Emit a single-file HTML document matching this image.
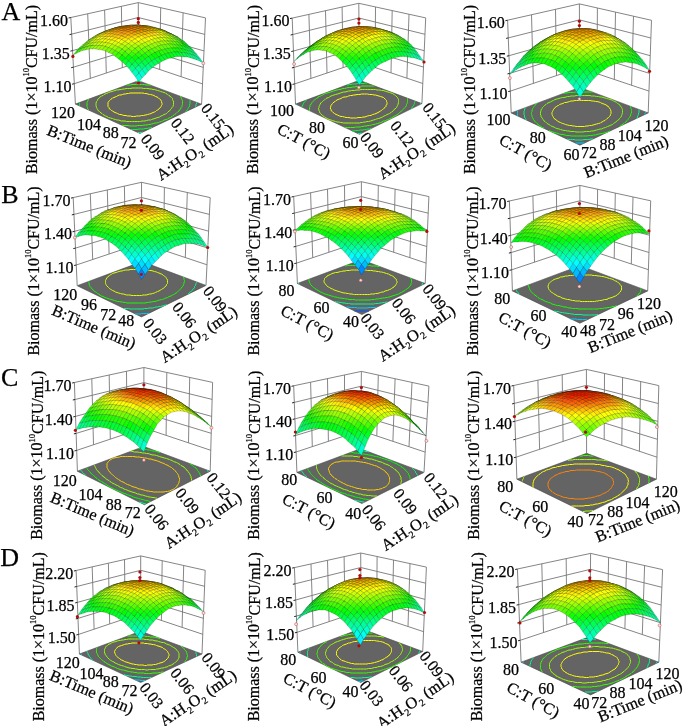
<!DOCTYPE html><html><head><meta charset="utf-8"><style>
html,body{margin:0;padding:0;background:#fff;}
svg{display:block;filter:blur(0.4px);}
text{font-family:"Liberation Serif",serif;fill:#000;stroke:#000;stroke-width:0.25px;}
</style></head><body>
<svg width="685" height="726" viewBox="0 0 685 726">
<rect width="685" height="726" fill="#fff"/>
<!-- A1 -->
<g stroke="#777" stroke-width="0.9" fill="none"><polyline points="74.3,83.7 138.4,62.3 202.5,83.9"/><polyline points="73.4,67.2 138.3,47.4 203.3,67.4"/><polyline points="72.6,50.6 138.3,32.5 204,50.9"/><polyline points="71.7,34.1 138.3,17.5 204.8,34.4"/><polyline points="70.8,17.5 138.3,2.6 205.5,17.9"/><line x1="122.3" y1="67.7" x2="121.4" y2="6.3"/><line x1="106.3" y1="73" x2="104.6" y2="10"/><line x1="90.3" y1="78.4" x2="87.7" y2="13.8"/><line x1="159.7" y1="69.5" x2="160.7" y2="7.7"/><line x1="181.1" y1="76.7" x2="183.1" y2="12.8"/><line x1="75.4" y1="104.1" x2="70.8" y2="17.5"/><line x1="138.4" y1="80.7" x2="138.3" y2="2.6"/><line x1="201.6" y1="104.2" x2="205.5" y2="17.9"/></g>
<g stroke="#222" stroke-width="1"><line x1="72.1" y1="84.2" x2="74.3" y2="83.7"/><line x1="71.2" y1="67.7" x2="73.4" y2="67.2"/><line x1="70.4" y1="51.1" x2="72.6" y2="50.6"/><line x1="69.5" y1="34.6" x2="71.7" y2="34.1"/><line x1="68.6" y1="18" x2="70.8" y2="17.5"/></g>
<polygon points="138.4,80.7 75.4,104.1 139.9,133.4 201.6,104.2" fill="#646464" stroke="#444" stroke-width="0.6"/>
<g transform="scale(.5)" fill="none" stroke-width="2.0"><path d="M302 227l4 -2 3 -1 2 -1 2 -2 2 -1 2 -1 1 -2 2 -1 1 -1 1 -2 1 -1 0 -1 1 -2 0 -1 0 -1 0 -1 -1 -2 0 -1 -1 -1 0 -2 -1 -1 -2 -1 -2 -2 -1 -1 -2 -1 -3 -1 -3 -2 -3 -1 -4 -1 -2 0 -3 -1 -4 -1 -3 0 -3 -1 -3 0 -3 0 -4 0 -2 0 -4 0 -2 0 -4 0 -4 0 -3 1 -3 0 -3 1 -3 0 -3 1 -3 1 -3 0 -3 1 -3 2 -3 1 -2 1 -3 1 -1 1 -3 2 -1 1 -1 1 -1 1 -1 2 -1 1 0 1 0 2 0 1 0 1 0 2 0 1 1 1 1 1 0 2 2 1 1 1 2 2 2 1 3 2 2 1 3 1 2 1 4 2 3 0 3 1 3 1 4 0 3 1 3 0 3 0 3 1 3 0 3 0 3 -1 4 0 3 0 3 -1 4 0 3 -1 2 0 3 -1 4 -1 3 -1 0 0" stroke="#ffff00"/><path d="M312 236l4 -1 3 -1 3 -2 3 -1 3 -2 3 -1 2 -1 2 -2 1 -1 2 -2 2 -1 1 -2 1 -1 1 -1 1 -2 1 -1 1 -1 0 -1 1 -2 0 -1 0 -1 0 -2 0 -1 0 -1 0 -2 -1 -1 0 -1 -1 -1 0 -2 -1 -1 -1 -1 -2 -1 -1 -2 -2 -1 -1 -1 -2 -1 -3 -2 -1 -1 -3 -1 -3 -1 -4 -1 -2 -1 -4 -1 -3 -1 -3 -1 -3 0 -3 -1 -3 0 -4 -1 -3 0 -2 0 -4 0 -4 -1 -2 0 -4 0 -3 0 -3 0 -3 0 -4 0 -2 1 -3 0 -4 0 -3 0 -3 1 -3 0 -3 1 -3 0 -4 1 -3 0 -3 1 -3 1 -3 1 -4 1 -3 1 -1 1 -3 1 -3 1 -3 2 -1 1 -3 1 -1 1 -2 1 -1 1 -1 2 -2 1 -1 1 0 2 -1 1 -1 1 0 1 -1 2 0 1 0 1 0 1 0 2 0 1 1 2 0 1 1 1 0 1 1 2 1 1 1 2 2 1 1 1 2 2 2 1 2 2 2 1 3 2 3 1 3 2 4 1 4 1 2 1 4 1 3 1 3 0 3 1 3 1 3 0 4 0 3 1 3 0 3 0 4 0 2 0 4 0 3 0 3 0 4 0 2 0 3 -1 3 0 3 0 3 -1 4 -1 4 0 2 -1 3 -1 4 -1 2 -1" stroke="#99ff00"/><path d="M301 170l-3 0 -3 0 -3 0 -3 -1 -4 0 -2 0 -4 0 -3 0 -3 0 -3 0 -4 0 -2 0 -3 1 -4 0 -3 0 -1 0" stroke="#33ff00"/><path d="M177 198l-1 2 0 1 -1 1 0 1 -1 2 0 1 0 1 0 1 0 2 0 1 0 2 0 1 1 1 0 2 1 1 1 1 0 1" stroke="#33ff00"/><path d="M244 250l2 1 4 0 4 0 2 0 4 1 3 0 3 0 3 0 3 0 3 -1 4 0 3 0 3 0 3 -1 3 0 3 0 3 -1 3 0 3 -1 4 -1 3 -1 3 0 4 -1 2 -1 4 -1 2 -1 3 -2 4 -1 3 -1 3 -2 3 -1 3 -2 1 -1 3 -2 1 -1 3 -2 1 -1 1 -1 2 -2 2 -1 1 -2 1 -1 1 -1 1 -2 0 -1 1 -1 1 -1 0 -2 1 -2 0 -1 0 -1 0 -1 0 -2 0 -1 0 -1 0 -1 -1 -2 0 -1 -1 -1 -1 -1 0 -2 -1 -1 -1 -1" stroke="#33ff00"/><path d="M282 163l-4 0 -3 0 -3 0" stroke="#00ff33"/><path d="M159 205l0 2 0 1 0 1 0 2 0 1" stroke="#00ff33"/><path d="M371 223l2 -1 1 -2 1 -1 1 -1 0 -1 1 -2 1 -1 1 -2 0 -1 0 -1 1 -2 0 -1 0 -1 0 -2 0 -1 0 -1 0 -1 0 -1" stroke="#00ff33"/><path d="M262 259l3 0 3 0 4 0 2 0 4 -1 3 0 3 0 3 0 3 -1 4 0 3 -1 3 0 3 -1 1 0" stroke="#00ff33"/><path d="M391 214l0 -1 1 -1 0 -2 0 -1 1 -1 0 -2 0 -1 0 0" stroke="#00ff99"/><path d="M276 265l3 0 4 0 2 -1" stroke="#00ff99"/></g>
<g transform="scale(.5)" stroke="#000" stroke-opacity="0.42" stroke-width="0.8" stroke-linejoin="round"><path fill="#0f8" d="M277 70l6-2-6-3-7 3z"/><path fill="#0f6" d="M283 68l7-3-7-2-6 2zM270 68l7-3-7-3-7 3z"/><path fill="#0f4" d="M290 65l6-1-6-3-7 2z"/><path fill="#0f3" d="M263 65l7-3-7-2-6 3zM277 65l6-2-6-3-7 2z"/><path fill="#0f1" d="M296 64l7-1-7-3-6 1zM257 63l6-3-6-1-7 3zM283 63l7-2-7-3-6 2z"/><path fill="#0f0" d="M270 62l7-2-7-2-7 2zM303 63l7-1-7-3-7 1z"/><path fill="#2f0" d="M250 62l7-3-7-1-6 3zM290 61l6-1-6-3-7 1zM263 60l7-2-7-1-6 2zM277 60l6-2-6-2-7 2zM310 62l6 0-6-3-7 0z"/><path fill="#4f0" d="M244 61l6-3-7 0-6 3z"/><path fill="#3f0" d="M296 60l7-1-7-3-6 1z"/><path fill="#4f0" d="M257 59l6-2-6-1-7 2zM283 58l7-1-7-2-6 1z"/><path fill="#5f0" d="M270 58l7-2-7-1-7 2z"/><path fill="#3f0" d="M316 62l7 1-7-4-6 0z"/><path fill="#5f0" d="M237 61l6-3-6 0-7 3zM303 59l7 0-7-3-7 0z"/><path fill="#7f0" d="M250 58l7-2-7-1-7 3z"/><path fill="#6f0" d="M290 57l6-1-6-2-7 1z"/><path fill="#7f0" d="M263 57l7-2-7-1-6 2zM277 56l6-1-6-2-7 2z"/><path fill="#4f0" d="M323 63l6 1-6-3-7-2z"/><path fill="#7f0" d="M230 61l7-3-7 0-6 3z"/><path fill="#6f0" d="M310 59l6 0-6-2-7-1z"/><path fill="#8f0" d="M243 58l7-3-7 0-6 3zM296 56l7 0-6-2-7 0z"/><path fill="#9f0" d="M257 56l6-2-6-1-7 2zM283 55l7-1-7-1-6 0z"/><path fill="#af0" d="M270 55l7-2-7-1-7 2z"/><path fill="#4f0" d="M329 64l7 2-6-4-7-1z"/><path fill="#8f0" d="M224 61l6-3-7 1-6 3z"/><path fill="#7f0" d="M316 59l7 2-7-3-6-1z"/><path fill="#af0" d="M237 58l6-3-6 0-7 3z"/><path fill="#9f0" d="M303 56l7 1-7-2-6-1z"/><path fill="#bf0" d="M250 55l7-2-7 0-7 2zM290 54l7 0-7-2-7 1z"/><path fill="#cf0" d="M263 54l7-2-7 0-6 1zM277 53l6 0-6-2-7 1z"/><path fill="#4f0" d="M336 66l7 2-7-3-6-3z"/><path fill="#9f0" d="M217 62l6-3-6 2-7 3z"/><path fill="#8f0" d="M323 61l7 1-7-3-7-1z"/><path fill="#bf0" d="M230 58l7-3-7 1-7 3z"/><path fill="#af0" d="M310 57l6 1-6-2-7-1z"/><path fill="#df0" d="M243 55l7-2-7 0-6 2z"/><path fill="#cf0" d="M297 54l6 1-6-2-7-1z"/><path fill="#df0" d="M257 53l6-1-6-1-7 2zM283 53l7-1-7-1-6 0z"/><path fill="#ef0" d="M270 52l7-1-7 0-7 1z"/><path fill="#4f0" d="M343 68l6 3-6-3-7-3z"/><path fill="#9f0" d="M210 64l7-3-7 2-6 3z"/><path fill="#8f0" d="M330 62l6 3-6-3-7-3z"/><path fill="#cf0" d="M223 59l7-3-7 2-6 3z"/><path fill="#af0" d="M316 58l7 1-7-2-6-1z"/><path fill="#ef0" d="M237 55l6-2-6 1-7 2z"/><path fill="#df0" d="M303 55l7 1-7-2-6-1z"/><path fill="#3f0" d="M349 71l7 3-7-3-6-3z"/><path fill="#ff0" d="M250 53l7-2-7 1-7 1z"/><path fill="#ef0" d="M290 52l7 1-7-2-7 0z"/><path fill="#ff0" d="M263 52l7-1-7 0-6 0zM277 51l6 0-6-1-7 1z"/><path fill="#af0" d="M204 66l6-3-6 2-7 4z"/><path fill="#7f0" d="M336 65l7 3-7-3-6-3z"/><path fill="#cf0" d="M217 61l6-3-6 2-7 3z"/><path fill="#af0" d="M323 59l7 3-7-3-7-2z"/><path fill="#2f0" d="M356 74l6 5-6-4-7-4z"/><path fill="#ef0" d="M230 56l7-2-7 2-7 2z"/><path fill="#df0" d="M310 56l6 1-6-2-7-1z"/><path fill="#fe0" d="M243 53l7-1-7 1-6 1z"/><path fill="#ff0" d="M297 53l6 1-6-2-7-1z"/><path fill="#fd0" d="M257 51l6 0-6 0-7 1z"/><path fill="#9f0" d="M197 69l7-4-7 3-6 4z"/><path fill="#fe0" d="M283 51l7 0-7 0-6-1z"/><path fill="#fd0" d="M270 51l7-1-7 0-7 1z"/><path fill="#6f0" d="M343 68l6 3-6-3-7-3z"/><path fill="#cf0" d="M210 63l7-3-7 3-6 2z"/><path fill="#af0" d="M330 62l6 3-6-3-7-3z"/><path fill="#1f0" d="M362 79l7 4-7-3-6-5z"/><path fill="#ff0" d="M223 58l7-2-7 2-6 2z"/><path fill="#df0" d="M316 57l7 2-7-1-6-3z"/><path fill="#9f0" d="M191 72l6-4-7 4-6 4z"/><path fill="#fd0" d="M237 54l6-1-6 1-7 2z"/><path fill="#fe0" d="M303 54l7 1-7-1-6-2z"/><path fill="#5f0" d="M349 71l7 4-7-3-6-4z"/><path fill="#fc0" d="M250 52l7-1-7 1-7 1z"/><path fill="#fd0" d="M290 51l7 1-7 0-7-1z"/><path fill="#fb0" d="M263 51l7-1-7 0-6 1z"/><path fill="#fc0" d="M277 50l6 1-6-1-7 0z"/><path fill="#0f1" d="M369 83l6 6-6-3-7-6z"/><path fill="#cf0" d="M204 65l6-2-7 3-6 2z"/><path fill="#9f0" d="M336 65l7 3-7-2-6-4z"/><path fill="#ff0" d="M217 60l6-2-6 2-7 3z"/><path fill="#df0" d="M323 59l7 3-7-2-7-2z"/><path fill="#8f0" d="M184 76l6-4-6 4-7 4z"/><path fill="#4f0" d="M356 75l6 5-6-3-7-5z"/><path fill="#fd0" d="M230 56l7-2-7 2-7 2z"/><path fill="#fe0" d="M310 55l6 3-6-2-7-2z"/><path fill="#0f3" d="M375 89l7 6-7-3-6-6z"/><path fill="#fb0" d="M243 53l7-1-7 1-6 1z"/><path fill="#fc0" d="M297 52l6 2-6-1-7-1z"/><path fill="#fa0" d="M257 51l6-1-7 1-6 1z"/><path fill="#cf0" d="M197 68l6-2-6 3-7 3z"/><path fill="#fb0" d="M283 51l7 1-7-1-6-1z"/><path fill="#8f0" d="M343 68l6 4-6-2-7-4z"/><path fill="#fa0" d="M270 50l7 0-7 1-7-1z"/><path fill="#ff0" d="M210 63l7-3-7 3-7 3z"/><path fill="#2f0" d="M362 80l7 6-7-3-6-6z"/><path fill="#cf0" d="M330 62l6 4-6-2-7-4z"/><path fill="#7f0" d="M177 80l7-4-7 5-6 4z"/><path fill="#0f5" d="M382 95l6 7-6-4-7-6z"/><path fill="#fd0" d="M223 58l7-2-7 3-6 1z"/><path fill="#ff0" d="M316 58l7 2-7-1-6-3z"/><path fill="#7f0" d="M349 72l7 5-7-2-6-5z"/><path fill="#bf0" d="M190 72l7-3-7 5-6 2z"/><path fill="#fb0" d="M237 54l6-1-7 2-6 1z"/><path fill="#fc0" d="M303 54l7 2-7-1-6-2z"/><path fill="#fa0" d="M250 52l6-1-6 2-7 0z"/><path fill="#fb0" d="M290 52l7 1-7 0-7-2z"/><path fill="#f90" d="M263 50l7 1-7 1-7-1z"/><path fill="#fa0" d="M277 50l6 1-7 1-6-1z"/><path fill="#0f0" d="M369 86l6 6-6-3-7-6z"/><path fill="#6f0" d="M171 85l6-4-6 6-6 3z"/><path fill="#0f7" d="M388 102l6 7-6-3-6-8z"/><path fill="#bf0" d="M336 66l7 4-7-2-6-4z"/><path fill="#ef0" d="M203 66l7-3-7 4-6 2zM323 60l7 4-7-2-7-3z"/><path fill="#fd0" d="M217 60l6-1-6 3-7 1z"/><path fill="#5f0" d="M356 77l6 6-6-3-7-5z"/><path fill="#af0" d="M184 76l6-2-6 4-7 3z"/><path fill="#fd0" d="M310 56l6 3-6-1-7-3z"/><path fill="#fb0" d="M230 56l6-1-6 3-7 1z"/><path fill="#0f2" d="M375 92l7 6-7-2-6-7z"/><path fill="#0f9" d="M394 109l7 9-7-4-6-8z"/><path fill="#5f0" d="M165 90l6-3-6 6-7 3z"/><path fill="#fb0" d="M297 53l6 2-6 0-7-2z"/><path fill="#f90" d="M243 53l7 0-7 2-7 0z"/><path fill="#9f0" d="M343 70l6 5-6-2-7-5z"/><path fill="#df0" d="M197 69l6-2-6 4-7 3z"/><path fill="#f90" d="M283 51l7 2-7 0-7-1zM256 51l7 1-7 1-6 0zM270 51l6 1-6 0-7 0z"/><path fill="#2f0" d="M362 83l7 6-6-3-7-6z"/><path fill="#df0" d="M330 64l6 4-6-1-7-5z"/><path fill="#0fb" d="M401 118l6 8-6-3-7-9z"/><path fill="#9f0" d="M177 81l7-3-7 6-6 3z"/><path fill="#fe0" d="M210 63l7-1-7 3-7 2z"/><path fill="#0f5" d="M382 98l6 8-6-3-7-7z"/><path fill="#3f0" d="M158 96l7-3-7 6-6 4z"/><path fill="#fe0" d="M316 59l7 3-7 0-6-4z"/><path fill="#fb0" d="M223 59l7-1-7 3-6 1z"/><path fill="#7f0" d="M349 75l7 5-7-2-6-5z"/><path fill="#cf0" d="M190 74l7-3-7 5-6 2z"/><path fill="#fb0" d="M303 55l7 3-7 0-6-3z"/><path fill="#f90" d="M236 55l7 0-7 2-6 1zM290 53l7 2-7 0-7-2z"/><path fill="#0f0" d="M369 89l6 7-6-3-6-7z"/><path fill="#f80" d="M250 53l6 0-6 2-7 0z"/><path fill="#0f7" d="M388 106l6 8-6-3-6-8z"/><path fill="#f80" d="M276 52l7 1-7 1-6-2zM263 52l7 0-7 2-7-1z"/><path fill="#7f0" d="M171 87l6-3-6 6-6 3z"/><path fill="#bf0" d="M336 68l7 5-7-2-6-4z"/><path fill="#ff0" d="M203 67l7-2-7 5-6 1z"/><path fill="#2f0" d="M152 103l6-4-6 8-6 3z"/><path fill="#ff0" d="M323 62l7 5-7-1-7-4z"/><path fill="#5f0" d="M356 80l7 6-7-2-7-6z"/><path fill="#fc0" d="M217 62l6-1-6 3-7 1z"/><path fill="#bf0" d="M184 78l6-2-6 5-7 3z"/><path fill="#0fa" d="M394 114l7 9-7-3-6-9z"/><path fill="#0f3" d="M375 96l7 7-7-2-6-8z"/><path fill="#fc0" d="M310 58l6 4-6-1-7-3z"/><path fill="#fa0" d="M230 58l6-1-6 3-7 1z"/><path fill="#5f0" d="M165 93l6-3-6 6-7 3z"/><path fill="#fa0" d="M297 55l6 3-6 0-7-3z"/><path fill="#9f0" d="M343 73l6 5-6-1-7-6z"/><path fill="#f80" d="M243 55l7 0-7 2-7 0z"/><path fill="#ef0" d="M197 71l6-1-6 4-7 2z"/><path fill="#f80" d="M283 53l7 2-7 1-7-2zM256 53l7 1-7 1-6 0zM270 52l6 2-6 1-7-1z"/><path fill="#2f0" d="M363 86l6 7-7-2-6-7z"/><path fill="#0f5" d="M382 103l6 8-6-2-7-8z"/><path fill="#df0" d="M330 67l6 4-6-1-7-4z"/><path fill="#9f0" d="M177 84l7-3-7 6-6 3z"/><path fill="#fd0" d="M210 65l7-1-7 4-7 2z"/><path fill="#3f0" d="M158 99l7-3-7 8-6 3z"/><path fill="#fe0" d="M316 62l7 4-7-1-6-4z"/><path fill="#fa0" d="M223 61l7-1-7 4-6 0z"/><path fill="#7f0" d="M349 78l7 6-7-1-6-6z"/><path fill="#df0" d="M190 76l7-2-7 6-6 1z"/><path fill="#fb0" d="M303 58l7 3-7 0-6-3z"/><path fill="#f90" d="M236 57l7 0-7 3-6 0z"/><path fill="#0f1" d="M369 93l6 8-6-2-7-8z"/><path fill="#0f8" d="M388 111l6 9-6-2-6-9z"/><path fill="#f90" d="M290 55l7 3-7 1-7-3z"/><path fill="#f80" d="M250 55l6 0-6 3-7-1zM276 54l7 2-7 1-6-2z"/><path fill="#f70" d="M263 54l7 1-7 2-7-2z"/><path fill="#7f0" d="M171 90l6-3-6 7-6 2z"/><path fill="#bf0" d="M336 71l7 6-7-1-6-6z"/><path fill="#fe0" d="M203 70l7-2-7 5-6 1z"/><path fill="#4f0" d="M356 84l6 7-6-1-7-7z"/><path fill="#ff0" d="M323 66l7 4-7 0-7-5z"/><path fill="#fc0" d="M217 64l6 0-6 4-7 0z"/><path fill="#0f4" d="M375 101l7 8-7-2-6-8z"/><path fill="#bf0" d="M184 81l6-1-6 6-7 1z"/><path fill="#fc0" d="M310 61l6 4-6 0-7-4z"/><path fill="#fa0" d="M230 60l6 0-6 4-7 0z"/><path fill="#5f0" d="M165 96l6-2-6 7-7 3z"/><path fill="#8f0" d="M343 77l6 6-6-1-7-6z"/><path fill="#fa0" d="M297 58l6 3-6 1-7-3z"/><path fill="#f80" d="M243 57l7 1-7 3-7-1z"/><path fill="#ef0" d="M197 74l6-1-6 6-7 1z"/><path fill="#f80" d="M283 56l7 3-7 1-7-3z"/><path fill="#f70" d="M256 55l7 2-7 2-6-1z"/><path fill="#f80" d="M270 55l6 2-6 2-7-2z"/><path fill="#1f0" d="M362 91l7 8-7-2-6-7z"/><path fill="#0f7" d="M382 109l6 9-6-2-7-9z"/><path fill="#cf0" d="M330 70l6 6-6-1-7-5z"/><path fill="#9f0" d="M177 87l7-1-7 6-6 2z"/><path fill="#fd0" d="M210 68l7 0-7 5-7 0z"/><path fill="#fe0" d="M316 65l7 5-7 0-6-5z"/><path fill="#6f0" d="M349 83l7 7-7-1-6-7z"/><path fill="#fb0" d="M223 64l7 0-7 4-6 0z"/><path fill="#0f2" d="M369 99l6 8-6-2-7-8z"/><path fill="#cf0" d="M190 80l7-1-7 6-6 1z"/><path fill="#fb0" d="M303 61l7 4-7 1-6-4z"/><path fill="#f90" d="M236 60l7 1-7 3-6 0zM290 59l7 3-7 1-7-3z"/><path fill="#f80" d="M250 58l6 1-6 3-7-1z"/><path fill="#af0" d="M336 76l7 6-7 0-6-7z"/><path fill="#6f0" d="M171 94l6-2-6 8-6 1z"/><path fill="#f80" d="M276 57l7 3-7 2-6-3zM263 57l7 2-7 2-7-2z"/><path fill="#ff0" d="M203 73l7 0-7 5-6 1z"/><path fill="#3f0" d="M356 90l6 7-6-1-7-7z"/><path fill="#ef0" d="M323 70l7 5-7 0-7-5z"/><path fill="#0f5" d="M375 107l7 9-7-2-6-9z"/><path fill="#fc0" d="M217 68l6 0-6 5-7 0z"/><path fill="#af0" d="M184 86l6-1-6 6-7 1z"/><path fill="#fd0" d="M310 65l6 5-6 1-7-5z"/><path fill="#fa0" d="M230 64l6 0-6 5-7-1z"/><path fill="#7f0" d="M343 82l6 7-6-1-7-6z"/><path fill="#fb0" d="M297 62l6 4-6 1-7-4z"/><path fill="#f90" d="M243 61l7 1-7 4-7-2z"/><path fill="#0f1" d="M362 97l7 8-7 0-6-9z"/><path fill="#df0" d="M197 79l6-1-6 6-7 1z"/><path fill="#f90" d="M283 60l7 3-7 2-7-3z"/><path fill="#f80" d="M256 59l7 2-7 3-6-2zM270 59l6 3-6 2-7-3z"/><path fill="#bf0" d="M330 75l6 7-6 0-7-7z"/><path fill="#7f0" d="M177 92l7-1-6 7-7 2z"/><path fill="#fe0" d="M210 73l7 0-7 5-7 0z"/><path fill="#4f0" d="M349 89l7 7-7 0-6-8z"/><path fill="#ef0" d="M316 70l7 5-7 1-6-5z"/><path fill="#0f4" d="M369 105l6 9-6 0-7-9z"/><path fill="#fc0" d="M223 68l7 1-7 4-6 0z"/><path fill="#fd0" d="M303 66l7 5-7 1-6-5z"/><path fill="#bf0" d="M190 85l7-1-6 7-7 0z"/><path fill="#fa0" d="M236 64l7 2-7 4-6-1z"/><path fill="#fb0" d="M290 63l7 4-7 2-7-4z"/><path fill="#8f0" d="M336 82l7 6-7 0-6-6z"/><path fill="#f90" d="M250 62l6 2-6 4-7-2z"/><path fill="#fa0" d="M276 62l7 3-7 2-6-3z"/><path fill="#f90" d="M263 61l7 3-7 3-7-3z"/><path fill="#ef0" d="M203 78l7 0-6 6-7 0z"/><path fill="#1f0" d="M356 96l6 9-6-1-7-8z"/><path fill="#cf0" d="M323 75l7 7-7 0-7-6z"/><path fill="#fe0" d="M217 73l6 0-6 6-7-1z"/><path fill="#8f0" d="M184 91l7 0-7 7-6 0z"/><path fill="#ff0" d="M310 71l6 5-6 1-7-5z"/><path fill="#5f0" d="M343 88l6 8-6 0-7-8z"/><path fill="#fc0" d="M230 69l6 1-6 5-7-2z"/><path fill="#fd0" d="M297 67l6 5-6 2-7-5z"/><path fill="#0f3" d="M362 105l7 9-7-1-6-9z"/><path fill="#fa0" d="M243 66l7 2-7 4-7-2z"/><path fill="#bf0" d="M197 84l7 0-7 7-6 0z"/><path fill="#fb0" d="M283 65l7 4-7 2-7-4z"/><path fill="#fa0" d="M256 64l7 3-7 3-6-2zM270 64l6 3-6 3-7-3z"/><path fill="#9f0" d="M330 82l6 6-6 1-7-7z"/><path fill="#ef0" d="M210 78l7 1-7 6-6-1z"/><path fill="#1f0" d="M349 96l7 8-7 0-6-8z"/><path fill="#cf0" d="M316 76l7 6-7 2-6-7z"/><path fill="#fe0" d="M223 73l7 2-7 5-6-1z"/><path fill="#ff0" d="M303 72l7 5-7 2-6-5z"/><path fill="#9f0" d="M191 91l6 0-6 7-7 0z"/><path fill="#fc0" d="M236 70l7 2-6 5-7-2z"/><path fill="#6f0" d="M336 88l7 8-7 1-6-8z"/><path fill="#fd0" d="M290 69l7 5-7 2-7-5z"/><path fill="#fb0" d="M250 68l6 2-6 5-7-3z"/><path fill="#fc0" d="M276 67l7 4-6 3-7-4z"/><path fill="#fb0" d="M263 67l7 3-7 4-7-4z"/><path fill="#0f2" d="M356 104l6 9-6 0-7-9z"/><path fill="#cf0" d="M204 84l6 1-6 6-7 0z"/><path fill="#9f0" d="M323 82l7 7-7 1-7-6z"/><path fill="#ef0" d="M217 79l6 1-6 6-7-1z"/><path fill="#cf0" d="M310 77l6 7-6 1-7-6z"/><path fill="#2f0" d="M343 96l6 8-6 1-7-8z"/><path fill="#fe0" d="M230 75l7 2-7 5-7-2z"/><path fill="#ff0" d="M297 74l6 5-6 3-7-6z"/><path fill="#fd0" d="M243 72l7 3-7 4-6-2z"/><path fill="#9f0" d="M197 91l7 0-7 8-6-1z"/><path fill="#fe0" d="M283 71l7 5-7 3-6-5z"/><path fill="#fc0" d="M256 70l7 4-6 4-7-3z"/><path fill="#fd0" d="M270 70l7 4-7 4-7-4z"/><path fill="#6f0" d="M330 89l6 8-6 1-7-8z"/><path fill="#0f2" d="M349 104l7 9-7 1-6-9z"/><path fill="#cf0" d="M210 85l7 1-7 7-6-2z"/><path fill="#9f0" d="M316 84l7 6-7 2-6-7z"/><path fill="#ef0" d="M223 80l7 2-6 6-7-2z"/><path fill="#cf0" d="M303 79l7 6-7 3-6-6z"/><path fill="#2f0" d="M336 97l7 8-7 1-6-8z"/><path fill="#ff0" d="M237 77l6 2-6 6-7-3z"/><path fill="#ef0" d="M290 76l7 6-7 3-7-6z"/><path fill="#fe0" d="M250 75l7 3-7 5-7-4z"/><path fill="#ff0" d="M277 74l6 5-6 4-7-5z"/><path fill="#fe0" d="M263 74l7 4-7 4-6-4z"/><path fill="#9f0" d="M204 91l6 2-6 7-7-1z"/><path fill="#6f0" d="M323 90l7 8-7 2-7-8z"/><path fill="#bf0" d="M217 86l7 2-7 7-7-2z"/><path fill="#0f1" d="M343 105l6 9-6 2-7-10z"/><path fill="#9f0" d="M310 85l6 7-6 3-7-7z"/><path fill="#df0" d="M230 82l7 3-7 6-6-3z"/><path fill="#bf0" d="M297 82l6 6-6 3-7-6z"/><path fill="#ef0" d="M243 79l7 4-7 5-6-3z"/><path fill="#df0" d="M283 79l7 6-7 3-6-5z"/><path fill="#2f0" d="M330 98l6 8-6 2-7-8z"/><path fill="#ef0" d="M257 78l6 4-6 5-7-4zM270 78l7 5-7 4-7-5z"/><path fill="#8f0" d="M210 93l7 2-6 7-7-2z"/><path fill="#6f0" d="M316 92l7 8-6 2-7-7z"/><path fill="#af0" d="M224 88l6 3-6 7-7-3z"/><path fill="#8f0" d="M303 88l7 7-7 3-6-7z"/><path fill="#0f1" d="M336 106l7 10-7 1-6-9z"/><path fill="#cf0" d="M237 85l6 3-6 6-7-3z"/><path fill="#af0" d="M290 85l7 6-7 3-7-6z"/><path fill="#cf0" d="M250 83l7 4-7 5-7-4zM277 83l6 5-6 4-7-5zM263 82l7 5-7 5-6-5z"/><path fill="#2f0" d="M323 100l7 8-7 3-6-9z"/><path fill="#7f0" d="M217 95l7 3-7 7-6-3z"/><path fill="#5f0" d="M310 95l7 7-7 3-7-7z"/><path fill="#9f0" d="M230 91l7 3-7 7-6-3z"/><path fill="#7f0" d="M297 91l6 7-6 3-7-7z"/><path fill="#0f2" d="M330 108l6 9-6 3-7-9z"/><path fill="#af0" d="M243 88l7 4-6 6-7-4z"/><path fill="#9f0" d="M283 88l7 6-7 5-6-7z"/><path fill="#af0" d="M257 87l6 5-6 5-7-5zM270 87l7 5-7 5-7-5z"/><path fill="#1f0" d="M317 102l6 9-6 3-7-9z"/><path fill="#4f0" d="M303 98l7 7-7 4-6-8z"/><path fill="#6f0" d="M224 98l6 3-6 7-7-3zM290 94l7 7-7 5-7-7z"/><path fill="#7f0" d="M237 94l7 4-7 7-7-4zM277 92l6 7-6 5-7-7z"/><path fill="#8f0" d="M250 92l7 5-7 6-6-5zM263 92l7 5-6 6-7-6z"/><path fill="#0f2" d="M323 111l7 9-7 3-6-9z"/><path fill="#0f0" d="M310 105l7 9-7 4-7-9z"/><path fill="#3f0" d="M297 101l6 8-6 4-7-7z"/><path fill="#4f0" d="M230 101l7 4-6 8-7-5zM283 99l7 7-6 5-7-7z"/><path fill="#5f0" d="M244 98l6 5-6 7-7-5zM270 97l7 7-7 5-6-6z"/><path fill="#6f0" d="M257 97l7 6-7 6-7-6z"/><path fill="#0f3" d="M317 114l6 9-6 4-7-9z"/><path fill="#0f1" d="M303 109l7 9-7 4-6-9z"/><path fill="#1f0" d="M290 106l7 7-7 5-6-7z"/><path fill="#3f0" d="M237 105l7 5-7 8-6-5z"/><path fill="#2f0" d="M277 104l7 7-7 5-7-7z"/><path fill="#3f0" d="M250 103l7 6-6 7-7-6zM264 103l6 6-6 6-7-6z"/><path fill="#0f5" d="M310 118l7 9-7 4-7-9z"/><path fill="#0f3" d="M297 113l6 9-6 5-7-9z"/><path fill="#0f1" d="M284 111l6 7-6 6-7-8z"/><path fill="#0f0" d="M244 110l7 6-7 7-7-5zM270 109l7 7-7 6-6-7zM257 109l7 6-7 7-6-6z"/><path fill="#0f6" d="M303 122l7 9-6 5-7-9z"/><path fill="#0f4" d="M290 118l7 9-7 6-6-9z"/><path fill="#0f3" d="M277 116l7 8-7 6-7-8z"/><path fill="#0f2" d="M251 116l6 6-6 8-7-7zM264 115l6 7-6 7-7-7z"/><path fill="#0f8" d="M297 127l7 9-7 6-7-9z"/><path fill="#0f6" d="M284 124l6 9-6 6-7-9z"/><path fill="#0f5" d="M270 122l7 8-6 7-7-8zM257 122l7 7-6 8-7-7z"/><path fill="#0fa" d="M290 133l7 9-6 7-7-10z"/><path fill="#0f9" d="M277 130l7 9-6 7-7-9z"/><path fill="#0f8" d="M264 129l7 8-7 8-6-8z"/><path fill="#0fc" d="M284 139l7 10-7 7-6-10z"/><path fill="#0fb" d="M271 137l7 9-7 8-7-9z"/><path fill="#0fd" d="M278 146l6 10-6 8-7-10z"/></g>
<circle cx="138.3" cy="18.7" r="1.6" fill="#b00c0c"/><circle cx="138.3" cy="22.4" r="1.6" fill="#b00c0c"/><circle cx="72.9" cy="56.4" r="1.6" fill="#b00c0c"/><circle cx="203.3" cy="63.3" r="1.5" fill="#f6dede" stroke="#c04848" stroke-width="0.5"/><circle cx="138.5" cy="83" r="1.6" fill="#b00c0c"/>
<!-- A2 -->
<g stroke="#777" stroke-width="0.9" fill="none"><polyline points="294.7,83.9 359.2,62.2 422.8,83.5"/><polyline points="294.1,67.4 359.1,47.5 423.5,67.1"/><polyline points="293.5,51 359,32.8 424.2,50.7"/><polyline points="292.8,34.5 358.9,18 425,34.3"/><polyline points="292.2,18.1 358.8,3.3 425.7,17.9"/><line x1="343.1" y1="67.6" x2="342.1" y2="7"/><line x1="327" y1="73.1" x2="325.5" y2="10.7"/><line x1="310.9" y1="78.5" x2="308.9" y2="14.4"/><line x1="375.1" y1="67.5" x2="375.5" y2="7"/><line x1="391" y1="72.8" x2="392.2" y2="10.6"/><line x1="406.9" y1="78.2" x2="409" y2="14.2"/><line x1="295.5" y1="104.1" x2="292.2" y2="18.1"/><line x1="359.4" y1="80.3" x2="358.8" y2="3.3"/><line x1="421.9" y1="103.6" x2="425.7" y2="17.9"/></g>
<g stroke="#222" stroke-width="1"><line x1="292.5" y1="84.4" x2="294.7" y2="83.9"/><line x1="291.9" y1="67.9" x2="294.1" y2="67.4"/><line x1="291.3" y1="51.5" x2="293.5" y2="51"/><line x1="290.6" y1="35" x2="292.8" y2="34.5"/><line x1="290" y1="18.6" x2="292.2" y2="18.1"/></g>
<polygon points="359.4,80.3 295.5,104.1 359.4,134.3 421.9,103.6" fill="#646464" stroke="#444" stroke-width="0.6"/>
<g transform="scale(.5)" fill="none" stroke-width="2.0"><path d="M746 229l3 -1 3 -1 4 -2 2 -1 3 -2 2 -1 2 -2 2 -1 1 -1 1 -2 2 -1 1 -1 0 -2 1 -1 1 -2 0 -1 0 -2 0 -1 -1 -1 0 -2 -1 -1 -1 -1 -1 -1 -2 -2 -1 -1 -3 -1 -3 -1 -3 -1 -4 -1 -3 -1 -3 0 -3 -1 -3 0 -3 0 -4 -1 -2 0 -4 0 -3 0 -3 0 -3 1 -3 0 -3 0 -4 1 -3 0 -3 1 -3 0 -4 1 -2 1 -4 1 -3 0 -3 1 -3 2 -3 1 -3 1 -2 1 -3 2 -1 1 -2 1 -2 2 -1 1 -1 1 -1 2 -1 1 0 1 -1 2 0 1 0 1 0 2 1 1 0 1 1 2 1 1 2 2 2 1 1 1 3 2 3 1 4 2 3 1 3 0 4 1 3 1 3 0 3 0 3 1 3 0 3 0 4 0 2 0 3 -1 4 0 3 0 3 -1 4 0 2 -1 3 -1 4 -1 3 0 3 -2 1 0" stroke="#ffff00"/><path d="M758 237l4 -2 3 -1 3 -2 3 -1 3 -2 3 -1 2 -1 3 -2 1 -1 3 -2 1 -1 1 -2 2 -1 2 -2 1 -1 1 -2 1 -1 0 -1 1 -2 0 -1 1 -2 0 -1 0 -1 0 -1 0 -2 0 -1 0 -1 -1 -2 -1 -1 0 -1 -1 -1 -2 -2 -1 -1 -2 -1 -1 -1 -3 -2 -3 -1 -3 -1 -3 -1 -4 -1 -2 -1 -4 -1 -3 0 -3 -1 -3 0 -3 0 -3 -1 -4 0 -3 0 -3 0 -3 0 -3 0 -4 0 -2 0 -4 0 -3 0 -3 1 -3 0 -4 0 -3 1 -3 0 -3 0 -3 1 -3 0 -3 1 -4 1 -3 0 -3 1 -3 1 -3 1 -3 1 -4 1 -3 1 -3 1 -3 1 -3 2 -2 1 -3 1 -2 1 -2 2 -1 1 -2 1 -2 2 -1 1 -1 1 -2 1 0 2 -1 1 -1 2 -1 1 0 1 0 2 -1 1 0 1 0 1 1 2 0 1 1 2 0 1 1 2 1 1 1 1 2 2 1 1 3 2 1 1 3 2 3 1 3 2 4 1 3 1 3 1 3 1 3 1 4 0 3 1 3 0 3 1 3 0 4 0 2 0 4 0 3 0 4 0 2 0 4 0 3 0 3 0 3 -1 3 0 3 -1 3 0 3 -1 3 0 4 -1 3 -1 3 -1 4 -1 2 -1 4 -1 1 0" stroke="#99ff00"/><path d="M749 172l-2 0 -4 0 -3 0 -3 0 -3 0 -4 0 -2 0 -4 0 -3 1 -3 0 -3 0 -3 0 -3 1 -4 0 -3 1 -3 0 -3 0 -3 1 -4 1 -3 0 -3 1 -3 1 -3 0 -3 1 -4 1 -3 1 -3 1 -3 1 -3 1 -4 1 -3 1 -3 1 -3 2 -2 1 -2 1 -2 1 -3 1 -1 2 -2 1 -2 1 -1 1 -2 2 -1 1 -1 1 -2 2 0 1 -1 1 -1 1 -1 2 -1 1 0 2 0 1 -1 1 0 1 0 2 0 1 0 2 1 1" stroke="#33ff00"/><path d="M689 254l2 1 4 0 3 0 3 0 3 0 4 0 3 -1 2 0 4 0 4 0 2 -1 3 0 3 -1 3 0 4 -1 3 0 4 -1 2 -1 3 0 3 -1 4 -1 3 -1 3 -1 3 -1 3 -2 3 0 3 -2 4 -1 3 -2 3 -1 3 -2 3 -2 2 -1 2 -1 3 -2 1 -1 2 -2 2 -1 2 -2 1 -1 2 -2 1 -1 2 -2 1 -1 1 -1 1 -2 1 -1 0 -2 1 -1 0 -1 1 -2 0 -1 0 -1 0 -2 0 -1 0 -1 0 -2 0 -1" stroke="#33ff00"/><path d="M734 166l-4 0 -2 1 -4 0 -3 0 -3 0 -3 0 -3 1 -3 0 -4 0 -3 1 -3 0 -3 1 -2 0" stroke="#00ff33"/><path d="M613 200l-2 2 -1 1 -1 1 -1 1 -1 2 0 1 -1 1 -1 1 0 2 -1 1 0 1" stroke="#00ff33"/><path d="M822 218l1 -1 1 -2 1 -1 1 -2 1 -1 1 -1 0 -1 1 -2 0 -2 1 -1 0 -1 0 -1" stroke="#00ff33"/><path d="M704 262l4 0 3 -1 3 0 3 0 4 -1 3 0 2 0 3 -1 3 0 3 -1 4 0 3 -1" stroke="#00ff33"/><path d="M722 162l-3 0 -3 0 -3 1" stroke="#00ff99"/><path d="M593 207l0 1 -1 1" stroke="#00ff99"/><path d="M716 267l3 0 4 -1 0 0" stroke="#00ff99"/><path d="M841 209l0 -2 1 -1" stroke="#00ff99"/></g>
<g transform="scale(.5)" stroke="#000" stroke-opacity="0.42" stroke-width="0.8" stroke-linejoin="round"><path fill="#0fe" d="M718 87l7-5-7-3-6 5z"/><path fill="#0fc" d="M712 84l6-5-7-3-6 6z"/><path fill="#0fb" d="M725 82l6-5-6-3-7 5z"/><path fill="#0fa" d="M705 82l6-6-6-2-7 6z"/><path fill="#0f9" d="M718 79l7-5-7-2-7 4z"/><path fill="#0f8" d="M731 77l7-4-7-3-6 4zM698 80l7-6-7-1-6 5z"/><path fill="#0f6" d="M711 76l7-4-7-2-6 4z"/><path fill="#0f5" d="M725 74l6-4-7-2-6 4zM738 73l6-3-6-3-7 3z"/><path fill="#0f6" d="M692 78l6-5-6-1-7 5z"/><path fill="#0f4" d="M705 74l6-4-6-2-7 5z"/><path fill="#0f3" d="M718 72l6-4-6-2-7 4z"/><path fill="#0f2" d="M744 70l7-2-7-3-6 2zM731 70l7-3-7-2-7 3z"/><path fill="#0f4" d="M685 77l7-5-7-1-6 6z"/><path fill="#0f2" d="M698 73l7-5-7-1-6 5z"/><path fill="#0f1" d="M711 70l7-4-7-2-6 4z"/><path fill="#0f0" d="M751 68l6-2-6-3-7 2zM724 68l7-3-7-2-6 3zM738 67l6-2-6-3-7 3z"/><path fill="#0f3" d="M679 77l6-6-6 0-7 6z"/><path fill="#0f1" d="M692 72l6-5-6 0-7 4z"/><path fill="#1f0" d="M705 68l6-4-6-1-7 4z"/><path fill="#2f0" d="M757 66l7-1-7-3-6 1zM718 66l6-3-6-2-7 3z"/><path fill="#3f0" d="M744 65l7-2-7-2-6 1zM731 65l7-3-7-2-7 3z"/><path fill="#0f2" d="M672 77l7-6-7 1-6 5z"/><path fill="#1f0" d="M685 71l7-4-7-1-6 5z"/><path fill="#3f0" d="M698 67l7-4-7 0-6 4zM764 65l6 0-6-3-7 0z"/><path fill="#4f0" d="M711 64l7-3-7-1-6 3z"/><path fill="#5f0" d="M751 63l6-1-6-3-7 2zM724 63l7-3-7-1-6 2zM738 62l6-1-6-3-7 2z"/><path fill="#0f1" d="M666 77l6-5-7 0-6 6z"/><path fill="#2f0" d="M679 71l6-5-7 1-6 5z"/><path fill="#4f0" d="M692 67l6-4-6-1-7 4zM770 65l7 0-6-3-7 0z"/><path fill="#6f0" d="M705 63l6-3-6-1-7 4zM757 62l7 0-7-3-6 0z"/><path fill="#7f0" d="M718 61l6-2-6-2-7 3zM744 61l7-2-7-2-6 1z"/><path fill="#8f0" d="M731 60l7-2-7-1-7 2z"/><path fill="#0f0" d="M659 78l6-6-6 2-7 5z"/><path fill="#3f0" d="M672 72l6-5-6 1-7 4z"/><path fill="#5f0" d="M777 65l7 2-7-4-6-1z"/><path fill="#6f0" d="M685 66l7-4-7 1-7 4z"/><path fill="#7f0" d="M764 62l7 0-7-2-7-1z"/><path fill="#8f0" d="M698 63l7-4-7 0-6 3z"/><path fill="#0f0" d="M652 79l7-5-7 2-6 5z"/><path fill="#9f0" d="M751 59l6 0-6-2-7 0zM711 60l7-3-7 0-6 2z"/><path fill="#af0" d="M738 58l6-1-6-1-7 1zM724 59l7-2-7-2-6 2z"/><path fill="#4f0" d="M665 72l7-4-7 1-6 5z"/><path fill="#5f0" d="M784 67l6 2-6-4-7-2z"/><path fill="#7f0" d="M678 67l7-4-7 1-6 4z"/><path fill="#0f0" d="M646 81l6-5-6 2-7 6z"/><path fill="#8f0" d="M771 62l6 1-6-2-7-1z"/><path fill="#9f0" d="M692 62l6-3-7 0-6 4z"/><path fill="#af0" d="M757 59l7 1-7-3-6 0z"/><path fill="#bf0" d="M705 59l6-2-6-1-7 3zM744 57l7 0-7-2-6 1z"/><path fill="#cf0" d="M718 57l6-2-6 0-7 2zM731 57l7-1-7-2-7 1z"/><path fill="#4f0" d="M659 74l6-5-6 2-7 5z"/><path fill="#5f0" d="M790 69l7 2-7-3-6-3z"/><path fill="#7f0" d="M672 68l6-4-6 1-7 4z"/><path fill="#0f0" d="M639 84l7-6-7 3-6 6z"/><path fill="#8f0" d="M777 63l7 2-7-2-6-2z"/><path fill="#af0" d="M685 63l6-4-6 1-7 4zM764 60l7 1-7-2-7-2z"/><path fill="#cf0" d="M698 59l7-3-7 1-7 2z"/><path fill="#4f0" d="M652 76l7-5-7 2-6 5z"/><path fill="#cf0" d="M751 57l6 0-6-1-7-1z"/><path fill="#df0" d="M711 57l7-2-7 0-6 1zM738 56l6-1-6-1-7 0z"/><path fill="#ef0" d="M724 55l7-1-7 0-6 1z"/><path fill="#4f0" d="M797 71l6 4-6-3-7-4z"/><path fill="#8f0" d="M665 69l7-4-7 2-6 4z"/><path fill="#0f1" d="M633 87l6-6-6 4-7 5z"/><path fill="#7f0" d="M784 65l6 3-6-2-7-3z"/><path fill="#bf0" d="M678 64l7-4-7 2-6 3zM771 61l6 2-6-2-7-2z"/><path fill="#4f0" d="M646 78l6-5-6 3-7 5z"/><path fill="#df0" d="M691 59l7-2-7 1-6 2z"/><path fill="#2f0" d="M803 75l7 4-7-3-6-4z"/><path fill="#df0" d="M757 57l7 2-6-2-7-1z"/><path fill="#ef0" d="M705 56l6-1-6 0-7 2z"/><path fill="#ff0" d="M744 55l7 1-7-2-6 0zM718 55l6-1-6-1-7 2zM731 54l7 0-7-1-7 1z"/><path fill="#0f1" d="M626 90l7-5-7 4-6 5z"/><path fill="#8f0" d="M659 71l6-4-6 2-7 4z"/><path fill="#7f0" d="M790 68l7 4-7-3-6-3z"/><path fill="#bf0" d="M672 65l6-3-6 1-7 4z"/><path fill="#af0" d="M777 63l7 3-7-3-6-2z"/><path fill="#1f0" d="M810 79l6 5-6-3-7-5z"/><path fill="#3f0" d="M639 81l7-5-7 4-6 5z"/><path fill="#df0" d="M685 60l6-2-6 1-7 3zM764 59l7 2-7-2-6-2z"/><path fill="#0f2" d="M620 94l6-5-6 4-7 6z"/><path fill="#ff0" d="M698 57l7-2-7 1-7 2zM751 56l7 1-7-1-7-2z"/><path fill="#5f0" d="M797 72l6 4-6-2-7-5z"/><path fill="#7f0" d="M652 73l7-4-7 3-6 4z"/><path fill="#fd0" d="M711 55l7-2-7 1-6 1z"/><path fill="#fe0" d="M738 54l6 0-6 0-7-1z"/><path fill="#fd0" d="M724 54l7-1-7 0-6 0z"/><path fill="#0f1" d="M816 84l7 6-7-3-6-6z"/><path fill="#9f0" d="M784 66l6 3-6-2-7-4z"/><path fill="#bf0" d="M665 67l7-4-7 3-6 3z"/><path fill="#2f0" d="M633 85l6-5-7 4-6 5z"/><path fill="#0f3" d="M613 99l7-6-7 6-6 5z"/><path fill="#df0" d="M771 61l6 2-6-1-7-3z"/><path fill="#ef0" d="M678 62l7-3-7 2-6 2z"/><path fill="#3f0" d="M803 76l7 5-7-2-6-5z"/><path fill="#7f0" d="M646 76l6-4-7 4-6 4z"/><path fill="#ff0" d="M758 57l6 2-6-1-7-2z"/><path fill="#fe0" d="M691 58l7-2-7 1-6 2z"/><path fill="#0f4" d="M823 90l6 7-6-3-7-7z"/><path fill="#fd0" d="M744 54l7 2-7-1-6-1zM705 55l6-1-6 0-7 2z"/><path fill="#fc0" d="M731 53l7 1-7-1-7 0zM718 53l6 0-6 0-7 1z"/><path fill="#8f0" d="M790 69l7 5-7-3-6-4z"/><path fill="#1f0" d="M626 89l6-5-6 5-6 4z"/><path fill="#af0" d="M659 69l6-3-7 3-6 3z"/><path fill="#0f5" d="M607 104l6-5-6 5-7 6z"/><path fill="#1f0" d="M810 81l6 6-6-2-7-6z"/><path fill="#cf0" d="M777 63l7 4-7-2-6-3z"/><path fill="#0f6" d="M829 97l6 8-6-3-6-8z"/><path fill="#ef0" d="M672 63l6-2-6 2-7 3z"/><path fill="#6f0" d="M639 80l6-4-6 4-7 4z"/><path fill="#ff0" d="M764 59l7 3-7-2-6-2z"/><path fill="#fe0" d="M685 59l6-2-6 2-7 2z"/><path fill="#6f0" d="M797 74l6 5-6-2-7-6z"/><path fill="#0f0" d="M620 93l6-4-6 5-7 5z"/><path fill="#fd0" d="M751 56l7 2-7-1-7-2z"/><path fill="#fc0" d="M698 56l7-2-7 2-7 1z"/><path fill="#0f6" d="M600 110l7-6-7 7-6 5z"/><path fill="#fc0" d="M738 54l6 1-6 0-7-2z"/><path fill="#af0" d="M652 72l6-3-6 3-7 4z"/><path fill="#fb0" d="M711 54l7-1-7 1-6 0z"/><path fill="#0f9" d="M835 105l6 9-6-3-6-9z"/><path fill="#0f1" d="M816 87l7 7-7-2-6-7z"/><path fill="#fb0" d="M724 53l7 0-6 1-7-1z"/><path fill="#af0" d="M784 67l6 4-6-1-7-5z"/><path fill="#df0" d="M665 66l7-3-7 3-7 3z"/><path fill="#5f0" d="M632 84l7-4-7 4-6 5z"/><path fill="#ef0" d="M771 62l6 3-6-1-7-4z"/><path fill="#4f0" d="M803 79l7 6-7-2-6-6z"/><path fill="#0fc" d="M841 114l7 9-7-3-6-9z"/><path fill="#0f2" d="M613 99l7-5-7 5-6 5z"/><path fill="#0f7" d="M594 116l6-5-6 7-6 5z"/><path fill="#fe0" d="M678 61l7-2-7 2-6 2z"/><path fill="#0f4" d="M823 94l6 8-6-2-7-8z"/><path fill="#fe0" d="M758 58l6 2-6 0-7-3z"/><path fill="#9f0" d="M645 76l7-4-7 4-6 4z"/><path fill="#fc0" d="M691 57l7-1-7 2-6 1zM744 55l7 2-7 0-6-2z"/><path fill="#8f0" d="M790 71l7 6-7-2-6-5z"/><path fill="#fa0" d="M705 54l6 0-6 1-7 1zM731 53l7 2-7 0-6-1zM718 53l7 1-7 0-7 0z"/><path fill="#3f0" d="M626 89l6-5-6 6-6 4z"/><path fill="#1f0" d="M810 85l6 7-6-2-7-7z"/><path fill="#df0" d="M658 69l7-3-7 4-6 2z"/><path fill="#0f7" d="M829 102l6 9-6-3-6-8z"/><path fill="#0f3" d="M607 104l6-5-6 7-7 5z"/><path fill="#cf0" d="M777 65l7 5-7-2-6-4z"/><path fill="#fe0" d="M672 63l6-2-6 3-7 2z"/><path fill="#7f0" d="M639 80l6-4-6 5-7 3z"/><path fill="#ff0" d="M764 60l7 4-7-1-6-3z"/><path fill="#6f0" d="M797 77l6 6-6-2-7-6z"/><path fill="#0fa" d="M835 111l6 9-6-2-6-10z"/><path fill="#fc0" d="M685 59l6-1-6 2-7 1z"/><path fill="#0f2" d="M816 92l7 8-7-2-6-8z"/><path fill="#fc0" d="M751 57l7 3-7-1-7-2z"/><path fill="#1f0" d="M620 94l6-4-7 5-6 4z"/><path fill="#fa0" d="M698 56l7-1-7 2-7 1z"/><path fill="#0f5" d="M600 111l7-5-7 7-6 5z"/><path fill="#fa0" d="M738 55l6 2-6 0-7-2z"/><path fill="#f90" d="M711 54l7 0-7 2-6-1zM725 54l6 1-6 1-7-2z"/><path fill="#bf0" d="M652 72l6-2-6 4-7 2z"/><path fill="#af0" d="M784 70l6 5-6-1-7-6z"/><path fill="#3f0" d="M803 83l7 7-7-2-6-7z"/><path fill="#ff0" d="M665 66l7-2-7 4-7 2z"/><path fill="#6f0" d="M632 84l7-3-7 5-6 4z"/><path fill="#0f5" d="M823 100l6 8-7-2-6-8z"/><path fill="#ef0" d="M771 64l6 4-6 0-7-5z"/><path fill="#0f0" d="M613 99l6-4-6 7-6 4z"/><path fill="#fc0" d="M678 61l7-1-7 3-6 1z"/><path fill="#fd0" d="M758 60l6 3-6 0-7-4z"/><path fill="#8f0" d="M790 75l7 6-7-1-6-6z"/><path fill="#af0" d="M645 76l7-2-7 4-6 3z"/><path fill="#fa0" d="M691 58l7-1-7 3-6 0z"/><path fill="#fb0" d="M744 57l7 2-7 1-6-3z"/><path fill="#0f9" d="M829 108l6 10-6-2-7-10z"/><path fill="#f90" d="M705 55l6 1-6 2-7-1z"/><path fill="#fa0" d="M731 55l7 2-7 1-6-2z"/><path fill="#0f0" d="M810 90l6 8-6-2-7-8z"/><path fill="#f90" d="M718 54l7 2-7 1-7-1z"/><path fill="#4f0" d="M626 90l6-4-6 6-7 3z"/><path fill="#cf0" d="M777 68l7 6-7-1-6-5z"/><path fill="#ef0" d="M658 70l7-2-7 4-6 2z"/><path fill="#0f2" d="M607 106l6-4-6 7-7 4z"/><path fill="#5f0" d="M797 81l6 7-6-1-7-7z"/><path fill="#ff0" d="M764 63l7 5-7 0-6-5z"/><path fill="#fd0" d="M672 64l6-1-6 3-7 2z"/><path fill="#0f3" d="M816 98l6 8-6-1-6-9z"/><path fill="#8f0" d="M639 81l6-3-6 6-7 2z"/><path fill="#fc0" d="M751 59l7 4-7 0-7-3z"/><path fill="#fb0" d="M685 60l6 0-6 3-7 0z"/><path fill="#2f0" d="M619 95l7-3-7 6-6 4z"/><path fill="#fa0" d="M738 57l6 3-6 0-7-2zM698 57l7 1-7 2-7 0z"/><path fill="#9f0" d="M784 74l6 6-6-1-7-6z"/><path fill="#f90" d="M725 56l6 2-6 1-7-2zM711 56l7 1-7 2-6-1z"/><path fill="#cf0" d="M652 74l6-2-6 4-7 2z"/><path fill="#0f7" d="M822 106l7 10-7-1-6-10z"/><path fill="#2f0" d="M803 88l7 8-7-1-6-8z"/><path fill="#df0" d="M771 68l6 5-6 0-7-5z"/><path fill="#fe0" d="M665 68l7-2-7 5-7 1z"/><path fill="#7f0" d="M632 86l7-2-7 5-6 3z"/><path fill="#0f0" d="M613 102l6-4-6 7-6 4z"/><path fill="#fe0" d="M758 63l6 5-6 0-7-5z"/><path fill="#6f0" d="M790 80l7 7-7-1-6-7z"/><path fill="#fc0" d="M678 63l7 0-7 3-6 0z"/><path fill="#0f2" d="M810 96l6 9-6-1-7-9z"/><path fill="#fb0" d="M744 60l7 3-7 1-6-4z"/><path fill="#fa0" d="M691 60l7 0-7 3-6 0z"/><path fill="#bf0" d="M645 78l7-2-7 6-6 2z"/><path fill="#fa0" d="M731 58l7 2-7 2-6-3z"/><path fill="#f90" d="M705 58l6 1-6 2-7-1zM718 57l7 2-7 2-7-2z"/><path fill="#bf0" d="M777 73l7 6-7 0-6-6z"/><path fill="#4f0" d="M626 92l6-3-6 7-7 2z"/><path fill="#ef0" d="M658 72l7-1-7 4-6 1z"/><path fill="#3f0" d="M797 87l6 8-6-1-7-8z"/><path fill="#0f5" d="M816 105l6 10-6-1-6-10z"/><path fill="#ef0" d="M764 68l7 5-7 0-6-5z"/><path fill="#fd0" d="M672 66l6 0-6 4-7 1z"/><path fill="#9f0" d="M639 84l6-2-6 6-7 1z"/><path fill="#fd0" d="M751 63l7 5-7 1-7-5z"/><path fill="#fb0" d="M685 63l6 0-6 4-7-1z"/><path fill="#8f0" d="M784 79l6 7-6 0-7-7z"/><path fill="#fb0" d="M738 60l6 4-6 2-7-4z"/><path fill="#2f0" d="M619 98l7-2-6 7-7 2z"/><path fill="#fa0" d="M698 60l7 1-7 3-7-1z"/><path fill="#0f0" d="M803 95l7 9-7-1-6-9z"/><path fill="#fa0" d="M725 59l6 3-6 2-7-3z"/><path fill="#f90" d="M711 59l7 2-7 2-6-2z"/><path fill="#cf0" d="M652 76l6-1-6 6-7 1zM771 73l6 6-6 1-7-7z"/><path fill="#ff0" d="M665 71l7-1-7 5-7 0z"/><path fill="#6f0" d="M632 89l7-1-7 6-6 2z"/><path fill="#4f0" d="M790 86l7 8-7 0-6-8z"/><path fill="#ff0" d="M758 68l6 5-6 1-7-5z"/><path fill="#0f4" d="M810 104l6 10-7-1-6-10z"/><path fill="#fc0" d="M678 66l7 1-7 4-6-1z"/><path fill="#fd0" d="M744 64l7 5-7 1-6-4z"/><path fill="#fb0" d="M691 63l7 1-7 4-6-1z"/><path fill="#af0" d="M645 82l7-1-7 5-6 2z"/><path fill="#fb0" d="M731 62l7 4-7 1-6-3z"/><path fill="#9f0" d="M777 79l7 7-7 1-6-7z"/><path fill="#fa0" d="M705 61l6 2-6 3-7-2zM718 61l7 3-7 2-7-3z"/><path fill="#1f0" d="M797 94l6 9-6 0-7-9z"/><path fill="#4f0" d="M626 96l6-2-6 7-6 2z"/><path fill="#ef0" d="M658 75l7 0-6 5-7 1z"/><path fill="#cf0" d="M764 73l7 7-7 0-6-6z"/><path fill="#fe0" d="M672 70l6 1-6 4-7 0z"/><path fill="#ff0" d="M751 69l7 5-7 2-7-6z"/><path fill="#5f0" d="M784 86l6 8-6 1-7-8z"/><path fill="#8f0" d="M639 88l6-2-6 7-7 1z"/><path fill="#0f3" d="M803 103l6 10-6 0-6-10z"/><path fill="#fc0" d="M685 67l6 1-6 4-7-1zM738 66l6 4-6 2-7-5z"/><path fill="#fb0" d="M698 64l7 2-7 4-7-2zM725 64l6 3-6 3-7-4zM711 63l7 3-7 3-6-3z"/><path fill="#9f0" d="M771 80l6 7-6 1-7-8z"/><path fill="#bf0" d="M652 81l7-1-7 6-7 0z"/><path fill="#2f0" d="M790 94l7 9-7 1-6-9z"/><path fill="#df0" d="M758 74l6 6-6 2-7-6z"/><path fill="#ef0" d="M665 75l7 0-7 6-6-1z"/><path fill="#5f0" d="M632 94l7-1-6 7-7 1z"/><path fill="#ff0" d="M744 70l7 6-7 2-6-6z"/><path fill="#fe0" d="M678 71l7 1-7 5-6-2z"/><path fill="#6f0" d="M777 87l7 8-7 1-6-8z"/><path fill="#fd0" d="M731 67l7 5-7 3-6-5z"/><path fill="#fc0" d="M691 68l7 2-6 4-7-2z"/><path fill="#9f0" d="M645 86l7 0-6 7-7 0z"/><path fill="#0f2" d="M797 103l6 10-6 1-7-10z"/><path fill="#fc0" d="M718 66l7 4-7 3-7-4zM705 66l6 3-6 4-7-3z"/><path fill="#af0" d="M764 80l7 8-7 1-6-7z"/><path fill="#cf0" d="M659 80l6 1-6 6-7-1z"/><path fill="#2f0" d="M784 95l6 9-6 1-7-9z"/><path fill="#df0" d="M751 76l7 6-7 2-7-6z"/><path fill="#ff0" d="M672 75l6 2-6 5-7-1z"/><path fill="#6f0" d="M639 93l7 0-7 7-6 0z"/><path fill="#ff0" d="M738 72l6 6-6 2-7-5z"/><path fill="#fe0" d="M685 72l7 2-7 5-7-2z"/><path fill="#fd0" d="M725 70l6 5-6 3-7-5zM698 70l7 3-7 4-6-3z"/><path fill="#6f0" d="M771 88l6 8-6 2-7-9z"/><path fill="#fd0" d="M711 69l7 4-7 4-6-4z"/><path fill="#0f2" d="M790 104l7 10-7 1-6-10z"/><path fill="#af0" d="M652 86l7 1-7 6-6 0zM758 82l6 7-6 2-7-7z"/><path fill="#cf0" d="M665 81l7 1-7 6-6-1zM744 78l7 6-7 3-6-7z"/><path fill="#2f0" d="M777 96l7 9-7 2-6-9z"/><path fill="#ef0" d="M678 77l7 2-7 5-6-2zM731 75l7 5-7 3-6-5z"/><path fill="#ff0" d="M692 74l6 3-6 5-7-3z"/><path fill="#fe0" d="M718 73l7 5-7 4-7-5z"/><path fill="#7f0" d="M646 93l6 0-6 8-7-1z"/><path fill="#fe0" d="M705 73l6 4-6 4-7-4z"/><path fill="#6f0" d="M764 89l7 9-7 2-6-9z"/><path fill="#0f2" d="M784 105l6 10-6 2-7-10z"/><path fill="#af0" d="M659 87l6 1-6 7-7-2z"/><path fill="#9f0" d="M751 84l7 7-7 3-7-7z"/><path fill="#cf0" d="M672 82l6 2-6 7-7-3zM738 80l6 7-6 3-7-7z"/><path fill="#2f0" d="M771 98l6 9-6 2-7-9z"/><path fill="#ef0" d="M685 79l7 3-7 6-7-4z"/><path fill="#df0" d="M725 78l6 5-6 4-7-5z"/><path fill="#ef0" d="M698 77l7 4-7 5-6-4zM711 77l7 5-7 4-6-5z"/><path fill="#7f0" d="M652 93l7 2-7 7-6-1z"/><path fill="#6f0" d="M758 91l6 9-6 3-7-9z"/><path fill="#0f2" d="M777 107l7 10-7 3-6-11z"/><path fill="#9f0" d="M665 88l7 3-7 6-6-2zM744 87l7 7-7 4-6-8z"/><path fill="#bf0" d="M678 84l7 4-6 6-7-3zM731 83l7 7-7 4-6-7z"/><path fill="#cf0" d="M692 82l6 4-6 6-7-4zM718 82l7 5-7 5-7-6z"/><path fill="#2f0" d="M764 100l7 9-7 3-6-9z"/><path fill="#cf0" d="M705 81l6 5-6 5-7-5z"/><path fill="#5f0" d="M751 94l7 9-7 3-7-8z"/><path fill="#7f0" d="M659 95l6 2-6 8-7-3z"/><path fill="#0f2" d="M771 109l6 11-6 3-7-11z"/><path fill="#7f0" d="M738 90l6 8-6 4-7-8z"/><path fill="#9f0" d="M672 91l7 3-7 7-7-4zM725 87l6 7-6 4-7-6z"/><path fill="#af0" d="M685 88l7 4-7 6-6-4zM711 86l7 6-6 5-7-6zM698 86l7 5-7 6-6-5z"/><path fill="#1f0" d="M758 103l6 9-6 4-7-10z"/><path fill="#4f0" d="M744 98l7 8-7 4-6-8z"/><path fill="#6f0" d="M665 97l7 4-6 7-7-3zM731 94l7 8-7 4-6-8z"/><path fill="#7f0" d="M679 94l6 4-6 7-7-4z"/><path fill="#0f3" d="M764 112l7 11-7 3-6-10z"/><path fill="#8f0" d="M718 92l7 6-7 6-6-7zM692 92l6 5-6 6-7-5zM705 91l7 6-7 6-7-6z"/><path fill="#0f0" d="M751 106l7 10-7 4-7-10z"/><path fill="#3f0" d="M738 102l6 8-6 5-7-9z"/><path fill="#5f0" d="M672 101l7 4-7 7-6-4zM725 98l6 8-6 5-7-7z"/><path fill="#6f0" d="M685 98l7 5-7 7-6-5zM712 97l6 7-6 5-7-6zM698 97l7 6-7 6-6-6z"/><path fill="#0f4" d="M758 116l6 10-7 4-6-10z"/><path fill="#0f1" d="M744 110l7 10-7 5-6-10z"/><path fill="#1f0" d="M731 106l7 9-7 5-6-9z"/><path fill="#3f0" d="M679 105l6 5-6 8-7-6zM718 104l7 7-7 6-6-8z"/><path fill="#4f0" d="M692 103l6 6-6 7-7-6z"/><path fill="#3f0" d="M705 103l7 6-7 7-7-7z"/><path fill="#0f5" d="M751 120l6 10-6 5-7-10z"/><path fill="#0f2" d="M738 115l6 10-6 5-7-10z"/><path fill="#0f1" d="M725 111l6 9-6 6-7-9z"/><path fill="#1f0" d="M685 110l7 6-7 8-6-6zM712 109l6 8-6 7-7-8zM698 109l7 7-6 7-7-7z"/><path fill="#0f6" d="M744 125l7 10-7 6-6-11z"/><path fill="#0f4" d="M731 120l7 10-7 6-6-10z"/><path fill="#0f3" d="M718 117l7 9-7 7-6-9z"/><path fill="#0f2" d="M705 116l7 8-7 7-6-8zM692 116l7 7-7 8-7-7z"/><path fill="#0f8" d="M738 130l6 11-6 6-7-11z"/><path fill="#0f6" d="M725 126l6 10-6 7-7-10z"/><path fill="#0f5" d="M712 124l6 9-6 7-7-9z"/><path fill="#0f4" d="M699 123l6 8-6 8-7-8z"/><path fill="#0fa" d="M731 136l7 11-7 7-6-11z"/><path fill="#0f8" d="M718 133l7 10-7 8-6-11z"/><path fill="#0f7" d="M705 131l7 9-7 8-6-9z"/><path fill="#0fb" d="M725 143l6 11-6 8-7-11z"/><path fill="#0fa" d="M712 140l6 11-6 8-7-11z"/><path fill="#0fd" d="M718 151l7 11-6 8-7-11z"/></g>
<circle cx="358.9" cy="19.1" r="1.6" fill="#b00c0c"/><circle cx="358.9" cy="23.1" r="1.6" fill="#b00c0c"/><circle cx="294.1" cy="64" r="1.5" fill="#f6dede" stroke="#c04848" stroke-width="0.5"/><circle cx="424" cy="62" r="1.6" fill="#b00c0c"/><circle cx="358.9" cy="87.4" r="1.5" fill="#f6dede" stroke="#c04848" stroke-width="0.5"/>
<!-- A3 -->
<g stroke="#777" stroke-width="0.9" fill="none"><polyline points="510.4,91.1 579.6,67.8 649,91.1"/><polyline points="509.7,73.4 579.6,51.8 649.6,73.4"/><polyline points="509,55.7 579.5,35.8 650.2,55.7"/><polyline points="508.3,37.9 579.5,19.9 650.9,38"/><polyline points="507.6,20.2 579.4,3.9 651.5,20.3"/><line x1="556.5" y1="75.6" x2="555.5" y2="9.3"/><line x1="533.4" y1="83.3" x2="531.5" y2="14.8"/><line x1="597" y1="73.6" x2="597.4" y2="8"/><line x1="614.3" y1="79.5" x2="615.5" y2="12.1"/><line x1="631.6" y1="85.3" x2="633.5" y2="16.2"/><line x1="511.2" y1="112.9" x2="507.6" y2="20.2"/><line x1="579.7" y1="87.4" x2="579.4" y2="3.9"/><line x1="648.2" y1="112.9" x2="651.5" y2="20.3"/></g>
<g stroke="#222" stroke-width="1"><line x1="508.2" y1="91.6" x2="510.4" y2="91.1"/><line x1="507.5" y1="73.9" x2="509.7" y2="73.4"/><line x1="506.8" y1="56.2" x2="509" y2="55.7"/><line x1="506.1" y1="38.4" x2="508.3" y2="37.9"/><line x1="505.4" y1="20.7" x2="507.6" y2="20.2"/></g>
<polygon points="579.7,87.4 511.2,112.9 579.9,145.2 648.2,112.9" fill="#646464" stroke="#444" stroke-width="0.6"/>
<g transform="scale(.5)" fill="none" stroke-width="2.0"><path d="M1202 245l2 -1 3 -2 3 -1 2 -2 2 -2 2 -1 1 -1 2 -2 1 -1 1 -2 0 -1 1 -2 0 -1 0 -2 0 -1 0 -1 -1 -2 0 -1 -1 -1 -1 -2 -1 -1 -1 -2 -3 -1 -1 -2 -3 -1 -2 -1 -4 -1 -3 -2 -3 -1 -4 -1 -3 0 -4 -1 -3 0 -4 -1 -3 0 -3 0 -4 0 -3 0 -4 0 -3 0 -4 0 -3 0 -3 0 -4 1 -4 0 -3 1 -3 1 -4 1 -3 0 -3 2 -4 1 -3 1 -2 2 -3 1 -1 1 -3 2 -1 1 -1 2 -1 1 -1 2 -1 1 0 1 -1 2 0 1 0 1 0 2 1 2 0 1 1 1 1 2 1 1 1 2 3 1 1 2 2 1 3 2 3 1 4 2 4 1 2 1 4 1 4 1 3 0 4 1 3 0 3 1 3 0 5 0 2 0 4 0 3 0 3 -1 4 0 3 -1 4 0 3 -1 4 -1 3 -1 4 -1 4 -1 1 -1" stroke="#ebff00"/><path d="M1211 255l4 -2 3 -1 4 -2 3 -1 2 -2 2 -1 2 -2 3 -2 1 -1 2 -1 1 -2 1 -1 2 -2 1 -1 1 -2 0 -1 1 -2 0 -1 1 -2 0 -1 0 -1 0 -2 0 -1 0 -2 -1 -2 0 -1 -1 -1 -1 -1 -1 -2 -1 -1 -1 -2 -2 -1 -2 -1 -2 -2 -1 -1 -3 -1 -2 -1 -3 -2 -4 -1 -3 -1 -4 -1 -3 -1 -4 -1 -3 -1 -3 0 -3 -1 -4 0 -4 -1 -3 0 -3 0 -3 -1 -4 0 -4 0 -3 0 -4 0 -3 0 -3 0 -4 0 -3 0 -3 1 -4 0 -3 0 -3 1 -4 0 -3 1 -4 1 -3 0 -4 1 -3 1 -4 1 -4 1 -3 2 -3 1 -3 2 -3 1 -2 1 -2 1 -2 2 -2 1 -1 1 -2 2 -1 1 -1 1 -1 2 -1 1 -1 2 0 1 0 1 -1 2 0 2 0 1 0 1 0 2 1 1 0 2 1 1 1 2 1 1 1 2 1 1 1 2 2 1 2 2 1 1 3 2 2 1 3 2 3 2 4 1 3 2 3 1 4 1 3 1 4 1 3 1 3 0 4 1 3 0 4 1 4 0 3 0 3 1 4 0 3 0 4 0 3 0 4 -1 3 0 3 0 3 0 4 -1 3 0 4 -1 3 -1 4 -1 3 -1 3 0 4 -2 4 -1 0 0" stroke="#7aff00"/><path d="M1185 184l-3 0 -3 0 -5 0 -2 0 -4 0 -3 0 -4 0 -3 0 -4 0 -4 0 -3 1 -3 0 -3 0 -3 0 -4 1 -3 0 -4 1" stroke="#14ff00"/><path d="M1074 206l-1 2 -2 1 -1 2 -1 1 -1 1 -1 2 -1 1 -1 1 0 2 -1 1 0 2 0 1 -1 2 0 1 0 1 0 2 1 1 0 2 0 1 1 2 1 1 0 2 1 1 1 1 1 2 2 2 1 1 2 2 2 1 1 2 3 2 2 1 3 2 3 1 0 1" stroke="#14ff00"/><path d="M1098 261l4 2 4 1 2 1 5 1 3 1 3 1 3 1 4 0 4 1 3 1 3 0 3 0 4 1 4 0 3 0 3 0 4 0 3 0 4 0 3 0 3 0 4 0 4 -1 3 0 3 0 3 -1 4 0 3 -1 4 -1 4 -1 3 0 3 -1 4 -1 3 -1 4 -2 1 0" stroke="#14ff00"/><path d="M1239 253l2 -2 3 -1 2 -2 2 -1 2 -2 2 -1 1 -2 1 -1 2 -2 1 -2 1 -1 1 -1 1 -2 1 -1 0 -2 1 -2 0 -1 1 -1 0 -2 0 -1 0 -2 0 -1 0 -1 -1 -2 0 -1 -1 -2 0 -1 -1 -1" stroke="#14ff00"/><path d="M1167 178l-4 0 -3 0 -4 0 -3 0 -3 0" stroke="#00ff8f"/><path d="M1051 215l-1 2 -1 1 0 2 0 1 -1 2 0 1 0 1 0 2 0 1 0 2 1 1 0 1 0 2 1 2 1 1 1 1 0 2" stroke="#00ff8f"/><path d="M1134 278l3 1 4 0 4 0 3 0 3 1 4 0 3 0 4 0 3 0 3 -1 4 0 3 0 3 0 4 -1 4 0 0 0" stroke="#00ff8f"/><path d="M1273 237l1 -1 1 -2 0 -2 1 -1 1 -2 0 -1 0 -2 1 -1 0 -1 0 -2 0 -1 0 -2 0 0" stroke="#00ff8f"/><path d="M1035 221l0 1 0 2 0 1 0 2 0 1 0 2 0 1 1 1" stroke="#00ccff"/><path d="M1151 286l4 0 3 0 4 0 2 0 5 0 0 0" stroke="#00ccff"/><path d="M1290 229l0 -2 1 -1 0 -1 0 -1" stroke="#00ccff"/><path d="M1023 226l0 0" stroke="#0066ff"/></g>
<g transform="scale(.5)" stroke="#000" stroke-opacity="0.42" stroke-width="0.8" stroke-linejoin="round"><path fill="#0f8" d="M1159 87l7-4-7-4-7 5z"/><path fill="#0f6" d="M1152 84l7-5-7-3-7 5zM1166 83l7-4-7-4-7 4z"/><path fill="#0f4" d="M1145 81l7-5-7-2-7 5z"/><path fill="#0f3" d="M1159 79l7-4-7-3-7 4zM1173 79l7-3-7-4-7 3z"/><path fill="#0f2" d="M1138 79l7-5-7-1-7 4z"/><path fill="#0f1" d="M1152 76l7-4-7-2-7 4z"/><path fill="#0f0" d="M1180 76l7-2-7-4-7 2zM1166 75l7-3-7-3-7 3zM1131 77l7-4-7-1-7 4z"/><path fill="#1f0" d="M1145 74l7-4-7-1-7 4z"/><path fill="#2f0" d="M1187 74l7-2-7-4-7 2zM1159 72l7-3-7-2-7 3zM1173 72l7-2-7-3-7 2z"/><path fill="#1f0" d="M1124 76l7-4-7-1-7 5z"/><path fill="#3f0" d="M1138 73l7-4-7-1-7 4zM1194 72l8-1-7-4-8 1z"/><path fill="#4f0" d="M1152 70l7-3-7-2-7 4zM1180 70l7-2-7-3-7 2z"/><path fill="#5f0" d="M1166 69l7-2-7-3-7 3z"/><path fill="#2f0" d="M1117 76l7-5-8 1-6 5z"/><path fill="#4f0" d="M1131 72l7-4-7-1-7 4z"/><path fill="#5f0" d="M1202 71l7 0-7-4-7 0z"/><path fill="#6f0" d="M1145 69l7-4-7-1-7 4zM1187 68l8-1-8-3-7 1z"/><path fill="#7f0" d="M1159 67l7-3-7-1-7 2zM1173 67l7-2-7-2-7 1z"/><path fill="#3f0" d="M1110 77l6-5-7 1-7 5z"/><path fill="#6f0" d="M1209 71l7 1-7-4-7-1zM1124 71l7-4-7 1-8 4z"/><path fill="#8f0" d="M1195 67l7 0-7-3-8 0zM1138 68l7-4-7 0-7 3z"/><path fill="#9f0" d="M1180 65l7-1-7-2-7 1zM1152 65l7-2-7-2-7 3zM1166 64l7-1-7-2-7 2z"/><path fill="#3f0" d="M1102 78l7-5-7 2-7 5z"/><path fill="#7f0" d="M1216 72l7 1-7-4-7-1z"/><path fill="#6f0" d="M1116 72l8-4-8 1-7 4z"/><path fill="#9f0" d="M1202 67l7 1-7-4-7 0zM1131 67l7-3-7 0-7 4z"/><path fill="#bf0" d="M1187 64l8 0-7-3-8 1z"/><path fill="#af0" d="M1145 64l7-3-7 0-7 3z"/><path fill="#bf0" d="M1173 63l7-1-7-2-7 1zM1159 63l7-2-7-1-7 1z"/><path fill="#3f0" d="M1095 80l7-5-7 2-7 5z"/><path fill="#7f0" d="M1223 73l7 2-7-4-7-2zM1109 73l7-4-7 1-7 5z"/><path fill="#af0" d="M1209 68l7 1-7-3-7-2zM1124 68l7-4-8 1-7 4z"/><path fill="#cf0" d="M1195 64l7 0-7-2-7-1zM1138 64l7-3-7 0-7 3z"/><path fill="#3f0" d="M1088 82l7-5-7 3-7 6z"/><path fill="#df0" d="M1180 62l8-1-8-2-7 1zM1152 61l7-1-7-1-7 2zM1166 61l7-1-7-2-7 2z"/><path fill="#7f0" d="M1230 75l7 3-7-4-7-3zM1102 75l7-5-7 3-7 4z"/><path fill="#af0" d="M1216 69l7 2-7-3-7-2zM1116 69l7-4-7 2-7 3z"/><path fill="#3f0" d="M1081 86l7-6-7 4-7 6z"/><path fill="#cf0" d="M1202 64l7 2-7-3-7-1zM1131 64l7-3-7 1-8 3z"/><path fill="#ef0" d="M1188 61l7 1-7-2-8-1zM1145 61l7-2-7 0-7 2z"/><path fill="#7f0" d="M1237 78l7 4-7-4-7-4z"/><path fill="#ff0" d="M1173 60l7-1-7-1-7 0zM1159 60l7-2-7 0-7 1z"/><path fill="#7f0" d="M1095 77l7-4-7 3-7 4z"/><path fill="#af0" d="M1223 71l7 3-7-4-7-2z"/><path fill="#2f0" d="M1074 90l7-6-7 5-7 5z"/><path fill="#af0" d="M1109 70l7-3-7 2-7 4z"/><path fill="#df0" d="M1209 66l7 2-7-3-7-2zM1123 65l8-3-8 2-7 3z"/><path fill="#6f0" d="M1244 82l7 4-7-4-7-4z"/><path fill="#ff0" d="M1195 62l7 1-7-2-7-1z"/><path fill="#6f0" d="M1088 80l7-4-7 4-7 4z"/><path fill="#ff0" d="M1138 61l7-2-7 1-7 2z"/><path fill="#fe0" d="M1180 59l8 1-8-2-7 0zM1152 59l7-1-7 0-7 1zM1166 58l7 0-7-1-7 1z"/><path fill="#0f0" d="M1067 94l7-5-7 5-7 6z"/><path fill="#af0" d="M1230 74l7 4-7-4-7-4zM1102 73l7-4-7 3-7 4z"/><path fill="#5f0" d="M1251 86l7 6-7-5-7-5z"/><path fill="#df0" d="M1216 68l7 2-7-3-7-2zM1116 67l7-3-7 2-7 3z"/><path fill="#5f0" d="M1081 84l7-4-7 4-7 5z"/><path fill="#ff0" d="M1202 63l7 2-7-2-7-2zM1131 62l7-2-7 1-8 3z"/><path fill="#0f1" d="M1060 100l7-6-7 7-7 5z"/><path fill="#fd0" d="M1188 60l7 1-7-2-8-1z"/><path fill="#9f0" d="M1237 78l7 4-7-4-7-4z"/><path fill="#fd0" d="M1145 59l7-1-7 0-7 2z"/><path fill="#fc0" d="M1173 58l7 0-7-1-7 0zM1159 58l7-1-7 0-7 1z"/><path fill="#9f0" d="M1095 76l7-4-7 4-7 4z"/><path fill="#3f0" d="M1258 92l7 6-7-5-7-6z"/><path fill="#cf0" d="M1223 70l7 4-7-3-7-4z"/><path fill="#4f0" d="M1074 89l7-5-7 6-7 4z"/><path fill="#cf0" d="M1109 69l7-3-7 3-7 3z"/><path fill="#0f3" d="M1053 106l7-5-7 7-7 5z"/><path fill="#ff0" d="M1209 65l7 2-7-2-7-2zM1123 64l8-3-8 3-7 2z"/><path fill="#8f0" d="M1244 82l7 5-7-3-7-6zM1088 80l7-4-7 5-7 3z"/><path fill="#fd0" d="M1195 61l7 2-7-2-7-2z"/><path fill="#2f0" d="M1265 98l7 7-7-5-7-7z"/><path fill="#fd0" d="M1138 60l7-2-7 2-7 1z"/><path fill="#fc0" d="M1180 58l8 1-7-1-8-1z"/><path fill="#fb0" d="M1152 58l7-1-7 1-7 0zM1166 57l7 0-7 0-7 0z"/><path fill="#2f0" d="M1067 94l7-4-7 6-7 5z"/><path fill="#0f5" d="M1046 113l7-5-7 7-6 6z"/><path fill="#bf0" d="M1230 74l7 4-7-3-7-4z"/><path fill="#cf0" d="M1102 72l7-3-7 4-7 3z"/><path fill="#6f0" d="M1251 87l7 6-7-3-7-6z"/><path fill="#ff0" d="M1216 67l7 4-7-2-7-4z"/><path fill="#0f1" d="M1272 105l7 8-7-5-7-8z"/><path fill="#ff0" d="M1116 66l7-2-7 3-7 2z"/><path fill="#7f0" d="M1081 84l7-3-7 5-7 4z"/><path fill="#0f7" d="M1040 121l6-6-6 9-7 5z"/><path fill="#fd0" d="M1202 63l7 2-7-1-7-3z"/><path fill="#0f0" d="M1060 101l7-5-7 7-7 5z"/><path fill="#fd0" d="M1131 61l7-1-7 2-8 2z"/><path fill="#af0" d="M1237 78l7 6-7-3-7-6z"/><path fill="#fb0" d="M1188 59l7 2-7-1-7-2zM1145 58l7 0-7 1-7 1z"/><path fill="#fa0" d="M1173 57l8 1-8 0-7-1zM1159 57l7 0-7 1-7 0z"/><path fill="#bf0" d="M1095 76l7-3-7 4-7 4z"/><path fill="#0f3" d="M1279 113l7 8-7-4-7-9z"/><path fill="#4f0" d="M1258 93l7 7-7-3-7-7z"/><path fill="#0f9" d="M1033 129l7-5-7 9-7 6z"/><path fill="#ef0" d="M1223 71l7 4-7-2-7-4z"/><path fill="#5f0" d="M1074 90l7-4-7 6-7 4z"/><path fill="#0f2" d="M1053 108l7-5-7 8-7 4z"/><path fill="#ef0" d="M1109 69l7-2-7 3-7 3z"/><path fill="#fd0" d="M1209 65l7 4-7-2-7-3z"/><path fill="#9f0" d="M1244 84l7 6-7-3-7-6z"/><path fill="#0f5" d="M1286 121l7 10-7-5-7-9z"/><path fill="#fd0" d="M1123 64l8-2-8 3-7 2z"/><path fill="#2f0" d="M1265 100l7 8-7-4-7-7z"/><path fill="#0fb" d="M1026 139l7-6-7 11-7 5z"/><path fill="#9f0" d="M1088 81l7-4-7 6-7 3z"/><path fill="#fb0" d="M1195 61l7 3-7-1-7-3zM1138 60l7-1-7 2-7 1z"/><path fill="#fa0" d="M1181 58l7 2-7 0-8-2zM1152 58l7 0-7 1-7 0z"/><path fill="#0f4" d="M1046 115l7-4-7 8-6 5z"/><path fill="#3f0" d="M1067 96l7-4-7 7-7 4z"/><path fill="#f90" d="M1166 57l7 1-7 1-7-1z"/><path fill="#cf0" d="M1230 75l7 6-7-3-7-5z"/><path fill="#0f7" d="M1293 131l6 10-6-4-7-11z"/><path fill="#df0" d="M1102 73l7-3-7 5-7 2z"/><path fill="#7f0" d="M1251 90l7 7-7-4-7-6z"/><path fill="#0f0" d="M1272 108l7 9-7-4-7-9z"/><path fill="#fe0" d="M1216 69l7 4-7-2-7-4zM1116 67l7-2-7 4-7 1z"/><path fill="#7f0" d="M1081 86l7-3-7 6-7 3z"/><path fill="#0f7" d="M1040 124l6-5-6 10-7 4z"/><path fill="#1f0" d="M1060 103l7-4-7 8-7 4z"/><path fill="#fc0" d="M1202 64l7 3-7-1-7-3z"/><path fill="#fb0" d="M1131 62l7-1-7 3-8 1z"/><path fill="#bf0" d="M1237 81l7 6-7-3-7-6z"/><path fill="#fa0" d="M1188 60l7 3-7-1-7-2zM1145 59l7 0-7 2-7 0z"/><path fill="#0f3" d="M1279 117l7 9-7-3-7-10z"/><path fill="#4f0" d="M1258 97l7 7-7-3-7-8z"/><path fill="#f90" d="M1173 58l8 2-8 0-7-1z"/><path fill="#cf0" d="M1095 77l7-2-7 5-7 3z"/><path fill="#f90" d="M1159 58l7 1-7 1-7-1z"/><path fill="#0f9" d="M1033 133l7-4-7 10-7 5z"/><path fill="#ef0" d="M1223 73l7 5-7-2-7-5z"/><path fill="#5f0" d="M1074 92l7-3-7 7-7 3z"/><path fill="#0f2" d="M1053 111l7-4-7 8-7 4z"/><path fill="#ff0" d="M1109 70l7-1-7 4-7 2z"/><path fill="#0f6" d="M1286 126l7 11-7-4-7-10z"/><path fill="#9f0" d="M1244 87l7 6-7-2-7-7z"/><path fill="#fd0" d="M1209 67l7 4-7-1-7-4z"/><path fill="#2f0" d="M1265 104l7 9-7-3-7-9z"/><path fill="#fc0" d="M1123 65l8-1-8 4-7 1z"/><path fill="#af0" d="M1088 83l7-3-7 6-7 3z"/><path fill="#fb0" d="M1195 63l7 3-7 0-7-4z"/><path fill="#fa0" d="M1138 61l7 0-7 3-7 0z"/><path fill="#0f5" d="M1046 119l7-4-6 10-7 4z"/><path fill="#3f0" d="M1067 99l7-3-7 7-7 4z"/><path fill="#f90" d="M1181 60l7 2-7 1-8-3zM1152 59l7 1-7 2-7-1z"/><path fill="#df0" d="M1230 78l7 6-7-2-7-6z"/><path fill="#f90" d="M1166 59l7 1-7 2-7-2z"/><path fill="#ef0" d="M1102 75l7-2-7 6-7 1z"/><path fill="#0f1" d="M1272 113l7 10-7-4-7-9z"/><path fill="#6f0" d="M1251 93l7 8-7-2-7-8z"/><path fill="#fe0" d="M1216 71l7 5-7-1-7-5z"/><path fill="#0f7" d="M1040 129l7-4-7 10-7 4z"/><path fill="#8f0" d="M1081 89l7-3-7 7-7 3z"/><path fill="#fd0" d="M1116 69l7-1-7 4-7 1z"/><path fill="#0f0" d="M1060 107l7-4-7 9-7 3z"/><path fill="#fb0" d="M1202 66l7 4-7 0-7-4z"/><path fill="#bf0" d="M1237 84l7 7-7-2-7-7z"/><path fill="#fb0" d="M1131 64l7 0-7 4-8 0z"/><path fill="#0f4" d="M1279 123l7 10-7-3-7-11z"/><path fill="#fa0" d="M1188 62l7 4-7 0-7-3z"/><path fill="#4f0" d="M1258 101l7 9-7-3-7-8z"/><path fill="#f90" d="M1145 61l7 1-7 3-7-1z"/><path fill="#cf0" d="M1095 80l7-1-7 6-7 1z"/><path fill="#f90" d="M1173 60l8 3-8 1-7-2zM1159 60l7 2-7 2-7-2z"/><path fill="#ef0" d="M1223 76l7 6-7-1-7-6z"/><path fill="#5f0" d="M1074 96l7-3-7 8-7 2z"/><path fill="#0f2" d="M1053 115l7-3-7 9-6 4z"/><path fill="#ff0" d="M1109 73l7-1-7 6-7 1z"/><path fill="#8f0" d="M1244 91l7 8-7-2-7-8z"/><path fill="#1f0" d="M1265 110l7 9-7-2-7-10z"/><path fill="#fd0" d="M1209 70l7 5-7 0-7-5z"/><path fill="#fc0" d="M1123 68l8 0-8 4-7 0z"/><path fill="#af0" d="M1088 86l7-1-7 6-7 2z"/><path fill="#fb0" d="M1195 66l7 4-7 0-7-4z"/><path fill="#0f5" d="M1047 125l6-4-6 11-7 3z"/><path fill="#fa0" d="M1138 64l7 1-7 4-7-1z"/><path fill="#2f0" d="M1067 103l7-2-7 8-7 3z"/><path fill="#f90" d="M1181 63l7 3-7 1-8-3z"/><path fill="#cf0" d="M1230 82l7 7-7-1-7-7z"/><path fill="#f90" d="M1152 62l7 2-7 2-7-1zM1166 62l7 2-7 2-7-2z"/><path fill="#0f2" d="M1272 119l7 11-7-3-7-10z"/><path fill="#5f0" d="M1251 99l7 8-7-1-7-9z"/><path fill="#df0" d="M1102 79l7-1-7 6-7 1z"/><path fill="#ff0" d="M1216 75l7 6-7 0-7-6z"/><path fill="#7f0" d="M1081 93l7-2-7 8-7 2z"/><path fill="#fe0" d="M1116 72l7 0-7 5-7 1z"/><path fill="#0f0" d="M1060 112l7-3-7 10-7 2z"/><path fill="#fc0" d="M1202 70l7 5-7 0-7-5z"/><path fill="#af0" d="M1237 89l7 8-7-1-7-8z"/><path fill="#2f0" d="M1258 107l7 10-7-2-7-9z"/><path fill="#fb0" d="M1131 68l7 1-7 4-8-1z"/><path fill="#fa0" d="M1188 66l7 4-7 2-7-5zM1145 65l7 1-7 4-7-1z"/><path fill="#bf0" d="M1095 85l7-1-7 6-7 1z"/><path fill="#f90" d="M1173 64l8 3-8 2-7-3zM1159 64l7 2-7 3-7-3z"/><path fill="#df0" d="M1223 81l7 7-7 0-7-7z"/><path fill="#0f3" d="M1053 121l7-2-6 10-7 3z"/><path fill="#4f0" d="M1074 101l7-2-7 9-7 1z"/><path fill="#ff0" d="M1109 78l7-1-7 6-7 1z"/><path fill="#0f1" d="M1265 117l7 10-7-1-7-11z"/><path fill="#7f0" d="M1244 97l7 9-7-1-7-9z"/><path fill="#fe0" d="M1209 75l7 6-7 0-7-6z"/><path fill="#fd0" d="M1123 72l8 1-7 5-8-1z"/><path fill="#9f0" d="M1088 91l7-1-7 8-7 1z"/><path fill="#fc0" d="M1195 70l7 5-7 2-7-5z"/><path fill="#1f0" d="M1067 109l7-1-7 9-7 2z"/><path fill="#fb0" d="M1138 69l7 1-7 4-7-1z"/><path fill="#bf0" d="M1230 88l7 8-7 0-7-8z"/><path fill="#fa0" d="M1181 67l7 5-7 2-8-5zM1152 66l7 3-7 3-7-2zM1166 66l7 3-7 3-7-3z"/><path fill="#4f0" d="M1251 106l7 9-7-1-7-9z"/><path fill="#cf0" d="M1102 84l7-1-7 7-7 0z"/><path fill="#ef0" d="M1216 81l7 7-7 0-7-7z"/><path fill="#6f0" d="M1081 99l7-1-7 9-7 1z"/><path fill="#0f2" d="M1060 119l7-2-7 10-6 2z"/><path fill="#ff0" d="M1116 77l8 1-8 6-7-1z"/><path fill="#8f0" d="M1237 96l7 9-7-1-7-8z"/><path fill="#fd0" d="M1202 75l7 6-7 1-7-5z"/><path fill="#0f0" d="M1258 115l7 11-7-1-7-11z"/><path fill="#fc0" d="M1131 73l7 1-7 6-7-2zM1188 72l7 5-7 2-7-5z"/><path fill="#af0" d="M1095 90l7 0-7 8-7 0z"/><path fill="#fb0" d="M1145 70l7 2-7 5-7-3zM1173 69l8 5-7 2-8-4z"/><path fill="#fa0" d="M1159 69l7 3-7 4-7-4z"/><path fill="#bf0" d="M1223 88l7 8-7 0-7-8z"/><path fill="#3f0" d="M1074 108l7-1-7 9-7 1z"/><path fill="#5f0" d="M1244 105l7 9-7 0-7-10z"/><path fill="#df0" d="M1109 83l7 1-7 7-7-1z"/><path fill="#ef0" d="M1209 81l7 7-7 1-7-7z"/><path fill="#fe0" d="M1124 78l7 2-7 6-8-2z"/><path fill="#7f0" d="M1088 98l7 0-7 8-7 1z"/><path fill="#fd0" d="M1195 77l7 5-7 2-7-5z"/><path fill="#0f1" d="M1067 117l7-1-7 10-7 1z"/><path fill="#9f0" d="M1230 96l7 8-7 1-7-9z"/><path fill="#fd0" d="M1138 74l7 3-7 5-7-2z"/><path fill="#1f0" d="M1251 114l7 11-7-1-7-10z"/><path fill="#fc0" d="M1181 74l7 5-7 2-7-5z"/><path fill="#fb0" d="M1152 72l7 4-7 4-7-3zM1166 72l8 4-8 4-7-4z"/><path fill="#af0" d="M1102 90l7 1-7 8-7-1z"/><path fill="#cf0" d="M1216 88l7 8-7 1-7-8z"/><path fill="#4f0" d="M1081 107l7-1-7 10-7 0z"/><path fill="#5f0" d="M1237 104l7 10-7 0-7-9z"/><path fill="#df0" d="M1116 84l8 2-7 6-8-1z"/><path fill="#ef0" d="M1202 82l7 7-7 2-7-7z"/><path fill="#fe0" d="M1131 80l7 2-7 6-7-2zM1188 79l7 5-7 3-7-6z"/><path fill="#7f0" d="M1095 98l7 1-7 8-7-1z"/><path fill="#fd0" d="M1145 77l7 3-7 5-7-3zM1174 76l7 5-7 4-8-5z"/><path fill="#9f0" d="M1223 96l7 9-7 1-7-9z"/><path fill="#fc0" d="M1159 76l7 4-7 4-7-4z"/><path fill="#0f0" d="M1074 116l7 0-6 10-8 0z"/><path fill="#2f0" d="M1244 114l7 10-7 1-7-11z"/><path fill="#bf0" d="M1109 91l8 1-7 8-8-1z"/><path fill="#cf0" d="M1209 89l7 8-7 2-7-8z"/><path fill="#4f0" d="M1088 106l7 1-7 9-7 0z"/><path fill="#df0" d="M1124 86l7 2-7 7-7-3z"/><path fill="#ef0" d="M1195 84l7 7-7 3-7-7z"/><path fill="#6f0" d="M1230 105l7 9-7 1-7-9z"/><path fill="#ff0" d="M1138 82l7 3-7 6-7-3zM1181 81l7 6-7 4-7-6z"/><path fill="#fe0" d="M1152 80l7 4-7 5-7-4zM1166 80l8 5-8 4-7-5z"/><path fill="#8f0" d="M1102 99l8 1-7 8-8-1z"/><path fill="#9f0" d="M1216 97l7 9-7 2-7-9z"/><path fill="#1f0" d="M1081 116l7 0-6 11-7-1z"/><path fill="#2f0" d="M1237 114l7 11-7 1-7-11z"/><path fill="#bf0" d="M1117 92l7 3-7 7-7-2zM1202 91l7 8-7 3-7-8z"/><path fill="#df0" d="M1131 88l7 3-7 7-7-3zM1188 87l7 7-7 3-7-6z"/><path fill="#5f0" d="M1095 107l8 1-7 10-8-2z"/><path fill="#6f0" d="M1223 106l7 9-7 2-7-9z"/><path fill="#ef0" d="M1145 85l7 4-7 6-7-4zM1174 85l7 6-7 4-8-6z"/><path fill="#ff0" d="M1159 84l7 5-7 5-7-5z"/><path fill="#8f0" d="M1110 100l7 2-7 9-7-3z"/><path fill="#9f0" d="M1209 99l7 9-7 2-7-8z"/><path fill="#1f0" d="M1088 116l8 2-7 10-7-1z"/><path fill="#2f0" d="M1230 115l7 11-7 2-7-11z"/><path fill="#af0" d="M1124 95l7 3-7 7-7-3z"/><path fill="#bf0" d="M1195 94l7 8-7 3-7-8z"/><path fill="#cf0" d="M1138 91l7 4-7 7-7-4zM1181 91l7 6-7 5-7-7z"/><path fill="#df0" d="M1152 89l7 5-7 6-7-5zM1166 89l8 6-8 5-7-6z"/><path fill="#5f0" d="M1103 108l7 3-7 9-7-2zM1216 108l7 9-7 3-7-10z"/><path fill="#7f0" d="M1117 102l7 3-7 9-7-3z"/><path fill="#8f0" d="M1202 102l7 8-7 4-7-9z"/><path fill="#9f0" d="M1131 98l7 4-7 8-7-5z"/><path fill="#af0" d="M1188 97l7 8-7 4-7-7z"/><path fill="#1f0" d="M1096 118l7 2-7 11-7-3z"/><path fill="#2f0" d="M1223 117l7 11-7 3-7-11z"/><path fill="#af0" d="M1145 95l7 5-7 7-7-5z"/><path fill="#bf0" d="M1174 95l7 7-7 5-8-7zM1159 94l7 6-7 6-7-6z"/><path fill="#4f0" d="M1110 111l7 3-7 9-7-3z"/><path fill="#5f0" d="M1209 110l7 10-7 3-7-9z"/><path fill="#6f0" d="M1124 105l7 5-7 8-7-4z"/><path fill="#7f0" d="M1195 105l7 9-7 4-7-9z"/><path fill="#8f0" d="M1138 102l7 5-7 8-7-5zM1181 102l7 7-7 6-7-8z"/><path fill="#9f0" d="M1152 100l7 6-7 7-7-6zM1166 100l8 7-8 6-7-7z"/><path fill="#1f0" d="M1103 120l7 3-7 11-7-3zM1216 120l7 11-7 3-7-11z"/><path fill="#3f0" d="M1117 114l7 4-7 10-7-5z"/><path fill="#4f0" d="M1202 114l7 9-7 5-7-10z"/><path fill="#5f0" d="M1131 110l7 5-7 8-7-5zM1188 109l7 9-7 5-7-8z"/><path fill="#6f0" d="M1145 107l7 6-7 8-7-6zM1174 107l7 8-7 6-8-8z"/><path fill="#7f0" d="M1159 106l7 7-7 7-7-7z"/><path fill="#0f0" d="M1209 123l7 11-7 5-7-11zM1110 123l7 5-7 10-7-4z"/><path fill="#2f0" d="M1195 118l7 10-7 5-7-10zM1124 118l7 5-7 10-7-5z"/><path fill="#4f0" d="M1181 115l7 8-7 6-7-8z"/><path fill="#3f0" d="M1138 115l7 6-7 8-7-6z"/><path fill="#4f0" d="M1166 113l8 8-7 7-8-8zM1152 113l7 7-7 7-7-6z"/><path fill="#0f1" d="M1202 128l7 11-7 5-7-11zM1117 128l7 5-7 10-7-5z"/><path fill="#0f0" d="M1188 123l7 10-7 6-7-10zM1131 123l7 6-7 10-7-6z"/><path fill="#1f0" d="M1174 121l7 8-7 7-7-8zM1145 121l7 6-7 9-7-7z"/><path fill="#2f0" d="M1159 120l8 8-8 7-7-8z"/><path fill="#0f3" d="M1195 133l7 11-7 6-7-11zM1124 133l7 6-7 10-7-6z"/><path fill="#0f1" d="M1181 129l7 10-7 7-7-10zM1138 129l7 7-7 10-7-7zM1167 128l7 8-7 8-8-9zM1152 127l7 8-7 9-7-8z"/><path fill="#0f5" d="M1188 139l7 11-7 7-7-11zM1131 139l7 7-7 10-7-7z"/><path fill="#0f4" d="M1174 136l7 10-7 8-7-10zM1145 136l7 8-7 10-7-8z"/><path fill="#0f3" d="M1159 135l8 9-8 9-7-9z"/><path fill="#0f7" d="M1181 146l7 11-7 8-7-11zM1138 146l7 8-7 10-7-8z"/><path fill="#0f6" d="M1167 144l7 10-7 9-8-10zM1152 144l7 9-7 10-7-9z"/><path fill="#0f9" d="M1174 154l7 11-7 9-7-11zM1145 154l7 9-6 10-8-9zM1159 153l8 10-7 10-8-10z"/><path fill="#0fb" d="M1167 163l7 11-7 10-7-11zM1152 163l8 10-7 11-7-11z"/><path fill="#0fd" d="M1160 173l7 11-7 11-7-11z"/></g>
<circle cx="579.4" cy="21.2" r="1.6" fill="#b00c0c"/><circle cx="579.4" cy="25.6" r="1.6" fill="#b00c0c"/><circle cx="509.9" cy="78.1" r="1.5" fill="#f6dede" stroke="#c04848" stroke-width="0.5"/><circle cx="649.5" cy="71.3" r="1.6" fill="#b00c0c"/><circle cx="579.4" cy="98.9" r="1.5" fill="#f6dede" stroke="#c04848" stroke-width="0.5"/>
<!-- B1 -->
<g stroke="#777" stroke-width="0.9" fill="none"><polyline points="76.3,265 141.9,243 207,264.8"/><polyline points="75.5,248.1 141.8,227.8 207.8,248"/><polyline points="74.7,231.3 141.7,212.6 208.6,231.2"/><polyline points="74,214.4 141.6,197.5 209.4,214.4"/><polyline points="73.2,197.6 141.5,182.3 210.2,197.6"/><line x1="125.5" y1="248.5" x2="124.4" y2="186.1"/><line x1="109.1" y1="254" x2="107.3" y2="189.9"/><line x1="92.7" y1="259.5" x2="90.3" y2="193.8"/><line x1="163.6" y1="250.2" x2="164.4" y2="187.4"/><line x1="185.3" y1="257.5" x2="187.3" y2="192.5"/><line x1="77.2" y1="285.7" x2="73.2" y2="197.6"/><line x1="142" y1="261.6" x2="141.5" y2="182.3"/><line x1="206" y1="285.4" x2="210.2" y2="197.6"/></g>
<g stroke="#222" stroke-width="1"><line x1="74.1" y1="265.5" x2="76.3" y2="265"/><line x1="73.3" y1="248.6" x2="75.5" y2="248.1"/><line x1="72.5" y1="231.8" x2="74.7" y2="231.3"/><line x1="71.8" y1="214.9" x2="74" y2="214.4"/><line x1="71" y1="198.1" x2="73.2" y2="197.6"/></g>
<polygon points="142,261.6 77.2,285.7 141.5,316.9 206,285.4" fill="#646464" stroke="#444" stroke-width="0.6"/>
<g transform="scale(.5)" fill="none" stroke-width="2.0"><path d="M311 585l4 -2 3 -1 3 -2 2 -1 2 -1 2 -2 2 -1 1 -2 2 -1 1 -1 0 -2 1 -1 1 -1 0 -2 0 -1 0 -2 0 -1 0 -1 -1 -2 -1 -1 0 -1 -1 -1 -2 -2 -1 -1 -2 -1 -1 -1 -3 -2 -3 -1 -2 -1 -3 -1 -2 -1 -4 -1 -3 -1 -4 -1 -3 0 -3 -1 -3 0 -3 0 -4 -1 -3 0 -3 0 -3 0 -4 0 -3 0 -3 0 -3 0 -4 0 -2 1 -3 0 -4 0 -4 1 -3 1 -2 0 -4 1 -3 1 -3 1 -4 1 -3 1 -2 1 -2 2 -2 1 -2 1 -1 2 -1 1 -2 1 0 2 -1 1 0 1 -1 1 0 2 0 1 0 1 0 2 1 1 0 1 1 2 1 1 2 2 1 1 2 2 2 1 2 2 2 1 3 1 3 2 3 1 3 1 4 1 3 1 3 0 3 1 3 1 4 0 3 0 4 1 3 0 3 0 3 0 3 0 3 0 4 0 3 -1 3 0 3 0 4 -1 3 -1 3 0 3 -1 4 -1 2 -1" stroke="#e0ff00"/><path d="M293 527l-3 -1 -3 0 -4 0 -2 0 -4 0" stroke="#14ff00"/><path d="M177 563l0 1 1 1 0 2 0 1 1 2 0 1 1 2 1 1 1 1 1 2 2 1 1 2 1 1 2 1 2 2 2 1 2 2 2 1 3 2 3 2 3 1 4 2 3 1 3 1 3 1 3 1 4 1 3 1 3 1 3 1 4 0 3 1 3 0 3 1 3 0 3 1 4 0 3 0 3 0 4 0 2 0 4 0 3 0 4 0 3 0 3 0 3 0 4 -1 3 0 3 -1 3 0 4 -1 3 0 3 -1 3 -1 3 -1 4 -1 2 0 4 -2 3 -1 3 -1 3 -2 4 -1 3 -2 2 -1 2 -1 3 -2 2 -1 2 -2 2 -2 1 -1 1 -1 2 -2 1 -1 1 -2 1 -1 1 -1 1 -2 0 -1 1 -2 0 -1 0 -2 1 -1 0 -1 0 -1 -1 -2 0 -1 0 -2 -1 -1 0 -1" stroke="#14ff00"/><path d="M155 571l0 1" stroke="#00ff8f"/><path d="M248 617l2 0 3 0 4 0 3 1 3 0 4 0 2 0 4 0 3 0 4 0 2 0 4 0 3 -1 3 0 3 0 3 -1 4 0 3 0 4 -1 3 -1 3 0 3 -1 3 0 3 -1 4 -1 3 -1 2 -1" stroke="#00ff8f"/><path d="M376 588l2 -1 1 -2 2 -1 2 -2 1 -1 1 -2 2 -1 1 -2 1 -1 0 -2 1 -1 1 -1 0 -1 1 -2 0 -1 1 -2 0 -1" stroke="#00ff8f"/><path d="M270 628l4 0 3 0 4 0 2 -1 4 0 3 0 3 0 3 0 2 -1" stroke="#00ccff"/><path d="M411 571l0 -1" stroke="#00ccff"/></g>
<g transform="scale(.5)" stroke="#000" stroke-opacity="0.42" stroke-width="0.8" stroke-linejoin="round"><path fill="#0f3" d="M283 423l7-2-7-2-6 1z"/><path fill="#0f1" d="M290 421l7-1-7-3-7 2zM277 420l6-1-6-3-7 2z"/><path fill="#1f0" d="M297 420l6-1-6-3-7 1z"/><path fill="#2f0" d="M283 419l7-2-7-2-6 1zM270 418l7-2-7-1-7 2z"/><path fill="#3f0" d="M303 419l7 0-6-3-7 0z"/><path fill="#4f0" d="M290 417l7-1-7-2-7 1z"/><path fill="#5f0" d="M263 417l7-2-7-2-7 2zM277 416l6-1-6-2-7 2zM310 419l7 0-7-3-6 0z"/><path fill="#6f0" d="M297 416l7 0-7-2-7 0z"/><path fill="#7f0" d="M256 415l7-2-7 0-6 2zM283 415l7-1-7-2-6 1zM270 415l7-2-7-1-7 1z"/><path fill="#6f0" d="M317 419l7 1-7-3-7-1z"/><path fill="#8f0" d="M304 416l6 0-6-2-7 0z"/><path fill="#9f0" d="M250 415l6-2-7-1-6 3zM290 414l7 0-7-2-7 0z"/><path fill="#af0" d="M263 413l7-1-7-1-7 2zM277 413l6-1-6-1-7 1z"/><path fill="#7f0" d="M324 420l6 1-6-3-7-1z"/><path fill="#9f0" d="M310 416l7 1-7-3-6 0z"/><path fill="#af0" d="M243 415l6-3-6 1-7 2z"/><path fill="#bf0" d="M297 414l7 0-7-2-7 0zM256 413l7-2-7 0-7 1z"/><path fill="#cf0" d="M283 412l7 0-7-2-6 1zM270 412l7-1-7-1-7 1z"/><path fill="#7f0" d="M330 421l7 2-6-3-7-2z"/><path fill="#af0" d="M317 417l7 1-7-2-7-2z"/><path fill="#bf0" d="M236 415l7-2-7 1-7 2z"/><path fill="#cf0" d="M304 414l6 0-6-1-7-1z"/><path fill="#df0" d="M249 412l7-1-7 0-6 2zM290 412l7 0-7-1-7-1z"/><path fill="#ef0" d="M263 411l7-1-7 0-7 1zM277 411l6-1-7 0-6 0z"/><path fill="#7f0" d="M337 423l7 3-7-3-6-3z"/><path fill="#af0" d="M324 418l7 2-7-2-7-2z"/><path fill="#bf0" d="M229 416l7-2-7 1-6 3z"/><path fill="#df0" d="M310 414l7 2-7-2-6-1z"/><path fill="#ef0" d="M243 413l6-2-6 1-7 2z"/><path fill="#ff0" d="M297 412l7 1-7-2-7 0zM256 411l7-1-7 0-7 1zM283 410l7 1-7-1-7 0z"/><path fill="#fe0" d="M270 410l6 0-6-1-7 1z"/><path fill="#7f0" d="M344 426l7 3-7-3-7-3z"/><path fill="#af0" d="M331 420l6 3-6-3-7-2z"/><path fill="#bf0" d="M223 418l6-3-7 3-6 2z"/><path fill="#df0" d="M317 416l7 2-7-2-7-2z"/><path fill="#ef0" d="M236 414l7-2-7 2-7 1z"/><path fill="#ff0" d="M304 413l6 1-6-1-7-2z"/><path fill="#6f0" d="M351 429l6 4-6-3-7-4z"/><path fill="#fe0" d="M249 411l7-1-7 1-6 1z"/><path fill="#fd0" d="M290 411l7 0-7-1-7 0zM263 410l7-1-7 1-7 0zM276 410l7 0-6 0-7-1z"/><path fill="#af0" d="M337 423l7 3-7-3-6-3z"/><path fill="#bf0" d="M216 420l6-2-6 2-7 2z"/><path fill="#df0" d="M324 418l7 2-7-2-7-2z"/><path fill="#ef0" d="M229 415l7-1-7 2-7 2z"/><path fill="#5f0" d="M357 433l7 4-7-3-6-4z"/><path fill="#fe0" d="M310 414l7 2-7-2-6-1zM243 412l6-1-6 2-7 1z"/><path fill="#fd0" d="M297 411l7 2-7-1-7-2z"/><path fill="#fc0" d="M256 410l7 0-7 1-7 0zM283 410l7 0-7 0-6 0zM270 409l7 1-7 0-7 0z"/><path fill="#9f0" d="M344 426l7 4-7-3-7-4z"/><path fill="#af0" d="M209 422l7-2-7 4-7 2z"/><path fill="#df0" d="M331 420l6 3-6-2-7-3z"/><path fill="#3f0" d="M364 437l7 5-7-3-7-5z"/><path fill="#ef0" d="M222 418l7-2-7 3-6 1z"/><path fill="#ff0" d="M317 416l7 2-7-1-7-3z"/><path fill="#fe0" d="M236 414l7-1-7 2-7 1z"/><path fill="#fc0" d="M304 413l6 1-6 0-7-2z"/><path fill="#8f0" d="M351 430l6 4-6-3-7-4z"/><path fill="#fc0" d="M249 411l7 0-7 1-6 1z"/><path fill="#fb0" d="M290 410l7 2-7-1-7-1zM263 410l7 0-7 1-7 0zM277 410l6 0-6 1-7-1z"/><path fill="#9f0" d="M202 426l7-2-7 3-6 3z"/><path fill="#1f0" d="M371 442l6 5-6-2-7-6z"/><path fill="#cf0" d="M337 423l7 4-7-2-6-4z"/><path fill="#df0" d="M216 420l6-1-6 3-7 2z"/><path fill="#ff0" d="M324 418l7 3-7-1-7-3z"/><path fill="#6f0" d="M357 434l7 5-7-3-6-5z"/><path fill="#fe0" d="M229 416l7-1-7 3-7 1z"/><path fill="#fd0" d="M310 414l7 3-7-1-6-2z"/><path fill="#fc0" d="M243 413l6-1-6 2-7 1z"/><path fill="#8f0" d="M196 430l6-3-6 5-7 2z"/><path fill="#0f0" d="M377 447l7 7-7-3-6-6z"/><path fill="#fb0" d="M297 412l7 2-7-1-7-2z"/><path fill="#fa0" d="M256 411l7 0-7 1-7 0zM283 410l7 1-7 1-6-1zM270 410l7 1-7 0-7 0z"/><path fill="#af0" d="M344 427l7 4-7-1-7-5z"/><path fill="#cf0" d="M209 424l7-2-7 4-7 1z"/><path fill="#ef0" d="M331 421l6 4-6-1-7-4z"/><path fill="#4f0" d="M364 439l7 6-7-3-7-6z"/><path fill="#ff0" d="M222 419l7-1-7 3-6 1z"/><path fill="#0f2" d="M384 454l6 7-6-3-7-7z"/><path fill="#fd0" d="M317 417l7 3-7-1-7-3z"/><path fill="#6f0" d="M189 434l7-2-7 5-7 2z"/><path fill="#fc0" d="M236 415l7-1-7 3-7 1z"/><path fill="#fb0" d="M304 414l6 2-6 0-7-3z"/><path fill="#9f0" d="M351 431l6 5-6-1-7-5z"/><path fill="#fa0" d="M249 412l7 0-7 2-6 0zM290 411l7 2-7 1-7-2z"/><path fill="#f90" d="M263 411l7 0-7 2-7-1zM277 411l6 1-6 1-7-2z"/><path fill="#af0" d="M202 427l7-1-7 4-6 2z"/><path fill="#2f0" d="M371 445l6 6-6-3-7-6z"/><path fill="#df0" d="M337 425l7 5-7-2-6-4z"/><path fill="#0f4" d="M390 461l7 7-7-3-6-7z"/><path fill="#ef0" d="M216 422l6-1-6 4-7 1z"/><path fill="#3f0" d="M182 439l7-2-7 6-6 2z"/><path fill="#fe0" d="M324 420l7 4-7-1-7-4z"/><path fill="#6f0" d="M357 436l7 6-7-2-6-5z"/><path fill="#fd0" d="M229 418l7-1-7 3-7 1z"/><path fill="#fc0" d="M310 416l7 3-7 0-6-3z"/><path fill="#0f0" d="M377 451l7 7-7-3-6-7z"/><path fill="#fb0" d="M243 414l6 0-6 3-7 0z"/><path fill="#8f0" d="M196 432l6-2-6 6-7 1z"/><path fill="#0f7" d="M397 468l6 8-6-2-7-9z"/><path fill="#fa0" d="M297 413l7 3-7 0-7-2z"/><path fill="#f90" d="M256 412l7 1-7 2-7-1zM283 412l7 2-7 1-6-2z"/><path fill="#bf0" d="M344 430l7 5-7-2-7-5z"/><path fill="#f90" d="M270 411l7 2-7 1-7-1z"/><path fill="#1f0" d="M176 445l6-2-6 6-7 3z"/><path fill="#cf0" d="M209 426l7-1-7 4-7 1z"/><path fill="#4f0" d="M364 442l7 6-7-2-7-6z"/><path fill="#ff0" d="M331 424l6 4-6-1-7-4z"/><path fill="#0f9" d="M403 476l6 9-6-3-6-8z"/><path fill="#0f2" d="M384 458l6 7-6-2-7-8z"/><path fill="#fe0" d="M222 421l7-1-7 4-6 1z"/><path fill="#fd0" d="M317 419l7 4-7 0-7-4z"/><path fill="#6f0" d="M189 437l7-1-7 5-7 2z"/><path fill="#fc0" d="M236 417l7 0-7 3-7 0z"/><path fill="#9f0" d="M351 435l6 5-6-1-7-6z"/><path fill="#fa0" d="M304 416l6 3-6 0-7-3z"/><path fill="#0f2" d="M169 452l7-3-7 8-6 2z"/><path fill="#fa0" d="M249 414l7 1-7 3-6-1z"/><path fill="#f90" d="M290 414l7 2-7 1-7-2zM263 413l7 1-7 2-7-1zM277 413l6 2-6 1-7-2z"/><path fill="#0fa" d="M409 485l7 10-7-3-6-10z"/><path fill="#af0" d="M202 430l7-1-7 6-6 1z"/><path fill="#2f0" d="M371 448l6 7-6-2-7-7z"/><path fill="#0f5" d="M390 465l7 9-7-3-6-8z"/><path fill="#df0" d="M337 428l7 5-7-1-6-5z"/><path fill="#3f0" d="M182 443l7-2-7 7-6 1z"/><path fill="#ef0" d="M216 425l6-1-6 5-7 0z"/><path fill="#fe0" d="M324 423l7 4-7 0-7-4z"/><path fill="#0f4" d="M163 459l6-2-6 7-7 2z"/><path fill="#6f0" d="M357 440l7 6-7-1-6-6z"/><path fill="#fd0" d="M229 420l7 0-7 4-7 0z"/><path fill="#fb0" d="M310 419l7 4-7 0-6-4z"/><path fill="#0f1" d="M377 455l7 8-7-2-6-8z"/><path fill="#0f7" d="M397 474l6 8-6-2-7-9z"/><path fill="#8f0" d="M196 436l6-1-6 5-7 1z"/><path fill="#fb0" d="M243 417l6 1-6 3-7-1z"/><path fill="#fa0" d="M297 416l7 3-7 1-7-3z"/><path fill="#f90" d="M256 415l7 1-7 3-7-1z"/><path fill="#bf0" d="M344 433l7 6-7-1-7-6z"/><path fill="#f90" d="M283 415l7 2-7 2-6-3zM270 414l7 2-7 2-7-2z"/><path fill="#0f0" d="M176 449l6-1-6 7-7 2z"/><path fill="#0f7" d="M156 466l7-2-6 9-7 2z"/><path fill="#cf0" d="M209 429l7 0-7 5-7 1z"/><path fill="#3f0" d="M364 446l7 7-7-1-7-7z"/><path fill="#ef0" d="M331 427l6 5-6 0-7-5z"/><path fill="#0f9" d="M403 482l6 10-6-2-6-10z"/><path fill="#0f3" d="M384 463l6 8-6-2-7-8z"/><path fill="#ff0" d="M222 424l7 0-7 5-6 0z"/><path fill="#5f0" d="M189 441l7-1-7 7-7 1z"/><path fill="#fd0" d="M317 423l7 4-7 0-7-4z"/><path fill="#8f0" d="M351 439l6 6-6-1-7-6z"/><path fill="#fc0" d="M236 420l7 1-7 4-7-1z"/><path fill="#0f2" d="M169 457l7-2-7 8-6 1z"/><path fill="#fb0" d="M304 419l6 4-6 1-7-4z"/><path fill="#fa0" d="M249 418l7 1-7 3-6-1z"/><path fill="#f90" d="M290 417l7 3-7 2-7-3z"/><path fill="#1f0" d="M371 453l6 8-6-1-7-8z"/><path fill="#f90" d="M263 416l7 2-7 3-7-2z"/><path fill="#af0" d="M202 435l7-1-7 6-6 0z"/><path fill="#f90" d="M277 416l6 3-6 2-7-3z"/><path fill="#0f6" d="M390 471l7 9-7-2-6-9z"/><path fill="#cf0" d="M337 432l7 6-7 0-6-6z"/><path fill="#2f0" d="M182 448l7-1-6 7-7 1z"/><path fill="#df0" d="M216 429l6 0-6 5-7 0z"/><path fill="#0f5" d="M163 464l6-1-6 8-6 2z"/><path fill="#ff0" d="M324 427l7 5-7 0-7-5z"/><path fill="#5f0" d="M357 445l7 7-7-1-6-7z"/><path fill="#0f9" d="M397 480l6 10-7-2-6-10z"/><path fill="#fe0" d="M229 424l7 1-7 5-7-1z"/><path fill="#0f2" d="M377 461l7 8-7-1-6-8z"/><path fill="#fc0" d="M310 423l7 4-7 1-6-4z"/><path fill="#7f0" d="M196 440l6 0-6 6-7 1z"/><path fill="#fb0" d="M243 421l6 1-6 4-7-1z"/><path fill="#fa0" d="M297 420l7 4-7 1-7-3z"/><path fill="#9f0" d="M344 438l7 6-7 0-7-6z"/><path fill="#fa0" d="M256 419l7 2-7 3-7-2zM283 419l7 3-7 2-6-3z"/><path fill="#f90" d="M270 418l7 3-7 2-7-2z"/><path fill="#0f1" d="M176 455l7-1-7 8-7 1z"/><path fill="#bf0" d="M209 434l7 0-7 6-7 0z"/><path fill="#2f0" d="M364 452l7 8-7-1-7-8z"/><path fill="#0f5" d="M384 469l6 9-7-1-6-9z"/><path fill="#df0" d="M331 432l6 6-6 0-7-6z"/><path fill="#ef0" d="M222 429l7 1-6 5-7-1z"/><path fill="#3f0" d="M189 447l7-1-7 8-6 0z"/><path fill="#fe0" d="M317 427l7 5-7 1-7-5z"/><path fill="#6f0" d="M351 444l6 7-6 0-7-7z"/><path fill="#0f4" d="M169 463l7-1-6 8-7 1z"/><path fill="#fd0" d="M236 425l7 1-7 5-7-1z"/><path fill="#fc0" d="M304 424l6 4-6 2-7-5z"/><path fill="#0f1" d="M371 460l6 8-7 0-6-9z"/><path fill="#0f8" d="M390 478l6 10-6-1-7-10z"/><path fill="#fb0" d="M249 422l7 2-6 4-7-2zM290 422l7 3-7 3-7-4z"/><path fill="#8f0" d="M202 440l7 0-6 7-7-1z"/><path fill="#fa0" d="M263 421l7 2-7 4-7-3zM277 421l6 3-6 3-7-4z"/><path fill="#af0" d="M337 438l7 6-7 1-6-7z"/><path fill="#0f0" d="M183 454l6 0-6 8-7 0z"/><path fill="#cf0" d="M216 434l7 1-7 6-7-1z"/><path fill="#3f0" d="M357 451l7 8-7 0-6-8z"/><path fill="#ef0" d="M324 432l7 6-7 1-7-6z"/><path fill="#0f4" d="M377 468l6 9-6 0-7-9z"/><path fill="#ff0" d="M229 430l7 1-7 5-6-1z"/><path fill="#fe0" d="M310 428l7 5-7 2-6-5z"/><path fill="#5f0" d="M196 446l7 1-7 7-7 0z"/><path fill="#fd0" d="M243 426l7 2-7 5-7-2z"/><path fill="#7f0" d="M344 444l7 7-7 1-7-7z"/><path fill="#fc0" d="M297 425l7 5-7 2-7-4z"/><path fill="#0f3" d="M176 462l7 0-7 8-6 0z"/><path fill="#fc0" d="M256 424l7 3-7 4-6-3z"/><path fill="#fb0" d="M283 424l7 4-7 2-6-3zM270 423l7 4-7 3-7-3z"/><path fill="#0f0" d="M364 459l6 9-6 0-7-9z"/><path fill="#9f0" d="M209 440l7 1-7 6-6 0z"/><path fill="#0f7" d="M383 477l7 10-7 0-6-10z"/><path fill="#bf0" d="M331 438l6 7-6 1-7-7z"/><path fill="#cf0" d="M223 435l6 1-6 6-7-1z"/><path fill="#1f0" d="M189 454l7 0-7 8-6 0z"/><path fill="#ef0" d="M317 433l7 6-7 2-7-6z"/><path fill="#4f0" d="M351 451l6 8-6 1-7-8z"/><path fill="#ff0" d="M236 431l7 2-7 5-7-2z"/><path fill="#fe0" d="M304 430l6 5-6 2-7-5z"/><path fill="#0f3" d="M370 468l7 9-7 0-6-9z"/><path fill="#fd0" d="M250 428l6 3-6 4-7-2z"/><path fill="#5f0" d="M203 447l6 0-6 8-7-1z"/><path fill="#fd0" d="M290 428l7 4-7 3-7-5z"/><path fill="#fc0" d="M263 427l7 3-7 4-7-3zM277 427l6 3-6 4-7-4z"/><path fill="#8f0" d="M337 445l7 7-7 1-6-7z"/><path fill="#0f2" d="M183 462l6 0-6 9-7-1z"/><path fill="#9f0" d="M216 441l7 1-7 7-7-2z"/><path fill="#0f0" d="M357 459l7 9-7 0-6-8z"/><path fill="#bf0" d="M324 439l7 7-7 1-7-6z"/><path fill="#0f6" d="M377 477l6 10-6 0-7-10z"/><path fill="#cf0" d="M229 436l7 2-7 6-6-2z"/><path fill="#df0" d="M310 435l7 6-7 2-6-6z"/><path fill="#2f0" d="M196 454l7 1-7 8-7-1z"/><path fill="#ef0" d="M243 433l7 2-7 6-7-3z"/><path fill="#4f0" d="M344 452l7 8-7 1-7-8z"/><path fill="#ff0" d="M297 432l7 5-7 3-7-5z"/><path fill="#fe0" d="M256 431l7 3-7 5-6-4zM283 430l7 5-7 3-6-4zM270 430l7 4-7 4-7-4z"/><path fill="#0f2" d="M364 468l6 9-6 0-7-9z"/><path fill="#6f0" d="M209 447l7 2-7 7-6-1z"/><path fill="#8f0" d="M331 446l6 7-6 1-7-7z"/><path fill="#0f1" d="M189 462l7 1-6 8-7 0z"/><path fill="#9f0" d="M223 442l6 2-6 7-7-2z"/><path fill="#bf0" d="M317 441l7 6-7 3-7-7z"/><path fill="#1f0" d="M351 460l6 8-7 1-6-8z"/><path fill="#0f6" d="M370 477l7 10-7 0-6-10z"/><path fill="#cf0" d="M236 438l7 3-7 6-7-3z"/><path fill="#df0" d="M304 437l6 6-6 3-7-6z"/><path fill="#2f0" d="M203 455l6 1-6 8-7-1z"/><path fill="#ef0" d="M250 435l6 4-6 5-7-3zM290 435l7 5-7 3-7-5z"/><path fill="#ff0" d="M263 434l7 4-7 5-7-4zM277 434l6 4-6 4-7-4z"/><path fill="#4f0" d="M337 453l7 8-7 1-6-8z"/><path fill="#6f0" d="M216 449l7 2-7 7-7-2z"/><path fill="#0f2" d="M357 468l7 9-7 2-7-10z"/><path fill="#7f0" d="M324 447l7 7-7 3-7-7z"/><path fill="#9f0" d="M229 444l7 3-7 7-6-3z"/><path fill="#0f1" d="M196 463l7 1-7 9-6-2z"/><path fill="#af0" d="M310 443l7 7-7 2-6-6z"/><path fill="#1f0" d="M344 461l6 8-6 2-7-9z"/><path fill="#bf0" d="M243 441l7 3-7 6-7-3z"/><path fill="#cf0" d="M297 440l7 6-7 3-7-6zM256 439l7 4-7 5-6-4z"/><path fill="#0f6" d="M364 477l6 10-7 2-6-10z"/><path fill="#df0" d="M283 438l7 5-7 5-6-6zM270 438l7 4-7 5-7-4z"/><path fill="#2f0" d="M209 456l7 2-6 8-7-2z"/><path fill="#4f0" d="M331 454l6 8-7 3-6-8z"/><path fill="#5f0" d="M223 451l6 3-6 7-7-3z"/><path fill="#0f2" d="M350 469l7 10-7 1-6-9z"/><path fill="#7f0" d="M317 450l7 7-7 3-7-8z"/><path fill="#8f0" d="M236 447l7 3-7 7-7-3z"/><path fill="#9f0" d="M304 446l6 6-6 4-7-7z"/><path fill="#0f1" d="M203 464l7 2-7 9-7-2z"/><path fill="#af0" d="M250 444l6 4-6 6-7-4zM290 443l7 6-7 5-7-6z"/><path fill="#0f0" d="M337 462l7 9-7 3-7-9z"/><path fill="#bf0" d="M263 443l7 4-7 6-7-5zM277 442l6 6-6 5-7-6z"/><path fill="#0f6" d="M357 479l6 10-6 2-7-11z"/><path fill="#1f0" d="M216 458l7 3-7 8-6-3z"/><path fill="#3f0" d="M324 457l6 8-6 3-7-8z"/><path fill="#4f0" d="M229 454l7 3-6 7-7-3z"/><path fill="#6f0" d="M310 452l7 8-7 3-6-7z"/><path fill="#0f3" d="M344 471l6 9-6 3-7-9z"/><path fill="#7f0" d="M243 450l7 4-7 7-7-4zM297 449l7 7-7 4-7-6z"/><path fill="#8f0" d="M256 448l7 5-7 6-6-5zM283 448l7 6-7 5-6-6z"/><path fill="#9f0" d="M270 447l7 6-7 5-7-5z"/><path fill="#0f2" d="M210 466l6 3-6 9-7-3z"/><path fill="#0f0" d="M330 465l7 9-7 3-6-9z"/><path fill="#1f0" d="M223 461l7 3-7 9-7-4z"/><path fill="#0f6" d="M350 480l7 11-7 2-6-10z"/><path fill="#2f0" d="M317 460l7 8-7 4-7-9z"/><path fill="#3f0" d="M236 457l7 4-7 8-6-5z"/><path fill="#4f0" d="M304 456l6 7-6 5-7-8z"/><path fill="#5f0" d="M250 454l6 5-6 7-7-5z"/><path fill="#0f3" d="M337 474l7 9-7 3-7-9z"/><path fill="#5f0" d="M290 454l7 6-7 5-7-6z"/><path fill="#6f0" d="M263 453l7 5-7 6-7-5zM277 453l6 6-6 5-7-6z"/><path fill="#0f3" d="M216 469l7 4-7 9-6-4z"/><path fill="#0f1" d="M324 468l6 9-6 3-7-8zM230 464l6 5-6 8-7-4z"/><path fill="#0f0" d="M310 463l7 9-7 4-6-8z"/><path fill="#0f7" d="M344 483l6 10-7 4-6-11z"/><path fill="#1f0" d="M243 461l7 5-7 7-7-4z"/><path fill="#2f0" d="M297 460l7 8-7 5-7-8z"/><path fill="#3f0" d="M256 459l7 5-6 7-7-5zM283 459l7 6-7 6-6-7zM270 458l7 6-7 6-7-6z"/><path fill="#0f4" d="M330 477l7 9-7 4-6-10zM223 473l7 4-7 9-7-4z"/><path fill="#0f3" d="M317 472l7 8-7 5-7-9z"/><path fill="#0f2" d="M236 469l7 4-6 9-7-5z"/><path fill="#0f1" d="M304 468l6 8-6 5-7-8z"/><path fill="#0f8" d="M337 486l6 11-6 4-7-11z"/><path fill="#0f1" d="M250 466l7 5-7 8-7-6z"/><path fill="#0f0" d="M290 465l7 8-7 6-7-8zM263 464l7 6-7 8-6-7zM277 464l6 7-6 6-7-7z"/><path fill="#0f6" d="M324 480l6 10-7 5-6-10z"/><path fill="#0f5" d="M230 477l7 5-7 9-7-5z"/><path fill="#0f4" d="M310 476l7 9-7 5-6-9z"/><path fill="#0f3" d="M243 473l7 6-7 9-6-6zM297 473l7 8-7 6-7-8z"/><path fill="#0f2" d="M257 471l6 7-6 7-7-6zM283 471l7 8-7 6-6-8zM270 470l7 7-7 8-7-7z"/><path fill="#0f9" d="M330 490l7 11-7 4-7-10z"/><path fill="#0f7" d="M317 485l6 10-6 5-7-10z"/><path fill="#0f6" d="M237 482l6 6-6 9-7-6zM304 481l6 9-7 6-6-9z"/><path fill="#0f5" d="M250 479l7 6-7 9-7-6zM290 479l7 8-7 7-7-9zM263 478l7 7-7 7-6-7z"/><path fill="#0f4" d="M277 477l6 8-6 7-7-7z"/><path fill="#0fb" d="M323 495l7 10-7 6-6-11z"/><path fill="#0f9" d="M310 490l7 10-7 6-7-10z"/><path fill="#0f8" d="M243 488l7 6-7 9-6-6zM297 487l6 9-6 7-7-9z"/><path fill="#0f7" d="M257 485l6 7-6 9-7-7zM283 485l7 9-7 7-6-9zM270 485l7 7-7 8-7-8z"/><path fill="#0fc" d="M317 500l6 11-6 6-7-11z"/><path fill="#0fb" d="M303 496l7 10-7 7-6-10z"/><path fill="#0fa" d="M250 494l7 7-7 10-7-8zM290 494l7 9-7 7-7-9zM263 492l7 8-7 9-6-8zM277 492l6 9-6 8-7-9z"/><path fill="#0fe" d="M310 506l7 11-7 7-7-11z"/><path fill="#0fd" d="M297 503l6 10-6 7-7-10zM257 501l6 8-6 10-7-8zM283 501l7 9-7 8-6-9z"/><path fill="#0fc" d="M270 500l7 9-7 9-7-9z"/><path fill="#0ef" d="M303 513l7 11-7 7-6-11z"/><path fill="#0ff" d="M290 510l7 10-7 9-7-11zM263 509l7 9-7 10-6-9zM277 509l6 9-6 9-7-9z"/><path fill="#0df" d="M297 520l6 11-6 9-7-11zM283 518l7 11-7 9-6-11zM270 518l7 9-7 10-7-9z"/><path fill="#0bf" d="M290 529l7 11-7 9-7-11zM277 527l6 11-6 10-7-11z"/><path fill="#08f" d="M283 538l7 11-7 10-6-11z"/></g>
<circle cx="141.4" cy="200.8" r="1.6" fill="#b00c0c"/><circle cx="141.4" cy="210.3" r="1.6" fill="#b00c0c"/><circle cx="74.9" cy="237.6" r="1.5" fill="#f6dede" stroke="#c04848" stroke-width="0.5"/><circle cx="207.7" cy="247.5" r="1.6" fill="#b00c0c"/><circle cx="141.4" cy="274.3" r="1.6" fill="#b00c0c"/>
<!-- B2 -->
<g stroke="#777" stroke-width="0.9" fill="none"><polyline points="296.5,263.1 361.3,241.4 426.1,263.1"/><polyline points="295.8,246.4 361.3,226.5 426.8,246.5"/><polyline points="295.1,229.8 361.4,211.5 427.5,229.8"/><polyline points="294.4,213.1 361.4,196.6 428.2,213.2"/><polyline points="293.7,196.5 361.4,181.7 428.9,196.6"/><line x1="345.1" y1="246.8" x2="344.5" y2="185.4"/><line x1="328.9" y1="252.2" x2="327.5" y2="189.1"/><line x1="312.7" y1="257.6" x2="310.6" y2="192.8"/><line x1="377.5" y1="246.8" x2="378.3" y2="185.4"/><line x1="393.7" y1="252.2" x2="395.1" y2="189.1"/><line x1="409.9" y1="257.7" x2="412" y2="192.9"/><line x1="297.4" y1="283.5" x2="293.7" y2="196.5"/><line x1="361.3" y1="259.7" x2="361.4" y2="181.7"/><line x1="425.2" y1="283.5" x2="428.9" y2="196.6"/></g>
<g stroke="#222" stroke-width="1"><line x1="294.3" y1="263.6" x2="296.5" y2="263.1"/><line x1="293.6" y1="246.9" x2="295.8" y2="246.4"/><line x1="292.9" y1="230.3" x2="295.1" y2="229.8"/><line x1="292.2" y1="213.6" x2="294.4" y2="213.1"/><line x1="291.5" y1="197" x2="293.7" y2="196.5"/></g>
<polygon points="361.3,259.7 297.4,283.5 361.9,314.5 425.2,283.5" fill="#646464" stroke="#444" stroke-width="0.6"/>
<g transform="scale(.5)" fill="none" stroke-width="2.0"><path d="M775 581l4 -2 3 -1 1 -1 3 -2 2 -1 1 -2 2 -1 1 -2 1 -1 0 -1 1 -2 0 -1 0 -1 -1 -2 0 -1 -1 -2 -1 -1 -1 -1 -2 -1 -1 -2 -2 -1 -2 -1 -3 -1 -3 -2 -4 -1 -3 -1 -3 -1 -4 -1 -2 0 -4 -1 -3 0 -3 -1 -4 0 -3 -1 -3 0 -3 0 -3 0 -3 -1 -4 0 -3 0 -3 0 -3 0 -3 0 -3 0 -4 0 -2 0 -4 0 -4 1 -3 0 -3 0 -3 1 -4 0 -3 1 -2 0 -3 1 -4 1 -3 0 -3 1 -4 1 -3 2 -3 1 -2 1 -2 1 -1 2 -2 1 -1 1 -1 1 0 2 -1 1 0 1 0 2 0 1 1 2 1 1 1 1 1 2 1 1 1 1 3 2 2 1 3 2 3 1 3 2 4 1 2 1 4 1 3 1 3 1 4 1 3 0 3 1 3 0 3 1 4 0 3 1 2 0 4 0 4 0 2 0 4 0 2 0 4 0 3 0 3 0 4 0 3 -1 3 0 3 0 3 -1 3 0 4 -1 3 -1 3 -1 3 0 3 -2 4 -1 1 0" stroke="#e0ff00"/><path d="M759 533l-3 0 -3 -1 -3 0 -3 0 -4 0 -3 -1 -3 0 -3 0 -4 0 -3 0 -2 0 -4 0 -3 0 -4 0 -2 0 -4 0 -3 0 -3 0 -3 0 -4 0 -3 1 -2 0" stroke="#14ff00"/><path d="M618 558l0 1 0 2 0 1 1 2 0 1 1 1 0 1 1 2 1 1 2 2 1 1 2 2 2 1 1 1 3 2 3 2 2 1 3 2 3 1 3 2 3 1 3 1 4 1 3 1 3 1 4 1 2 1 3 0 3 1 4 1 3 0 4 1 3 0 3 1 3 0 3 1 4 0 3 0 3 0 3 1 4 0 2 0 4 0 3 0 3 0 3 0 4 0 2 0 4 0 3 -1 3 0 3 0 3 -1 4 0 3 -1 3 0 3 -1 4 0 3 -1 3 0 3 -1 4 -1 2 -1 4 -1 3 -1 3 -1 3 -1 3 -2 3 -1 3 -2 2 -1 3 -2 1 -1 3 -2 1 -1 2 -1 1 -2 1 -1 1 -2 1 -1 0 -2 1 -1 0 -1 0 -2 0 -1 0 -2 0 -1 -1 -1 -1 -2 0 0" stroke="#14ff00"/><path d="M735 524l-3 0 -4 0 -2 0 -4 0 -3 0 -4 0 -2 0 -2 0" stroke="#00ff8f"/><path d="M597 566l1 2 1 1" stroke="#00ff8f"/><path d="M670 603l3 1 4 0 3 1 3 0 3 1 4 0 3 1 4 0 2 0 3 1 4 0 3 0 3 0 4 0 2 0 4 0 3 0 3 0 3 0 4 0 2 0 4 0 3 0 3 0 4 -1 3 0 3 0 3 -1 3 0 3 -1 3 0 4 -1 2 0" stroke="#00ff8f"/><path d="M844 570l0 -1 1 -1 0 -2 1 -1" stroke="#00ff8f"/><path d="M693 614l3 0 4 1 3 0 3 0 3 0 3 0 3 1 4 0 3 0 4 0 2 0 4 0 2 0 4 -1 3 0 3 0 4 0 3 0 2 -1" stroke="#00ccff"/><path d="M709 622l2 0 4 0 3 0 3 0 3 0 3 0 4 0 3 0 3 0 1 0" stroke="#0052ff"/></g>
<g transform="scale(.5)" stroke="#000" stroke-opacity="0.42" stroke-width="0.8" stroke-linejoin="round"><path fill="#0f9" d="M723 432l6-3-6-3-7 3z"/><path fill="#0f7" d="M729 429l7-2-7-3-6 2z"/><path fill="#0f6" d="M716 429l7-3-7-2-7 2z"/><path fill="#0f4" d="M736 427l7-2-7-3-7 2zM709 426l7-2-7-3-6 3zM723 426l6-2-6-3-7 3z"/><path fill="#0f2" d="M743 425l6-2-6-2-7 1zM703 424l6-3-6-1-7 2zM729 424l7-2-7-2-6 1z"/><path fill="#0f1" d="M716 424l7-3-7-2-7 2z"/><path fill="#0f0" d="M749 423l7-1-7-2-6 1z"/><path fill="#1f0" d="M696 422l7-2-7-1-7 2zM736 422l7-1-7-3-7 2zM709 421l7-2-7-1-6 2zM723 421l6-1-6-2-7 1z"/><path fill="#2f0" d="M756 422l7 0-7-3-7 1z"/><path fill="#3f0" d="M689 421l7-2-7-1-6 2z"/><path fill="#4f0" d="M743 421l6-1-6-3-7 1zM703 420l6-2-6-1-7 2zM729 420l7-2-7-2-6 2z"/><path fill="#5f0" d="M716 419l7-1-7-2-7 2z"/><path fill="#4f0" d="M763 422l6 0-6-3-7 0z"/><path fill="#5f0" d="M683 420l6-2-6 0-7 2z"/><path fill="#6f0" d="M749 420l7-1-7-2-6 0z"/><path fill="#7f0" d="M696 419l7-2-7-1-7 2zM736 418l7-1-7-1-7 0zM709 418l7-2-7-1-6 2zM723 418l6-2-6-1-7 1z"/><path fill="#6f0" d="M769 422l7 0-7-3-6 0z"/><path fill="#7f0" d="M676 420l7-2-7 0-7 2z"/><path fill="#8f0" d="M756 419l7 0-7-2-7 0z"/><path fill="#9f0" d="M689 418l7-2-7 0-6 2zM743 417l6 0-6-2-7 1z"/><path fill="#af0" d="M703 417l6-2-6 0-7 1zM729 416l7 0-7-2-6 1zM716 416l7-1-7-1-7 1z"/><path fill="#7f0" d="M776 422l7 1-7-3-7-1z"/><path fill="#8f0" d="M669 420l7-2-7 0-6 3z"/><path fill="#9f0" d="M763 419l6 0-6-2-7 0z"/><path fill="#af0" d="M683 418l6-2-6 0-7 2z"/><path fill="#bf0" d="M749 417l7 0-7-2-6 0zM696 416l7-1-7-1-7 2z"/><path fill="#cf0" d="M736 416l7-1-7-1-7 0zM709 415l7-1-7 0-6 1zM723 415l6-1-6-1-7 1z"/><path fill="#8f0" d="M783 423l6 1-6-2-7-2z"/><path fill="#9f0" d="M663 421l6-3-6 2-7 2z"/><path fill="#af0" d="M769 419l7 1-7-2-6-1z"/><path fill="#bf0" d="M676 418l7-2-7 1-7 1z"/><path fill="#cf0" d="M756 417l7 0-7-1-7-1z"/><path fill="#df0" d="M689 416l7-2-7 1-6 1zM743 415l6 0-6-1-7 0z"/><path fill="#ef0" d="M703 415l6-1-6-1-7 1zM729 414l7 0-7-1-6 0zM716 414l7-1-7 0-7 1z"/><path fill="#9f0" d="M789 424l7 2-7-3-6-1z"/><path fill="#af0" d="M656 422l7-2-7 1-7 2z"/><path fill="#bf0" d="M776 420l7 2-7-2-7-2z"/><path fill="#cf0" d="M669 418l7-1-7 1-6 2z"/><path fill="#df0" d="M763 417l6 1-6-1-7-1z"/><path fill="#ef0" d="M683 416l6-1-6 1-7 1z"/><path fill="#ff0" d="M749 415l7 1-7-1-6-1zM696 414l7-1-7 1-7 1z"/><path fill="#fe0" d="M736 414l7 0-7-1-7 0zM709 414l7-1-7 0-6 0zM723 413l6 0-6 0-7 0z"/><path fill="#9f0" d="M796 426l7 2-7-2-7-3z"/><path fill="#af0" d="M649 423l7-2-7 3-6 1z"/><path fill="#bf0" d="M783 422l6 1-6-1-7-2z"/><path fill="#df0" d="M663 420l6-2-6 2-7 1z"/><path fill="#ef0" d="M769 418l7 2-7-2-6-1z"/><path fill="#ff0" d="M676 417l7-1-7 1-7 1z"/><path fill="#fe0" d="M756 416l7 1-7-1-7-1zM689 415l7-1-7 1-6 1z"/><path fill="#fd0" d="M743 414l6 1-6-1-7-1zM703 413l6 0-6 1-7 0zM729 413l7 0-7 0-6 0z"/><path fill="#fc0" d="M716 413l7 0-7 0-7 0z"/><path fill="#8f0" d="M803 428l6 2-6-2-7-2z"/><path fill="#af0" d="M643 425l6-1-6 2-7 2z"/><path fill="#bf0" d="M789 423l7 3-7-2-6-2z"/><path fill="#df0" d="M656 421l7-1-7 2-7 2z"/><path fill="#ef0" d="M776 420l7 2-7-2-7-2z"/><path fill="#ff0" d="M669 418l7-1-7 2-6 1z"/><path fill="#fe0" d="M763 417l6 1-6-1-7-1z"/><path fill="#fd0" d="M683 416l6-1-6 1-7 1z"/><path fill="#fc0" d="M749 415l7 1-7-1-6-1zM696 414l7 0-7 1-7 0z"/><path fill="#fb0" d="M736 413l7 1-7 0-7-1zM709 413l7 0-7 1-6 0zM723 413l6 0-6 0-7 0z"/><path fill="#8f0" d="M809 430l7 3-7-1-6-4z"/><path fill="#9f0" d="M636 428l7-2-7 4-7 1z"/><path fill="#bf0" d="M796 426l7 2-7-1-7-3z"/><path fill="#cf0" d="M649 424l7-2-7 3-6 1z"/><path fill="#ef0" d="M783 422l6 2-6-1-7-3z"/><path fill="#ff0" d="M663 420l6-1-6 2-7 1z"/><path fill="#fe0" d="M769 418l7 2-7 0-6-3z"/><path fill="#fd0" d="M676 417l7-1-7 2-7 1z"/><path fill="#7f0" d="M816 433l6 4-6-2-7-3z"/><path fill="#fc0" d="M756 416l7 1-7 0-7-2zM689 415l7 0-7 1-6 0z"/><path fill="#fb0" d="M743 414l6 1-6 0-7-1z"/><path fill="#8f0" d="M629 431l7-1-7 3-6 2z"/><path fill="#fb0" d="M703 414l6 0-6 1-7 0z"/><path fill="#fa0" d="M729 413l7 1-7 0-6-1zM716 413l7 0-7 1-7 0z"/><path fill="#af0" d="M803 428l6 4-6-2-7-3z"/><path fill="#bf0" d="M643 426l6-1-6 3-7 2z"/><path fill="#df0" d="M789 424l7 3-7-1-6-3z"/><path fill="#ef0" d="M656 422l7-1-7 3-7 1z"/><path fill="#fe0" d="M776 420l7 3-7-1-7-2z"/><path fill="#5f0" d="M822 437l7 4-7-1-6-5z"/><path fill="#fd0" d="M669 419l7-1-7 3-6 0z"/><path fill="#6f0" d="M623 435l6-2-6 5-7 1z"/><path fill="#fc0" d="M763 417l6 3-6-1-7-2z"/><path fill="#fb0" d="M683 416l6 0-6 2-7 0zM749 415l7 2-7 0-6-2z"/><path fill="#fa0" d="M696 415l7 0-7 2-7-1zM736 414l7 1-7 1-7-2z"/><path fill="#9f0" d="M809 432l7 3-7-1-6-4z"/><path fill="#f90" d="M709 414l7 0-7 1-6 0zM723 413l6 1-6 1-7-1z"/><path fill="#af0" d="M636 430l7-2-7 4-7 1z"/><path fill="#df0" d="M796 427l7 3-7-1-7-3zM649 425l7-1-7 4-6 0z"/><path fill="#4f0" d="M829 441l6 5-6-2-7-4z"/><path fill="#ff0" d="M783 423l6 3-6-1-7-3z"/><path fill="#5f0" d="M616 439l7-1-7 5-6 1z"/><path fill="#fe0" d="M663 421l6 0-7 3-6 0z"/><path fill="#fc0" d="M769 420l7 2-7 0-6-3zM676 418l7 0-7 3-7 0z"/><path fill="#8f0" d="M816 435l6 5-6-2-7-4z"/><path fill="#fb0" d="M756 417l7 2-7 0-7-2z"/><path fill="#fa0" d="M689 416l7 1-7 2-6-1z"/><path fill="#9f0" d="M629 433l7-1-7 5-6 1z"/><path fill="#f90" d="M743 415l6 2-6 1-7-2zM703 415l6 0-6 2-7 0zM729 414l7 2-7 1-6-2zM716 414l7 1-7 2-7-2z"/><path fill="#bf0" d="M803 430l6 4-6-1-7-4z"/><path fill="#cf0" d="M643 428l6 0-6 4-7 0z"/><path fill="#2f0" d="M835 446l7 5-7-1-6-6zM610 444l6-1-6 5-7 1z"/><path fill="#ef0" d="M789 426l7 3-7 0-6-4z"/><path fill="#ff0" d="M656 424l6 0-6 4-7 0z"/><path fill="#fd0" d="M776 422l7 3-7 0-7-3z"/><path fill="#6f0" d="M822 440l7 4-7-1-6-5z"/><path fill="#fd0" d="M669 421l7 0-7 3-7 0z"/><path fill="#7f0" d="M623 438l6-1-6 5-7 1z"/><path fill="#fb0" d="M763 419l6 3-6 0-7-3zM683 418l6 1-7 2-6 0z"/><path fill="#fa0" d="M749 417l7 2-7 1-6-2z"/><path fill="#f90" d="M696 417l7 0-7 3-7-1z"/><path fill="#af0" d="M809 434l7 4-7 0-6-5z"/><path fill="#f90" d="M736 416l7 2-7 1-7-2zM709 415l7 2-7 2-6-2z"/><path fill="#0f0" d="M842 451l6 6-6-1-7-6z"/><path fill="#f80" d="M723 415l6 2-6 1-7-1z"/><path fill="#af0" d="M636 432l7 0-7 4-7 1z"/><path fill="#1f0" d="M603 449l7-1-7 6-6 1z"/><path fill="#df0" d="M796 429l7 4-7 0-7-4z"/><path fill="#ef0" d="M649 428l7 0-7 4-6 0z"/><path fill="#4f0" d="M829 444l6 6-6-1-7-6z"/><path fill="#fe0" d="M783 425l6 4-6 0-7-4z"/><path fill="#4f0" d="M616 443l7-1-7 5-6 1z"/><path fill="#fe0" d="M662 424l7 0-7 4-6 0z"/><path fill="#fc0" d="M769 422l7 3-7 1-6-4zM676 421l6 0-6 4-7-1z"/><path fill="#0f1" d="M848 457l7 6-7-1-6-6z"/><path fill="#8f0" d="M816 438l6 5-6 0-7-5z"/><path fill="#fa0" d="M756 419l7 3-7 1-7-3z"/><path fill="#0f1" d="M597 455l6-1-6 7-7 0z"/><path fill="#8f0" d="M629 437l7-1-7 6-6 0z"/><path fill="#fa0" d="M689 419l7 1-7 2-7-1z"/><path fill="#f90" d="M743 418l6 2-6 1-7-2zM703 417l6 2-6 2-7-1z"/><path fill="#f80" d="M729 417l7 2-7 1-6-2zM716 417l7 1-7 2-7-1z"/><path fill="#bf0" d="M803 433l6 5-6 0-7-5z"/><path fill="#cf0" d="M643 432l6 0-6 4-7 0z"/><path fill="#2f0" d="M835 450l7 6-7-1-6-6zM610 448l6-1-6 7-7 0z"/><path fill="#ef0" d="M789 429l7 4-7 0-6-4z"/><path fill="#ff0" d="M656 428l6 0-6 4-7 0z"/><path fill="#5f0" d="M822 443l7 6-7 0-6-6z"/><path fill="#fd0" d="M776 425l7 4-7 0-7-3zM669 424l7 1-7 4-7-1z"/><path fill="#6f0" d="M623 442l6 0-6 5-7 0z"/><path fill="#fb0" d="M763 422l6 4-6 0-7-3zM682 421l7 1-6 4-7-1z"/><path fill="#fa0" d="M749 420l7 3-7 1-6-3zM696 420l7 1-7 3-7-2z"/><path fill="#9f0" d="M809 438l7 5-7 0-6-5z"/><path fill="#0f0" d="M842 456l6 6-6 0-7-7z"/><path fill="#f90" d="M736 419l7 2-7 2-7-3zM709 419l7 1-7 3-6-2z"/><path fill="#af0" d="M636 436l7 0-7 6-7 0z"/><path fill="#f90" d="M723 418l6 2-6 3-7-3z"/><path fill="#0f0" d="M603 454l7 0-7 6-6 1z"/><path fill="#cf0" d="M796 433l7 5-7 0-7-5z"/><path fill="#df0" d="M649 432l7 0-7 5-6-1z"/><path fill="#3f0" d="M829 449l6 6-6 0-7-6zM616 447l7 0-7 7-6 0z"/><path fill="#ff0" d="M783 429l6 4-6 1-7-5zM662 428l7 1-6 4-7-1z"/><path fill="#fd0" d="M769 426l7 3-7 1-6-4z"/><path fill="#fc0" d="M676 425l7 1-7 4-7-1z"/><path fill="#7f0" d="M816 443l6 6-6 0-7-6zM629 442l7 0-6 6-7-1z"/><path fill="#fb0" d="M756 423l7 3-7 2-7-4zM689 422l7 2-7 4-6-2z"/><path fill="#fa0" d="M743 421l6 3-6 2-7-3zM703 421l6 2-6 3-7-2z"/><path fill="#f90" d="M729 420l7 3-7 2-6-2zM716 420l7 3-7 2-7-2z"/><path fill="#af0" d="M803 438l6 5-6 0-7-5zM643 436l6 1-6 6-7-1z"/><path fill="#1f0" d="M835 455l7 7-7-1-6-6z"/><path fill="#0f0" d="M610 454l6 0-6 7-7-1z"/><path fill="#df0" d="M789 433l7 5-7 1-6-5zM656 432l7 1-7 5-7-1z"/><path fill="#4f0" d="M822 449l7 6-7 0-6-6z"/><path fill="#fe0" d="M776 429l7 5-7 1-7-5z"/><path fill="#4f0" d="M623 447l7 1-7 6-7 0z"/><path fill="#fe0" d="M669 429l7 1-7 4-6-1z"/><path fill="#fc0" d="M763 426l6 4-6 2-7-4zM683 426l6 2-6 4-7-2z"/><path fill="#8f0" d="M809 443l7 6-7 0-6-6z"/><path fill="#fb0" d="M749 424l7 4-7 2-6-4zM696 424l7 2-7 4-7-2z"/><path fill="#8f0" d="M636 442l7 1-7 6-6-1z"/><path fill="#fa0" d="M736 423l7 3-7 3-7-4zM709 423l7 2-7 4-6-3zM723 423l6 2-6 3-7-3z"/><path fill="#bf0" d="M796 438l7 5-7 1-7-5zM649 437l7 1-7 6-6-1z"/><path fill="#1f0" d="M829 455l6 6-6 1-7-7zM616 454l7 0-6 7-7 0z"/><path fill="#ef0" d="M783 434l6 5-6 1-7-5zM663 433l6 1-6 6-7-2z"/><path fill="#fe0" d="M769 430l7 5-7 2-6-5zM676 430l7 2-7 4-7-2z"/><path fill="#5f0" d="M816 449l6 6-6 1-7-7z"/><path fill="#4f0" d="M630 448l6 1-6 6-7-1z"/><path fill="#fd0" d="M756 428l7 4-7 2-7-4zM689 428l7 2-7 4-6-2z"/><path fill="#fb0" d="M743 426l6 4-6 3-7-4zM703 426l6 3-6 3-7-2zM729 425l7 4-7 3-6-4zM716 425l7 3-7 4-7-3z"/><path fill="#8f0" d="M803 443l6 6-6 1-7-6zM643 443l6 1-6 6-7-1z"/><path fill="#bf0" d="M789 439l7 5-7 2-6-6zM656 438l7 2-7 5-7-1z"/><path fill="#2f0" d="M822 455l7 7-7 1-6-7z"/><path fill="#1f0" d="M623 454l7 1-7 7-6-1z"/><path fill="#ef0" d="M776 435l7 5-7 2-7-5zM669 434l7 2-7 6-6-2z"/><path fill="#ff0" d="M763 432l6 5-6 2-7-5zM683 432l6 2-6 5-7-3z"/><path fill="#5f0" d="M809 449l7 7-7 1-6-7zM636 449l7 1-7 7-6-2z"/><path fill="#fd0" d="M749 430l7 4-7 3-6-4zM696 430l7 2-7 5-7-3z"/><path fill="#fc0" d="M736 429l7 4-7 3-7-4zM709 429l7 3-7 4-6-4zM723 428l6 4-6 3-7-3z"/><path fill="#8f0" d="M796 444l7 6-7 2-7-6zM649 444l7 1-7 7-6-2z"/><path fill="#bf0" d="M783 440l6 6-6 2-7-6zM663 440l6 2-6 6-7-3z"/><path fill="#2f0" d="M816 456l6 7-6 1-7-7z"/><path fill="#df0" d="M769 437l7 5-7 2-6-5z"/><path fill="#1f0" d="M630 455l6 2-6 7-7-2z"/><path fill="#df0" d="M676 436l7 3-7 5-7-2z"/><path fill="#ff0" d="M756 434l7 5-7 3-7-5zM689 434l7 3-7 5-6-3z"/><path fill="#fe0" d="M743 433l6 4-6 3-7-4zM703 432l6 4-6 4-7-3zM729 432l7 4-7 3-6-4zM716 432l7 3-7 4-7-3z"/><path fill="#5f0" d="M803 450l6 7-7 2-6-7zM643 450l6 2-6 7-7-2z"/><path fill="#8f0" d="M789 446l7 6-7 2-6-6zM656 445l7 3-7 6-7-2z"/><path fill="#af0" d="M776 442l7 6-7 2-7-6zM669 442l7 2-7 6-6-2z"/><path fill="#cf0" d="M763 439l6 5-6 4-7-6zM683 439l6 3-6 6-7-4z"/><path fill="#1f0" d="M636 457l7 2-7 7-6-2z"/><path fill="#2f0" d="M809 457l7 7-7 2-7-7z"/><path fill="#ef0" d="M749 437l7 5-7 3-6-5zM696 437l7 3-7 5-7-3zM736 436l7 4-7 4-7-5zM709 436l7 3-7 5-6-4z"/><path fill="#ff0" d="M723 435l6 4-6 5-7-5z"/><path fill="#4f0" d="M649 452l7 2-6 7-7-2z"/><path fill="#5f0" d="M796 452l6 7-6 2-7-7z"/><path fill="#7f0" d="M663 448l6 2-6 7-7-3zM783 448l6 6-6 3-7-7z"/><path fill="#9f0" d="M676 444l7 4-7 6-7-4zM769 444l7 6-7 4-6-6z"/><path fill="#bf0" d="M689 442l7 3-7 6-6-3zM756 442l7 6-7 3-7-6z"/><path fill="#cf0" d="M703 440l6 4-6 6-7-5zM743 440l6 5-6 4-7-5z"/><path fill="#1f0" d="M643 459l7 2-7 8-7-3zM802 459l7 7-7 3-6-8z"/><path fill="#df0" d="M716 439l7 5-7 5-7-5zM729 439l7 5-7 5-6-5z"/><path fill="#3f0" d="M656 454l7 3-7 8-6-4z"/><path fill="#4f0" d="M789 454l7 7-7 3-6-7z"/><path fill="#6f0" d="M669 450l7 4-6 7-7-4zM776 450l7 7-7 3-7-6z"/><path fill="#8f0" d="M683 448l6 3-6 7-7-4zM763 448l6 6-6 4-7-7z"/><path fill="#9f0" d="M696 445l7 5-7 6-7-5zM749 445l7 6-7 4-6-6z"/><path fill="#af0" d="M709 444l7 5-7 5-6-4zM736 444l7 5-7 5-7-5zM723 444l6 5-6 5-7-5z"/><path fill="#0f0" d="M650 461l6 4-6 8-7-4zM796 461l6 8-6 3-7-8z"/><path fill="#2f0" d="M663 457l7 4-7 7-7-3z"/><path fill="#3f0" d="M783 457l6 7-7 4-6-8z"/><path fill="#4f0" d="M676 454l7 4-7 7-6-4z"/><path fill="#5f0" d="M769 454l7 6-7 4-6-6z"/><path fill="#6f0" d="M689 451l7 5-7 6-6-4zM756 451l7 7-7 4-7-7z"/><path fill="#7f0" d="M703 450l6 4-6 6-7-4zM743 449l6 6-6 5-7-6z"/><path fill="#8f0" d="M716 449l7 5-7 5-7-5zM729 449l7 5-7 5-6-5z"/><path fill="#0f1" d="M656 465l7 3-7 8-6-3zM789 464l7 8-7 4-7-8z"/><path fill="#1f0" d="M670 461l6 4-6 7-7-4zM776 460l6 8-6 4-7-8z"/><path fill="#3f0" d="M683 458l6 4-6 7-7-4zM763 458l6 6-6 5-7-7z"/><path fill="#4f0" d="M696 456l7 4-7 7-7-5zM749 455l7 7-7 5-6-7z"/><path fill="#5f0" d="M709 454l7 5-7 7-6-6zM736 454l7 6-7 6-7-7zM723 454l6 5-6 6-7-6z"/><path fill="#0f2" d="M663 468l7 4-7 9-7-5zM782 468l7 8-7 4-6-8z"/><path fill="#0f1" d="M676 465l7 4-7 8-6-5zM769 464l7 8-7 5-6-8z"/><path fill="#0f0" d="M689 462l7 5-6 8-7-6z"/><path fill="#1f0" d="M756 462l7 7-7 5-7-7zM703 460l6 6-6 7-7-6z"/><path fill="#2f0" d="M743 460l6 7-6 6-7-7zM716 459l7 6-7 7-7-6zM729 459l7 7-7 6-6-7z"/><path fill="#0f4" d="M670 472l6 5-6 9-7-5z"/><path fill="#0f3" d="M776 472l6 8-6 5-7-8zM683 469l7 6-7 8-7-6z"/><path fill="#0f2" d="M763 469l6 8-6 5-7-8zM696 467l7 6-7 8-6-6z"/><path fill="#0f1" d="M749 467l7 7-7 6-6-7zM709 466l7 6-6 7-7-6zM736 466l7 7-7 6-7-7zM723 465l6 7-6 7-7-7z"/><path fill="#0f6" d="M676 477l7 6-6 9-7-6z"/><path fill="#0f5" d="M769 477l7 8-7 6-6-9zM690 475l6 6-6 8-7-6z"/><path fill="#0f4" d="M756 474l7 8-7 6-7-8zM703 473l7 6-7 8-7-6zM743 473l6 7-6 7-7-8z"/><path fill="#0f3" d="M716 472l7 7-7 7-6-7zM729 472l7 7-7 7-6-7z"/><path fill="#0f8" d="M683 483l7 6-7 9-6-6z"/><path fill="#0f7" d="M763 482l6 9-7 6-6-9zM696 481l7 6-7 9-6-7z"/><path fill="#0f6" d="M749 480l7 8-7 7-6-8zM710 479l6 7-6 8-7-7zM736 479l7 8-7 7-7-8zM723 479l6 7-6 8-7-8z"/><path fill="#0fa" d="M690 489l6 7-6 9-7-7z"/><path fill="#0f9" d="M756 488l6 9-6 7-7-9zM703 487l7 7-7 9-7-7zM743 487l6 8-6 8-7-9zM716 486l7 8-7 8-6-8zM729 486l7 8-6 8-7-8z"/><path fill="#0fc" d="M696 496l7 7-6 10-7-8zM749 495l7 9-7 8-6-9zM710 494l6 8-6 9-7-8zM736 494l7 9-7 8-6-9zM723 494l7 8-7 8-7-8z"/><path fill="#0ff" d="M703 503l7 8-7 10-6-8z"/><path fill="#0fe" d="M743 503l6 9-6 8-7-9zM716 502l7 8-7 10-6-9zM730 502l6 9-6 9-7-10z"/><path fill="#0df" d="M710 511l6 9-6 10-7-9zM736 511l7 9-7 9-6-9zM723 510l7 10-7 9-7-9z"/><path fill="#0bf" d="M716 520l7 9-6 10-7-9zM730 520l6 9-6 10-7-10z"/><path fill="#08f" d="M723 529l7 10-7 11-6-11z"/></g>
<circle cx="360.7" cy="200.3" r="1.6" fill="#b00c0c"/><circle cx="360.7" cy="209.5" r="1.6" fill="#b00c0c"/><circle cx="294.9" cy="231.4" r="1.5" fill="#f6dede" stroke="#c04848" stroke-width="0.5"/><circle cx="426.9" cy="231.4" r="1.6" fill="#b00c0c"/><circle cx="360.7" cy="280.3" r="1.5" fill="#f6dede" stroke="#c04848" stroke-width="0.5"/>
<!-- B3 -->
<g stroke="#777" stroke-width="0.9" fill="none"><polyline points="511.7,269.8 580,246.9 648.4,269.7"/><polyline points="511.1,252.6 580,231.5 649,252.5"/><polyline points="510.5,235.4 580,216.1 649.6,235.3"/><polyline points="510,218.2 579.9,200.8 650.1,218"/><polyline points="509.4,201 579.9,185.4 650.7,200.8"/><line x1="557.2" y1="254.5" x2="556.4" y2="190.6"/><line x1="534.5" y1="262.1" x2="532.9" y2="195.8"/><line x1="597.1" y1="252.6" x2="597.6" y2="189.2"/><line x1="614.2" y1="258.3" x2="615.3" y2="193.1"/><line x1="631.3" y1="264" x2="633" y2="197"/><line x1="512.4" y1="290.9" x2="509.4" y2="201"/><line x1="580" y1="265.7" x2="579.9" y2="185.4"/><line x1="647.7" y1="290.9" x2="650.7" y2="200.8"/></g>
<g stroke="#222" stroke-width="1"><line x1="509.5" y1="270.3" x2="511.7" y2="269.8"/><line x1="508.9" y1="253.1" x2="511.1" y2="252.6"/><line x1="508.3" y1="235.9" x2="510.5" y2="235.4"/><line x1="507.8" y1="218.7" x2="510" y2="218.2"/><line x1="507.2" y1="201.5" x2="509.4" y2="201"/></g>
<polygon points="580,265.7 512.4,290.9 579.9,323.2 647.7,290.9" fill="#646464" stroke="#444" stroke-width="0.6"/>
<g transform="scale(.5)" fill="none" stroke-width="2.0"><path d="M1216 597l4 -1 4 -1 4 -2 3 -1 3 -2 1 -1 3 -2 1 -2 1 -1 2 -2 0 -1 1 -1 0 -2 0 -2 0 -1 0 -1 0 -2 -1 -1 -1 -1 -1 -1 -1 -2 -2 -1 -2 -2 -1 -1 -3 -1 -2 -1 -3 -2 -3 -1 -4 -1 -3 -1 -3 -1 -4 -1 -3 -1 -3 0 -4 -1 -3 0 -4 -1 -3 0 -3 0 -3 -1 -4 0 -4 0 -3 0 -3 0 -4 0 -3 0 -4 0 -3 0 -3 0 -4 0 -3 1 -4 0 -3 0 -3 1 -4 0 -3 1 -4 1 -3 0 -3 2 -4 1 -3 1 -3 1 -3 2 -2 1 -1 1 -2 2 -1 1 -1 1 -1 2 0 1 -1 2 0 1 0 1 1 2 0 1 1 2 1 1 1 1 1 2 2 1 2 2 2 1 3 2 2 1 3 2 3 1 3 1 3 2 4 1 3 1 4 1 3 0 3 1 4 1 3 0 3 1 4 0 4 0 3 1 3 0 4 0 3 0 3 0 4 0 3 0 3 0 4 0 4 -1 3 0 3 -1 3 0 4 -1 3 -1 3 0 4 -1 0 -1" stroke="#e0ff00"/><path d="M1174 537l-3 0 -4 0 -2 0 -5 0 -2 0 -4 0 -3 0 -4 0 -1 0" stroke="#14ff00"/><path d="M1057 570l0 1 0 1 1 2 0 2 1 1 0 1 1 2 1 1 1 2 1 1 2 2 1 1 2 2 2 1 2 2 2 1 2 2 3 2 2 1 3 1 4 2 3 2 4 1 2 1 4 1 3 2 4 1 3 1 4 1 3 0 3 1 4 1 3 1 4 0 3 1 3 1 4 0 3 1 3 0 3 0 3 0 4 1 4 0 3 0 3 0 4 0 3 0 4 0 3 0 3 0 4 0 3 0 4 0 3 -1 3 0 3 0 4 -1 3 0 4 -1 3 0 3 -1 4 -1 3 0 4 -2 0 0" stroke="#14ff00"/><path d="M1273 592l2 -1 1 -2 2 -1 1 -2 1 -1 1 -2 0 -1 1 -2 0 -1 0 -1 0 -1" stroke="#14ff00"/><path d="M1032 579l1 2 0 1 2 2 1 1 1 2 1 1 1 0" stroke="#00ff8f"/><path d="M1108 622l5 1 3 0 3 1 3 1 3 0 4 1 3 0 4 1 3 0 4 1 3 0 3 1 3 0 4 0 4 0 2 0 4 1 4 0 2 0 5 0 2 0 4 0 3 0 4 0 3 -1 3 0" stroke="#00ff8f"/><path d="M1141 638l3 0 4 0 4 0 3 1 3 0 4 0 3 0 3 0 4 0 2 1" stroke="#00ccff"/></g>
<g transform="scale(.5)" stroke="#000" stroke-opacity="0.42" stroke-width="0.8" stroke-linejoin="round"><path fill="#0f5" d="M1160 431l7-3-7-2-7 2z"/><path fill="#0f2" d="M1153 428l7-2-7-2-7 2zM1167 428l7-2-7-2-7 2z"/><path fill="#0f0" d="M1146 426l7-2-7-2-7 3zM1174 426l7-2-7-2-7 2zM1160 426l7-2-7-3-7 3z"/><path fill="#3f0" d="M1139 425l7-3-7-1-7 3zM1181 424l7-1-7-3-7 2zM1153 424l7-3-7-1-7 2zM1167 424l7-2-7-2-7 1z"/><path fill="#5f0" d="M1132 424l7-3-7 0-7 2zM1188 423l7-1-7-2-7 0z"/><path fill="#6f0" d="M1146 422l7-2-7-1-7 2zM1174 422l7-2-7-2-7 2zM1160 421l7-1-7-2-7 2z"/><path fill="#7f0" d="M1125 423l7-2-7 0-7 2zM1195 422l7 0-7-3-7 1z"/><path fill="#8f0" d="M1139 421l7-2-7 0-7 2zM1181 420l7 0-7-2-7 0z"/><path fill="#9f0" d="M1153 420l7-2-7-1-7 2zM1167 420l7-2-7-1-7 1z"/><path fill="#8f0" d="M1118 423l7-2-7 0-7 3zM1202 422l7 0-7-3-7 0z"/><path fill="#af0" d="M1132 421l7-2-7 0-7 2zM1188 420l7-1-7-2-7 1z"/><path fill="#bf0" d="M1146 419l7-2-7 0-7 2zM1174 418l7 0-7-2-7 1zM1160 418l7-1-7-1-7 1z"/><path fill="#af0" d="M1111 424l7-3-7 1-7 3zM1209 422l7 0-7-2-7-1z"/><path fill="#bf0" d="M1125 421l7-2-7 0-7 2zM1195 419l7 0-7-2-7 0z"/><path fill="#cf0" d="M1139 419l7-2-7 0-7 2zM1181 418l7-1-7-1-7 0z"/><path fill="#df0" d="M1153 417l7-1-7 0-7 1zM1167 417l7-1-7-1-7 1z"/><path fill="#af0" d="M1104 425l7-3-7 2-7 3z"/><path fill="#bf0" d="M1216 422l7 1-7-2-7-1z"/><path fill="#cf0" d="M1118 421l7-2-7 2-7 1z"/><path fill="#df0" d="M1202 419l7 1-7-2-7-1z"/><path fill="#ef0" d="M1132 419l7-2-7 1-7 1zM1188 417l7 0-7-1-7 0z"/><path fill="#ff0" d="M1146 417l7-1-7 0-7 1zM1174 416l7 0-7-1-7 0zM1160 416l7-1-7 0-7 1z"/><path fill="#bf0" d="M1097 427l7-3-7 3-7 2zM1223 423l7 1-7-2-7-1z"/><path fill="#df0" d="M1111 422l7-1-7 1-7 2zM1209 420l7 1-7-2-7-1z"/><path fill="#ff0" d="M1125 419l7-1-7 1-7 2zM1195 417l7 1-7-1-7-1z"/><path fill="#fe0" d="M1139 417l7-1-7 1-7 1zM1181 416l7 0-7-1-7 0z"/><path fill="#fd0" d="M1153 416l7-1-7 0-7 1zM1167 415l7 0-7 0-7 0z"/><path fill="#bf0" d="M1090 429l7-2-7 2-7 3zM1230 424l7 2-7-2-7-2z"/><path fill="#df0" d="M1104 424l7-2-7 3-7 2z"/><path fill="#ef0" d="M1216 421l7 1-7-1-7-2z"/><path fill="#ff0" d="M1118 421l7-2-7 2-7 1z"/><path fill="#fe0" d="M1202 418l7 1-7-1-7-1z"/><path fill="#fd0" d="M1132 418l7-1-7 1-7 1zM1188 416l7 1-7-1-7-1z"/><path fill="#fc0" d="M1146 416l7-1-7 1-7 1zM1174 415l7 0-7 0-7 0zM1160 415l7 0-7 0-7 0z"/><path fill="#af0" d="M1083 432l7-3-7 4-7 2z"/><path fill="#df0" d="M1097 427l7-2-7 3-7 1z"/><path fill="#bf0" d="M1237 426l7 3-7-2-7-3z"/><path fill="#fe0" d="M1111 422l7-1-7 2-7 2z"/><path fill="#ef0" d="M1223 422l7 2-7-1-7-2z"/><path fill="#fd0" d="M1125 419l7-1-7 2-7 1z"/><path fill="#fe0" d="M1209 419l7 2-7-2-7-1z"/><path fill="#af0" d="M1076 435l7-2-7 4-7 2z"/><path fill="#fb0" d="M1139 417l7-1-7 2-7 0z"/><path fill="#fc0" d="M1195 417l7 1-7-1-7-1z"/><path fill="#fb0" d="M1153 415l7 0-7 1-7 0zM1181 415l7 1-7 0-7-1zM1167 415l7 0-7 0-7 0z"/><path fill="#df0" d="M1090 429l7-1-7 3-7 2z"/><path fill="#bf0" d="M1244 429l7 3-7-2-7-3z"/><path fill="#ff0" d="M1104 425l7-2-7 3-7 2z"/><path fill="#ef0" d="M1230 424l7 3-7-2-7-2z"/><path fill="#8f0" d="M1069 439l7-2-7 5-7 2z"/><path fill="#fd0" d="M1118 421l7-1-7 3-7 0z"/><path fill="#fe0" d="M1216 421l7 2-7-1-7-3z"/><path fill="#fb0" d="M1132 418l7 0-7 1-7 1z"/><path fill="#fc0" d="M1202 418l7 1-7 0-7-2z"/><path fill="#fa0" d="M1146 416l7 0-7 1-7 1z"/><path fill="#fb0" d="M1188 416l7 1-7 0-7-1z"/><path fill="#fa0" d="M1160 415l7 0-7 1-7 0zM1174 415l7 1-7 0-7-1z"/><path fill="#cf0" d="M1083 433l7-2-7 5-7 1z"/><path fill="#af0" d="M1251 432l7 3-7-1-7-4z"/><path fill="#ff0" d="M1097 428l7-2-7 4-7 1z"/><path fill="#df0" d="M1237 427l7 3-7-2-7-3z"/><path fill="#7f0" d="M1062 444l7-2-7 5-7 2z"/><path fill="#fd0" d="M1111 423l7 0-7 3-7 0z"/><path fill="#fe0" d="M1223 423l7 2-7-1-7-2z"/><path fill="#fb0" d="M1125 420l7-1-7 3-7 1z"/><path fill="#fc0" d="M1209 419l7 3-7-1-7-2z"/><path fill="#bf0" d="M1076 437l7-1-7 4-7 2z"/><path fill="#fa0" d="M1139 418l7-1-7 3-7-1z"/><path fill="#9f0" d="M1258 435l7 5-7-2-7-4z"/><path fill="#fa0" d="M1195 417l7 2-7 0-7-2z"/><path fill="#f90" d="M1153 416l7 0-7 2-7-1zM1181 416l7 1-7 1-7-2zM1167 415l7 1-7 1-7-1z"/><path fill="#ef0" d="M1090 431l7-1-7 4-7 2z"/><path fill="#5f0" d="M1055 449l7-2-6 6-7 2z"/><path fill="#cf0" d="M1244 430l7 4-7-2-7-4z"/><path fill="#fe0" d="M1104 426l7 0-7 3-7 1z"/><path fill="#ff0" d="M1230 425l7 3-7-1-7-3z"/><path fill="#9f0" d="M1069 442l7-2-7 6-7 1z"/><path fill="#fb0" d="M1118 423l7-1-7 3-7 1z"/><path fill="#fc0" d="M1216 422l7 2-7 0-7-3z"/><path fill="#7f0" d="M1265 440l7 4-7-2-7-4z"/><path fill="#fa0" d="M1132 419l7 1-7 2-7 0zM1202 419l7 2-7 0-7-2z"/><path fill="#4f0" d="M1049 455l7-2-7 7-7 2z"/><path fill="#f90" d="M1146 417l7 1-7 2-7 0z"/><path fill="#cf0" d="M1083 436l7-2-7 5-7 1z"/><path fill="#f90" d="M1188 417l7 2-7 0-7-1z"/><path fill="#f80" d="M1160 416l7 1-7 2-7-1z"/><path fill="#f90" d="M1174 416l7 2-7 1-7-2z"/><path fill="#bf0" d="M1251 434l7 4-7-2-7-4z"/><path fill="#ff0" d="M1097 430l7-1-7 5-7 0z"/><path fill="#7f0" d="M1062 447l7-1-7 6-6 1z"/><path fill="#ef0" d="M1237 428l7 4-7-1-7-4z"/><path fill="#fc0" d="M1111 426l7-1-7 4-7 0z"/><path fill="#5f0" d="M1272 444l7 5-7-1-7-6z"/><path fill="#2f0" d="M1042 462l7-2-7 8-7 1z"/><path fill="#fd0" d="M1223 424l7 3-7 0-7-3z"/><path fill="#fa0" d="M1125 422l7 0-7 4-7-1z"/><path fill="#bf0" d="M1076 440l7-1-7 6-7 1z"/><path fill="#fb0" d="M1209 421l7 3-7 0-7-3z"/><path fill="#f90" d="M1139 420l7 0-7 3-7-1z"/><path fill="#9f0" d="M1258 438l7 4-7-1-7-5z"/><path fill="#f90" d="M1195 419l7 2-7 1-7-3z"/><path fill="#f80" d="M1153 418l7 1-7 2-7-1zM1181 418l7 1-7 2-7-2zM1167 417l7 2-7 1-7-1z"/><path fill="#5f0" d="M1056 453l6-1-6 7-7 1z"/><path fill="#ef0" d="M1090 434l7 0-7 5-7 0z"/><path fill="#0f0" d="M1035 469l7-1-7 8-7 1z"/><path fill="#df0" d="M1244 432l7 4-7 0-7-5z"/><path fill="#3f0" d="M1279 449l7 6-7-2-7-5z"/><path fill="#fd0" d="M1104 429l7 0-7 5-7 0z"/><path fill="#8f0" d="M1069 446l7-1-7 6-7 1z"/><path fill="#fe0" d="M1230 427l7 4-7 0-7-4z"/><path fill="#fb0" d="M1118 425l7 1-7 3-7 0z"/><path fill="#fc0" d="M1216 424l7 3-7 0-7-3z"/><path fill="#7f0" d="M1265 442l7 6-7-2-7-5z"/><path fill="#3f0" d="M1049 460l7-1-7 7-7 2z"/><path fill="#fa0" d="M1132 422l7 1-7 3-7 0z"/><path fill="#0f2" d="M1028 477l7-1-7 8-6 2z"/><path fill="#fa0" d="M1202 421l7 3-7 1-7-3z"/><path fill="#cf0" d="M1083 439l7 0-7 6-7 0z"/><path fill="#f90" d="M1146 420l7 1-7 3-7-1zM1188 419l7 3-7 1-7-2z"/><path fill="#f80" d="M1160 419l7 1-7 3-7-2zM1174 419l7 2-7 1-7-2z"/><path fill="#1f0" d="M1286 455l6 6-6-1-7-7z"/><path fill="#bf0" d="M1251 436l7 5-7-1-7-4z"/><path fill="#ff0" d="M1097 434l7 0-7 5-7 0z"/><path fill="#6f0" d="M1062 452l7-1-7 7-6 1z"/><path fill="#ef0" d="M1237 431l7 5-7-1-7-4z"/><path fill="#1f0" d="M1042 468l7-2-7 9-7 1z"/><path fill="#fd0" d="M1111 429l7 0-7 5-7 0z"/><path fill="#5f0" d="M1272 448l7 5-7-1-7-6z"/><path fill="#fd0" d="M1223 427l7 4-7 0-7-4z"/><path fill="#af0" d="M1076 445l7 0-7 6-7 0z"/><path fill="#fb0" d="M1125 426l7 0-7 4-7-1zM1209 424l7 3-7 1-7-3z"/><path fill="#0f1" d="M1292 461l7 7-7-1-6-7z"/><path fill="#f90" d="M1139 423l7 1-7 3-7-1z"/><path fill="#9f0" d="M1258 441l7 5-7 0-7-6z"/><path fill="#f90" d="M1195 422l7 3-7 1-7-3z"/><path fill="#4f0" d="M1056 459l6-1-6 8-7 0z"/><path fill="#f80" d="M1153 421l7 2-7 3-7-2z"/><path fill="#f90" d="M1181 421l7 2-7 2-7-3z"/><path fill="#f80" d="M1167 420l7 2-7 3-7-2z"/><path fill="#df0" d="M1090 439l7 0-7 6-7 0z"/><path fill="#0f1" d="M1035 476l7-1-7 9-7 0z"/><path fill="#df0" d="M1244 436l7 4-7 0-7-5z"/><path fill="#2f0" d="M1279 453l7 7-7-1-7-7z"/><path fill="#fe0" d="M1104 434l7 0-7 5-7 0z"/><path fill="#7f0" d="M1069 451l7 0-7 7-7 0z"/><path fill="#ff0" d="M1230 431l7 4-7 1-7-5z"/><path fill="#fc0" d="M1118 429l7 1-7 5-7-1z"/><path fill="#2f0" d="M1049 466l7 0-7 8-7 1z"/><path fill="#7f0" d="M1265 446l7 6-7 0-7-6z"/><path fill="#fc0" d="M1216 427l7 4-7 1-7-4z"/><path fill="#fa0" d="M1132 426l7 1-7 5-7-2z"/><path fill="#bf0" d="M1083 445l7 0-7 6-7 0z"/><path fill="#fa0" d="M1202 425l7 3-7 2-7-4z"/><path fill="#f90" d="M1146 424l7 2-7 3-7-2zM1188 423l7 3-7 2-7-3zM1160 423l7 2-7 3-7-2zM1174 422l7 3-7 2-7-2z"/><path fill="#0f0" d="M1286 460l6 7-7-1-6-7z"/><path fill="#af0" d="M1251 440l7 6-7 0-7-6z"/><path fill="#4f0" d="M1062 458l7 0-6 8-7 0z"/><path fill="#ef0" d="M1097 439l7 0-7 6-7 0z"/><path fill="#0f0" d="M1042 475l7-1-7 9-7 1z"/><path fill="#ef0" d="M1237 435l7 5-7 1-7-5z"/><path fill="#fe0" d="M1111 434l7 1-7 5-7-1z"/><path fill="#4f0" d="M1272 452l7 7-7 0-7-7z"/><path fill="#8f0" d="M1076 451l7 0-7 7-7 0z"/><path fill="#fe0" d="M1223 431l7 5-7 1-7-5z"/><path fill="#fc0" d="M1125 430l7 2-7 4-7-1zM1209 428l7 4-7 2-7-4z"/><path fill="#2f0" d="M1056 466l7 0-7 8-7 0z"/><path fill="#fa0" d="M1139 427l7 2-7 4-7-1z"/><path fill="#8f0" d="M1258 446l7 6-7 0-7-6z"/><path fill="#fa0" d="M1195 426l7 4-7 2-7-4z"/><path fill="#bf0" d="M1090 445l7 0-7 7-7-1z"/><path fill="#fa0" d="M1153 426l7 2-7 3-7-2zM1181 425l7 3-7 3-7-4z"/><path fill="#f90" d="M1167 425l7 2-7 3-7-2z"/><path fill="#bf0" d="M1244 440l7 6-7 1-7-6z"/><path fill="#1f0" d="M1279 459l6 7-6 0-7-7z"/><path fill="#ef0" d="M1104 439l7 1-7 6-7-1z"/><path fill="#5f0" d="M1069 458l7 0-6 8-7 0z"/><path fill="#0f0" d="M1049 474l7 0-7 9-7 0z"/><path fill="#ef0" d="M1230 436l7 5-7 1-7-5z"/><path fill="#fe0" d="M1118 435l7 1-7 6-7-2z"/><path fill="#5f0" d="M1265 452l7 7-7 0-7-7z"/><path fill="#8f0" d="M1083 451l7 1-7 7-7-1z"/><path fill="#fe0" d="M1216 432l7 5-7 1-7-4z"/><path fill="#fc0" d="M1132 432l7 1-7 5-7-2zM1202 430l7 4-7 2-7-4z"/><path fill="#fb0" d="M1146 429l7 2-7 5-7-3zM1188 428l7 4-7 2-7-3z"/><path fill="#fa0" d="M1160 428l7 2-7 4-7-3z"/><path fill="#2f0" d="M1063 466l7 0-7 9-7-1z"/><path fill="#fa0" d="M1174 427l7 4-7 3-7-4z"/><path fill="#9f0" d="M1251 446l7 6-7 1-7-6z"/><path fill="#bf0" d="M1097 445l7 1-7 7-7-1z"/><path fill="#cf0" d="M1237 441l7 6-7 1-7-6z"/><path fill="#ef0" d="M1111 440l7 2-7 6-7-2z"/><path fill="#2f0" d="M1272 459l7 7-7 0-7-7z"/><path fill="#5f0" d="M1076 458l7 1-7 8-6-1z"/><path fill="#ef0" d="M1223 437l7 5-7 2-7-6z"/><path fill="#fe0" d="M1125 436l7 2-7 6-7-2z"/><path fill="#0f0" d="M1056 474l7 1-7 9-7-1z"/><path fill="#fe0" d="M1209 434l7 4-7 3-7-5z"/><path fill="#fd0" d="M1139 433l7 3-7 5-7-3z"/><path fill="#6f0" d="M1258 452l7 7-7 1-7-7z"/><path fill="#8f0" d="M1090 452l7 1-7 7-7-1z"/><path fill="#fc0" d="M1195 432l7 4-7 3-7-5zM1153 431l7 3-7 5-7-3z"/><path fill="#fb0" d="M1181 431l7 3-7 4-7-4zM1167 430l7 4-7 4-7-4z"/><path fill="#2f0" d="M1070 466l6 1-6 9-7-1z"/><path fill="#9f0" d="M1244 447l7 6-7 1-7-6z"/><path fill="#bf0" d="M1104 446l7 2-7 7-7-2z"/><path fill="#cf0" d="M1230 442l7 6-7 2-7-6z"/><path fill="#ef0" d="M1118 442l7 2-7 6-7-2z"/><path fill="#5f0" d="M1083 459l7 1-7 9-7-2z"/><path fill="#2f0" d="M1265 459l7 7-7 1-7-7z"/><path fill="#ef0" d="M1216 438l7 6-7 2-7-5z"/><path fill="#ff0" d="M1132 438l7 3-7 5-7-2z"/><path fill="#0f0" d="M1063 475l7 1-7 9-7-1z"/><path fill="#fe0" d="M1202 436l7 5-7 3-7-5z"/><path fill="#fd0" d="M1146 436l7 3-7 5-7-3zM1188 434l7 5-7 3-7-4zM1160 434l7 4-7 4-7-3zM1174 434l7 4-7 4-7-4z"/><path fill="#8f0" d="M1097 453l7 2-7 7-7-2z"/><path fill="#6f0" d="M1251 453l7 7-7 1-7-7z"/><path fill="#bf0" d="M1111 448l7 2-7 7-7-2z"/><path fill="#2f0" d="M1076 467l7 2-6 8-7-1z"/><path fill="#9f0" d="M1237 448l7 6-7 2-7-6z"/><path fill="#df0" d="M1125 444l7 2-7 7-7-3z"/><path fill="#cf0" d="M1223 444l7 6-7 2-7-6z"/><path fill="#5f0" d="M1090 460l7 2-7 9-7-2z"/><path fill="#ef0" d="M1139 441l7 3-7 6-7-4zM1209 441l7 5-7 3-7-5z"/><path fill="#3f0" d="M1258 460l7 7-7 2-7-8z"/><path fill="#ff0" d="M1153 439l7 3-7 5-7-3zM1195 439l7 5-7 3-7-5z"/><path fill="#fe0" d="M1167 438l7 4-7 4-7-4zM1181 438l7 4-7 4-7-4z"/><path fill="#0f1" d="M1070 476l7 1-7 10-7-2z"/><path fill="#7f0" d="M1104 455l7 2-7 8-7-3z"/><path fill="#6f0" d="M1244 454l7 7-7 2-7-7z"/><path fill="#af0" d="M1118 450l7 3-7 7-7-3z"/><path fill="#9f0" d="M1230 450l7 6-7 3-7-7z"/><path fill="#2f0" d="M1083 469l7 2-6 9-7-3z"/><path fill="#cf0" d="M1132 446l7 4-7 6-7-3z"/><path fill="#bf0" d="M1216 446l7 6-7 3-7-6z"/><path fill="#df0" d="M1146 444l7 3-7 6-7-3zM1202 444l7 5-7 4-7-6z"/><path fill="#4f0" d="M1097 462l7 3-7 8-7-2z"/><path fill="#ef0" d="M1160 442l7 4-7 6-7-5zM1188 442l7 5-7 4-7-5zM1174 442l7 4-7 5-7-5z"/><path fill="#3f0" d="M1251 461l7 8-7 2-7-8z"/><path fill="#0f1" d="M1077 477l7 3-7 9-7-2z"/><path fill="#7f0" d="M1111 457l7 3-7 8-7-3z"/><path fill="#6f0" d="M1237 456l7 7-7 3-7-7z"/><path fill="#9f0" d="M1125 453l7 3-7 7-7-3z"/><path fill="#8f0" d="M1223 452l7 7-7 3-7-7z"/><path fill="#1f0" d="M1090 471l7 2-6 9-7-2z"/><path fill="#af0" d="M1139 450l7 3-7 7-7-4zM1209 449l7 6-7 4-7-6z"/><path fill="#bf0" d="M1153 447l7 5-7 6-7-5zM1195 447l7 6-7 4-7-6z"/><path fill="#cf0" d="M1167 446l7 5-7 6-7-5zM1181 446l7 5-7 5-7-5z"/><path fill="#3f0" d="M1104 465l7 3-7 8-7-3z"/><path fill="#2f0" d="M1244 463l7 8-7 3-7-8z"/><path fill="#5f0" d="M1118 460l7 3-7 8-7-3z"/><path fill="#0f2" d="M1084 480l7 2-7 10-7-3z"/><path fill="#5f0" d="M1230 459l7 7-7 3-7-7z"/><path fill="#7f0" d="M1132 456l7 4-7 8-7-5zM1216 455l7 7-7 4-7-7z"/><path fill="#9f0" d="M1146 453l7 5-7 7-7-5z"/><path fill="#0f0" d="M1097 473l7 3-6 10-7-4z"/><path fill="#8f0" d="M1202 453l7 6-7 5-7-7z"/><path fill="#9f0" d="M1160 452l7 5-7 6-7-5zM1188 451l7 6-7 5-7-6z"/><path fill="#af0" d="M1174 451l7 5-7 6-7-5z"/><path fill="#2f0" d="M1111 468l7 3-7 9-7-4z"/><path fill="#1f0" d="M1237 466l7 8-7 4-7-9z"/><path fill="#4f0" d="M1125 463l7 5-7 8-7-5z"/><path fill="#0f3" d="M1091 482l7 4-7 10-7-4z"/><path fill="#3f0" d="M1223 462l7 7-7 5-7-8z"/><path fill="#5f0" d="M1139 460l7 5-7 7-7-4zM1209 459l7 7-7 5-7-7z"/><path fill="#6f0" d="M1153 458l7 5-7 7-7-5zM1195 457l7 7-7 5-7-7z"/><path fill="#7f0" d="M1167 457l7 5-7 6-7-5zM1181 456l7 6-7 6-7-6z"/><path fill="#0f1" d="M1104 476l7 4-7 10-6-4z"/><path fill="#0f0" d="M1118 471l7 5-7 9-7-5zM1230 469l7 9-7 4-7-8z"/><path fill="#2f0" d="M1132 468l7 4-7 9-7-5zM1216 466l7 8-7 4-7-7z"/><path fill="#0f4" d="M1098 486l6 4-6 10-7-4z"/><path fill="#3f0" d="M1146 465l7 5-7 8-7-6zM1202 464l7 7-7 5-7-7z"/><path fill="#4f0" d="M1160 463l7 5-7 8-7-6zM1188 462l7 7-7 6-7-7zM1174 462l7 6-7 7-7-7z"/><path fill="#0f3" d="M1111 480l7 5-7 9-7-4z"/><path fill="#0f1" d="M1125 476l7 5-7 9-7-5zM1223 474l7 8-7 5-7-9z"/><path fill="#0f0" d="M1139 472l7 6-7 8-7-5zM1209 471l7 7-7 6-7-8z"/><path fill="#1f0" d="M1153 470l7 6-7 7-7-5z"/><path fill="#0f6" d="M1104 490l7 4-6 11-7-5z"/><path fill="#1f0" d="M1195 469l7 7-7 6-7-7zM1167 468l7 7-7 7-7-6zM1181 468l7 7-7 7-7-7z"/><path fill="#0f4" d="M1118 485l7 5-7 10-7-6z"/><path fill="#0f3" d="M1132 481l7 5-7 9-7-5zM1216 478l7 9-7 6-7-9z"/><path fill="#0f2" d="M1146 478l7 5-7 9-7-6zM1202 476l7 8-7 6-7-8zM1160 476l7 6-7 8-7-7z"/><path fill="#0f1" d="M1188 475l7 7-7 7-7-7zM1174 475l7 7-7 7-7-7z"/><path fill="#0f7" d="M1111 494l7 6-6 10-7-5z"/><path fill="#0f6" d="M1125 490l7 5-7 10-7-5z"/><path fill="#0f5" d="M1139 486l7 6-7 10-7-7zM1209 484l7 9-7 6-7-9z"/><path fill="#0f4" d="M1153 483l7 7-7 9-7-7zM1195 482l7 8-7 7-7-8zM1167 482l7 7-7 8-7-7zM1181 482l7 7-7 8-7-8z"/><path fill="#0f9" d="M1118 500l7 5-6 11-7-6z"/><path fill="#0f8" d="M1132 495l7 7-7 10-7-7z"/><path fill="#0f7" d="M1146 492l7 7-7 10-7-7zM1202 490l7 9-7 7-7-9zM1160 490l7 7-7 9-7-7z"/><path fill="#0f6" d="M1188 489l7 8-7 8-7-8zM1174 489l7 8-7 8-7-8z"/><path fill="#0fb" d="M1125 505l7 7-6 11-7-7z"/><path fill="#0fa" d="M1139 502l7 7-7 10-7-7zM1153 499l7 7-7 10-7-7z"/><path fill="#0f9" d="M1195 497l7 9-7 8-7-9zM1167 497l7 8-7 10-7-9zM1181 497l7 8-7 9-7-9z"/><path fill="#0fd" d="M1132 512l7 7-7 11-6-7zM1146 509l7 7-7 11-7-8z"/><path fill="#0fc" d="M1160 506l7 9-7 10-7-9zM1188 505l7 9-7 9-7-9zM1174 505l7 9-7 9-7-8z"/><path fill="#0ff" d="M1139 519l7 8-7 11-7-8zM1153 516l7 9-7 10-7-8z"/><path fill="#0fe" d="M1167 515l7 8-7 11-7-9zM1181 514l7 9-7 10-7-10z"/><path fill="#0df" d="M1146 527l7 8-7 12-7-9zM1160 525l7 9-7 11-7-10zM1174 523l7 10-7 10-7-9z"/><path fill="#0bf" d="M1153 535l7 10-7 12-7-10zM1167 534l7 9-7 12-7-10z"/><path fill="#08f" d="M1160 545l7 10-7 12-7-10z"/></g>
<circle cx="579.4" cy="203.6" r="1.6" fill="#b00c0c"/><circle cx="579.4" cy="213.5" r="1.6" fill="#b00c0c"/><circle cx="511.2" cy="247" r="1.5" fill="#f6dede" stroke="#c04848" stroke-width="0.5"/><circle cx="648.9" cy="230.9" r="1.6" fill="#b00c0c"/><circle cx="579.4" cy="286.5" r="1.5" fill="#f6dede" stroke="#c04848" stroke-width="0.5"/>
<!-- C1 -->
<g stroke="#777" stroke-width="0.9" fill="none"><polyline points="76.7,450.4 143.8,427.9 210.8,450.3"/><polyline points="76.1,433.4 143.8,412.8 211.2,433.3"/><polyline points="75.5,416.4 143.9,397.7 211.7,416.4"/><polyline points="75,399.5 143.9,382.6 212.1,399.4"/><polyline points="74.4,382.5 143.9,367.5 212.6,382.4"/><line x1="127" y1="433.5" x2="126.5" y2="371.2"/><line x1="110.3" y1="439.1" x2="109.2" y2="375"/><line x1="93.5" y1="444.8" x2="91.8" y2="378.8"/><line x1="166.1" y1="435.4" x2="166.8" y2="372.5"/><line x1="188.5" y1="442.9" x2="189.7" y2="377.4"/><line x1="77.4" y1="471.2" x2="74.4" y2="382.5"/><line x1="143.8" y1="446.5" x2="143.9" y2="367.5"/><line x1="210.2" y1="471.2" x2="212.6" y2="382.4"/></g>
<g stroke="#222" stroke-width="1"><line x1="74.5" y1="450.9" x2="76.7" y2="450.4"/><line x1="73.9" y1="433.9" x2="76.1" y2="433.4"/><line x1="73.3" y1="416.9" x2="75.5" y2="416.4"/><line x1="72.8" y1="400" x2="75" y2="399.5"/><line x1="72.2" y1="383" x2="74.4" y2="382.5"/></g>
<polygon points="143.8,446.5 77.4,471.2 144.4,504.7 210.2,471.2" fill="#646464" stroke="#444" stroke-width="0.6"/>
<g transform="scale(.5)" fill="none" stroke-width="2.0"><path d="M339 982l4 -2 3 -1 3 -2 2 -2 2 -1 1 -2 1 -2 1 -1 1 -2 1 -1 0 -2 0 -1 1 -2 0 -2 0 -1 0 -2 -1 -1 0 -1 -1 -2 0 -1 -1 -2 -1 -1 0 -1 -2 -2 -1 -1 -1 -2 -1 -1 -2 -2 -2 -1 -1 -1 -2 -2 -2 -1 -2 -1 -3 -2 -2 -1 -3 -1 -3 -2 -3 -1 -3 -1 -4 -2 -3 -1 -3 -1 -4 -1 -4 -1 -2 -1 -4 0 -3 -1 -3 -1 -3 0 -4 -1 -3 0 -3 -1 -4 0 -3 0 -4 -1 -3 0 -3 0 -4 0 -3 0 -4 0 -3 0 -3 0 -3 0 -3 1 -4 1 -3 0 -4 1 -3 1 -3 2 -2 1 -2 2 -1 1 -1 1 -1 2 -1 1 0 1 0 2 0 1 0 1 0 2 0 1 1 2 1 1 0 1 1 2 1 1 1 2 2 1 1 2 2 2 1 1 2 1 2 2 2 2 2 1 2 2 2 1 3 2 3 2 3 1 2 1 3 2 4 2 3 1 3 1 3 2 4 1 4 1 2 1 4 2 3 0 3 1 4 1 3 1 3 1 3 0 4 1 3 0 3 1 4 0 4 0 2 0 4 0 3 0 4 0 3 -1 4 0 3 -1 1 0" stroke="#ffcc00"/><path d="M383 961l0 -1 0 -2 0 -1 -1 -1 0 -2 0 -1 -1 -2 -1 -1 0 -2 -1 -1 -1 -1 -1 -2 -1 -1 -1 -1 -1 -2 -2 -1 -1 -2 -2 -1 -1 -2 -2 -1 -2 -1 -2 -1 -2 -2 -2 -1 -3 -2 -2 -1 -3 -1 -3 -1 -3 -2 -3 -1 -2 -1 -3 -1 -3 -1 -4 -1 -3 -1 -4 -1 -3 -1 -3 -1 -3 -1 -4 -1 -3 0 -4 -1 -3 -1 -3 -1 -3 0 -4 -1 -4 0 -3 -1 -3 0 -3 -1 -4 0 -3 0 -3 -1 -3 0 -2 0" stroke="#99ff00"/><path d="M189 930l0 1 1 2 0 1 1 1 1 2 1 2 1 1 1 2 1 1 2 1 1 2 1 1 2 2 2 2 2 1 1 2 3 1 1 2 3 2 2 1 3 2 1 1 3 2 3 2 3 1 3 2 3 1 3 2 3 2 4 1 3 2 3 1 3 1 4 2 4 1 2 1 4 1 3 1 4 2 3 0 4 2 3 0 3 1 3 1 4 1 3 1 3 0 3 1 4 0 3 1 3 0" stroke="#99ff00"/><path d="M320 905l-4 -1 -3 -1 -4 -1 -3 0 -3 -1 -4 -1 -3 0 -3 -1 -3 0 -4 -1 -3 0 -4 -1 -2 0" stroke="#00ff00"/><path d="M173 936l1 1 1 2 1 1 2 2 1 1 1 1 2 2 1 2 2 1 2 2 1 1 3 2 1 2 2 1 2 2 2 1 3 2 2 1 3 2 3 2 2 1 3 2 3 2 3 2 3 1 3 2 4 2 3 1 4 2 3 1 4 2 2 1 4 1 4 2 3 1 3 1 3 1 4 2 3 1 4 1 3 1 4 1 3 1 2 0 5 2 3 0 3 1 3 1 1 0" stroke="#00ff00"/><path d="M401 952l0 -2 -1 -1 0 -1 -1 -2 -1 -1 -1 -2 -1 -1 -1 -1 -1 -2 -1 -1 -1 -2 -2 -1 -1 -1 -2 -1 -2 -2 -1 -1 -2 -1 -3 -2 0 0" stroke="#00ff00"/><path d="M161 940l1 1 2 2 1 2 2 2 2 1 1 1 2 2" stroke="#00ff99"/><path d="M278 1004l4 1 3 1 3 1 4 1" stroke="#00ff99"/><path d="M417 944l-1 -1 -1 -2 -1 -1" stroke="#00ff99"/></g>
<g transform="scale(.5)" stroke="#000" stroke-opacity="0.42" stroke-width="0.8" stroke-linejoin="round"><path fill="#0f4" d="M288 809l6-2-6-6-7 2z"/><path fill="#0f2" d="M294 807l7-1-7-6-6 1z"/><path fill="#0f0" d="M281 803l7-2-7-6-7 2z"/><path fill="#0f1" d="M301 806l7-1-7-6-7 1z"/><path fill="#1f0" d="M288 801l6-1-6-6-7 1z"/><path fill="#3f0" d="M274 797l7-2-7-4-7 1z"/><path fill="#0f0" d="M308 805l7 0-7-6-7 0z"/><path fill="#3f0" d="M294 800l7-1-7-6-6 1z"/><path fill="#5f0" d="M281 795l7-1-7-5-7 2z"/><path fill="#6f0" d="M267 792l7-1-7-4-7 2z"/><path fill="#1f0" d="M315 805l7 0-7-7-7 1z"/><path fill="#4f0" d="M301 799l7 0-7-6-7 0z"/><path fill="#6f0" d="M288 794l6-1-6-4-7 0z"/><path fill="#8f0" d="M274 791l7-2-7-3-7 1z"/><path fill="#9f0" d="M260 789l7-2-7-3-7 2z"/><path fill="#2f0" d="M322 805l6 0-6-6-7-1z"/><path fill="#5f0" d="M308 799l7-1-7-5-7 0z"/><path fill="#8f0" d="M294 793l7 0-7-5-6 1z"/><path fill="#af0" d="M281 789l7 0-7-4-7 1z"/><path fill="#bf0" d="M267 787l7-1-7-3-7 1z"/><path fill="#3f0" d="M328 805l7 1-7-6-6-1z"/><path fill="#bf0" d="M253 786l7-2-7-2-6 2z"/><path fill="#6f0" d="M315 798l7 1-7-6-7 0z"/><path fill="#9f0" d="M301 793l7 0-7-5-7 0z"/><path fill="#bf0" d="M288 789l6-1-6-4-7 1z"/><path fill="#4f0" d="M335 806l7 1-7-6-7-1z"/><path fill="#df0" d="M274 786l7-1-7-3-7 1zM247 784l6-2-7-1-6 2zM260 784l7-1-7-2-7 1z"/><path fill="#7f0" d="M322 799l6 1-6-6-7-1z"/><path fill="#af0" d="M308 793l7 0-7-5-7 0z"/><path fill="#4f0" d="M342 807l7 2-7-7-7-1z"/><path fill="#cf0" d="M294 788l7 0-7-4-6 0z"/><path fill="#ef0" d="M281 785l7-1-7-3-7 1z"/><path fill="#ff0" d="M240 783l6-2-7 0-6 2zM267 783l7-1-7-3-7 2zM253 782l7-1-7-2-7 2z"/><path fill="#7f0" d="M328 800l7 1-7-6-6-1z"/><path fill="#bf0" d="M315 793l7 1-7-5-7-1z"/><path fill="#4f0" d="M349 809l7 2-7-7-7-2z"/><path fill="#df0" d="M301 788l7 0-7-4-7 0z"/><path fill="#ff0" d="M288 784l6 0-7-3-6 0zM233 783l6-2-6 1-7 2z"/><path fill="#8f0" d="M335 801l7 1-7-6-7-1z"/><path fill="#fd0" d="M274 782l7-1-7-2-7 0zM246 781l7-2-7 0-7 2zM260 781l7-2-7-1-7 1z"/><path fill="#bf0" d="M322 794l6 1-6-5-7-1z"/><path fill="#5f0" d="M356 811l6 2-6-6-7-3z"/><path fill="#ef0" d="M308 788l7 1-7-4-7-1z"/><path fill="#fe0" d="M226 784l7-2-7 1-7 2z"/><path fill="#8f0" d="M342 802l7 2-7-6-7-2z"/><path fill="#fd0" d="M294 784l7 0-7-3-7 0zM239 781l7-2-7 1-6 2z"/><path fill="#fc0" d="M281 781l6 0-6-3-7 1z"/><path fill="#fb0" d="M253 779l7-1-7 0-7 1zM267 779l7 0-7-2-7 1z"/><path fill="#cf0" d="M328 795l7 1-7-5-6-1z"/><path fill="#4f0" d="M362 813l7 3-7-7-6-2z"/><path fill="#ff0" d="M315 789l7 1-7-4-7-1zM219 785l7-2-7 3-7 2z"/><path fill="#8f0" d="M349 804l7 3-7-6-7-3z"/><path fill="#fd0" d="M301 784l7 1-7-4-7 0z"/><path fill="#fc0" d="M233 782l6-2-7 2-6 1z"/><path fill="#fb0" d="M287 781l7 0-7-3-6 0z"/><path fill="#fa0" d="M246 779l7-1-7 1-7 1z"/><path fill="#4f0" d="M369 816l7 3-7-6-7-4z"/><path fill="#fa0" d="M274 779l7-1-7-1-7 0zM260 778l7-1-7 0-7 1z"/><path fill="#cf0" d="M335 796l7 2-7-5-7-2z"/><path fill="#ef0" d="M212 788l7-2-7 4-7 2z"/><path fill="#ff0" d="M322 790l6 1-6-4-7-1z"/><path fill="#8f0" d="M356 807l6 2-6-5-7-3z"/><path fill="#fd0" d="M226 783l6-1-6 2-7 2z"/><path fill="#fc0" d="M308 785l7 1-7-4-7-1z"/><path fill="#4f0" d="M376 819l7 3-7-6-7-3z"/><path fill="#fa0" d="M239 780l7-1-7 1-7 2zM294 781l7 0-7-2-7-1z"/><path fill="#cf0" d="M342 798l7 3-7-5-7-3z"/><path fill="#f80" d="M253 778l7-1-7 1-7 1zM281 778l6 0-7-1-6 0zM267 777l7 0-7-1-7 1z"/><path fill="#df0" d="M205 792l7-2-7 4-7 3z"/><path fill="#ff0" d="M328 791l7 2-7-4-6-2z"/><path fill="#8f0" d="M362 809l7 4-7-6-6-3z"/><path fill="#fe0" d="M219 786l7-2-7 4-7 2z"/><path fill="#3f0" d="M383 822l6 4-6-5-7-5z"/><path fill="#fc0" d="M315 786l7 1-7-3-7-2z"/><path fill="#fb0" d="M232 782l7-2-7 3-6 1z"/><path fill="#cf0" d="M349 801l7 3-7-5-7-3z"/><path fill="#f90" d="M301 781l7 1-7-2-7-1z"/><path fill="#bf0" d="M198 797l7-3-7 6-6 2z"/><path fill="#f80" d="M246 779l7-1-7 1-7 1z"/><path fill="#f70" d="M287 778l7 1-7-2-7 0zM260 777l7-1-7 1-7 1z"/><path fill="#f60" d="M274 777l6 0-6-1-7 0z"/><path fill="#7f0" d="M369 813l7 3-7-5-7-4z"/><path fill="#ff0" d="M335 793l7 3-7-4-7-3zM212 790l7-2-7 5-7 1z"/><path fill="#3f0" d="M389 826l7 5-7-6-6-4z"/><path fill="#fb0" d="M322 787l6 2-6-3-7-2z"/><path fill="#8f0" d="M192 802l6-2-6 7-7 2z"/><path fill="#fc0" d="M226 784l6-1-7 3-6 2z"/><path fill="#bf0" d="M356 804l6 3-6-5-7-3z"/><path fill="#f80" d="M308 782l7 2-7-3-7-1z"/><path fill="#f90" d="M239 780l7-1-7 3-7 1z"/><path fill="#7f0" d="M376 816l7 5-7-6-7-4z"/><path fill="#f60" d="M294 779l7 1-7-2-7-1zM253 778l7-1-7 2-7 0z"/><path fill="#df0" d="M205 794l7-1-7 5-7 2z"/><path fill="#f50" d="M280 777l7 0-7 0-6-1zM267 776l7 0-7 1-7 0z"/><path fill="#ff0" d="M342 796l7 3-7-5-7-2z"/><path fill="#2f0" d="M396 831l7 5-7-6-7-5z"/><path fill="#5f0" d="M185 809l7-2-7 8-7 2z"/><path fill="#fd0" d="M219 788l6-2-6 5-7 2z"/><path fill="#fc0" d="M328 789l7 3-7-4-6-2z"/><path fill="#af0" d="M362 807l7 4-6-5-7-4zM198 800l7-2-7 7-6 2z"/><path fill="#fa0" d="M232 783l7-1-7 3-7 1z"/><path fill="#f80" d="M315 784l7 2-7-3-7-2z"/><path fill="#2f0" d="M178 817l7-2-7 9-6 2z"/><path fill="#6f0" d="M383 821l6 4-6-5-7-5z"/><path fill="#1f0" d="M403 836l6 5-6-5-7-6z"/><path fill="#f70" d="M246 779l7 0-7 2-7 1z"/><path fill="#ff0" d="M349 799l7 3-7-4-7-4z"/><path fill="#f60" d="M301 780l7 1-7-2-7-1z"/><path fill="#f50" d="M260 777l7 0-7 1-7 1zM287 777l7 1-7 0-7-1z"/><path fill="#f40" d="M274 776l6 1-7 0-6 0z"/><path fill="#ef0" d="M212 793l7-2-7 6-7 1z"/><path fill="#0f2" d="M172 826l6-2-6 10-7 2z"/><path fill="#af0" d="M369 811l7 4-7-5-6-4z"/><path fill="#7f0" d="M192 807l6-2-6 8-7 2z"/><path fill="#fc0" d="M335 792l7 2-7-3-7-3zM225 786l7-1-7 5-6 1z"/><path fill="#5f0" d="M389 825l7 5-6-5-7-5z"/><path fill="#0f0" d="M409 841l7 6-6-5-7-6z"/><path fill="#f80" d="M322 786l6 2-6-3-7-2z"/><path fill="#0f5" d="M165 836l7-2-7 11-7 2z"/><path fill="#ef0" d="M356 802l7 4-7-4-7-4z"/><path fill="#f80" d="M239 782l7-1-7 4-7 0z"/><path fill="#cf0" d="M205 798l7-1-7 7-7 1z"/><path fill="#f60" d="M308 781l7 2-7-2-7-2z"/><path fill="#4f0" d="M185 815l7-2-7 9-7 2z"/><path fill="#f50" d="M253 779l7-1-7 3-7 0z"/><path fill="#f40" d="M294 778l7 1-7 0-7-1z"/><path fill="#9f0" d="M376 815l7 5-7-5-7-5z"/><path fill="#f40" d="M267 777l6 0-6 1-7 0z"/><path fill="#f30" d="M280 777l7 1-7 0-7-1z"/><path fill="#0f9" d="M158 847l7-2-6 13-7 1z"/><path fill="#fc0" d="M342 794l7 4-7-4-7-3z"/><path fill="#fe0" d="M219 791l6-1-6 6-7 1z"/><path fill="#4f0" d="M396 830l7 6-7-5-6-6z"/><path fill="#0f1" d="M416 847l7 7-7-5-6-7z"/><path fill="#0f0" d="M178 824l7-2-7 10-6 2z"/><path fill="#9f0" d="M198 805l7-1-7 8-6 1z"/><path fill="#f90" d="M328 788l7 3-7-3-6-3z"/><path fill="#fa0" d="M232 785l7 0-7 4-7 1z"/><path fill="#df0" d="M363 806l6 4-6-4-7-4z"/><path fill="#f60" d="M315 783l7 2-7-2-7-2zM246 781l7 0-7 3-7 1z"/><path fill="#8f0" d="M383 820l7 5-7-5-7-5z"/><path fill="#0f4" d="M172 834l6-2-6 12-7 1z"/><path fill="#df0" d="M212 797l7-1-7 7-7 1z"/><path fill="#2f0" d="M403 836l7 6-7-5-7-6z"/><path fill="#f40" d="M301 779l7 2-7-1-7-1zM260 778l7 0-7 3-7 0z"/><path fill="#5f0" d="M192 813l6-1-6 9-7 1z"/><path fill="#fd0" d="M349 798l7 4-7-4-7-4z"/><path fill="#f30" d="M287 778l7 1-7 0-7-1zM273 777l7 1-7 1-6-1z"/><path fill="#0f8" d="M165 845l7-1-7 12-6 2z"/><path fill="#fc0" d="M225 790l7-1-7 6-6 1z"/><path fill="#cf0" d="M369 810l7 5-7-4-6-5z"/><path fill="#fa0" d="M335 791l7 3-7-3-7-3z"/><path fill="#2f0" d="M185 822l7-1-7 10-7 1z"/><path fill="#af0" d="M205 804l7-1-7 7-7 2z"/><path fill="#6f0" d="M390 825l6 6-6-5-7-6z"/><path fill="#f80" d="M239 785l7-1-7 5-7 0z"/><path fill="#1f0" d="M410 842l6 7-6-5-7-7z"/><path fill="#f60" d="M322 785l6 3-6-2-7-3z"/><path fill="#fe0" d="M356 802l7 4-7-4-7-4z"/><path fill="#f50" d="M253 781l7 0-7 3-7 0z"/><path fill="#f40" d="M308 781l7 2-7-1-7-2z"/><path fill="#0f3" d="M178 832l7-1-7 11-6 2z"/><path fill="#f30" d="M267 778l6 1-7 2-6 0z"/><path fill="#ff0" d="M219 796l6-1-6 7-7 1z"/><path fill="#f30" d="M294 779l7 1-7 0-7-1z"/><path fill="#f20" d="M280 778l7 1-7 1-7-1z"/><path fill="#af0" d="M376 815l7 5-7-4-7-5z"/><path fill="#6f0" d="M198 812l7-2-7 10-6 1z"/><path fill="#fb0" d="M342 794l7 4-7-3-7-4z"/><path fill="#5f0" d="M396 831l7 6-7-5-6-6z"/><path fill="#fb0" d="M232 789l7 0-7 6-7 0z"/><path fill="#0f7" d="M172 844l6-2-6 13-7 1z"/><path fill="#f70" d="M328 788l7 3-7-2-6-3z"/><path fill="#ef0" d="M363 806l6 5-6-4-7-5z"/><path fill="#cf0" d="M212 803l7-1-7 8-7 0z"/><path fill="#3f0" d="M192 821l6-1-6 10-7 1z"/><path fill="#f70" d="M246 784l7 0-7 5-7 0z"/><path fill="#f40" d="M315 783l7 3-7-1-7-3z"/><path fill="#9f0" d="M383 820l7 6-7-4-7-6z"/><path fill="#f40" d="M260 781l6 0-6 4-7-1z"/><path fill="#f30" d="M301 780l7 2-7 0-7-2z"/><path fill="#3f0" d="M403 837l7 7-7-5-7-7z"/><path fill="#f30" d="M273 779l7 1-7 2-7-1z"/><path fill="#f20" d="M287 779l7 1-7 1-7-1z"/><path fill="#fc0" d="M349 798l7 4-7-3-7-4z"/><path fill="#fe0" d="M225 795l7 0-7 6-6 1z"/><path fill="#0f1" d="M185 831l7-1-7 11-7 1z"/><path fill="#8f0" d="M205 810l7 0-7 9-7 1z"/><path fill="#df0" d="M369 811l7 5-7-4-6-5z"/><path fill="#f80" d="M335 791l7 4-7-2-7-4z"/><path fill="#fa0" d="M239 789l7 0-7 5-7 1z"/><path fill="#0f6" d="M178 842l7-1-6 13-7 1z"/><path fill="#7f0" d="M390 826l6 6-6-4-7-6z"/><path fill="#f50" d="M322 786l6 3-7-1-6-3z"/><path fill="#f60" d="M253 784l7 1-7 4-7 0z"/><path fill="#df0" d="M219 802l6-1-6 8-7 1z"/><path fill="#4f0" d="M198 820l7-1-6 10-7 1z"/><path fill="#fd0" d="M356 802l7 5-7-3-7-5z"/><path fill="#f30" d="M308 782l7 3-7 0-7-3z"/><path fill="#f40" d="M266 781l7 1-7 4-6-1z"/><path fill="#f20" d="M294 780l7 2-7 1-7-2zM280 780l7 1-7 3-7-2z"/><path fill="#fd0" d="M232 795l7-1-7 7-7 0z"/><path fill="#bf0" d="M376 816l7 6-7-4-7-6z"/><path fill="#0f0" d="M192 830l7-1-7 12-7 0z"/><path fill="#f90" d="M342 795l7 4-7-2-7-4z"/><path fill="#6f0" d="M396 832l7 7-7-4-6-7z"/><path fill="#9f0" d="M212 810l7-1-7 10-7 0z"/><path fill="#f90" d="M246 789l7 0-7 6-7-1z"/><path fill="#f60" d="M328 789l7 4-7-1-7-4z"/><path fill="#ff0" d="M363 807l6 5-7-3-6-5z"/><path fill="#0f5" d="M185 841l7 0-7 13-6 0z"/><path fill="#f50" d="M260 785l6 1-6 4-7-1z"/><path fill="#f40" d="M315 785l6 3-6 0-7-3z"/><path fill="#ef0" d="M225 801l7 0-7 8-6 0z"/><path fill="#5f0" d="M205 819l7 0-7 10-6 0z"/><path fill="#f30" d="M273 782l7 2-7 3-7-1z"/><path fill="#9f0" d="M383 822l7 6-7-4-7-6z"/><path fill="#f30" d="M301 782l7 3-7 1-7-3z"/><path fill="#f20" d="M287 781l7 2-7 2-7-1z"/><path fill="#fb0" d="M349 799l7 5-7-2-7-5z"/><path fill="#fc0" d="M239 794l7 1-7 7-7-1z"/><path fill="#1f0" d="M199 829l6 0-6 12-7 0z"/><path fill="#af0" d="M219 809l6 0-6 10-7 0z"/><path fill="#f70" d="M335 793l7 4-7-1-7-4z"/><path fill="#ef0" d="M369 812l7 6-7-3-7-6z"/><path fill="#f80" d="M253 789l7 1-7 6-7-1z"/><path fill="#8f0" d="M390 828l6 7-6-4-7-7z"/><path fill="#f50" d="M321 788l7 4-7-1-6-3zM266 786l7 1-7 4-6-1z"/><path fill="#0f4" d="M192 841l7 0-7 13-7 0z"/><path fill="#f30" d="M308 785l7 3-7 1-7-3zM280 784l7 1-7 4-7-2z"/><path fill="#ff0" d="M232 801l7 1-7 8-7-1z"/><path fill="#fd0" d="M356 804l6 5-6-2-7-5z"/><path fill="#f30" d="M294 783l7 3-7 2-7-3z"/><path fill="#6f0" d="M212 819l7 0-7 10-7 0z"/><path fill="#cf0" d="M376 818l7 6-7-3-7-6z"/><path fill="#fb0" d="M246 795l7 1-7 6-7 0z"/><path fill="#f90" d="M342 797l7 5-7-2-7-4z"/><path fill="#1f0" d="M205 829l7 0-7 12-6 0z"/><path fill="#bf0" d="M225 809l7 1-6 9-7 0z"/><path fill="#f80" d="M260 790l6 1-6 6-7-1z"/><path fill="#f60" d="M328 792l7 4-7-1-7-4z"/><path fill="#fe0" d="M362 809l7 6-7-3-6-5z"/><path fill="#f50" d="M273 787l7 2-7 4-7-2z"/><path fill="#f40" d="M315 788l6 3-7 1-6-3zM287 785l7 3-7 3-7-2z"/><path fill="#f30" d="M301 786l7 3-7 1-7-2z"/><path fill="#0f3" d="M199 841l6 0-6 13-7 0z"/><path fill="#af0" d="M383 824l7 7-7-3-7-7z"/><path fill="#ff0" d="M239 802l7 0-7 9-7-1z"/><path fill="#6f0" d="M219 819l7 0-7 11-7-1z"/><path fill="#fb0" d="M349 802l7 5-7-2-7-5zM253 796l7 1-7 7-7-2z"/><path fill="#f80" d="M335 796l7 4-7-1-7-4z"/><path fill="#ef0" d="M369 815l7 6-7-3-7-6z"/><path fill="#2f0" d="M212 829l7 1-7 12-7-1z"/><path fill="#f70" d="M266 791l7 2-7 5-6-1z"/><path fill="#bf0" d="M232 810l7 1-7 9-6-1z"/><path fill="#f50" d="M321 791l7 4-7 1-7-4zM280 789l7 2-7 4-7-2z"/><path fill="#f40" d="M308 789l6 3-6 2-7-4zM294 788l7 2-7 3-7-2z"/><path fill="#fd0" d="M356 807l6 5-6-1-7-6z"/><path fill="#0f3" d="M205 841l7 1-6 13-7-1z"/><path fill="#ff0" d="M246 802l7 2-7 8-7-1z"/><path fill="#7f0" d="M226 819l6 1-6 11-7-1z"/><path fill="#cf0" d="M376 821l7 7-7-3-7-7z"/><path fill="#f90" d="M342 800l7 5-7-1-7-5z"/><path fill="#fb0" d="M260 797l6 1-6 7-7-1z"/><path fill="#f70" d="M328 795l7 4-7 1-7-4z"/><path fill="#f80" d="M273 793l7 2-7 5-7-2z"/><path fill="#2f0" d="M219 830l7 1-7 12-7-1z"/><path fill="#bf0" d="M239 811l7 1-7 9-7-1z"/><path fill="#ff0" d="M362 812l7 6-7-1-6-6z"/><path fill="#f50" d="M314 792l7 4-7 1-6-3z"/><path fill="#f60" d="M287 791l7 2-7 5-7-3z"/><path fill="#f50" d="M301 790l7 4-7 2-7-3z"/><path fill="#ff0" d="M253 804l7 1-7 8-7-1z"/><path fill="#0f3" d="M212 842l7 1-7 13-6-1z"/><path fill="#fc0" d="M349 805l7 6-7-1-7-6z"/><path fill="#7f0" d="M232 820l7 1-7 11-6-1z"/><path fill="#fb0" d="M266 798l7 2-7 7-6-2z"/><path fill="#f90" d="M335 799l7 5-7 1-7-5z"/><path fill="#df0" d="M369 818l7 7-7-2-7-6z"/><path fill="#f80" d="M280 795l7 3-7 5-7-3z"/><path fill="#f70" d="M321 796l7 4-7 1-7-4zM294 793l7 3-7 5-7-3z"/><path fill="#cf0" d="M246 812l7 1-7 10-7-2z"/><path fill="#f60" d="M308 794l6 3-6 3-7-4z"/><path fill="#2f0" d="M226 831l6 1-6 12-7-1z"/><path fill="#fe0" d="M356 811l6 6-6-1-7-6z"/><path fill="#ff0" d="M260 805l6 2-6 8-7-2z"/><path fill="#0f2" d="M219 843l7 1-7 14-7-2z"/><path fill="#fb0" d="M342 804l7 6-7 0-7-5z"/><path fill="#7f0" d="M239 821l7 2-7 11-7-2z"/><path fill="#fb0" d="M273 800l7 3-7 7-7-3z"/><path fill="#f90" d="M328 800l7 5-7 1-7-5zM287 798l7 3-7 5-7-3z"/><path fill="#f70" d="M314 797l7 4-7 3-6-4z"/><path fill="#f80" d="M301 796l7 4-7 4-7-3z"/><path fill="#ef0" d="M362 817l7 6-7-1-6-6z"/><path fill="#bf0" d="M253 813l7 2-7 10-7-2z"/><path fill="#2f0" d="M232 832l7 2-6 12-7-2z"/><path fill="#fd0" d="M349 810l7 6-7 0-7-6z"/><path fill="#ff0" d="M266 807l7 3-7 8-6-3z"/><path fill="#0f3" d="M226 844l7 2-7 14-7-2z"/><path fill="#7f0" d="M246 823l7 2-7 11-7-2z"/><path fill="#fb0" d="M335 805l7 5-7 1-7-5z"/><path fill="#fc0" d="M280 803l7 3-7 7-7-3z"/><path fill="#f90" d="M321 801l7 5-7 3-7-5z"/><path fill="#fa0" d="M294 801l7 3-7 5-7-3z"/><path fill="#f90" d="M308 800l6 4-7 4-6-4z"/><path fill="#bf0" d="M260 815l6 3-6 10-7-3z"/><path fill="#2f0" d="M239 834l7 2-7 13-6-3z"/><path fill="#ff0" d="M356 816l6 6-7 0-6-6z"/><path fill="#ef0" d="M273 810l7 3-7 8-7-3z"/><path fill="#fd0" d="M342 810l7 6-7 1-7-6z"/><path fill="#0f3" d="M233 846l6 3-6 14-7-3z"/><path fill="#fd0" d="M287 806l7 3-7 7-7-3z"/><path fill="#6f0" d="M253 825l7 3-7 11-7-3z"/><path fill="#fb0" d="M328 806l7 5-7 3-7-5zM301 804l6 4-6 5-7-4zM314 804l7 5-7 3-7-4z"/><path fill="#af0" d="M266 818l7 3-7 10-6-3z"/><path fill="#2f0" d="M246 836l7 3-7 13-7-3z"/><path fill="#ff0" d="M349 816l6 6-6 1-7-6z"/><path fill="#df0" d="M280 813l7 3-7 8-7-3z"/><path fill="#fd0" d="M335 811l7 6-7 2-7-5z"/><path fill="#0f3" d="M239 849l7 3-6 14-7-3z"/><path fill="#fe0" d="M294 809l7 4-7 7-7-4z"/><path fill="#6f0" d="M260 828l6 3-6 11-7-3z"/><path fill="#fc0" d="M321 809l7 5-7 3-7-5z"/><path fill="#fd0" d="M307 808l7 4-7 6-6-5z"/><path fill="#af0" d="M273 821l7 3-7 10-7-3z"/><path fill="#1f0" d="M253 839l7 3-7 13-7-3z"/><path fill="#cf0" d="M287 816l7 4-7 8-7-4z"/><path fill="#ff0" d="M342 817l7 6-7 2-7-6z"/><path fill="#ef0" d="M301 813l6 5-6 6-7-4z"/><path fill="#fe0" d="M328 814l7 5-7 4-7-6z"/><path fill="#0f4" d="M246 852l7 3-7 15-6-4z"/><path fill="#fe0" d="M314 812l7 5-7 6-7-5z"/><path fill="#5f0" d="M266 831l7 3-6 12-7-4z"/><path fill="#8f0" d="M280 824l7 4-7 10-7-4z"/><path fill="#0f0" d="M260 842l7 4-7 13-7-4z"/><path fill="#bf0" d="M294 820l7 4-7 9-7-5z"/><path fill="#ef0" d="M335 819l7 6-7 4-7-6z"/><path fill="#df0" d="M307 818l7 5-7 6-6-5z"/><path fill="#ef0" d="M321 817l7 6-7 5-7-5z"/><path fill="#0f5" d="M253 855l7 4-7 15-7-4z"/><path fill="#4f0" d="M273 834l7 4-7 12-6-4z"/><path fill="#7f0" d="M287 828l7 5-7 10-7-5z"/><path fill="#0f1" d="M267 846l6 4-6 14-7-5z"/><path fill="#af0" d="M301 824l6 5-6 9-7-5z"/><path fill="#bf0" d="M314 823l7 5-7 7-7-6z"/><path fill="#cf0" d="M328 823l7 6-7 5-7-6z"/><path fill="#0f6" d="M260 859l7 5-7 15-7-5z"/><path fill="#3f0" d="M280 838l7 5-7 12-7-5z"/><path fill="#6f0" d="M294 833l7 5-7 10-7-5z"/><path fill="#0f2" d="M273 850l7 5-6 14-7-5z"/><path fill="#8f0" d="M307 829l7 6-7 8-6-5z"/><path fill="#9f0" d="M321 828l7 6-7 7-7-6z"/><path fill="#0f7" d="M267 864l7 5-7 15-7-5z"/><path fill="#1f0" d="M287 843l7 5-7 12-7-5z"/><path fill="#4f0" d="M301 838l6 5-6 11-7-6z"/><path fill="#0f3" d="M280 855l7 5-7 14-6-5z"/><path fill="#6f0" d="M314 835l7 6-7 8-7-6z"/><path fill="#0f9" d="M274 869l6 5-6 16-7-6z"/><path fill="#0f0" d="M294 848l7 6-7 12-7-6z"/><path fill="#2f0" d="M307 843l7 6-6 11-7-6z"/><path fill="#0f5" d="M287 860l7 6-7 14-7-6z"/><path fill="#0f2" d="M301 854l7 6-7 12-7-6z"/><path fill="#0fa" d="M280 874l7 6-6 17-7-7z"/><path fill="#0f7" d="M294 866l7 6-7 15-7-7z"/><path fill="#0fc" d="M287 880l7 7-6 17-7-7z"/></g>
<circle cx="143.9" cy="384.8" r="1.6" fill="#b00c0c"/><circle cx="75.4" cy="430.3" r="1.6" fill="#b00c0c"/><circle cx="211.4" cy="427.8" r="1.5" fill="#f6dede" stroke="#c04848" stroke-width="0.5"/><circle cx="143.9" cy="460" r="1.5" fill="#f6dede" stroke="#c04848" stroke-width="0.5"/>
<!-- C2 -->
<g stroke="#777" stroke-width="0.9" fill="none"><polyline points="296.1,452 360.7,430.6 425.2,452.1"/><polyline points="295.5,435.5 360.9,415.8 426.1,435.6"/><polyline points="294.9,418.9 361,401 427,419.1"/><polyline points="294.3,402.4 361.2,386.2 428,402.6"/><polyline points="293.7,385.8 361.4,371.4 428.9,386.1"/><line x1="344.5" y1="435.9" x2="344.5" y2="375"/><line x1="328.4" y1="441.3" x2="327.5" y2="378.6"/><line x1="312.3" y1="446.7" x2="310.6" y2="382.2"/><line x1="376.8" y1="436" x2="378.3" y2="375.1"/><line x1="392.9" y1="441.3" x2="395.1" y2="378.8"/><line x1="409" y1="446.7" x2="412" y2="382.4"/><line x1="296.9" y1="472.4" x2="293.7" y2="385.8"/><line x1="360.4" y1="448.8" x2="361.4" y2="371.4"/><line x1="424" y1="472.4" x2="428.9" y2="386.1"/></g>
<g stroke="#222" stroke-width="1"><line x1="293.9" y1="452.5" x2="296.1" y2="452"/><line x1="293.3" y1="436" x2="295.5" y2="435.5"/><line x1="292.7" y1="419.4" x2="294.9" y2="418.9"/><line x1="292.1" y1="402.9" x2="294.3" y2="402.4"/><line x1="291.5" y1="386.3" x2="293.7" y2="385.8"/></g>
<polygon points="360.4,448.8 296.9,472.4 361.9,503.5 424,472.4" fill="#646464" stroke="#444" stroke-width="0.6"/>
<g transform="scale(.5)" fill="none" stroke-width="2.0"><path d="M765 976l3 -1 3 -1 2 -2 1 -1 2 -2 1 -1 1 -2 0 -1 1 -2 0 -1 0 -1 0 -2 0 -1 0 -2 0 -1 -1 -2 0 -1 -1 -1 -1 -1 0 -2 -1 -1 -2 -1 -1 -2 -2 -1 -1 -2 -2 -1 -2 -1 -2 -1 -2 -2 -2 -1 -3 -1 -3 -2 -4 -1 -3 -1 -3 -1 -3 -1 -3 -1 -4 -1 -3 -1 -3 0 -3 -1 -3 0 -4 -1 -3 0 -3 -1 -3 0 -4 0 -3 0 -2 0 -4 0 -3 0 -3 0 -3 0 -3 0 -3 1 -4 1 -3 0 -4 1 -3 2 -2 1 -2 1 -1 1 -1 2 -1 1 -1 1 0 2 -1 1 0 1 0 2 1 1 0 1 1 2 0 1 1 2 1 1 1 2 2 1 1 1 1 2 2 1 2 2 2 1 2 1 2 2 3 1 2 2 3 1 3 2 3 1 3 2 4 1 2 1 4 1 3 1 3 1 3 1 4 1 3 0 3 1 3 1 3 0 4 0 3 1 3 0 3 0 4 0 2 0 3 0 4 -1 3 0 3 -1 4 -1 1 -1" stroke="#ffcc00"/><path d="M802 968l0 -2 0 -1 0 -1 1 -2 0 -1 -1 -2 0 -1 0 -2 0 -1 -1 -1 0 -2 -1 -1 -1 -1 0 -1 -1 -2 -1 -1 -1 -2 -1 -1 -2 -1 -1 -2 -2 -1 -1 -1 -2 -1 -2 -2 -2 -1 -2 -1 -2 -2 -3 -1 -2 -1 -3 -1 -3 -1 -3 -2 -3 -1 -4 -1 -3 -1 -2 -1 -4 -1 -3 -1 -3 -1 -3 0 -4 -1 -3 -1 -3 0 -3 -1 -4 0 -3 -1 -3 0 -3 -1 -4 0 -2 0 -3 -1 -3 0 -4 0 -3 0 -3 0 -3 0 -4 0 -2 0" stroke="#99ff00"/><path d="M633 930l0 1 0 2 0 1 0 2 0 0 1 2 0 1 1 2 0 1 1 1 1 2 1 1 1 2 1 1 1 2 2 1 1 1 2 2 2 1 1 2 2 1 2 2 2 1 3 2 1 1 3 2 3 1 3 2 2 1 3 1 4 2 3 1 2 1 4 2 3 1 4 1 3 1 3 2 3 0 4 2 3 0 2 1 4 1 3 1 3 0 3 1 3 1 4 0 3 1 3 0 4 0 3 1 3 0 3 0 4 0" stroke="#99ff00"/><path d="M820 959l0 -2 0 -1 0 -2 -1 -1 0 -1 -1 -2 -1 -1 0 -2 -1 -1 -1 -1 -1 -1 -1 -2 -1 -1 -2 -1 -1 -2 -1 -1 -2 -1 -1 -1 -3 -2 -1 -1 -2 -1 -2 -1 -3 -2 -2 -1 -3 -1 -2 -1 -2 -1 -3 -2 -4 -1 -3 -1 -3 -1 -3 -1 -3 -1 -3 -1 -4 -1 -2 -1 -4 -1 -2 0 -4 -1 -3 -1 -4 -1 -3 0 -3 -1 -3 0 -3 -1 -4 0 -3 -1 -3 0 -3 -1 -4 0 -3 0 -2 -1 -3 0 -2 0" stroke="#00ff00"/><path d="M615 937l1 1 0 1 1 2 1 1 1 2 1 1 1 2 1 1 1 1 2 2 1 1 1 1 2 2 2 2 1 1 2 2 2 1 2 1 3 2 1 1 3 2 3 2 2 1 3 2 3 1 3 2 3 1 3 2 4 1 3 2 4 1 3 2 3 1 3 1 4 1 3 1 3 2 3 0 3 1 4 1 3 1 3 1 4 1 2 0 3 1 4 1 3 1 4 0 3 1 3 0 2 0" stroke="#00ff00"/><path d="M738 904l-3 -1 -3 0 -3 -1 -3 0 -3 -1 -3 0 -4 0 -2 -1" stroke="#00ff99"/><path d="M603 941l1 2 1 1 1 2 1 1 1 2 1 1 2 1 1 2 2 1" stroke="#00ff99"/><path d="M835 951l-1 -1 0 -2 -1 -1 -1 -1 -1 -1 0 -2 -1 -1 -1 -1 -2 -2 -1 -1 -1 -1 -1 -1" stroke="#00ff99"/><path d="M709 1000l4 1 3 1 2 0 4 1 4 1 3 0" stroke="#00ff99"/><path d="M847 945l0 -1" stroke="#00ccff"/></g>
<g transform="scale(.5)" stroke="#000" stroke-opacity="0.42" stroke-width="0.8" stroke-linejoin="round"><path fill="#0f4" d="M722 827l6-2-6-8-7 3z"/><path fill="#0f2" d="M728 825l7-2-6-8-7 2z"/><path fill="#0f0" d="M715 820l7-3-7-7-6 3z"/><path fill="#0f1" d="M735 823l7-2-7-8-6 2z"/><path fill="#1f0" d="M722 817l7-2-7-7-7 2z"/><path fill="#3f0" d="M709 813l6-3-6-6-7 3z"/><path fill="#0f0" d="M742 821l6-1-6-8-7 1z"/><path fill="#2f0" d="M729 815l6-2-6-7-7 2z"/><path fill="#4f0" d="M715 810l7-2-6-6-7 2z"/><path fill="#6f0" d="M702 807l7-3-7-4-6 2z"/><path fill="#1f0" d="M748 820l7-1-6-8-7 1z"/><path fill="#4f0" d="M735 813l7-1-7-7-6 1z"/><path fill="#6f0" d="M722 808l7-2-7-6-6 2z"/><path fill="#7f0" d="M709 804l7-2-7-5-7 3z"/><path fill="#8f0" d="M696 802l6-2-6-4-7 3z"/><path fill="#1f0" d="M755 819l6 0-6-8-6 0z"/><path fill="#5f0" d="M742 812l7-1-7-7-7 1z"/><path fill="#7f0" d="M729 806l6-1-6-6-7 1z"/><path fill="#9f0" d="M716 802l6-2-6-5-7 2z"/><path fill="#2f0" d="M761 819l7 1-6-8-7-1z"/><path fill="#af0" d="M702 800l7-3-7-4-6 3zM689 799l7-3-7-3-7 3z"/><path fill="#5f0" d="M749 811l6 0-6-7-7 0z"/><path fill="#8f0" d="M735 805l7-1-6-6-7 1z"/><path fill="#2f0" d="M768 820l7 0-7-8-6 0z"/><path fill="#af0" d="M722 800l7-1-7-5-6 1z"/><path fill="#cf0" d="M709 797l7-2-7-4-7 2zM682 796l7-3-7-2-6 3z"/><path fill="#df0" d="M696 796l6-3-6-3-7 3z"/><path fill="#6f0" d="M755 811l7 1-7-7-6-1z"/><path fill="#9f0" d="M742 804l7 0-7-6-6 0z"/><path fill="#3f0" d="M775 820l6 2-6-8-7-2z"/><path fill="#cf0" d="M729 799l7-1-7-5-7 1z"/><path fill="#df0" d="M716 795l6-1-6-4-7 1z"/><path fill="#ef0" d="M676 794l6-3-6-1-7 3z"/><path fill="#6f0" d="M762 812l6 0-6-7-7 0z"/><path fill="#ef0" d="M702 793l7-2-7-3-6 2z"/><path fill="#ff0" d="M689 793l7-3-7-2-7 3z"/><path fill="#af0" d="M749 804l6 1-6-7-7 0z"/><path fill="#3f0" d="M781 822l7 2-6-8-7-2z"/><path fill="#df0" d="M736 798l6 0-6-5-7 0z"/><path fill="#7f0" d="M768 812l7 2-6-7-7-2z"/><path fill="#ff0" d="M669 793l7-3-7 0-7 3zM722 794l7-1-7-4-6 1z"/><path fill="#fe0" d="M682 791l7-3-7-1-6 3zM709 791l7-1-7-3-7 1zM696 790l6-2-6-2-7 2z"/><path fill="#2f0" d="M788 824l7 2-7-8-6-2z"/><path fill="#af0" d="M755 805l7 0-6-6-7-1z"/><path fill="#df0" d="M742 798l7 0-7-5-6 0z"/><path fill="#7f0" d="M775 814l7 2-7-7-6-2z"/><path fill="#ff0" d="M662 793l7-3-7 1-6 3z"/><path fill="#fe0" d="M729 793l7 0-7-4-7 0z"/><path fill="#fd0" d="M676 790l6-3-6 0-7 3z"/><path fill="#2f0" d="M795 826l6 3-6-8-7-3z"/><path fill="#fd0" d="M716 790l6-1-6-3-7 1z"/><path fill="#fc0" d="M689 788l7-2-7-1-7 2zM702 788l7-1-7-2-6 1z"/><path fill="#af0" d="M762 805l7 2-7-7-6-1z"/><path fill="#ef0" d="M749 798l7 1-7-5-7-1z"/><path fill="#6f0" d="M782 816l6 2-6-7-7-2z"/><path fill="#ef0" d="M656 794l6-3-6 3-7 3z"/><path fill="#2f0" d="M801 829l7 3-7-7-6-4z"/><path fill="#fd0" d="M736 793l6 0-6-4-7 0zM669 790l7-3-7 2-7 2z"/><path fill="#fb0" d="M722 789l7 0-7-4-6 1z"/><path fill="#af0" d="M769 807l6 2-6-7-7-2z"/><path fill="#fb0" d="M682 787l7-2-7 0-6 2z"/><path fill="#fa0" d="M709 787l7-1-7-2-7 1zM696 786l6-1-6-2-7 2z"/><path fill="#6f0" d="M788 818l7 3-6-7-7-3z"/><path fill="#ef0" d="M649 797l7-3-7 3-7 3zM756 799l6 1-6-5-7-1z"/><path fill="#1f0" d="M808 832l6 4-6-7-7-4z"/><path fill="#fd0" d="M662 791l7-2-7 2-6 3zM742 793l7 1-6-5-7 0z"/><path fill="#af0" d="M775 809l7 2-6-6-7-3z"/><path fill="#fb0" d="M676 787l6-2-6 1-7 3zM729 789l7 0-7-4-7 0z"/><path fill="#f90" d="M689 785l7-2-7 0-7 2zM716 786l6-1-6-2-7 1z"/><path fill="#5f0" d="M795 821l6 4-6-7-6-4z"/><path fill="#f80" d="M702 785l7-1-7-2-6 1z"/><path fill="#cf0" d="M642 800l7-3-7 4-6 4z"/><path fill="#0f0" d="M814 836l7 5-7-7-6-5z"/><path fill="#ef0" d="M762 800l7 2-7-5-6-2z"/><path fill="#fe0" d="M656 794l6-3-6 3-7 3z"/><path fill="#fd0" d="M749 794l7 1-7-4-6-2z"/><path fill="#af0" d="M782 811l7 3-7-6-6-3z"/><path fill="#fb0" d="M669 789l7-3-7 2-7 3z"/><path fill="#af0" d="M636 805l6-4-6 6-7 3z"/><path fill="#4f0" d="M801 825l7 4-6-7-7-4z"/><path fill="#fa0" d="M736 789l7 0-7-3-7-1z"/><path fill="#0f1" d="M821 841l6 5-6-7-7-5z"/><path fill="#f90" d="M682 785l7-2-7 1-6 2z"/><path fill="#f80" d="M722 785l7 0-7-2-6 0z"/><path fill="#f70" d="M696 783l6-1-6 0-7 1z"/><path fill="#ef0" d="M769 802l7 3-7-6-7-2z"/><path fill="#f70" d="M709 784l7-1-7-1-7 0z"/><path fill="#ef0" d="M649 797l7-3-7 5-7 2z"/><path fill="#9f0" d="M789 814l6 4-6-7-7-3z"/><path fill="#8f0" d="M629 810l7-3-7 7-6 3z"/><path fill="#fd0" d="M756 795l6 2-6-5-7-1z"/><path fill="#3f0" d="M808 829l6 5-6-7-6-5z"/><path fill="#fc0" d="M662 791l7-3-7 4-6 2z"/><path fill="#0f2" d="M827 846l6 6-6-7-6-6z"/><path fill="#f90" d="M743 789l6 2-6-4-7-1zM676 786l6-2-6 3-7 1z"/><path fill="#df0" d="M776 805l6 3-6-6-7-3z"/><path fill="#cf0" d="M642 801l7-2-7 5-6 3z"/><path fill="#f70" d="M729 785l7 1-7-3-7 0z"/><path fill="#5f0" d="M623 817l6-3-6 8-7 3z"/><path fill="#f70" d="M689 783l7-1-7 1-7 1z"/><path fill="#f60" d="M716 783l6 0-6-1-7 0zM702 782l7 0-7-1-6 1z"/><path fill="#8f0" d="M795 818l7 4-7-6-6-5z"/><path fill="#0f4" d="M833 852l7 6-6-7-7-6z"/><path fill="#2f0" d="M814 834l7 5-6-7-7-5z"/><path fill="#fd0" d="M762 797l7 2-6-4-7-3zM656 794l6-2-7 4-6 3z"/><path fill="#2f0" d="M616 825l7-3-7 9-6 3z"/><path fill="#af0" d="M636 807l6-3-6 7-7 3z"/><path fill="#f90" d="M749 791l7 1-7-3-6-2z"/><path fill="#fa0" d="M669 788l7-1-7 3-7 2z"/><path fill="#cf0" d="M782 808l7 3-7-5-6-4z"/><path fill="#f70" d="M736 786l7 1-7-3-7-1z"/><path fill="#0f5" d="M840 858l6 7-6-7-6-7z"/><path fill="#f70" d="M682 784l7-1-7 2-6 2z"/><path fill="#7f0" d="M802 822l6 5-6-7-7-4z"/><path fill="#1f0" d="M821 839l6 6-6-7-6-6z"/><path fill="#0f2" d="M610 834l6-3-6 10-7 4z"/><path fill="#f50" d="M722 783l7 0-6-1-7 0zM696 782l6-1-6 1-7 1z"/><path fill="#ff0" d="M649 799l6-3-6 6-7 2z"/><path fill="#f40" d="M709 782l7 0-7-1-7 0z"/><path fill="#7f0" d="M629 814l7-3-7 8-6 3z"/><path fill="#fd0" d="M769 799l7 3-7-4-6-3z"/><path fill="#0f5" d="M603 845l7-4-6 12-7 3z"/><path fill="#fb0" d="M662 792l7-2-7 4-7 2z"/><path fill="#bf0" d="M789 811l6 5-6-6-7-4z"/><path fill="#0f7" d="M846 865l6 7-6-6-6-8z"/><path fill="#fa0" d="M756 792l7 3-7-4-7-2z"/><path fill="#5f0" d="M808 827l7 5-7-6-6-6z"/><path fill="#0f1" d="M827 845l7 6-7-6-6-7z"/><path fill="#4f0" d="M623 822l6-3-6 9-7 3z"/><path fill="#cf0" d="M642 804l7-2-7 7-6 2z"/><path fill="#0f9" d="M597 856l7-3-7 13-6 3z"/><path fill="#f80" d="M676 787l6-2-7 3-6 2z"/><path fill="#f70" d="M743 787l6 2-6-3-7-2z"/><path fill="#f50" d="M689 783l7-1-7 2-7 1z"/><path fill="#fe0" d="M776 802l6 4-6-5-7-3z"/><path fill="#f40" d="M729 783l7 1-7-1-6-1zM702 781l7 0-7 1-6 0zM716 782l7 0-7 0-7-1z"/><path fill="#0f0" d="M616 831l7-3-7 11-6 2z"/><path fill="#fe0" d="M655 796l7-2-6 6-7 2z"/><path fill="#af0" d="M795 816l7 4-6-5-7-5z"/><path fill="#0f2" d="M834 851l6 7-6-6-7-7z"/><path fill="#9f0" d="M636 811l6-2-6 8-7 2z"/><path fill="#4f0" d="M815 832l6 6-6-6-7-6z"/><path fill="#fa0" d="M763 795l6 3-6-4-7-3z"/><path fill="#f90" d="M669 790l6-2-6 5-7 1z"/><path fill="#0f4" d="M610 841l6-2-6 11-6 3z"/><path fill="#f70" d="M749 789l7 2-7-3-6-2z"/><path fill="#ff0" d="M782 806l7 4-7-5-6-4z"/><path fill="#f60" d="M682 785l7-1-7 3-7 1z"/><path fill="#ef0" d="M649 802l7-2-7 7-7 2z"/><path fill="#6f0" d="M629 819l7-2-7 9-6 2z"/><path fill="#0f4" d="M840 858l6 8-6-6-6-8z"/><path fill="#f40" d="M736 784l7 2-7-2-7-1z"/><path fill="#0f7" d="M604 853l6-3-6 13-7 3z"/><path fill="#8f0" d="M802 820l6 6-6-6-6-5z"/><path fill="#f40" d="M696 782l6 0-6 2-7 0z"/><path fill="#2f0" d="M821 838l6 7-6-6-6-7z"/><path fill="#f30" d="M723 782l6 1-6-1-7 0zM709 781l7 1-7 0-7 0z"/><path fill="#fb0" d="M769 798l7 3-7-4-6-3z"/><path fill="#fc0" d="M662 794l7-1-7 5-6 2z"/><path fill="#2f0" d="M623 828l6-2-6 10-7 3z"/><path fill="#bf0" d="M642 809l7-2-7 8-6 2z"/><path fill="#df0" d="M789 810l7 5-7-5-7-5z"/><path fill="#f70" d="M756 791l7 3-7-3-7-3z"/><path fill="#f80" d="M675 788l7-1-7 5-6 1z"/><path fill="#0f0" d="M827 845l7 7-6-6-7-7z"/><path fill="#7f0" d="M808 826l7 6-6-6-7-6z"/><path fill="#0f2" d="M616 839l7-3-6 12-7 2z"/><path fill="#f50" d="M743 786l6 2-6-2-7-2zM689 784l7 0-7 3-7 0z"/><path fill="#fe0" d="M656 800l6-2-6 7-7 2z"/><path fill="#f30" d="M729 783l7 1-7 0-6-2z"/><path fill="#7f0" d="M636 817l6-2-6 9-7 2z"/><path fill="#f30" d="M702 782l7 0-7 2-6 0z"/><path fill="#fd0" d="M776 801l6 4-6-4-7-4z"/><path fill="#f20" d="M716 782l7 0-7 1-7-1z"/><path fill="#0f6" d="M610 850l7-2-7 13-6 2z"/><path fill="#0f2" d="M834 852l6 8-6-6-6-8z"/><path fill="#cf0" d="M796 815l6 5-6-5-7-5z"/><path fill="#5f0" d="M815 832l6 7-6-6-6-7z"/><path fill="#fa0" d="M669 793l6-1-6 5-7 1z"/><path fill="#f80" d="M763 794l6 3-6-3-7-3z"/><path fill="#4f0" d="M629 826l7-2-7 10-6 2z"/><path fill="#cf0" d="M649 807l7-2-7 8-7 2z"/><path fill="#f60" d="M682 787l7 0-7 4-7 1z"/><path fill="#f50" d="M749 788l7 3-7-2-6-3z"/><path fill="#fe0" d="M782 805l7 5-6-4-7-5z"/><path fill="#f40" d="M696 784l6 0-6 3-7 0z"/><path fill="#0f0" d="M623 836l6-2-6 12-6 2z"/><path fill="#f30" d="M736 784l7 2-7 0-7-2z"/><path fill="#af0" d="M802 820l7 6-7-4-6-7z"/><path fill="#f20" d="M709 782l7 1-7 2-7-1zM723 782l6 2-6 0-7-1z"/><path fill="#3f0" d="M821 839l7 7-7-6-6-7z"/><path fill="#fd0" d="M662 798l7-1-7 7-6 1z"/><path fill="#9f0" d="M642 815l7-2-7 9-6 2z"/><path fill="#fa0" d="M769 797l7 4-7-3-6-4z"/><path fill="#0f5" d="M617 848l6-2-6 13-7 2z"/><path fill="#f90" d="M675 792l7-1-6 6-7 0z"/><path fill="#ef0" d="M789 810l7 5-7-4-6-5z"/><path fill="#f60" d="M756 791l7 3-7-2-7-3z"/><path fill="#5f0" d="M636 824l6-2-6 11-7 1z"/><path fill="#1f0" d="M828 846l6 8-6-6-7-8z"/><path fill="#ef0" d="M656 805l6-1-6 8-7 1z"/><path fill="#8f0" d="M809 826l6 7-6-5-7-6z"/><path fill="#f50" d="M689 787l7 0-7 4-7 0z"/><path fill="#f40" d="M743 786l6 3-6-1-7-2z"/><path fill="#f30" d="M702 784l7 1-7 3-6-1z"/><path fill="#f20" d="M729 784l7 2-7 0-6-2zM716 783l7 1-7 2-7-1z"/><path fill="#fc0" d="M776 801l7 5-7-3-7-5z"/><path fill="#1f0" d="M629 834l7-1-6 12-7 1z"/><path fill="#fc0" d="M669 797l7 0-7 6-7 1z"/><path fill="#af0" d="M649 813l7-1-7 9-7 1z"/><path fill="#df0" d="M796 815l6 7-6-5-7-6z"/><path fill="#6f0" d="M815 833l6 7-6-4-6-8z"/><path fill="#f70" d="M763 794l6 4-6-2-7-4z"/><path fill="#0f4" d="M623 846l7-1-7 13-6 1z"/><path fill="#f80" d="M682 791l7 0-7 6-6 0z"/><path fill="#f50" d="M749 789l7 3-7-1-6-3zM696 787l6 1-6 4-7-1z"/><path fill="#6f0" d="M642 822l7-1-6 11-7 1z"/><path fill="#ff0" d="M662 804l7-1-7 8-6 1z"/><path fill="#fd0" d="M783 806l6 5-6-3-7-5z"/><path fill="#f30" d="M736 786l7 2-7 1-7-3zM709 785l7 1-7 3-7-1z"/><path fill="#f20" d="M723 784l6 2-6 2-7-2z"/><path fill="#4f0" d="M821 840l7 8-7-4-6-8z"/><path fill="#af0" d="M802 822l7 6-7-4-6-7z"/><path fill="#2f0" d="M636 833l7-1-7 12-6 1z"/><path fill="#fb0" d="M676 797l6 0-6 6-7 0z"/><path fill="#f90" d="M769 798l7 5-7-2-6-5z"/><path fill="#bf0" d="M656 812l6-1-6 10-7 0z"/><path fill="#f70" d="M689 791l7 1-7 5-7 0z"/><path fill="#f60" d="M756 792l7 4-7-1-7-4z"/><path fill="#ff0" d="M789 811l7 6-7-3-6-6z"/><path fill="#0f3" d="M630 845l6-1-6 13-7 1z"/><path fill="#8f0" d="M809 828l6 8-6-5-7-7z"/><path fill="#f40" d="M702 788l7 1-7 4-6-1zM743 788l6 3-6 1-7-3z"/><path fill="#fe0" d="M669 803l7 0-7 8-7 0z"/><path fill="#7f0" d="M649 821l7 0-7 11-6 0z"/><path fill="#f30" d="M716 786l7 2-7 2-7-1zM729 786l7 3-7 1-6-2z"/><path fill="#fb0" d="M776 803l7 5-7-2-7-5z"/><path fill="#fa0" d="M682 797l7 0-7 7-6-1z"/><path fill="#df0" d="M796 817l6 7-6-3-7-7z"/><path fill="#3f0" d="M643 832l6 0-6 12-7 0z"/><path fill="#6f0" d="M815 836l6 8-6-5-6-8z"/><path fill="#f70" d="M763 796l6 5-6-1-7-5z"/><path fill="#cf0" d="M662 811l7 0-7 10-6 0z"/><path fill="#f70" d="M696 792l6 1-6 5-7-1z"/><path fill="#f50" d="M749 791l7 4-7 0-6-3z"/><path fill="#0f2" d="M636 844l7 0-6 13-7 0z"/><path fill="#f40" d="M709 789l7 1-7 4-7-1z"/><path fill="#f30" d="M736 789l7 3-7 1-7-3z"/><path fill="#fd0" d="M783 808l6 6-6-2-7-6z"/><path fill="#f30" d="M723 788l6 2-6 3-7-3z"/><path fill="#fe0" d="M676 803l6 1-6 8-7-1z"/><path fill="#8f0" d="M656 821l6 0-6 11-7 0z"/><path fill="#af0" d="M802 824l7 7-7-3-6-7z"/><path fill="#f90" d="M769 801l7 5-7-1-6-5z"/><path fill="#fa0" d="M689 797l7 1-7 7-7-1z"/><path fill="#3f0" d="M649 832l7 0-7 12-6 0z"/><path fill="#f60" d="M756 795l7 5-7 0-7-5z"/><path fill="#df0" d="M669 811l7 1-7 9-7 0z"/><path fill="#ff0" d="M789 814l7 7-7-3-6-6z"/><path fill="#f60" d="M702 793l7 1-7 6-6-2z"/><path fill="#8f0" d="M809 831l6 8-6-3-7-8z"/><path fill="#f50" d="M743 792l6 3-6 2-7-4zM716 790l7 3-7 4-7-3z"/><path fill="#f40" d="M729 790l7 3-7 3-6-3z"/><path fill="#0f1" d="M643 844l6 0-6 14-6-1z"/><path fill="#fd0" d="M682 804l7 1-7 8-6-1z"/><path fill="#fc0" d="M776 806l7 6-7-2-7-5z"/><path fill="#8f0" d="M662 821l7 0-6 11-7 0z"/><path fill="#cf0" d="M796 821l6 7-6-3-7-7z"/><path fill="#f90" d="M696 798l6 2-6 6-7-1z"/><path fill="#f80" d="M763 800l6 5-6-1-7-4z"/><path fill="#4f0" d="M656 832l7 0-7 13-7-1z"/><path fill="#f70" d="M709 794l7 3-7 5-7-2z"/><path fill="#f60" d="M749 795l7 5-7 1-6-4z"/><path fill="#df0" d="M676 812l6 1-6 9-7-1z"/><path fill="#f50" d="M723 793l6 3-7 3-6-2zM736 793l7 4-7 2-7-3z"/><path fill="#fe0" d="M783 812l6 6-6-1-7-7z"/><path fill="#0f1" d="M649 844l7 1-6 14-7-1z"/><path fill="#af0" d="M802 828l7 8-7-3-6-8z"/><path fill="#fd0" d="M689 805l7 1-7 9-7-2z"/><path fill="#9f0" d="M669 821l7 1-7 11-6-1z"/><path fill="#fb0" d="M769 805l7 5-7 0-6-6z"/><path fill="#fa0" d="M702 800l7 2-7 7-6-3z"/><path fill="#f80" d="M756 800l7 4-7 1-7-4z"/><path fill="#ef0" d="M789 818l7 7-7-2-6-6z"/><path fill="#f70" d="M716 797l6 2-6 6-7-3zM743 797l6 4-6 2-7-4z"/><path fill="#4f0" d="M663 832l6 1-6 13-7-1z"/><path fill="#f60" d="M729 796l7 3-7 4-7-4z"/><path fill="#df0" d="M682 813l7 2-7 9-6-2z"/><path fill="#fd0" d="M776 810l7 7-7-1-7-6z"/><path fill="#0f1" d="M656 845l7 1-7 14-6-1z"/><path fill="#fe0" d="M696 806l6 3-6 8-7-2z"/><path fill="#9f0" d="M676 822l6 2-6 11-7-2z"/><path fill="#bf0" d="M796 825l6 8-6-2-7-8z"/><path fill="#fa0" d="M763 804l6 6-6 1-7-6zM709 802l7 3-7 6-7-2z"/><path fill="#f80" d="M749 801l7 4-7 3-6-5zM722 799l7 4-7 5-6-3zM736 799l7 4-7 4-7-4z"/><path fill="#4f0" d="M669 833l7 2-7 13-6-2z"/><path fill="#df0" d="M689 815l7 2-7 9-7-2z"/><path fill="#ff0" d="M783 817l6 6-6 0-7-7z"/><path fill="#0f1" d="M663 846l6 2-6 14-7-2z"/><path fill="#fe0" d="M702 809l7 2-7 8-6-2z"/><path fill="#fd0" d="M769 810l7 6-7 1-6-6z"/><path fill="#8f0" d="M682 824l7 2-6 12-7-3z"/><path fill="#fb0" d="M716 805l6 3-6 7-7-4z"/><path fill="#fa0" d="M756 805l7 6-7 2-7-5zM729 803l7 4-7 5-7-4z"/><path fill="#f90" d="M743 803l6 5-6 3-7-4z"/><path fill="#cf0" d="M789 823l7 8-7-1-6-7zM696 817l6 2-6 10-7-3z"/><path fill="#4f0" d="M676 835l7 3-7 12-7-2z"/><path fill="#ff0" d="M776 816l7 7-7 1-7-7zM709 811l7 4-7 8-7-4z"/><path fill="#0f1" d="M669 848l7 2-6 15-7-3z"/><path fill="#fd0" d="M763 811l6 6-6 2-7-6z"/><path fill="#8f0" d="M689 826l7 3-7 12-6-3z"/><path fill="#fd0" d="M722 808l7 4-6 6-7-3z"/><path fill="#fb0" d="M749 808l7 5-7 4-6-6zM736 807l7 4-7 5-7-4z"/><path fill="#df0" d="M783 823l6 7-6 1-7-7z"/><path fill="#bf0" d="M702 819l7 4-6 10-7-4z"/><path fill="#3f0" d="M683 838l6 3-6 13-7-4z"/><path fill="#ff0" d="M769 817l7 7-7 1-6-6z"/><path fill="#ef0" d="M716 815l7 3-7 9-7-4z"/><path fill="#0f2" d="M676 850l7 4-7 14-6-3z"/><path fill="#fe0" d="M756 813l7 6-7 3-7-5zM729 812l7 4-7 7-6-5z"/><path fill="#fd0" d="M743 811l6 6-6 5-7-6z"/><path fill="#7f0" d="M696 829l7 4-7 11-7-3z"/><path fill="#af0" d="M709 823l7 4-7 10-6-4z"/><path fill="#2f0" d="M689 841l7 3-7 13-6-3z"/><path fill="#cf0" d="M776 824l7 7-7 2-7-8z"/><path fill="#df0" d="M723 818l6 5-6 8-7-4z"/><path fill="#ef0" d="M763 819l6 6-6 4-7-7zM736 816l7 6-7 6-7-5z"/><path fill="#ff0" d="M749 817l7 5-7 5-6-5z"/><path fill="#0f3" d="M683 854l6 3-6 15-7-4z"/><path fill="#6f0" d="M703 833l6 4-6 11-7-4z"/><path fill="#9f0" d="M716 827l7 4-7 10-7-4z"/><path fill="#1f0" d="M696 844l7 4-7 14-7-5z"/><path fill="#cf0" d="M769 825l7 8-7 3-6-7z"/><path fill="#bf0" d="M729 823l7 5-7 8-6-5z"/><path fill="#df0" d="M756 822l7 7-7 5-7-7z"/><path fill="#cf0" d="M743 822l6 5-6 7-7-6z"/><path fill="#0f4" d="M689 857l7 5-6 15-7-5z"/><path fill="#5f0" d="M709 837l7 4-7 12-6-5z"/><path fill="#7f0" d="M723 831l6 5-6 11-7-6z"/><path fill="#0f0" d="M703 848l6 5-6 14-7-5z"/><path fill="#9f0" d="M736 828l7 6-7 8-7-6z"/><path fill="#af0" d="M763 829l6 7-6 5-7-7zM749 827l7 7-7 6-6-6z"/><path fill="#0f5" d="M696 862l7 5-7 16-6-6z"/><path fill="#3f0" d="M716 841l7 6-7 12-7-6z"/><path fill="#6f0" d="M729 836l7 6-7 10-6-5z"/><path fill="#0f1" d="M709 853l7 6-6 14-7-6z"/><path fill="#7f0" d="M743 834l6 6-6 9-7-7z"/><path fill="#8f0" d="M756 834l7 7-7 7-7-8z"/><path fill="#0f6" d="M703 867l7 6-7 16-7-6z"/><path fill="#2f0" d="M723 847l6 5-6 13-7-6z"/><path fill="#4f0" d="M736 842l7 7-7 10-7-7z"/><path fill="#5f0" d="M749 840l7 8-7 8-6-7z"/><path fill="#0f3" d="M716 859l7 6-7 14-6-6z"/><path fill="#0f8" d="M710 873l6 6-6 16-7-6z"/><path fill="#0f0" d="M729 852l7 7-7 12-6-6z"/><path fill="#2f0" d="M743 849l6 7-6 10-7-7z"/><path fill="#0f5" d="M723 865l6 6-6 15-7-7z"/><path fill="#0fa" d="M716 879l7 7-7 17-6-8z"/><path fill="#0f2" d="M736 859l7 7-7 13-7-8z"/><path fill="#0f7" d="M729 871l7 8-6 15-7-8z"/><path fill="#0fc" d="M723 886l7 8-7 17-7-8z"/></g>
<circle cx="361.4" cy="387.6" r="1.6" fill="#b00c0c"/><circle cx="295.4" cy="432" r="1.6" fill="#b00c0c"/><circle cx="426.4" cy="440.9" r="1.5" fill="#f6dede" stroke="#c04848" stroke-width="0.5"/><circle cx="361.4" cy="457.6" r="1.6" fill="#b00c0c"/>
<!-- C3 -->
<g stroke="#777" stroke-width="0.9" fill="none"><polyline points="516.1,457.2 586.6,433.5 657,457.2"/><polyline points="515.5,439.3 586.5,417.5 657.4,439.3"/><polyline points="514.9,421.3 586.5,401.5 657.9,421.4"/><polyline points="514.3,403.4 586.4,385.4 658.3,403.5"/><polyline points="513.7,385.5 586.4,369.4 658.8,385.6"/><line x1="563.1" y1="441.4" x2="562.2" y2="374.8"/><line x1="539.6" y1="449.3" x2="537.9" y2="380.1"/><line x1="604.2" y1="439.5" x2="604.5" y2="373.4"/><line x1="621.8" y1="445.4" x2="622.6" y2="377.5"/><line x1="639.4" y1="451.3" x2="640.7" y2="381.6"/><line x1="516.9" y1="479.2" x2="513.7" y2="385.5"/><line x1="586.6" y1="453.3" x2="586.4" y2="369.4"/><line x1="656.4" y1="479.2" x2="658.8" y2="385.6"/></g>
<g stroke="#222" stroke-width="1"><line x1="513.9" y1="457.7" x2="516.1" y2="457.2"/><line x1="513.3" y1="439.8" x2="515.5" y2="439.3"/><line x1="512.7" y1="421.8" x2="514.9" y2="421.3"/><line x1="512.1" y1="403.9" x2="514.3" y2="403.4"/><line x1="511.5" y1="386" x2="513.7" y2="385.5"/></g>
<polygon points="586.6,453.3 516.9,479.2 586.9,513.4 656.4,479.2" fill="#646464" stroke="#444" stroke-width="0.6"/>
<g transform="scale(.5)" fill="none" stroke-width="2.0"><path d="M1196 992l4 -1 3 -2 4 -2 3 -1 3 -2 2 -1 3 -2 1 -2 2 -1 1 -2 1 -1 1 -2 1 -2 1 -1 1 -2 0 -1 0 -2 0 -1 0 -2 -1 -1 0 -2 -1 -1 -1 -2 -2 -1 -1 -1 -2 -2 -2 -1 -3 -2 -2 -1 -3 -2 -4 -1 -3 -1 -4 -1 -3 0 -3 -1 -4 -1 -3 0 -4 -1 -3 0 -4 0 -4 0 -3 0 -4 0 -3 0 -3 0 -4 0 -4 1 -3 0 -4 0 -3 1 -3 1 -4 0 -3 1 -4 1 -3 1 -4 1 -3 2 -3 1 -2 1 -3 2 -2 1 -2 2 -2 1 -1 2 -1 1 -1 2 -1 1 0 1 -1 2 0 2 0 1 0 2 0 1 1 2 0 1 1 2 1 2 2 1 1 2 2 1 2 2 2 1 3 2 4 2 4 1 2 1 5 2 3 1 3 0 3 1 4 1 3 0 4 0 4 1 3 0 4 0 3 0 4 0 4 0 2 -1 4 0 3 -1 4 0 3 -1 5 -1 2 -1 4 -1 1 0" stroke="#ff8500"/><path d="M1143 1012l3 0 4 0 3 0 4 0 3 0 4 0 4 0 2 -1 4 0 4 0 3 -1 4 0 3 -1 4 -1 3 0 3 -1 4 -1 3 -1 5 -1 2 -1 4 -2 4 -1 3 -1 3 -2 3 -2 3 -1 3 -2 3 -2 2 -1 2 -2 2 -2 1 -1 2 -2 2 -2 1 -1 2 -2 1 -1 1 -2 0 -1 1 -2 1 -1 0 -2 0 -2 0 -1 1 -2 0 -1 -1 -2 0 -1 0 -2 -1 -1 -1 -2 -1 -1 -1 -2 -1 -1 -1 -2 -1 -1 -2 -1 -2 -1 -2 -2 -2 -1 -3 -2 -2 -1 -3 -1 -4 -2 -3 -1 -3 -1 -4 -1 -3 0 -4 -1 -3 -1 -3 0 -4 -1 -3 -1 -4 0 -3 0 -4 -1 -4 0 -4 0 -2 0 -4 0 -4 0 -3 0 -3 0 -4 0 -3 0 -4 0 -4 0 -4 1 -3 0 -3 0 -4 1 -3 0 -4 1 -3 0 -3 1 -4 1 -3 0 -4 2 -3 0 -4 1 -4 2 -3 1 -4 1 -3 2 -3 1 -2 1 -3 2 -1 1 -3 2 -1 1 -2 1 -1 2 -2 1 -1 1 -1 2 -1 1 -1 2 -1 2 0 1 0 1 -1 2 0 1 0 2 0 1 0 2 0 1 1 2" stroke="#ffff00"/><path d="M1215 922l-4 -1 -4 0 -3 -1 -4 0 -3 0 -3 0 -4 -1 -4 0 -3 0 -3 0 -4 0 -3 0 -4 0 -3 0 -4 0 -3 0 -4 0 -4 0 -3 0 -3 1 -3 0 -4 0 -2 1" stroke="#99ff00"/><path d="M1049 953l-1 1 -1 1 0 2 -1 1 -1 2 0 1 -1 2 0 0" stroke="#99ff00"/><path d="M1273 978l1 -2 1 -2 1 -1 1 -2 1 -1 0 -2 0 -2 1 -1 0 -1 0 -2 0 -1 0 -2 0 -2 -1 -1 0 -2 -1 -1 0 -1 -1 -2 -1 -1 -1 -2 -1 -1 -1 -2 -2 -1 -1 -1" stroke="#99ff00"/><path d="M1166 1023l2 0 4 -1 4 0 3 0 4 -1 3 0" stroke="#99ff00"/><path d="M1187 912l-2 0 -4 0 -4 -1 -3 0 -4 0 -3 0 -3 1 -5 0" stroke="#33ff00"/><path d="M1297 966l0 -1 1 -2 0 -1 0 -2 0 -1 0 -2 -1 -1 0 -2 0 -2" stroke="#33ff00"/></g>
<g transform="scale(.5)" stroke="#000" stroke-opacity="0.42" stroke-width="0.8" stroke-linejoin="round"><path fill="#0f1" d="M1173 809l7-4-7-3-7 3z"/><path fill="#1f0" d="M1180 805l7-2-7-4-7 3zM1166 805l7-3-7-3-7 4z"/><path fill="#3f0" d="M1187 803l7-2-7-4-7 2zM1159 803l7-4-7-2-8 3zM1173 802l7-3-7-2-7 2z"/><path fill="#4f0" d="M1194 801l8-2-8-3-7 1zM1151 800l8-3-8-2-7 3zM1180 799l7-2-7-3-7 3zM1166 799l7-2-7-3-7 3z"/><path fill="#5f0" d="M1202 799l7-1-7-4-8 2zM1144 798l7-3-7-2-7 4z"/><path fill="#6f0" d="M1187 797l7-1-7-3-7 1zM1159 797l7-3-8-2-7 3zM1173 797l7-3-7-2-7 2zM1209 798l7-1-7-3-7 0z"/><path fill="#7f0" d="M1137 797l7-4-7-1-7 4zM1194 796l8-2-8-3-7 2z"/><path fill="#8f0" d="M1151 795l7-3-7-2-7 3zM1180 794l7-1-7-3-7 2zM1166 794l7-2-7-2-8 2zM1216 797l7 0-7-3-7 0zM1130 796l7-4-7 0-7 3z"/><path fill="#9f0" d="M1202 794l7 0-7-3-8 0zM1144 793l7-3-7-1-7 3z"/><path fill="#af0" d="M1187 793l7-2-7-2-7 1zM1158 792l8-2-8-2-7 2zM1173 792l7-2-7-2-7 2z"/><path fill="#9f0" d="M1223 797l7 1-7-4-7 0zM1123 795l7-3-8-1-7 4z"/><path fill="#af0" d="M1209 794l7 0-7-3-7 0z"/><path fill="#bf0" d="M1137 792l7-3-7 0-7 3zM1194 791l8 0-8-3-7 1z"/><path fill="#cf0" d="M1151 790l7-2-7-1-7 2zM1180 790l7-1-7-2-7 1zM1166 790l7-2-7-2-8 2z"/><path fill="#9f0" d="M1230 798l7 1-7-4-7-1z"/><path fill="#bf0" d="M1115 795l7-4-7 1-7 3zM1216 794l7 0-7-3-7 0z"/><path fill="#cf0" d="M1130 792l7-3-7-1-8 3z"/><path fill="#df0" d="M1202 791l7 0-7-3-8 0z"/><path fill="#ef0" d="M1144 789l7-2-7-1-7 3zM1187 789l7-1-7-2-7 1zM1158 788l8-2-8-1-7 2zM1173 788l7-1-7-2-7 1z"/><path fill="#af0" d="M1237 799l8 2-7-4-8-2z"/><path fill="#bf0" d="M1108 795l7-3-7 0-7 4z"/><path fill="#cf0" d="M1223 794l7 1-7-3-7-1z"/><path fill="#df0" d="M1122 791l8-3-8 1-7 3z"/><path fill="#ef0" d="M1209 791l7 0-7-3-7 0z"/><path fill="#ff0" d="M1137 789l7-3-7 0-7 2zM1194 788l8 0-8-2-7 0z"/><path fill="#fe0" d="M1151 787l7-2-7-1-7 2zM1180 787l7-1-7-2-7 1zM1166 786l7-1-7-2-8 2z"/><path fill="#af0" d="M1245 801l7 2-7-4-7-2z"/><path fill="#cf0" d="M1101 796l7-4-7 2-7 3z"/><path fill="#df0" d="M1230 795l8 2-8-3-7-2z"/><path fill="#ef0" d="M1115 792l7-3-7 0-7 3z"/><path fill="#ff0" d="M1216 791l7 1-7-3-7-1z"/><path fill="#fe0" d="M1130 788l7-2-8 0-7 3z"/><path fill="#fd0" d="M1202 788l7 0-7-2-8 0z"/><path fill="#fc0" d="M1144 786l7-2-7 0-7 2zM1187 786l7 0-7-2-7 0zM1158 785l8-2-8 0-7 1zM1173 785l7-1-7-1-7 0z"/><path fill="#af0" d="M1252 803l7 3-7-4-7-3z"/><path fill="#cf0" d="M1094 797l7-3-7 1-8 4z"/><path fill="#df0" d="M1238 797l7 2-7-3-8-2z"/><path fill="#ff0" d="M1108 792l7-3-7 2-7 3zM1223 792l7 2-7-3-7-2z"/><path fill="#fd0" d="M1122 789l7-3-7 1-7 2zM1209 788l7 1-7-2-7-1z"/><path fill="#af0" d="M1259 806l7 3-7-4-7-3z"/><path fill="#fb0" d="M1137 786l7-2-7 0-8 2zM1194 786l8 0-8-2-7 0z"/><path fill="#fa0" d="M1151 784l7-1-7-1-7 2zM1180 784l7 0-7-2-7 1zM1166 783l7 0-8-1-7 1z"/><path fill="#df0" d="M1245 799l7 3-7-3-7-3z"/><path fill="#cf0" d="M1086 799l8-4-8 3-7 4z"/><path fill="#fe0" d="M1230 794l8 2-8-3-7-2z"/><path fill="#ff0" d="M1101 794l7-3-7 1-7 3z"/><path fill="#9f0" d="M1266 809l7 4-7-4-7-4z"/><path fill="#fc0" d="M1216 789l7 2-7-3-7-1zM1115 789l7-2-7 1-7 3z"/><path fill="#fa0" d="M1202 786l7 1-7-2-8-1zM1129 786l8-2-8 1-7 2z"/><path fill="#f90" d="M1187 784l7 0-7-1-7-1zM1144 784l7-2-7 0-7 2z"/><path fill="#cf0" d="M1252 802l7 3-7-3-7-3z"/><path fill="#f80" d="M1173 783l7-1-7-1-8 1zM1158 783l7-1-7-1-7 1z"/><path fill="#cf0" d="M1079 802l7-4-7 3-7 3z"/><path fill="#ff0" d="M1238 796l7 3-7-3-8-3zM1094 795l7-3-8 3-7 3z"/><path fill="#9f0" d="M1273 813l7 5-7-4-7-5z"/><path fill="#fc0" d="M1223 791l7 2-7-2-7-3zM1108 791l7-3-7 2-7 2z"/><path fill="#fa0" d="M1209 787l7 1-7-1-7-2zM1122 787l7-2-7 1-7 2z"/><path fill="#cf0" d="M1259 805l7 4-7-3-7-4zM1072 804l7-3-7 3-7 4z"/><path fill="#f80" d="M1194 784l8 1-8-1-7-1zM1137 784l7-2-7 1-8 2z"/><path fill="#f70" d="M1180 782l7 1-7-1-7-1zM1151 782l7-1-7 0-7 1zM1165 782l8-1-8 0-7 0z"/><path fill="#8f0" d="M1280 818l7 5-7-4-7-5z"/><path fill="#ff0" d="M1245 799l7 3-7-3-7-3zM1086 798l7-3-7 2-7 4z"/><path fill="#fc0" d="M1230 793l8 3-8-3-7-2zM1101 792l7-2-7 2-8 3z"/><path fill="#bf0" d="M1266 809l7 5-7-3-7-5z"/><path fill="#fa0" d="M1216 788l7 3-7-2-7-2z"/><path fill="#bf0" d="M1065 808l7-4-7 4-7 4z"/><path fill="#f90" d="M1115 788l7-2-7 1-7 3z"/><path fill="#7f0" d="M1287 823l8 6-8-4-7-6z"/><path fill="#f70" d="M1202 785l7 2-7-2-8-1zM1129 785l8-2-8 1-7 2z"/><path fill="#ef0" d="M1252 802l7 4-7-3-7-4z"/><path fill="#f60" d="M1187 783l7 1-7-1-7-1zM1144 782l7-1-7 1-7 1z"/><path fill="#f50" d="M1173 781l7 1-7-1-8 0zM1158 781l7 0-7 0-7 0z"/><path fill="#ff0" d="M1079 801l7-4-7 4-7 3z"/><path fill="#fd0" d="M1238 796l7 3-7-2-8-4z"/><path fill="#af0" d="M1273 814l7 5-7-3-7-5z"/><path fill="#fc0" d="M1093 795l8-3-8 3-7 2z"/><path fill="#af0" d="M1058 812l7-4-7 4-7 4z"/><path fill="#6f0" d="M1295 829l7 7-7-4-8-7z"/><path fill="#fa0" d="M1223 791l7 2-7-2-7-2z"/><path fill="#f90" d="M1108 790l7-3-7 3-7 2z"/><path fill="#df0" d="M1259 806l7 5-7-3-7-5z"/><path fill="#f70" d="M1209 787l7 2-7-2-7-2zM1122 786l7-2-7 2-7 1z"/><path fill="#ef0" d="M1072 804l7-3-7 3-7 4z"/><path fill="#f60" d="M1194 784l8 1-8-1-7-1z"/><path fill="#f50" d="M1137 783l7-1-8 1-7 1z"/><path fill="#f40" d="M1180 782l7 1-7-1-7-1zM1151 781l7 0-7 1-7 0z"/><path fill="#8f0" d="M1280 819l7 6-7-3-7-6z"/><path fill="#f40" d="M1165 781l8 0-8 0-7 0z"/><path fill="#fd0" d="M1245 799l7 4-7-2-7-4z"/><path fill="#5f0" d="M1302 836l7 7-7-4-7-7z"/><path fill="#fd0" d="M1086 797l7-2-7 3-7 3z"/><path fill="#9f0" d="M1051 816l7-4-7 5-7 4z"/><path fill="#fa0" d="M1230 793l8 4-8-2-7-4zM1101 792l7-2-8 2-7 3z"/><path fill="#cf0" d="M1266 811l7 5-7-3-7-5z"/><path fill="#f80" d="M1216 789l7 2-7-1-7-3z"/><path fill="#df0" d="M1065 808l7-4-7 5-7 3z"/><path fill="#f70" d="M1115 787l7-1-7 2-7 2z"/><path fill="#7f0" d="M1287 825l8 7-8-3-7-7z"/><path fill="#f50" d="M1202 785l7 2-7-1-8-2z"/><path fill="#3f0" d="M1309 843l7 8-7-4-7-8z"/><path fill="#f50" d="M1129 784l7-1-7 2-7 1z"/><path fill="#ff0" d="M1252 803l7 5-7-3-7-4z"/><path fill="#f40" d="M1187 783l7 1-7 0-7-2zM1144 782l7 0-7 1-8 0z"/><path fill="#8f0" d="M1044 821l7-4-7 6-7 3z"/><path fill="#f30" d="M1173 781l7 1-7 0-8-1zM1158 781l7 0-7 1-7 0z"/><path fill="#fe0" d="M1079 801l7-3-7 4-7 2z"/><path fill="#fb0" d="M1238 797l7 4-7-2-8-4z"/><path fill="#af0" d="M1273 816l7 6-7-3-7-6z"/><path fill="#fa0" d="M1093 795l7-3-7 4-7 2z"/><path fill="#7f0" d="M1295 832l7 7-7-3-8-7z"/><path fill="#cf0" d="M1058 812l7-3-7 5-7 3z"/><path fill="#f80" d="M1223 791l7 4-7-2-7-3z"/><path fill="#f70" d="M1108 790l7-2-7 3-8 1z"/><path fill="#ef0" d="M1259 808l7 5-7-2-7-6z"/><path fill="#f60" d="M1209 787l7 3-7-1-7-3z"/><path fill="#7f0" d="M1037 826l7-3-8 6-7 3z"/><path fill="#f50" d="M1122 786l7-1-7 2-7 1z"/><path fill="#ff0" d="M1072 804l7-2-7 4-7 3z"/><path fill="#f40" d="M1194 784l8 2-8 0-7-2z"/><path fill="#9f0" d="M1280 822l7 7-7-3-7-7z"/><path fill="#f30" d="M1136 783l8 0-8 1-7 1zM1180 782l7 2-7 0-7-2z"/><path fill="#f20" d="M1151 782l7 0-7 1-7 0z"/><path fill="#fd0" d="M1245 801l7 4-7-2-7-4z"/><path fill="#f20" d="M1165 781l8 1-8 1-7-1z"/><path fill="#5f0" d="M1302 839l7 8-7-3-7-8z"/><path fill="#fb0" d="M1086 798l7-2-7 3-7 3z"/><path fill="#af0" d="M1051 817l7-3-7 5-7 4z"/><path fill="#f90" d="M1230 795l8 4-8-2-7-4z"/><path fill="#cf0" d="M1266 813l7 6-7-2-7-6z"/><path fill="#f80" d="M1100 792l8-1-8 3-7 2z"/><path fill="#f60" d="M1216 790l7 3-7-1-7-3z"/><path fill="#7f0" d="M1287 829l8 7-8-3-7-7z"/><path fill="#ef0" d="M1065 809l7-3-7 5-7 3z"/><path fill="#f50" d="M1115 788l7-1-7 3-7 1z"/><path fill="#f40" d="M1202 786l7 3-7-1-8-2z"/><path fill="#fe0" d="M1252 805l7 6-7-2-7-6z"/><path fill="#f30" d="M1129 785l7-1-7 2-7 1zM1187 784l7 2-7 0-7-2z"/><path fill="#9f0" d="M1044 823l7-4-8 6-7 4z"/><path fill="#f20" d="M1144 783l7 0-7 1-8 0zM1173 782l7 2-7 0-8-1zM1158 782l7 1-7 1-7-1z"/><path fill="#fc0" d="M1079 802l7-3-7 5-7 2z"/><path fill="#af0" d="M1273 819l7 7-7-3-7-6z"/><path fill="#fb0" d="M1238 799l7 4-7-1-8-5z"/><path fill="#6f0" d="M1295 836l7 8-8-3-7-8z"/><path fill="#f90" d="M1093 796l7-2-7 4-7 1z"/><path fill="#cf0" d="M1058 814l7-3-7 5-7 3z"/><path fill="#f80" d="M1223 793l7 4-7-1-7-4z"/><path fill="#ef0" d="M1259 811l7 6-7-2-7-6z"/><path fill="#f60" d="M1108 791l7-1-7 3-8 1z"/><path fill="#f50" d="M1209 789l7 3-7 0-7-4z"/><path fill="#f40" d="M1122 787l7-1-7 3-7 1z"/><path fill="#9f0" d="M1280 826l7 7-7-2-7-8z"/><path fill="#fe0" d="M1072 806l7-2-7 5-7 2z"/><path fill="#f30" d="M1194 786l8 2-8 0-7-2z"/><path fill="#f20" d="M1136 784l8 0-8 3-7-1z"/><path fill="#fc0" d="M1245 803l7 6-7-2-7-5z"/><path fill="#f20" d="M1180 784l7 2-7 0-7-2z"/><path fill="#f10" d="M1151 783l7 1-7 1-7-1zM1165 783l8 1-8 1-7-1z"/><path fill="#fa0" d="M1086 799l7-1-7 4-7 2z"/><path fill="#bf0" d="M1051 819l7-3-8 7-7 2z"/><path fill="#f90" d="M1230 797l8 5-8-1-7-5z"/><path fill="#cf0" d="M1266 817l7 6-7-2-7-6z"/><path fill="#f70" d="M1100 794l8-1-8 4-7 1z"/><path fill="#7f0" d="M1287 833l7 8-7-2-7-8z"/><path fill="#f60" d="M1216 792l7 4-7 0-7-4z"/><path fill="#ff0" d="M1065 811l7-2-7 5-7 2z"/><path fill="#f50" d="M1115 790l7-1-7 3-7 1z"/><path fill="#fe0" d="M1252 809l7 6-7-2-7-6z"/><path fill="#f40" d="M1202 788l7 4-8 0-7-4z"/><path fill="#f30" d="M1129 786l7 1-7 2-7 0z"/><path fill="#f20" d="M1187 786l7 2-7 1-7-3z"/><path fill="#f10" d="M1144 784l7 1-7 2-8 0zM1173 784l7 2-7 1-8-2z"/><path fill="#af0" d="M1273 823l7 8-7-2-7-8z"/><path fill="#fc0" d="M1079 804l7-2-7 5-7 2z"/><path fill="#f10" d="M1158 784l7 1-7 2-7-2z"/><path fill="#fb0" d="M1238 802l7 5-7-1-8-5z"/><path fill="#f80" d="M1093 798l7-1-7 4-7 1zM1223 796l7 5-7-1-7-4z"/><path fill="#df0" d="M1058 816l7-2-7 6-8 3z"/><path fill="#ef0" d="M1259 815l7 6-7-1-7-7z"/><path fill="#f60" d="M1108 793l7-1-7 4-8 1z"/><path fill="#f50" d="M1209 792l7 4-7 0-8-4z"/><path fill="#8f0" d="M1280 831l7 8-7-2-7-8z"/><path fill="#f30" d="M1122 789l7 0-7 3-7 0z"/><path fill="#fe0" d="M1072 809l7-2-7 6-7 1z"/><path fill="#f30" d="M1194 788l7 4-7 0-7-3z"/><path fill="#fd0" d="M1245 807l7 6-7-1-7-6z"/><path fill="#f20" d="M1136 787l8 0-8 3-7-1zM1180 786l7 3-7 1-7-3z"/><path fill="#f10" d="M1151 785l7 2-7 2-7-2zM1165 785l8 2-8 2-7-2z"/><path fill="#fa0" d="M1086 802l7-1-7 5-7 1z"/><path fill="#bf0" d="M1266 821l7 8-7-2-7-7z"/><path fill="#f90" d="M1230 801l8 5-8 0-7-6z"/><path fill="#f70" d="M1100 797l8-1-8 5-7 0z"/><path fill="#f60" d="M1216 796l7 4-7 0-7-4z"/><path fill="#ef0" d="M1065 814l7-1-7 6-7 1z"/><path fill="#ff0" d="M1252 813l7 7-7-1-7-7z"/><path fill="#f40" d="M1115 792l7 0-7 4-7 0zM1201 792l8 4-8 0-7-4z"/><path fill="#f30" d="M1129 789l7 1-7 3-7-1z"/><path fill="#f20" d="M1187 789l7 3-7 1-7-3z"/><path fill="#9f0" d="M1273 829l7 8-7-1-7-9z"/><path fill="#f10" d="M1144 787l7 2-7 2-8-1zM1173 787l7 3-7 1-8-2z"/><path fill="#fc0" d="M1079 807l7-1-7 6-7 1z"/><path fill="#f10" d="M1158 787l7 2-7 2-7-2z"/><path fill="#fb0" d="M1238 806l7 6-8 0-7-6z"/><path fill="#f90" d="M1093 801l7 0-7 4-7 1z"/><path fill="#f80" d="M1223 800l7 6-7 0-7-6z"/><path fill="#df0" d="M1259 820l7 7-7-1-7-7z"/><path fill="#f60" d="M1108 796l7 0-7 5-8 0zM1209 796l7 4-7 1-8-5z"/><path fill="#f40" d="M1122 792l7 1-7 4-7-1zM1194 792l7 4-7 1-7-4z"/><path fill="#fe0" d="M1072 813l7-1-7 6-7 1zM1245 812l7 7-7-1-8-6z"/><path fill="#f20" d="M1136 790l8 1-8 4-7-2zM1180 790l7 3-7 2-7-4z"/><path fill="#f10" d="M1151 789l7 2-7 2-7-2zM1165 789l8 2-8 2-7-2z"/><path fill="#af0" d="M1266 827l7 9-7-1-7-9z"/><path fill="#fb0" d="M1086 806l7-1-7 6-7 1z"/><path fill="#fa0" d="M1230 806l7 6-7 0-7-6z"/><path fill="#f80" d="M1100 801l8 0-8 5-7-1z"/><path fill="#f70" d="M1216 800l7 6-7 0-7-5z"/><path fill="#ef0" d="M1252 819l7 7-7 0-7-8z"/><path fill="#f50" d="M1115 796l7 1-7 4-7 0zM1201 796l8 5-8 1-7-5z"/><path fill="#f30" d="M1129 793l7 2-7 3-7-1zM1187 793l7 4-7 2-7-4z"/><path fill="#fd0" d="M1237 812l8 6-8 1-7-7z"/><path fill="#f20" d="M1144 791l7 2-7 4-8-2zM1173 791l7 4-8 2-7-4z"/><path fill="#fd0" d="M1079 812l7-1-7 6-7 1z"/><path fill="#f20" d="M1158 791l7 2-7 3-7-3z"/><path fill="#bf0" d="M1259 826l7 9-7-1-7-8z"/><path fill="#fa0" d="M1223 806l7 6-7 0-7-6zM1093 805l7 1-7 5-7 0z"/><path fill="#f70" d="M1209 801l7 5-7 1-8-5zM1108 801l7 0-7 5-8 0z"/><path fill="#ef0" d="M1245 818l7 8-7 0-8-7z"/><path fill="#f50" d="M1194 797l7 5-7 1-7-4zM1122 797l7 1-7 5-7-2z"/><path fill="#f40" d="M1180 795l7 4-7 2-8-4z"/><path fill="#f30" d="M1136 795l8 2-8 3-7-2zM1165 793l7 4-7 2-7-3zM1151 793l7 3-7 3-7-2z"/><path fill="#fc0" d="M1230 812l7 7-7 0-7-7zM1086 811l7 0-7 6-7 0z"/><path fill="#f90" d="M1216 806l7 6-7 1-7-6zM1100 806l8 0-8 6-7-1z"/><path fill="#cf0" d="M1252 826l7 8-7 0-7-8z"/><path fill="#f70" d="M1201 802l8 5-8 2-7-6zM1115 801l7 2-7 5-7-2z"/><path fill="#f50" d="M1187 799l7 4-7 3-7-5zM1129 798l7 2-7 5-7-2z"/><path fill="#ff0" d="M1237 819l8 7-8 1-7-8z"/><path fill="#f40" d="M1172 797l8 4-8 2-7-4zM1144 797l7 2-7 4-8-3zM1158 796l7 3-7 4-7-4z"/><path fill="#fc0" d="M1223 812l7 7-7 1-7-7z"/><path fill="#fb0" d="M1093 811l7 1-7 6-7-1z"/><path fill="#f90" d="M1209 807l7 6-7 2-8-6zM1108 806l7 2-7 5-8-1z"/><path fill="#cf0" d="M1245 826l7 8-7 1-8-8z"/><path fill="#f70" d="M1194 803l7 6-7 2-7-5zM1122 803l7 2-7 5-7-2z"/><path fill="#f60" d="M1180 801l7 5-7 2-8-5z"/><path fill="#f50" d="M1136 800l8 3-8 5-7-3zM1165 799l7 4-7 4-7-4zM1151 799l7 4-7 4-7-4z"/><path fill="#ff0" d="M1230 819l7 8-7 1-7-8z"/><path fill="#fc0" d="M1216 813l7 7-7 2-7-7z"/><path fill="#fb0" d="M1100 812l8 1-8 7-7-2z"/><path fill="#f90" d="M1201 809l8 6-8 2-7-6zM1115 808l7 2-7 6-7-3z"/><path fill="#cf0" d="M1237 827l8 8-8 1-7-8z"/><path fill="#f80" d="M1187 806l7 5-7 3-7-6z"/><path fill="#f70" d="M1129 805l7 3-7 5-7-3z"/><path fill="#f60" d="M1172 803l8 5-8 4-7-5zM1144 803l7 4-7 4-8-3zM1158 803l7 4-7 4-7-4z"/><path fill="#ff0" d="M1223 820l7 8-7 2-7-8z"/><path fill="#fc0" d="M1209 815l7 7-7 2-8-7z"/><path fill="#fb0" d="M1108 813l7 3-7 6-8-2z"/><path fill="#fa0" d="M1194 811l7 6-7 3-7-6z"/><path fill="#f90" d="M1122 810l7 3-7 5-7-2z"/><path fill="#f80" d="M1180 808l7 6-7 3-8-5zM1136 808l8 3-8 5-7-3zM1165 807l7 5-7 3-7-4z"/><path fill="#cf0" d="M1230 828l7 8-7 2-7-8z"/><path fill="#f70" d="M1151 807l7 4-7 4-7-4z"/><path fill="#ff0" d="M1216 822l7 8-7 2-7-8z"/><path fill="#fd0" d="M1201 817l8 7-8 3-7-7z"/><path fill="#fc0" d="M1115 816l7 2-7 7-7-3z"/><path fill="#fb0" d="M1187 814l7 6-7 3-7-6z"/><path fill="#fa0" d="M1129 813l7 3-7 6-7-4zM1172 812l8 5-7 4-8-6z"/><path fill="#f90" d="M1144 811l7 4-7 5-8-4zM1158 811l7 4-7 5-7-5z"/><path fill="#cf0" d="M1223 830l7 8-7 2-7-8z"/><path fill="#ff0" d="M1209 824l7 8-7 3-8-8z"/><path fill="#fd0" d="M1194 820l7 7-7 3-7-7z"/><path fill="#fc0" d="M1122 818l7 4-7 6-7-3zM1180 817l7 6-7 4-7-6z"/><path fill="#fb0" d="M1136 816l8 4-8 6-7-4zM1165 815l8 6-8 5-7-6zM1151 815l7 5-7 5-7-5z"/><path fill="#cf0" d="M1216 832l7 8-7 3-7-8z"/><path fill="#ef0" d="M1201 827l8 8-8 3-7-8z"/><path fill="#fe0" d="M1187 823l7 7-7 4-7-7zM1129 822l7 4-7 6-7-4z"/><path fill="#fd0" d="M1173 821l7 6-7 5-8-6zM1144 820l7 5-7 6-8-5zM1158 820l7 6-7 5-7-6z"/><path fill="#bf0" d="M1209 835l7 8-7 4-8-9z"/><path fill="#df0" d="M1194 830l7 8-7 4-7-8z"/><path fill="#ef0" d="M1180 827l7 7-7 5-7-7z"/><path fill="#ff0" d="M1136 826l8 5-7 6-8-5zM1165 826l8 6-8 5-7-6zM1151 825l7 6-7 6-7-6z"/><path fill="#af0" d="M1201 838l8 9-8 4-7-9z"/><path fill="#bf0" d="M1187 834l7 8-7 5-7-8z"/><path fill="#df0" d="M1173 832l7 7-7 5-8-7zM1144 831l7 6-7 6-7-6zM1158 831l7 6-7 6-7-6z"/><path fill="#9f0" d="M1194 842l7 9-7 5-7-9z"/><path fill="#af0" d="M1180 839l7 8-7 6-7-9z"/><path fill="#bf0" d="M1165 837l8 7-8 7-7-8zM1151 837l7 6-7 7-7-7z"/><path fill="#7f0" d="M1187 847l7 9-7 5-7-8z"/><path fill="#8f0" d="M1173 844l7 9-7 6-8-8z"/><path fill="#9f0" d="M1158 843l7 8-7 6-7-7z"/><path fill="#6f0" d="M1180 853l7 8-7 7-7-9z"/><path fill="#7f0" d="M1165 851l8 8-8 6-7-8z"/><path fill="#4f0" d="M1173 859l7 9-7 6-8-9z"/></g>
<circle cx="586.4" cy="387.3" r="1.6" fill="#b00c0c"/><circle cx="514.4" cy="416.6" r="1.6" fill="#b00c0c"/><circle cx="656.9" cy="427" r="1.5" fill="#f6dede" stroke="#c04848" stroke-width="0.5"/><circle cx="585.6" cy="432.2" r="1.6" fill="#b00c0c"/>
<!-- D1 -->
<g stroke="#777" stroke-width="0.9" fill="none"><polyline points="78.6,634.4 140.7,613.5 202.8,634.3"/><polyline points="78,618.4 140.7,599.1 203.4,618.3"/><polyline points="77.4,602.4 140.7,584.7 204,602.3"/><polyline points="76.7,586.5 140.7,570.3 204.6,586.3"/><polyline points="76.1,570.5 140.7,555.9 205.2,570.3"/><line x1="125.2" y1="618.7" x2="124.5" y2="559.5"/><line x1="109.7" y1="623.9" x2="108.4" y2="563.2"/><line x1="94.1" y1="629.2" x2="92.2" y2="566.9"/><line x1="161.4" y1="620.4" x2="162.2" y2="560.7"/><line x1="182.1" y1="627.4" x2="183.7" y2="565.5"/><line x1="79.4" y1="654" x2="76.1" y2="570.5"/><line x1="140.7" y1="631.2" x2="140.7" y2="555.9"/><line x1="202" y1="654" x2="205.2" y2="570.3"/></g>
<g stroke="#222" stroke-width="1"><line x1="76.4" y1="634.9" x2="78.6" y2="634.4"/><line x1="75.8" y1="618.9" x2="78" y2="618.4"/><line x1="75.2" y1="602.9" x2="77.4" y2="602.4"/><line x1="74.5" y1="587" x2="76.7" y2="586.5"/><line x1="73.9" y1="571" x2="76.1" y2="570.5"/></g>
<polygon points="140.7,631.2 79.4,654 140.7,682.5 202,654" fill="#646464" stroke="#444" stroke-width="0.6"/>
<g transform="scale(.5)" fill="none" stroke-width="2.0"><path d="M320 1326l4 -1 3 -1 2 -2 2 -1 1 -1 2 -2 1 -1 1 -1 1 -2 0 -1 1 -1 0 -1 0 -2 0 -1 -1 -1 -1 -2 0 -1 -1 -1 -2 -2 -1 -1 -1 -1 -2 -1 -2 -1 -2 -2 -3 -1 -2 -1 -4 -1 -3 -1 -2 -1 -4 -1 -3 0 -2 -1 -4 0 -3 -1 -3 0 -3 0 -2 -1 -4 0 -4 0 -2 0 -4 0 -2 0 -3 0 -4 0 -3 1 -3 0 -3 1 -3 0 -3 1 -3 1 -3 1 -3 1 -3 1 -1 1 -2 1 -1 2 -1 1 -1 1 -1 1 0 2 -1 1 0 1 1 2 0 1 0 1 1 1 1 2 1 1 1 1 1 1 2 2 2 1 1 1 3 2 3 1 3 2 3 1 4 1 2 1 4 1 2 1 3 0 3 1 3 0 3 1 3 0 4 0 3 0 3 1 4 0 2 -1 3 0 4 0 2 0 3 -1 4 0 3 -1 3 -1 3 -1 0 0" stroke="#ffff00"/><path d="M334 1334l3 -2 3 -1 3 -1 3 -2 2 -1 2 -2 1 -1 2 -1 1 -1 1 -2 1 -1 1 -2 1 -1 0 -2 0 0 0 -2 0 -1 0 -2 0 -1 0 -1 -1 -1 0 -1 -1 -2 -1 -1 -1 -1 -1 -1 -1 -2 -1 -1 -2 -1 -2 -1 -2 -1 -2 -2 -2 -1 -2 -1 -3 -1 -3 -1 -3 -2 -3 -1 -3 0 -3 -1 -4 -1 -2 -1 -3 0 -4 -1 -3 -1 -3 0 -3 0 -3 -1 -3 0 -3 0 -3 -1 -3 0 -3 0 -4 0 -2 0 -4 0 -2 0 -4 0 -3 0 -2 0 -3 0 -4 1 -3 0 -3 1 -3 0 -3 1 -3 0 -3 1 -3 1 -4 1 -3 1 -2 1 -3 2 -2 0 -2 2 -1 1 -2 1 -1 1 -1 2 -1 1 0 1 -1 1 0 1 0 2 0 1 0 1 0 1 0 2 1 1 0 1 1 2 1 1 1 1 1 2 1 1 1 1 2 2 1 1 2 1 2 2 2 1 3 1 2 2 3 1 4 2 3 1 3 1 4 1 2 1 3 1 4 1 2 1 3 0 3 1 4 0 3 1 3 0 2 1 4 0 3 0 3 0 3 0 3 1 3 0 4 -1 2 0 3 0 4 0 3 0 2 -1 3 0 4 -1 3 -1 3 0 3 -1 3 -1 2 0" stroke="#99ff00"/><path d="M320 1277l-4 -1 -2 -1 -3 0 -3 -1 -4 0 -3 0 -3 -1 -3 0 -3 0 -3 -1 -3 0 -4 0 -2 0 -3 0 -3 0 -3 0 -4 0 -2 0 -3 0 -4 0 -3 0" stroke="#33ff00"/><path d="M194 1295l-1 1 0 1 0 2 0 1 0 1 0 1 0 2 0 1 0 1 1 1 1 2 0 1 1 1 1 2 1 1 1 1 2 2 1 1 1 1 2 2 2 1 1 1 3 2 2 1 2 2 3 1 2 1 3 2 3 1 3 1 2 1 4 2 3 1 3 1 4 1 2 0 3 1 4 1 3 1 2 0 3 1 3 0 4 1 3 0 3 1 3 0 3 0 3 0 3 0 3 1 3 0 4 0 2 0 3 0 4 -1 2 0 4 0 3 0 3 -1 3 0 3 -1 3 0" stroke="#33ff00"/><path d="M369 1324l1 -1 1 -2 1 -1 1 -1 0 -1 1 -2 0 -1 0 -1 1 -2 0 -1 -1 -1 0 -1 0 -2 0 -1 -1 -1 0 -1 -1 -2 -1 -1 -1 -1 -1 -1 -1 -2 -1 -1 -2 -1 -1 -1 -2 -2 0 0" stroke="#33ff00"/><path d="M290 1266l-3 -1 -3 0 -4 0 -2 0 -3 0" stroke="#00ff99"/><path d="M174 1302l0 1 1 2 0 1 1 1 0 1 1 2 1 1 1 2 1 1 1 1 1 2 1 1 1 1 2 2" stroke="#00ff99"/><path d="M248 1349l2 1 3 1 3 0 3 1 3 0 3 1 3 0 4 0 3 1 3 0 3 0 3 1 3 0 3 0 3 0 4 0 2 0 4 0 0 0" stroke="#00ff99"/><path d="M393 1313l0 -1 0 -2 0 -1 0 -1 -1 -1 0 -2 0 -1 -1 -1" stroke="#00ff99"/><path d="M162 1307l1 1 0 1 1 1" stroke="#00ccff"/><path d="M269 1359l3 1 4 0 3 0 3 1 3 0 3 0 2 0" stroke="#00ccff"/></g>
<g transform="scale(.5)" stroke="#000" stroke-opacity="0.42" stroke-width="0.8" stroke-linejoin="round"><path fill="#0f8" d="M281 1183l7-2-7-4-6 3z"/><path fill="#0f6" d="M288 1181l6-2-6-4-7 2z"/><path fill="#0f5" d="M275 1180l6-3-6-3-6 3z"/><path fill="#0f4" d="M294 1179l6-2-6-3-6 1z"/><path fill="#0f3" d="M281 1177l7-2-7-3-6 2z"/><path fill="#0f2" d="M269 1177l6-3-6-2-7 2zM300 1177l7-1-7-4-6 2z"/><path fill="#0f1" d="M288 1175l6-1-6-4-7 2z"/><path fill="#0f0" d="M262 1174l7-2-7-2-6 2zM275 1174l6-2-6-2-6 2zM307 1176l6 0-6-4-7 0z"/><path fill="#1f0" d="M294 1174l6-2-6-3-6 1z"/><path fill="#2f0" d="M256 1172l6-2-6-2-6 3zM281 1172l7-2-7-2-6 2z"/><path fill="#3f0" d="M269 1172l6-2-6-2-7 2z"/><path fill="#1f0" d="M313 1176l6-1-6-4-6 1z"/><path fill="#3f0" d="M300 1172l7 0-7-3-6 0z"/><path fill="#4f0" d="M250 1171l6-3-6 0-7 2zM288 1170l6-1-6-2-7 1z"/><path fill="#5f0" d="M262 1170l7-2-7-2-6 2zM275 1170l6-2-6-2-6 2z"/><path fill="#2f0" d="M319 1175l7 0-6-3-7-1z"/><path fill="#4f0" d="M307 1172l6-1-6-3-7 1z"/><path fill="#5f0" d="M243 1170l7-2-7 0-6 2z"/><path fill="#6f0" d="M294 1169l6 0-6-3-6 1z"/><path fill="#7f0" d="M256 1168l6-2-6 0-6 2zM281 1168l7-1-7-2-6 1zM269 1168l6-2-6-1-7 1z"/><path fill="#3f0" d="M326 1175l6 1-6-4-6 0z"/><path fill="#6f0" d="M313 1171l7 1-7-4-6 0z"/><path fill="#7f0" d="M237 1170l6-2-6 0-6 3zM300 1169l7-1-7-2-6 0z"/><path fill="#8f0" d="M250 1168l6-2-6-1-7 3zM288 1167l6-1-6-2-7 1z"/><path fill="#9f0" d="M262 1166l7-1-7-1-6 2zM275 1166l6-1-6-2-6 2z"/><path fill="#4f0" d="M332 1176l6 1-6-4-6-1z"/><path fill="#6f0" d="M320 1172l6 0-6-3-7-1z"/><path fill="#7f0" d="M231 1171l6-3-7 1-6 3z"/><path fill="#8f0" d="M307 1168l6 0-6-2-7 0z"/><path fill="#9f0" d="M243 1168l7-3-7 1-6 2z"/><path fill="#af0" d="M294 1166l6 0-6-3-6 1zM256 1166l6-2-6 0-6 1z"/><path fill="#bf0" d="M281 1165l7-1-7-2-6 1zM269 1165l6-2-6-1-7 2z"/><path fill="#4f0" d="M338 1177l7 2-6-4-7-2z"/><path fill="#8f0" d="M224 1172l6-3-6 2-6 3z"/><path fill="#7f0" d="M326 1172l6 1-6-3-6-1z"/><path fill="#af0" d="M237 1168l6-2-6 1-7 2z"/><path fill="#9f0" d="M313 1168l7 1-7-3-6 0z"/><path fill="#bf0" d="M250 1165l6-1-7 0-6 2zM300 1166l7 0-6-2-7-1z"/><path fill="#cf0" d="M262 1164l7-2-7 0-6 2zM288 1164l6-1-6-1-7 0z"/><path fill="#df0" d="M275 1163l6-1-6 0-6 0z"/><path fill="#4f0" d="M345 1179l6 2-6-4-6-2z"/><path fill="#8f0" d="M218 1174l6-3-6 3-7 2z"/><path fill="#7f0" d="M332 1173l7 2-7-3-6-2z"/><path fill="#af0" d="M230 1169l7-2-7 2-6 2zM320 1169l6 1-6-3-7-1z"/><path fill="#cf0" d="M243 1166l6-2-6 1-6 2zM307 1166l6 0-6-2-6 0z"/><path fill="#4f0" d="M351 1181l6 3-6-4-6-3z"/><path fill="#df0" d="M256 1164l6-2-6 1-7 1zM294 1163l7 1-7-2-6 0z"/><path fill="#ef0" d="M269 1162l6 0-6-1-7 1zM281 1162l7 0-7-1-6 1z"/><path fill="#7f0" d="M211 1176l7-2-7 3-6 3zM339 1175l6 2-6-3-7-2z"/><path fill="#af0" d="M224 1171l6-2-6 2-6 3zM326 1170l6 2-6-3-6-2z"/><path fill="#cf0" d="M237 1167l6-2-6 2-7 2z"/><path fill="#3f0" d="M357 1184l7 3-6-4-7-3z"/><path fill="#df0" d="M313 1166l7 1-7-2-6-1z"/><path fill="#ef0" d="M249 1164l7-1-7 1-6 1zM301 1164l6 0-6-1-7-1z"/><path fill="#6f0" d="M205 1180l6-3-6 4-6 2z"/><path fill="#ff0" d="M262 1162l7-1-7 1-6 1zM288 1162l6 0-6-1-7 0z"/><path fill="#fe0" d="M275 1162l6-1-6 0-6 0z"/><path fill="#7f0" d="M345 1177l6 3-6-4-6-2z"/><path fill="#af0" d="M218 1174l6-3-6 4-7 2zM332 1172l7 2-7-3-6-2z"/><path fill="#3f0" d="M364 1187l6 4-6-4-6-4z"/><path fill="#cf0" d="M230 1169l7-2-7 3-6 1z"/><path fill="#df0" d="M320 1167l6 2-6-2-7-2z"/><path fill="#5f0" d="M199 1183l6-2-6 4-6 3z"/><path fill="#ef0" d="M243 1165l6-1-6 2-6 1z"/><path fill="#ff0" d="M307 1164l6 1-6-1-6-1z"/><path fill="#fe0" d="M256 1163l6-1-6 1-7 1z"/><path fill="#6f0" d="M351 1180l7 3-7-3-6-4z"/><path fill="#fe0" d="M294 1162l7 1-7-1-6-1z"/><path fill="#fd0" d="M269 1161l6 0-6 1-7 0zM281 1161l7 0-7 0-6 0z"/><path fill="#9f0" d="M211 1177l7-2-7 4-6 2z"/><path fill="#af0" d="M339 1174l6 2-6-2-7-3z"/><path fill="#1f0" d="M370 1191l6 4-6-4-6-4z"/><path fill="#cf0" d="M224 1171l6-1-6 3-6 2z"/><path fill="#4f0" d="M193 1188l6-3-6 6-7 2z"/><path fill="#df0" d="M326 1169l6 2-6-2-6-2z"/><path fill="#ef0" d="M237 1167l6-1-6 2-7 2z"/><path fill="#6f0" d="M358 1183l6 4-6-4-7-3z"/><path fill="#ff0" d="M313 1165l7 2-7-2-6-1z"/><path fill="#7f0" d="M205 1181l6-2-6 4-6 2z"/><path fill="#fe0" d="M249 1164l7-1-7 2-6 1z"/><path fill="#fd0" d="M301 1163l6 1-6-1-7-1zM262 1162l7 0-7 1-6 0z"/><path fill="#fc0" d="M288 1161l6 1-6 0-7-1zM275 1161l6 0-6 1-6 0z"/><path fill="#0f0" d="M376 1195l7 4-7-3-6-5z"/><path fill="#2f0" d="M186 1193l7-2-7 6-6 2z"/><path fill="#9f0" d="M345 1176l6 4-6-3-6-3z"/><path fill="#bf0" d="M218 1175l6-2-6 4-7 2z"/><path fill="#cf0" d="M332 1171l7 3-7-2-6-3z"/><path fill="#ef0" d="M230 1170l7-2-7 3-6 2z"/><path fill="#4f0" d="M364 1187l6 4-6-4-6-4z"/><path fill="#6f0" d="M199 1185l6-2-6 5-6 3z"/><path fill="#ff0" d="M320 1167l6 2-6-2-7-2z"/><path fill="#fe0" d="M243 1166l6-1-6 2-6 1z"/><path fill="#0f0" d="M180 1199l6-2-6 6-6 3z"/><path fill="#0f1" d="M383 1199l6 6-6-4-7-5z"/><path fill="#fd0" d="M307 1164l6 1-6 0-6-2zM256 1163l6 0-6 1-7 1z"/><path fill="#8f0" d="M351 1180l7 3-7-2-6-4z"/><path fill="#af0" d="M211 1179l7-2-7 4-6 2z"/><path fill="#fc0" d="M294 1162l7 1-7 0-6-1zM269 1162l6 0-6 1-7 0z"/><path fill="#fb0" d="M281 1161l7 1-7 0-6 0z"/><path fill="#4f0" d="M193 1191l6-3-6 6-7 3z"/><path fill="#cf0" d="M339 1174l6 3-6-2-7-3z"/><path fill="#df0" d="M224 1173l6-2-6 4-6 2z"/><path fill="#3f0" d="M370 1191l6 5-6-4-6-5z"/><path fill="#0f3" d="M174 1206l6-3-6 8-6 2zM389 1205l6 6-6-4-6-6z"/><path fill="#ff0" d="M326 1169l6 3-6-2-6-3zM237 1168l6-1-6 4-7 0z"/><path fill="#8f0" d="M205 1183l6-2-6 6-6 1z"/><path fill="#7f0" d="M358 1183l6 4-6-2-7-4z"/><path fill="#fd0" d="M313 1165l7 2-7 0-6-2zM249 1165l7-1-7 3-6 0z"/><path fill="#fc0" d="M301 1163l6 2-6-1-7-1z"/><path fill="#fb0" d="M262 1163l7 0-7 2-6-1z"/><path fill="#2f0" d="M186 1197l7-3-7 7-6 2z"/><path fill="#0f5" d="M168 1213l6-2-6 8-6 2z"/><path fill="#fb0" d="M288 1162l6 1-6 0-7-1zM275 1162l6 0-6 1-6 0z"/><path fill="#1f0" d="M376 1196l7 5-7-4-6-5z"/><path fill="#bf0" d="M218 1177l6-2-6 5-7 1zM345 1177l6 4-6-3-6-3z"/><path fill="#0f5" d="M395 1211l6 6-6-4-6-6z"/><path fill="#ef0" d="M230 1171l7 0-7 4-6 0z"/><path fill="#6f0" d="M199 1188l6-1-6 6-6 1z"/><path fill="#ef0" d="M332 1172l7 3-7-2-6-3z"/><path fill="#0f7" d="M162 1221l6-2-6 9-6 2z"/><path fill="#6f0" d="M364 1187l6 5-6-3-6-4z"/><path fill="#0f1" d="M180 1203l6-2-6 8-6 2z"/><path fill="#fd0" d="M243 1167l6 0-6 3-6 1z"/><path fill="#fe0" d="M320 1167l6 3-6-1-7-2z"/><path fill="#0f0" d="M383 1201l6 6-6-4-7-6z"/><path fill="#fc0" d="M256 1164l6 1-6 2-7 0z"/><path fill="#af0" d="M211 1181l7-1-7 5-6 2z"/><path fill="#fc0" d="M307 1165l6 2-6-1-6-2z"/><path fill="#0f7" d="M401 1217l6 7-6-4-6-7z"/><path fill="#af0" d="M351 1181l7 4-7-2-6-5z"/><path fill="#fb0" d="M269 1163l6 0-6 2-7 0zM294 1163l7 1-7 1-6-2z"/><path fill="#fa0" d="M281 1162l7 1-7 1-6-1z"/><path fill="#4f0" d="M193 1194l6-1-6 6-7 2z"/><path fill="#0f3" d="M174 1211l6-2-6 8-6 2z"/><path fill="#df0" d="M224 1175l6 0-6 4-6 1zM339 1175l6 3-6-1-7-4z"/><path fill="#4f0" d="M370 1192l6 5-6-2-6-6z"/><path fill="#0f2" d="M389 1207l6 6-6-3-6-7z"/><path fill="#fe0" d="M237 1171l6-1-6 4-7 1zM326 1170l6 3-6-1-6-3z"/><path fill="#8f0" d="M205 1187l6-2-6 6-6 2z"/><path fill="#fc0" d="M249 1167l7 0-7 3-6 0z"/><path fill="#0f6" d="M168 1219l6-2-6 9-6 2z"/><path fill="#8f0" d="M358 1185l6 4-6-2-7-4z"/><path fill="#1f0" d="M186 1201l7-2-7 8-6 2z"/><path fill="#fc0" d="M313 1167l7 2-7 0-6-3z"/><path fill="#fb0" d="M262 1165l7 0-7 3-6-1zM301 1164l6 2-6 1-7-2z"/><path fill="#fa0" d="M275 1163l6 1-6 2-6-1zM288 1163l6 2-6 1-7-2z"/><path fill="#bf0" d="M218 1180l6-1-6 6-7 0z"/><path fill="#2f0" d="M376 1197l7 6-7-2-6-6z"/><path fill="#cf0" d="M345 1178l6 5-6-2-6-4z"/><path fill="#0f5" d="M395 1213l6 7-6-3-6-7z"/><path fill="#5f0" d="M199 1193l6-2-6 7-6 1z"/><path fill="#ef0" d="M230 1175l7-1-7 5-6 0z"/><path fill="#0f2" d="M180 1209l6-2-6 8-6 2z"/><path fill="#ff0" d="M332 1173l7 4-7-1-6-4z"/><path fill="#6f0" d="M364 1189l6 6-6-2-6-6z"/><path fill="#fd0" d="M243 1170l6 0-6 4-6 0zM320 1169l6 3-6 0-7-3z"/><path fill="#9f0" d="M211 1185l7 0-7 6-6 0z"/><path fill="#0f0" d="M383 1203l6 7-6-3-7-6z"/><path fill="#fc0" d="M256 1167l6 1-6 3-7-1z"/><path fill="#fb0" d="M307 1166l6 3-6 1-6-3z"/><path fill="#fa0" d="M269 1165l6 1-6 3-7-1z"/><path fill="#2f0" d="M193 1199l6-1-6 8-7 1z"/><path fill="#fa0" d="M294 1165l7 2-7 1-6-2z"/><path fill="#af0" d="M351 1183l7 4-7-1-6-5z"/><path fill="#0f5" d="M174 1217l6-2-6 9-6 2z"/><path fill="#fa0" d="M281 1164l7 2-7 2-6-2z"/><path fill="#cf0" d="M224 1179l6 0-6 5-6 1z"/><path fill="#4f0" d="M370 1195l6 6-6-2-6-6z"/><path fill="#df0" d="M339 1177l6 4-6-1-7-4z"/><path fill="#ff0" d="M237 1174l6 0-6 5-7 0z"/><path fill="#6f0" d="M205 1191l6 0-6 6-6 1z"/><path fill="#0f2" d="M389 1210l6 7-6-3-6-7z"/><path fill="#0f0" d="M186 1207l7-1-7 8-6 1z"/><path fill="#fe0" d="M326 1172l6 4-6 0-6-4z"/><path fill="#fd0" d="M249 1170l7 1-7 4-6-1z"/><path fill="#8f0" d="M358 1187l6 6-6-2-7-5z"/><path fill="#fc0" d="M313 1169l7 3-7 1-6-3z"/><path fill="#fb0" d="M262 1168l7 1-7 3-6-1z"/><path fill="#af0" d="M218 1185l6-1-6 6-7 1z"/><path fill="#fb0" d="M301 1167l6 3-6 1-7-3z"/><path fill="#fa0" d="M275 1166l6 2-6 2-6-1zM288 1166l6 2-6 2-7-2z"/><path fill="#2f0" d="M376 1201l7 6-7-2-6-6z"/><path fill="#4f0" d="M199 1198l6-1-6 8-6 1z"/><path fill="#cf0" d="M345 1181l6 5-6-1-6-5z"/><path fill="#0f3" d="M180 1215l6-1-6 9-6 1z"/><path fill="#df0" d="M230 1179l7 0-7 5-6 0z"/><path fill="#ff0" d="M332 1176l7 4-7 0-6-4z"/><path fill="#6f0" d="M364 1193l6 6-6-2-6-6z"/><path fill="#fe0" d="M243 1174l6 1-6 5-6-1z"/><path fill="#8f0" d="M211 1191l7-1-7 7-6 0z"/><path fill="#fd0" d="M320 1172l6 4-6 0-7-3z"/><path fill="#fc0" d="M256 1171l6 1-6 4-7-1z"/><path fill="#0f0" d="M383 1207l6 7-6-2-7-7z"/><path fill="#1f0" d="M193 1206l6-1-6 9-7 0z"/><path fill="#fc0" d="M307 1170l6 3-6 1-6-3z"/><path fill="#fb0" d="M269 1169l6 1-6 4-7-2zM294 1168l7 3-7 2-6-3zM281 1168l7 2-7 2-6-2z"/><path fill="#af0" d="M351 1186l7 5-7-1-6-5z"/><path fill="#bf0" d="M224 1184l6 0-6 7-6-1z"/><path fill="#4f0" d="M370 1199l6 6-6-1-6-7z"/><path fill="#5f0" d="M205 1197l6 0-6 8-6 0z"/><path fill="#df0" d="M339 1180l6 5-6 0-7-5z"/><path fill="#ef0" d="M237 1179l6 1-6 5-7-1z"/><path fill="#0f2" d="M186 1214l7 0-6 9-7 0z"/><path fill="#ff0" d="M326 1176l6 4-6 1-6-5z"/><path fill="#fe0" d="M249 1175l7 1-7 5-6-1z"/><path fill="#8f0" d="M358 1191l6 6-6-1-7-6zM218 1190l6 1-6 6-7 0z"/><path fill="#fd0" d="M313 1173l7 3-7 2-6-4z"/><path fill="#fc0" d="M262 1172l7 2-7 4-6-2zM301 1171l6 3-7 2-6-3z"/><path fill="#fb0" d="M275 1170l6 2-6 4-6-2zM288 1170l6 3-6 2-7-3z"/><path fill="#2f0" d="M199 1205l6 0-6 8-6 1z"/><path fill="#1f0" d="M376 1205l7 7-7-1-6-7z"/><path fill="#bf0" d="M345 1185l6 5-6 0-6-5z"/><path fill="#cf0" d="M230 1184l7 1-7 6-6 0z"/><path fill="#ef0" d="M332 1180l7 5-7 1-6-5zM243 1180l6 1-6 5-6-1z"/><path fill="#6f0" d="M211 1197l7 0-7 8-6 0z"/><path fill="#5f0" d="M364 1197l6 7-6-1-6-7z"/><path fill="#0f2" d="M193 1214l6-1-6 10-6 0z"/><path fill="#fe0" d="M320 1176l6 5-6 1-7-4zM256 1176l6 2-6 4-7-1z"/><path fill="#fd0" d="M307 1174l6 4-6 2-7-4z"/><path fill="#fc0" d="M269 1174l6 2-6 4-7-2z"/><path fill="#9f0" d="M224 1191l6 0-6 7-6-1z"/><path fill="#fc0" d="M294 1173l6 3-6 2-6-3zM281 1172l7 3-7 3-6-2z"/><path fill="#9f0" d="M351 1190l7 6-7 0-6-6z"/><path fill="#2f0" d="M205 1205l6 0-6 9-6-1z"/><path fill="#cf0" d="M237 1185l6 1-6 6-7-1z"/><path fill="#3f0" d="M370 1204l6 7-6-1-6-7z"/><path fill="#cf0" d="M339 1185l6 5-6 1-7-5z"/><path fill="#ef0" d="M249 1181l7 1-7 6-6-2zM326 1181l6 5-6 1-6-5z"/><path fill="#6f0" d="M218 1197l6 1-6 8-7-1zM358 1196l6 7-6 0-7-7z"/><path fill="#fe0" d="M262 1178l7 2-7 5-6-3z"/><path fill="#0f1" d="M199 1213l6 1-6 9-6 0z"/><path fill="#fe0" d="M313 1178l7 4-7 2-6-4z"/><path fill="#fd0" d="M275 1176l6 2-6 5-6-3zM300 1176l7 4-7 2-6-4zM288 1175l6 3-6 4-7-4z"/><path fill="#9f0" d="M230 1191l7 1-7 8-6-2zM345 1190l6 6-6 1-6-6z"/><path fill="#3f0" d="M211 1205l7 1-6 9-7-1z"/><path fill="#cf0" d="M243 1186l6 2-6 6-6-2zM332 1186l7 5-7 1-6-5z"/><path fill="#4f0" d="M364 1203l6 7-6 0-6-7z"/><path fill="#ef0" d="M256 1182l6 3-6 5-7-2zM320 1182l6 5-6 2-7-5z"/><path fill="#6f0" d="M224 1198l6 2-6 7-6-1z"/><path fill="#ff0" d="M269 1180l6 3-6 4-7-2zM307 1180l6 4-6 3-7-5z"/><path fill="#fe0" d="M281 1178l7 4-7 4-6-3zM294 1178l6 4-6 4-6-4z"/><path fill="#7f0" d="M351 1196l7 7-7 1-6-7z"/><path fill="#0f1" d="M205 1214l7 1-7 9-6-1z"/><path fill="#9f0" d="M237 1192l6 2-6 7-7-1z"/><path fill="#af0" d="M339 1191l6 6-6 1-7-6z"/><path fill="#cf0" d="M249 1188l7 2-7 7-6-3z"/><path fill="#3f0" d="M218 1206l6 1-6 9-6-1z"/><path fill="#cf0" d="M326 1187l6 5-6 2-6-5z"/><path fill="#df0" d="M262 1185l7 2-7 6-6-3z"/><path fill="#4f0" d="M358 1203l6 7-7 1-6-7z"/><path fill="#ef0" d="M313 1184l7 5-7 3-6-5zM275 1183l6 3-6 5-6-4z"/><path fill="#ff0" d="M300 1182l7 5-7 3-6-4zM288 1182l6 4-6 4-7-4z"/><path fill="#6f0" d="M230 1200l7 1-7 8-6-2z"/><path fill="#7f0" d="M345 1197l6 7-6 1-6-7z"/><path fill="#0f0" d="M212 1215l6 1-6 9-7-1z"/><path fill="#9f0" d="M243 1194l6 3-6 7-6-3z"/><path fill="#af0" d="M332 1192l7 6-7 2-6-6z"/><path fill="#bf0" d="M256 1190l6 3-6 6-7-2z"/><path fill="#3f0" d="M224 1207l6 2-6 9-6-2z"/><path fill="#cf0" d="M320 1189l6 5-6 3-7-5zM269 1187l6 4-6 5-7-3z"/><path fill="#df0" d="M307 1187l6 5-6 3-7-5zM281 1186l7 4-7 5-6-4zM294 1186l6 4-6 4-6-4z"/><path fill="#5f0" d="M351 1204l6 7-6 1-6-7z"/><path fill="#6f0" d="M237 1201l6 3-6 8-7-3z"/><path fill="#7f0" d="M339 1198l6 7-6 2-7-7z"/><path fill="#0f1" d="M218 1216l6 2-6 10-6-3z"/><path fill="#8f0" d="M249 1197l7 2-7 8-6-3z"/><path fill="#9f0" d="M326 1194l6 6-6 3-6-6z"/><path fill="#af0" d="M262 1193l7 3-7 7-6-4z"/><path fill="#bf0" d="M313 1192l7 5-7 4-6-6z"/><path fill="#3f0" d="M230 1209l7 3-6 8-7-2z"/><path fill="#bf0" d="M275 1191l6 4-6 5-6-4z"/><path fill="#cf0" d="M300 1190l7 5-7 4-6-5zM288 1190l6 4-6 5-7-4z"/><path fill="#5f0" d="M345 1205l6 7-6 2-6-7zM243 1204l6 3-6 8-6-3z"/><path fill="#7f0" d="M332 1200l7 7-7 3-6-7zM256 1199l6 4-6 7-7-3z"/><path fill="#0f1" d="M224 1218l7 2-7 10-6-2z"/><path fill="#9f0" d="M320 1197l6 6-7 4-6-6zM269 1196l6 4-6 7-7-4z"/><path fill="#af0" d="M307 1195l6 6-6 4-7-6zM281 1195l7 4-7 6-6-5zM294 1194l6 5-6 5-6-5z"/><path fill="#2f0" d="M237 1212l6 3-6 9-6-4z"/><path fill="#4f0" d="M339 1207l6 7-7 3-6-7zM249 1207l7 3-6 8-7-3z"/><path fill="#6f0" d="M326 1203l6 7-6 4-7-7zM262 1203l7 4-7 7-6-4z"/><path fill="#0f2" d="M231 1220l6 4-6 9-7-3z"/><path fill="#7f0" d="M313 1201l6 6-6 4-6-6zM275 1200l6 5-6 7-6-5z"/><path fill="#8f0" d="M300 1199l7 6-7 5-6-6zM288 1199l6 5-6 6-7-5z"/><path fill="#1f0" d="M243 1215l7 3-7 9-6-3z"/><path fill="#3f0" d="M256 1210l6 4-6 8-6-4zM332 1210l6 7-6 4-6-7z"/><path fill="#5f0" d="M269 1207l6 5-6 7-7-5zM319 1207l7 7-7 4-6-7z"/><path fill="#6f0" d="M281 1205l7 5-7 7-6-5zM307 1205l6 6-6 5-7-6z"/><path fill="#0f2" d="M237 1224l6 3-6 10-6-4z"/><path fill="#6f0" d="M294 1204l6 6-6 6-6-6z"/><path fill="#0f0" d="M250 1218l6 4-6 10-7-5z"/><path fill="#2f0" d="M262 1214l7 5-7 8-6-5zM326 1214l6 7-6 5-7-8z"/><path fill="#3f0" d="M275 1212l6 5-6 7-6-5zM313 1211l6 7-6 5-6-7z"/><path fill="#4f0" d="M288 1210l6 6-6 7-7-6zM300 1210l7 6-7 6-6-6z"/><path fill="#0f4" d="M243 1227l7 5-7 9-6-4z"/><path fill="#0f2" d="M256 1222l6 5-6 9-6-4z"/><path fill="#0f0" d="M269 1219l6 5-6 9-7-6z"/><path fill="#1f0" d="M319 1218l7 8-7 5-6-8zM281 1217l7 6-7 7-6-6zM307 1216l6 7-6 6-7-7zM294 1216l6 6-6 7-6-6z"/><path fill="#0f5" d="M250 1232l6 4-6 10-7-5z"/><path fill="#0f3" d="M262 1227l7 6-7 9-6-6z"/><path fill="#0f2" d="M275 1224l6 6-6 9-6-6z"/><path fill="#0f1" d="M313 1223l6 8-6 6-6-8zM288 1223l6 6-6 8-7-7zM300 1222l7 7-7 7-6-7z"/><path fill="#0f6" d="M256 1236l6 6-6 10-6-6z"/><path fill="#0f5" d="M269 1233l6 6-6 9-7-6z"/><path fill="#0f4" d="M281 1230l7 7-7 8-6-6zM307 1229l6 8-6 7-7-8z"/><path fill="#0f3" d="M294 1229l6 7-6 8-6-7z"/><path fill="#0f8" d="M262 1242l7 6-7 10-6-6z"/><path fill="#0f7" d="M275 1239l6 6-6 10-6-7z"/><path fill="#0f6" d="M288 1237l6 7-6 9-7-8zM300 1236l7 8-7 8-6-8z"/><path fill="#0fa" d="M269 1248l6 7-6 10-7-7z"/><path fill="#0f9" d="M281 1245l7 8-7 9-6-7z"/><path fill="#0f8" d="M294 1244l6 8-6 9-6-8z"/><path fill="#0fc" d="M275 1255l6 7-6 11-6-8z"/><path fill="#0fb" d="M288 1253l6 8-6 9-7-8z"/><path fill="#0fd" d="M281 1262l7 8-7 11-6-8z"/></g>
<circle cx="139.9" cy="572" r="1.6" fill="#b00c0c"/><circle cx="139.9" cy="577.5" r="1.6" fill="#b00c0c"/><circle cx="139.9" cy="580.7" r="1.6" fill="#b00c0c"/><circle cx="77.4" cy="616.7" r="1.6" fill="#b00c0c"/><circle cx="203.5" cy="613" r="1.5" fill="#f6dede" stroke="#c04848" stroke-width="0.5"/><circle cx="138.9" cy="642.8" r="1.6" fill="#b00c0c"/>
<!-- D2 -->
<g stroke="#777" stroke-width="0.9" fill="none"><polyline points="297.1,632.3 361.1,610.9 423.6,631.7"/><polyline points="296.4,616.1 361,596.4 424.3,615.5"/><polyline points="295.7,600 360.9,581.9 425,599.4"/><polyline points="295.1,583.8 360.8,567.5 425.7,583.2"/><polyline points="294.4,567.6 360.7,553 426.4,567.1"/><line x1="345.1" y1="616.2" x2="344.1" y2="556.6"/><line x1="329.1" y1="621.6" x2="327.5" y2="560.3"/><line x1="313.1" y1="627" x2="311" y2="564"/><line x1="376.7" y1="616.1" x2="377.1" y2="556.5"/><line x1="392.3" y1="621.3" x2="393.5" y2="560"/><line x1="408" y1="626.5" x2="410" y2="563.6"/><line x1="297.9" y1="652.2" x2="294.4" y2="567.6"/><line x1="361.2" y1="628.6" x2="360.7" y2="553"/><line x1="422.7" y1="651.5" x2="426.4" y2="567.1"/></g>
<g stroke="#222" stroke-width="1"><line x1="294.9" y1="632.8" x2="297.1" y2="632.3"/><line x1="294.2" y1="616.6" x2="296.4" y2="616.1"/><line x1="293.5" y1="600.5" x2="295.7" y2="600"/><line x1="292.9" y1="584.3" x2="295.1" y2="583.8"/><line x1="292.2" y1="568.1" x2="294.4" y2="567.6"/></g>
<polygon points="361.2,628.6 297.9,652.2 360.7,682.5 422.7,651.5" fill="#646464" stroke="#444" stroke-width="0.6"/>
<g transform="scale(.5)" fill="none" stroke-width="2.0"><path d="M764 1320l2 -1 3 -2 2 -1 2 -2 3 -1 1 -1 1 -2 2 -1 1 -2 0 -1 1 -1 1 -2 0 -1 0 -1 0 -2 0 -1 0 -1 -1 -2 -1 -1 -1 -1 -1 -1 -1 -2 -2 -1 -2 -1 -3 -1 -3 -2 -3 -1 -4 -1 -2 0 -3 -1 -3 0 -4 -1 -2 0 -4 0 -3 0 -3 0 -3 0 -3 0 -4 0 -3 0 -2 0 -4 1 -3 0 -3 1 -3 0 -4 1 -2 1 -4 1 -2 0 -4 2 -3 1 -3 1 -2 1 -2 2 -2 1 -2 1 -1 2 -2 1 -1 1 0 1 -1 2 -1 1 0 1 0 2 0 1 0 1 0 2 1 1 1 1 1 2 1 1 2 2 1 1 3 2 1 1 4 1 3 1 2 1 4 1 3 1 3 1 3 0 3 1 3 0 4 0 3 0 3 0 3 0 3 0 3 0 3 0 3 -1 4 0 3 -1 2 0 3 -1 4 -1 3 -1 3 -1 4 -2 1 0" stroke="#ffff00"/><path d="M768 1274l-4 0 -2 -1 -4 0 -3 0 -3 -1 -2 0 -3 0 -4 0 -3 0 -3 0 -3 0 -4 0 -2 0 -3 1 -4 0 -3 0 -3 0 -3 1 -3 0 -4 1 -3 0 -2 1 -3 0 -4 1 -3 1 -3 1 -4 1 -2 1 -3 1 -3 1 -3 1 -2 1 -3 2 -2 1 -2 1 -2 1 -1 1 -2 2 -1 1 -1 2 -1 1 -1 1 -1 1 0 1 -1 2 0 1 -1 1 0 2 0 1 0 2 0 1 1 1 1 2 0 1 1 2 1 1 1 1 2 2 1 1 1 2 3 1 2 1 2 2 3 2 3 1 4 1 3 2 3 1 3 0 4 1 3 1 3 0 3 1 3 0 3 1 3 0 3 0 4 0 3 0 3 0 3 0 3 0 3 0 3 0 4 -1 3 0 3 0 3 -1 3 -1 3 0 3 -1 3 -1 3 0 3 -1 3 -1 3 -2 4 -1 3 -1 3 -2 3 -2 3 -1 3 -2 1 -1 3 -2 1 -1 2 -1 1 -2 2 -2 1 -1 1 -1 1 -2 1 -1 0 -1 1 -2 0 -1 1 -1 0 -2 0 -1 0 -1 -1 -2 0 -1 0 -1 -1 -1 -1 -2 0 -1 -2 -1 -1 -1 -1 -2" stroke="#99ff00"/><path d="M745 1266l-4 0 -3 0 -3 0 -3 0 -4 0 -2 0 -3 0 -4 0 -3 1 -3 0 -3 0 -3 1 -4 0 -3 1 -3 0 -2 1 -3 0 -4 1 -3 1 -4 1 0 0" stroke="#33ff00"/><path d="M654 1283l-2 1 -2 1 -2 1 -1 1 -2 2 -2 1 -1 1 -1 2 -1 1 -1 1 -1 1 -1 2 -1 1 0 1 -1 1 0 2 0 1 -1 2 0 1 0 1 0 1 1 2 0 1 0 1 1 2 1 2 1 1 1 1 1 2 1 1 1 2 2 1 2 2 2 1 2 1 2 2 3 2 3 1 3 2 3 1 4 1 2 1 4 1 3 1 3 1 4 1 3 0 3 1 3 1 3 0 3 0 3 1 3 0 3 0 3 0 3 0 4 0 2 0 4 0 3 0 3 0 3 0 4 -1 2 0 3 0 3 -1 3 0 3 -1 4 -1 3 0 4 -1 2 -1 3 -1 4 -1 2 -1 4 -1 2 -1 4 -1 3 -2 3 -1 3 -2 3 -1 3 -2 2 -1 3 -2 2 -2 2 -1 1 -1 2 -2 2 -1 1 -2 1 -1 1 -2 1 -1 1 -1 1 -2 1 -1 1 -2 0 -1 1 -1 0 -2 0 -1 0 -1 0 -2 0 -1 0 -1" stroke="#33ff00"/><path d="M726 1259l-3 0 -3 0 -3 0" stroke="#00ff99"/><path d="M618 1296l-1 2 -1 1 0 1 0 1 -1 2 0 1 0 1 0 2 0 1 0 2 0 1 0 1 1 2 0 0" stroke="#00ff99"/><path d="M701 1355l3 0 4 0 2 1 4 0 3 0 3 0 3 0 3 -1 3 0 3 0 4 0 3 -1 2 0 3 0" stroke="#00ff99"/><path d="M837 1307l0 -1 1 -1 1 -2 0 -1 1 -1" stroke="#00ff99"/><path d="M601 1303l0 1 -1 1 0 2" stroke="#00ccff"/><path d="M716 1363l4 0 2 -1 4 0 1 0" stroke="#00ccff"/></g>
<g transform="scale(.5)" stroke="#000" stroke-opacity="0.42" stroke-width="0.8" stroke-linejoin="round"><path fill="#0fa" d="M722 1186l6-5-6-3-7 5z"/><path fill="#0f8" d="M715 1183l7-5-7-2-6 5z"/><path fill="#0f7" d="M728 1181l7-4-7-3-6 4z"/><path fill="#0f6" d="M709 1181l6-5-6-2-7 5z"/><path fill="#0f5" d="M722 1178l6-4-6-2-7 4z"/><path fill="#0f4" d="M735 1177l6-4-6-3-7 4zM702 1179l7-5-7-1-6 5z"/><path fill="#0f3" d="M715 1176l7-4-7-2-6 4z"/><path fill="#0f2" d="M728 1174l7-4-7-2-6 4zM741 1173l6-2-6-3-6 2z"/><path fill="#0f3" d="M696 1178l6-5-6-1-7 5z"/><path fill="#0f1" d="M709 1174l6-4-6-2-7 5z"/><path fill="#0f0" d="M722 1172l6-4-7-2-6 4z"/><path fill="#1f0" d="M747 1171l7-3-7-3-6 3zM735 1170l6-2-7-3-6 3z"/><path fill="#0f1" d="M689 1177l7-5-7 0-6 5z"/><path fill="#1f0" d="M702 1173l7-5-7 0-6 4z"/><path fill="#2f0" d="M715 1170l6-4-6-1-6 3z"/><path fill="#3f0" d="M754 1168l6-1-6-3-7 1zM728 1168l6-3-6-2-7 3zM741 1168l6-3-6-2-7 2z"/><path fill="#0f0" d="M683 1177l6-5-6 0-7 5z"/><path fill="#2f0" d="M696 1172l6-4-7 0-6 4z"/><path fill="#4f0" d="M709 1168l6-3-7-1-6 4zM760 1167l7-1-7-3-6 1z"/><path fill="#5f0" d="M721 1166l7-3-7-1-6 3zM747 1165l7-1-7-3-6 2z"/><path fill="#6f0" d="M734 1165l7-2-7-2-6 2z"/><path fill="#1f0" d="M676 1177l7-5-7 1-6 6z"/><path fill="#3f0" d="M689 1172l6-4-6 0-6 4z"/><path fill="#6f0" d="M702 1168l6-4-6 0-7 4zM767 1166l6 0-6-3-7 0z"/><path fill="#7f0" d="M715 1165l6-3-6-1-7 3zM754 1164l6-1-6-3-7 1z"/><path fill="#8f0" d="M728 1163l6-2-6-2-7 3zM741 1163l6-2-6-2-7 2z"/><path fill="#1f0" d="M670 1179l6-6-7 2-6 5z"/><path fill="#4f0" d="M683 1172l6-4-7 1-6 4z"/><path fill="#7f0" d="M695 1168l7-4-7 0-6 4zM773 1166l7 1-7-3-6-1z"/><path fill="#9f0" d="M708 1164l7-3-7 0-6 3z"/><path fill="#8f0" d="M760 1163l7 0-7-3-6 0z"/><path fill="#1f0" d="M663 1180l6-5-6 2-6 6z"/><path fill="#af0" d="M721 1162l7-3-7 0-6 2zM747 1161l7-1-7-2-6 1zM734 1161l7-2-7-1-6 1z"/><path fill="#5f0" d="M676 1173l6-4-6 2-7 4z"/><path fill="#8f0" d="M689 1168l6-4-6 1-7 4z"/><path fill="#7f0" d="M780 1167l6 1-6-3-7-1z"/><path fill="#1f0" d="M657 1183l6-6-7 3-6 5z"/><path fill="#af0" d="M702 1164l6-3-6 0-7 3z"/><path fill="#9f0" d="M767 1163l6 1-6-3-7-1z"/><path fill="#bf0" d="M715 1161l6-2-6-1-7 3zM754 1160l6 0-6-2-7 0z"/><path fill="#cf0" d="M728 1159l6-1-6-1-7 2zM741 1159l6-1-6-1-7 1z"/><path fill="#5f0" d="M669 1175l7-4-7 2-6 4z"/><path fill="#7f0" d="M786 1168l7 2-7-3-6-2z"/><path fill="#8f0" d="M682 1169l7-4-7 2-6 4z"/><path fill="#1f0" d="M650 1185l6-5-6 4-6 5z"/><path fill="#af0" d="M773 1164l7 1-7-3-6-1zM695 1164l7-3-7 1-6 3z"/><path fill="#cf0" d="M760 1160l7 1-7-2-6-1zM708 1161l7-3-7 1-6 2z"/><path fill="#5f0" d="M663 1177l6-4-6 3-7 4z"/><path fill="#df0" d="M747 1158l7 0-7-1-6 0zM721 1159l7-2-7 0-6 1z"/><path fill="#ef0" d="M734 1158l7-1-7-1-6 1z"/><path fill="#7f0" d="M793 1170l6 3-6-3-7-3z"/><path fill="#0f0" d="M644 1189l6-5-7 4-6 5z"/><path fill="#8f0" d="M676 1171l6-4-6 2-7 4z"/><path fill="#af0" d="M780 1165l6 2-6-3-7-2z"/><path fill="#bf0" d="M689 1165l6-3-6 2-7 3z"/><path fill="#4f0" d="M656 1180l7-4-7 3-6 5z"/><path fill="#cf0" d="M767 1161l6 1-6-2-7-1z"/><path fill="#df0" d="M702 1161l6-2-6 1-7 2z"/><path fill="#ef0" d="M754 1158l6 1-6-2-7 0z"/><path fill="#0f1" d="M637 1193l6-5-6 5-6 5z"/><path fill="#ef0" d="M715 1158l6-1-6 0-7 2z"/><path fill="#6f0" d="M799 1173l6 4-6-3-6-4z"/><path fill="#ff0" d="M741 1157l6 0-6-1-7 0zM728 1157l6-1-6 0-7 1z"/><path fill="#8f0" d="M669 1173l7-4-7 3-6 4z"/><path fill="#9f0" d="M786 1167l7 3-7-3-6-3z"/><path fill="#bf0" d="M682 1167l7-3-7 2-6 3z"/><path fill="#3f0" d="M650 1184l6-5-6 4-7 5z"/><path fill="#cf0" d="M773 1162l7 2-7-2-6-2z"/><path fill="#0f2" d="M631 1198l6-5-6 5-7 5z"/><path fill="#ef0" d="M695 1162l7-2-7 1-6 3z"/><path fill="#5f0" d="M805 1177l7 5-7-4-6-4z"/><path fill="#ef0" d="M760 1159l7 1-7-1-6-2z"/><path fill="#ff0" d="M708 1159l7-2-7 1-6 2z"/><path fill="#7f0" d="M663 1176l6-4-6 3-7 4z"/><path fill="#fe0" d="M747 1157l7 0-7-1-6 0zM721 1157l7-1-7 0-6 1zM734 1156l7 0-7-1-6 1z"/><path fill="#9f0" d="M793 1170l6 4-6-3-7-4z"/><path fill="#2f0" d="M643 1188l7-5-7 5-6 5z"/><path fill="#bf0" d="M676 1169l6-3-7 3-6 3z"/><path fill="#0f4" d="M624 1203l7-5-7 6-6 6z"/><path fill="#3f0" d="M812 1182l6 5-6-3-7-6z"/><path fill="#cf0" d="M780 1164l6 3-6-2-7-3z"/><path fill="#ef0" d="M689 1164l6-3-7 2-6 3z"/><path fill="#7f0" d="M656 1179l7-4-7 4-6 4z"/><path fill="#ef0" d="M767 1160l6 2-6-1-7-2z"/><path fill="#fe0" d="M702 1160l6-2-7 1-6 2zM754 1157l6 2-6-1-7-2z"/><path fill="#7f0" d="M799 1174l6 4-6-2-6-5z"/><path fill="#1f0" d="M637 1193l6-5-6 6-6 4z"/><path fill="#0f5" d="M618 1210l6-6-6 7-6 5z"/><path fill="#fd0" d="M715 1157l6-1-7 1-6 1zM741 1156l6 0-6 0-7-1z"/><path fill="#fc0" d="M728 1156l6-1-6 1-7 0z"/><path fill="#af0" d="M669 1172l6-3-6 3-6 3z"/><path fill="#1f0" d="M818 1187l6 6-6-3-6-6z"/><path fill="#bf0" d="M786 1167l7 4-7-2-6-4z"/><path fill="#5f0" d="M650 1183l6-4-6 5-7 4z"/><path fill="#df0" d="M682 1166l6-3-6 3-7 3z"/><path fill="#0f7" d="M612 1216l6-5-6 8-6 5z"/><path fill="#ef0" d="M773 1162l7 3-7-1-6-3z"/><path fill="#0f1" d="M631 1198l6-4-6 6-7 4z"/><path fill="#6f0" d="M805 1178l7 6-7-3-6-5z"/><path fill="#fe0" d="M695 1161l6-2-6 2-7 2z"/><path fill="#0f1" d="M824 1193l7 7-7-3-6-7z"/><path fill="#fe0" d="M760 1159l7 2-7-1-6-2z"/><path fill="#fd0" d="M708 1158l6-1-6 1-7 1z"/><path fill="#9f0" d="M663 1175l6-3-7 4-6 3z"/><path fill="#fc0" d="M747 1156l7 2-7-1-6-1zM721 1156l7 0-7 0-7 1zM734 1155l7 1-7 0-6 0z"/><path fill="#af0" d="M793 1171l6 5-6-3-7-4z"/><path fill="#0f9" d="M606 1224l6-5-7 8-6 5z"/><path fill="#4f0" d="M643 1188l7-4-7 6-6 4z"/><path fill="#0f2" d="M624 1204l7-4-7 7-6 4z"/><path fill="#df0" d="M675 1169l7-3-7 3-6 3z"/><path fill="#4f0" d="M812 1184l6 6-6-3-7-6z"/><path fill="#0f4" d="M831 1200l6 8-7-3-6-8z"/><path fill="#df0" d="M780 1165l6 4-6-2-7-3z"/><path fill="#ff0" d="M688 1163l7-2-7 3-6 2z"/><path fill="#8f0" d="M656 1179l6-3-6 5-6 3z"/><path fill="#fe0" d="M767 1161l6 3-6-1-7-3z"/><path fill="#0fb" d="M599 1232l6-5-6 9-6 5z"/><path fill="#8f0" d="M799 1176l6 5-6-2-6-6z"/><path fill="#fd0" d="M701 1159l7-1-7 2-6 1z"/><path fill="#fc0" d="M754 1158l6 2-6-1-7-2z"/><path fill="#2f0" d="M637 1194l6-4-6 6-6 4z"/><path fill="#0f4" d="M618 1211l6-4-6 7-6 5z"/><path fill="#0f7" d="M837 1208l6 8-6-3-7-8z"/><path fill="#fb0" d="M714 1157l7-1-7 2-6 0zM741 1156l6 1-6 0-7-1z"/><path fill="#1f0" d="M818 1190l6 7-6-3-6-7z"/><path fill="#fb0" d="M728 1156l6 0-6 1-7-1z"/><path fill="#cf0" d="M669 1172l6-3-6 5-7 2zM786 1169l7 4-7-1-6-5z"/><path fill="#7f0" d="M650 1184l6-3-6 5-7 4z"/><path fill="#ff0" d="M682 1166l6-2-6 4-7 1z"/><path fill="#0fa" d="M843 1216l6 10-6-3-6-10z"/><path fill="#0f7" d="M612 1219l6-5-6 8-7 5z"/><path fill="#6f0" d="M805 1181l7 6-7-2-6-6z"/><path fill="#ff0" d="M773 1164l7 3-7-1-6-3z"/><path fill="#0f0" d="M631 1200l6-4-7 7-6 4z"/><path fill="#0f2" d="M824 1197l6 8-6-3-6-8z"/><path fill="#fd0" d="M695 1161l6-1-6 3-7 1zM760 1160l7 3-7-1-6-3z"/><path fill="#fb0" d="M708 1158l6 0-6 2-7 0z"/><path fill="#af0" d="M662 1176l7-2-7 4-6 3z"/><path fill="#fb0" d="M747 1157l7 2-7 1-6-3z"/><path fill="#af0" d="M793 1173l6 6-7-2-6-5z"/><path fill="#fa0" d="M721 1156l7 1-7 1-7 0zM734 1156l7 1-7 1-6-1z"/><path fill="#0f9" d="M605 1227l7-5-7 9-6 5z"/><path fill="#5f0" d="M643 1190l7-4-7 7-6 3z"/><path fill="#0f5" d="M830 1205l7 8-7-2-6-9z"/><path fill="#3f0" d="M812 1187l6 7-6-2-7-7z"/><path fill="#0f2" d="M624 1207l6-4-6 7-6 4z"/><path fill="#ef0" d="M675 1169l7-1-7 4-6 2z"/><path fill="#df0" d="M780 1167l6 5-6-1-7-5z"/><path fill="#fe0" d="M688 1164l7-1-7 4-6 1zM767 1163l6 3-6 0-7-4z"/><path fill="#9f0" d="M656 1181l6-3-6 6-6 2z"/><path fill="#8f0" d="M799 1179l6 6-6-2-7-6z"/><path fill="#0f8" d="M837 1213l6 10-7-3-6-9z"/><path fill="#fc0" d="M701 1160l7 0-7 3-6 0z"/><path fill="#0f4" d="M618 1214l6-4-6 9-6 3z"/><path fill="#0f0" d="M818 1194l6 8-6-2-6-8z"/><path fill="#fc0" d="M754 1159l6 3-6 0-7-2z"/><path fill="#3f0" d="M637 1196l6-3-6 6-7 4z"/><path fill="#fa0" d="M714 1158l7 0-7 3-6-1zM741 1157l6 3-6 0-7-2zM728 1157l6 1-7 2-6-2z"/><path fill="#cf0" d="M669 1174l6-2-6 5-7 1zM786 1172l6 5-6-1-6-5z"/><path fill="#5f0" d="M805 1185l7 7-7-2-6-7z"/><path fill="#7f0" d="M650 1186l6-2-7 6-6 3z"/><path fill="#0f7" d="M612 1222l6-3-6 9-7 3z"/><path fill="#0f3" d="M824 1202l6 9-6-2-6-9z"/><path fill="#ff0" d="M682 1168l6-1-6 4-7 1zM773 1166l7 5-7-1-6-4z"/><path fill="#0f0" d="M630 1203l7-4-7 8-6 3z"/><path fill="#fc0" d="M695 1163l6 0-6 3-7 1z"/><path fill="#fd0" d="M760 1162l7 4-7 0-6-4z"/><path fill="#9f0" d="M792 1177l7 6-7-1-6-6z"/><path fill="#bf0" d="M662 1178l7-1-7 5-6 2z"/><path fill="#fb0" d="M708 1160l6 1-6 2-7 0zM747 1160l7 2-7 1-6-3z"/><path fill="#fa0" d="M721 1158l6 2-6 2-7-1z"/><path fill="#0f6" d="M830 1211l6 9-6-2-6-9z"/><path fill="#fa0" d="M734 1158l7 2-7 2-7-2z"/><path fill="#2f0" d="M812 1192l6 8-7-2-6-8z"/><path fill="#5f0" d="M643 1193l6-3-6 7-6 2z"/><path fill="#0f2" d="M624 1210l6-3-6 8-6 4z"/><path fill="#df0" d="M780 1171l6 5-6 0-7-6z"/><path fill="#ef0" d="M675 1172l7-1-7 5-6 1z"/><path fill="#7f0" d="M799 1183l6 7-6 0-7-8z"/><path fill="#fe0" d="M767 1166l6 4-6 1-7-5z"/><path fill="#fd0" d="M688 1167l7-1-7 4-6 1z"/><path fill="#9f0" d="M656 1184l6-2-6 6-7 2z"/><path fill="#0f1" d="M818 1200l6 9-6-2-7-9z"/><path fill="#0f5" d="M618 1219l6-4-6 9-6 4z"/><path fill="#fc0" d="M754 1162l6 4-6 1-7-4z"/><path fill="#2f0" d="M637 1199l6-2-6 8-7 2z"/><path fill="#fc0" d="M701 1163l7 0-7 4-6-1z"/><path fill="#fb0" d="M741 1160l6 3-7 2-6-3z"/><path fill="#fa0" d="M714 1161l7 1-7 3-6-2zM727 1160l7 2-7 2-6-2z"/><path fill="#bf0" d="M786 1176l6 6-6 0-6-6z"/><path fill="#cf0" d="M669 1177l6-1-6 5-7 1z"/><path fill="#0f4" d="M824 1209l6 9-6-1-6-10z"/><path fill="#4f0" d="M805 1190l6 8-6 0-6-8z"/><path fill="#7f0" d="M649 1190l7-2-7 7-6 2z"/><path fill="#ef0" d="M773 1170l7 6-7 0-6-5z"/><path fill="#ff0" d="M682 1171l6-1-6 5-7 1z"/><path fill="#0f0" d="M630 1207l7-2-7 8-6 2z"/><path fill="#fe0" d="M760 1166l7 5-7 1-6-5z"/><path fill="#fd0" d="M695 1166l6 1-6 4-7-1z"/><path fill="#8f0" d="M792 1182l7 8-7-1-6-7z"/><path fill="#fc0" d="M747 1163l7 4-7 1-7-3z"/><path fill="#af0" d="M662 1182l7-1-7 6-6 1z"/><path fill="#1f0" d="M811 1198l7 9-7-1-6-8z"/><path fill="#fb0" d="M708 1163l6 2-6 3-7-1zM734 1162l6 3-6 2-7-3zM721 1162l6 2-6 3-7-2z"/><path fill="#0f3" d="M624 1215l6-2-6 9-6 2z"/><path fill="#4f0" d="M643 1197l6-2-6 8-6 2z"/><path fill="#cf0" d="M780 1176l6 6-7 0-6-6z"/><path fill="#df0" d="M675 1176l7-1-7 6-6 0z"/><path fill="#5f0" d="M799 1190l6 8-6-1-7-8z"/><path fill="#0f3" d="M818 1207l6 10-7-1-6-10z"/><path fill="#ff0" d="M767 1171l6 5-7 1-6-5z"/><path fill="#fe0" d="M688 1170l7 1-7 5-6-1z"/><path fill="#8f0" d="M656 1188l6-1-6 7-7 1z"/><path fill="#1f0" d="M637 1205l6-2-6 8-7 2z"/><path fill="#fd0" d="M754 1167l6 5-7 1-6-5z"/><path fill="#fc0" d="M701 1167l7 1-7 4-6-1zM740 1165l7 3-7 3-6-4z"/><path fill="#9f0" d="M786 1182l6 7-6 1-7-8z"/><path fill="#fb0" d="M714 1165l7 2-7 3-6-2zM727 1164l7 3-7 3-6-3z"/><path fill="#bf0" d="M669 1181l6 0-6 6-7 0z"/><path fill="#2f0" d="M805 1198l6 8-6 0-6-9z"/><path fill="#cf0" d="M773 1176l6 6-6 1-7-6z"/><path fill="#5f0" d="M649 1195l7-1-7 8-6 1z"/><path fill="#0f2" d="M630 1213l7-2-7 10-6 1z"/><path fill="#ef0" d="M682 1175l6 1-6 5-7 0z"/><path fill="#ff0" d="M760 1172l6 5-6 2-7-6z"/><path fill="#6f0" d="M792 1189l7 8-7 1-6-8z"/><path fill="#0f2" d="M811 1206l6 10-6 0-6-10z"/><path fill="#fe0" d="M695 1171l6 1-6 5-7-1z"/><path fill="#fd0" d="M747 1168l6 5-6 2-7-4z"/><path fill="#9f0" d="M662 1187l7 0-7 7-6 0z"/><path fill="#fc0" d="M708 1168l6 2-6 4-7-2zM734 1167l6 4-6 2-7-3zM721 1167l6 3-6 3-7-3z"/><path fill="#2f0" d="M643 1203l6-1-6 8-6 1z"/><path fill="#af0" d="M779 1182l7 8-7 1-6-8z"/><path fill="#cf0" d="M675 1181l7 0-7 7-6-1z"/><path fill="#3f0" d="M799 1197l6 9-7 1-6-9z"/><path fill="#df0" d="M766 1177l7 6-7 2-6-6z"/><path fill="#ef0" d="M688 1176l7 1-7 6-6-2z"/><path fill="#6f0" d="M656 1194l6 0-6 8-7 0z"/><path fill="#0f1" d="M637 1211l6-1-6 10-7 1z"/><path fill="#ff0" d="M753 1173l7 6-7 2-6-6z"/><path fill="#fe0" d="M701 1172l7 2-7 5-6-2z"/><path fill="#6f0" d="M786 1190l6 8-6 1-7-8z"/><path fill="#fe0" d="M740 1171l7 4-7 3-6-5z"/><path fill="#0f1" d="M805 1206l6 10-6 1-7-10z"/><path fill="#fd0" d="M714 1170l7 3-7 4-6-3zM727 1170l7 3-7 4-6-4z"/><path fill="#af0" d="M669 1187l6 1-6 7-7-1zM773 1183l6 8-6 1-7-7z"/><path fill="#3f0" d="M649 1202l7 0-6 8-7 0z"/><path fill="#cf0" d="M682 1181l6 2-6 6-7-1z"/><path fill="#3f0" d="M792 1198l6 9-6 1-6-9z"/><path fill="#cf0" d="M760 1179l6 6-6 2-7-6z"/><path fill="#ef0" d="M695 1177l6 2-6 6-7-2zM747 1175l6 6-6 3-7-6z"/><path fill="#7f0" d="M662 1194l7 1-7 8-6-1z"/><path fill="#ff0" d="M708 1174l6 3-6 5-7-3zM734 1173l6 5-6 4-7-5z"/><path fill="#fe0" d="M721 1173l6 4-6 4-7-4z"/><path fill="#7f0" d="M779 1191l7 8-7 1-6-8z"/><path fill="#0f0" d="M643 1210l7 0-7 10-6 0z"/><path fill="#0f1" d="M798 1207l7 10-7 1-6-10z"/><path fill="#af0" d="M675 1188l7 1-7 7-6-1zM766 1185l7 7-7 2-6-7z"/><path fill="#4f0" d="M656 1202l6 1-6 8-6-1z"/><path fill="#cf0" d="M688 1183l7 2-7 6-6-2zM753 1181l7 6-7 3-6-6z"/><path fill="#3f0" d="M786 1199l6 9-7 1-6-9z"/><path fill="#df0" d="M701 1179l7 3-7 6-6-3zM740 1178l7 6-7 3-6-5z"/><path fill="#ef0" d="M714 1177l7 4-7 5-6-4zM727 1177l7 5-7 4-6-5z"/><path fill="#7f0" d="M669 1195l6 1-6 8-7-1zM773 1192l6 8-6 3-7-9z"/><path fill="#1f0" d="M650 1210l6 1-6 9-7 0z"/><path fill="#0f0" d="M792 1208l6 10-6 2-7-11z"/><path fill="#9f0" d="M682 1189l6 2-6 8-7-3zM760 1187l6 7-6 4-7-8z"/><path fill="#bf0" d="M695 1185l6 3-6 6-7-3zM747 1184l6 6-6 4-7-7z"/><path fill="#4f0" d="M662 1203l7 1-7 9-6-2z"/><path fill="#cf0" d="M708 1182l6 4-6 6-7-4z"/><path fill="#3f0" d="M779 1200l6 9-6 3-6-9z"/><path fill="#cf0" d="M734 1182l6 5-6 5-7-6z"/><path fill="#df0" d="M721 1181l6 5-6 5-7-5z"/><path fill="#7f0" d="M675 1196l7 3-7 7-6-2z"/><path fill="#6f0" d="M766 1194l7 9-7 3-6-8z"/><path fill="#1f0" d="M656 1211l6 2-6 9-6-2z"/><path fill="#0f1" d="M785 1209l7 11-7 2-6-10z"/><path fill="#9f0" d="M688 1191l7 3-7 8-6-3z"/><path fill="#8f0" d="M753 1190l7 8-7 3-6-7z"/><path fill="#af0" d="M701 1188l7 4-7 6-6-4zM740 1187l7 7-7 4-6-6z"/><path fill="#bf0" d="M714 1186l7 5-7 6-6-5zM727 1186l7 6-7 5-6-6z"/><path fill="#4f0" d="M669 1204l6 2-6 9-7-2z"/><path fill="#3f0" d="M773 1203l6 9-7 3-6-9z"/><path fill="#6f0" d="M682 1199l6 3-6 8-7-4z"/><path fill="#5f0" d="M760 1198l6 8-6 4-7-9z"/><path fill="#8f0" d="M695 1194l6 4-6 8-7-4z"/><path fill="#7f0" d="M747 1194l6 7-6 5-7-8z"/><path fill="#0f1" d="M779 1212l6 10-6 3-7-10z"/><path fill="#0f0" d="M662 1213l7 2-6 10-7-3z"/><path fill="#9f0" d="M708 1192l6 5-6 6-7-5z"/><path fill="#8f0" d="M734 1192l6 6-6 5-7-6z"/><path fill="#9f0" d="M721 1191l6 6-6 6-7-6z"/><path fill="#2f0" d="M766 1206l6 9-6 4-6-9z"/><path fill="#3f0" d="M675 1206l7 4-7 8-6-3z"/><path fill="#4f0" d="M753 1201l7 9-7 4-6-8z"/><path fill="#5f0" d="M688 1202l7 4-7 8-6-4z"/><path fill="#6f0" d="M740 1198l7 8-7 5-6-8zM701 1198l7 5-7 8-6-5z"/><path fill="#7f0" d="M727 1197l7 6-7 6-6-6zM714 1197l7 6-7 6-6-6z"/><path fill="#0f2" d="M772 1215l7 10-7 4-6-10z"/><path fill="#0f0" d="M669 1215l6 3-6 10-6-3z"/><path fill="#1f0" d="M760 1210l6 9-7 5-6-10z"/><path fill="#2f0" d="M682 1210l6 4-6 9-7-5z"/><path fill="#3f0" d="M747 1206l6 8-6 6-7-9zM695 1206l6 5-6 8-7-5z"/><path fill="#4f0" d="M734 1203l6 8-6 6-7-8zM708 1203l6 6-6 8-7-6zM721 1203l6 6-6 7-7-7z"/><path fill="#0f3" d="M766 1219l6 10-6 5-7-10z"/><path fill="#0f1" d="M675 1218l7 5-6 9-7-4zM753 1214l6 10-6 5-6-9z"/><path fill="#0f0" d="M688 1214l7 5-7 9-6-5z"/><path fill="#1f0" d="M740 1211l7 9-7 6-6-9z"/><path fill="#2f0" d="M701 1211l7 6-7 8-6-6zM727 1209l7 8-7 7-6-8zM714 1209l7 7-7 8-6-7z"/><path fill="#0f4" d="M759 1224l7 10-7 6-6-11z"/><path fill="#0f3" d="M682 1223l6 5-6 10-6-6z"/><path fill="#0f2" d="M747 1220l6 9-6 6-7-9z"/><path fill="#0f1" d="M695 1219l6 6-6 9-7-6zM734 1217l6 9-6 7-7-9zM708 1217l6 7-6 8-7-7zM721 1216l6 8-6 7-7-7z"/><path fill="#0f6" d="M753 1229l6 11-6 6-6-11z"/><path fill="#0f4" d="M688 1228l7 6-6 10-7-6zM740 1226l7 9-7 7-6-9zM701 1225l7 7-7 9-6-7z"/><path fill="#0f3" d="M727 1224l7 9-7 7-6-9zM714 1224l7 7-7 9-6-8z"/><path fill="#0f8" d="M747 1235l6 11-7 7-6-11z"/><path fill="#0f7" d="M695 1234l6 7-6 10-6-7zM734 1233l6 9-6 8-7-10z"/><path fill="#0f6" d="M708 1232l6 8-6 9-7-8zM721 1231l6 9-6 9-7-9z"/><path fill="#0fa" d="M740 1242l6 11-6 8-6-11z"/><path fill="#0f9" d="M701 1241l7 8-6 10-7-8zM727 1240l7 10-7 9-6-10zM714 1240l7 9-7 9-6-9z"/><path fill="#0fc" d="M734 1250l6 11-6 9-7-11z"/><path fill="#0fb" d="M708 1249l6 9-6 10-6-9zM721 1249l6 10-6 9-7-10z"/><path fill="#0fe" d="M727 1259l7 11-7 9-6-11zM714 1258l7 10-7 11-6-11z"/><path fill="#0ef" d="M721 1268l6 11-6 11-7-11z"/></g>
<circle cx="359.9" cy="569.6" r="1.6" fill="#b00c0c"/><circle cx="359.9" cy="575.5" r="1.6" fill="#b00c0c"/><circle cx="359.9" cy="578" r="1.6" fill="#b00c0c"/><circle cx="296.1" cy="624.2" r="1.5" fill="#f6dede" stroke="#c04848" stroke-width="0.5"/><circle cx="424.5" cy="612.5" r="1.6" fill="#b00c0c"/><circle cx="358.9" cy="645.8" r="1.6" fill="#b00c0c"/>
<!-- D3 -->
<g stroke="#777" stroke-width="0.9" fill="none"><polyline points="520.2,640.3 590.1,617 659.7,640.4"/><polyline points="519.5,622.5 590.2,601.1 660.4,622.7"/><polyline points="518.8,604.6 590.4,585.2 661.1,605"/><polyline points="518.1,586.8 590.5,569.3 661.9,587.3"/><polyline points="517.4,569 590.6,553.4 662.6,569.6"/><line x1="566.8" y1="624.8" x2="566.2" y2="558.6"/><line x1="543.5" y1="632.5" x2="541.8" y2="563.8"/><line x1="607.5" y1="622.9" x2="608.6" y2="557.5"/><line x1="624.9" y1="628.7" x2="626.6" y2="561.5"/><line x1="642.3" y1="634.6" x2="644.6" y2="565.5"/><line x1="521.1" y1="662.2" x2="517.4" y2="569"/><line x1="589.9" y1="636.6" x2="590.6" y2="553.4"/><line x1="658.8" y1="662.2" x2="662.6" y2="569.6"/></g>
<g stroke="#222" stroke-width="1"><line x1="518" y1="640.8" x2="520.2" y2="640.3"/><line x1="517.3" y1="623" x2="519.5" y2="622.5"/><line x1="516.6" y1="605.1" x2="518.8" y2="604.6"/><line x1="515.9" y1="587.3" x2="518.1" y2="586.8"/><line x1="515.2" y1="569.5" x2="517.4" y2="569"/></g>
<polygon points="589.9,636.6 521.1,662.2 590.6,694.9 658.8,662.2" fill="#646464" stroke="#444" stroke-width="0.6"/>
<g transform="scale(.5)" fill="none" stroke-width="2.0"><path d="M1206 1350l4 -2 4 -1 3 -1 3 -2 3 -2 3 -2 2 -1 2 -1 2 -2 1 -2 1 -1 1 -2 1 -1 1 -1 0 -2 1 -2 0 -1 0 -1 -1 -2 0 -1 -1 -2 -1 -1 -1 -2 -1 -1 -2 -1 -2 -1 -3 -2 -3 -1 -3 -2 -4 -1 -3 0 -4 -1 -4 -1 -3 0 -3 -1 -3 0 -4 0 -4 0 -3 0 -3 0 -4 0 -3 1 -3 0 -4 0 -4 1 -3 1 -3 0 -4 1 -3 1 -4 1 -4 2 -3 1 -3 1 -3 2 -2 1 -2 2 -2 1 -1 2 -1 1 -1 1 -1 2 -1 1 0 1 -1 2 0 2 0 1 0 1 1 2 0 1 1 2 1 1 1 2 3 2 1 1 2 1 3 2 4 2 4 1 2 1 4 1 4 1 3 0 4 1 3 0 3 0 4 1 3 0 4 0 2 -1 4 0 4 0 4 -1 3 0 3 -1 3 -1 5 -1 1 0" stroke="#ffff00"/><path d="M1222 1357l4 -2 3 -1 4 -2 3 -2 3 -1 2 -1 3 -2 2 -2 2 -1 2 -2 1 -1 2 -2 2 -2 1 -1 1 -2 1 -1 1 -1 0 -2 1 -2 0 -1 1 -1 0 -2 0 -1 0 -2 -1 -1 0 -2 -1 -1 0 -1 -1 -2 -1 -1 -1 -1 -1 -2 -2 -1 -2 -2 -2 -1 -3 -1 -2 -1 -3 -2 -3 -1 -4 -1 -3 -1 -4 -1 -3 -1 -3 0 -4 -1 -4 0 -3 -1 -3 0 -3 0 -4 0 -4 -1 -2 0 -5 0 -2 0 -4 1 -4 0 -3 0 -3 0 -4 1 -3 0 -4 0 -3 1 -3 0 -5 1 -3 1 -3 1 -4 1 -3 0 -3 1 -4 2 -3 1 -4 1 -3 2 -2 1 -3 1 -2 2 -2 1 -2 1 -2 2 -1 1 -2 2 -1 1 -1 1 -1 2 -1 1 -1 2 0 1 -1 1 0 2 0 1 0 2 0 1 0 2 0 1 1 2 1 1 0 2 1 2 2 1 1 2 1 1 2 1 3 2 1 2 3 1 3 2 3 1 2 1 4 2 4 1 3 1 3 1 5 1 3 0 3 1 4 1 3 0 3 0 4 0 3 1 3 0 4 0 4 -1 3 0 4 0 3 0 4 -1 3 0 3 -1 4 0 4 -1 3 -1 3 0 4 -2 3 0 4 -2 1 0" stroke="#99ff00"/><path d="M1217 1287l-3 0 -3 0 -4 -1 -4 0 -3 0 -4 0 -3 0 -4 0 -2 0 -5 0 -3 0 -3 1 -3 0 -4 0 -4 1 -3 0 -4 0 -3 1 -3 0 -3 1 -4 1 -4 0 -3 1 -4 1 -2 1 -4 1 -4 1 -3 1 -3 1 -4 1 -2 1 -3 2 -3 1 -3 1 -2 2 -2 1 -2 1 -2 1 -2 2 -2 2 -1 1 -1 1 -2 1 -1 2 -1 1 -1 2 -1 1 0 2 -1 1 0 1 -1 2 0 1 0 2 0 1 0 2 0 1 0 2 1 1 0 2 1 1 1 2 1 1" stroke="#33ff00"/><path d="M1145 1373l3 0 3 0 4 1 4 0 2 0 5 0 2 0 5 0 2 0 4 0 4 0 3 -1 3 0 3 0 4 -1 3 0 4 -1 3 -1 4 -1 4 0 3 -1 3 -1 4 -1 3 -1 4 -2 3 -1 4 -1 2 -2 4 -1 3 -2 2 -1 3 -2 3 -2 2 -1 3 -2 2 -1 2 -2 2 -1 1 -2 2 -1 1 -2 2 -2 1 -1 1 -2 1 -1 1 -1 0 -2 1 -2 1 -1 0 -1 0 -2 1 -2 0 -1 0 -2 -1 -1 0 -1 0 -2 0 -1 -1 -1 -1 -2 -1 -1 -1 -2" stroke="#33ff00"/><path d="M1192 1278l-4 0 -2 0 -4 0 -4 0 -3 1 -3 0 -4 0 -4 0 -1 1" stroke="#00ff99"/><path d="M1067 1315l-1 2 -1 1 -1 1 -1 2 -1 1 0 2 -1 1 0 1 0 2 -1 1 0 2 0 1 0 1" stroke="#00ff99"/><path d="M1293 1336l1 -1 1 -2 1 -1 0 -2 1 -2 1 -1 0 -1 1 -2 0 -1 0 -2 0 -1 0 -2 0 0" stroke="#00ff99"/><path d="M1170 1384l2 0 4 0 4 0 2 0 4 -1 4 0 3 0 4 -1 0 0" stroke="#00ff99"/><path d="M1047 1323l-1 1 0 2 0 0" stroke="#00ccff"/><path d="M1312 1327l1 -1 0 -2 1 -1" stroke="#00ccff"/></g>
<g transform="scale(.5)" stroke="#000" stroke-opacity="0.42" stroke-width="0.8" stroke-linejoin="round"><path fill="#0fc" d="M1181 1195l7-5-7-3-8 5z"/><path fill="#0fa" d="M1173 1192l8-5-8-3-7 5z"/><path fill="#0f9" d="M1188 1190l7-4-7-3-7 4z"/><path fill="#0f8" d="M1166 1189l7-5-7-2-7 5z"/><path fill="#0f7" d="M1181 1187l7-4-7-3-8 4zM1195 1186l7-3-7-4-7 4z"/><path fill="#0f6" d="M1159 1187l7-5-7-2-7 6z"/><path fill="#0f5" d="M1173 1184l8-4-8-2-7 4z"/><path fill="#0f4" d="M1188 1183l7-4-7-3-7 4zM1202 1183l7-3-7-4-7 3zM1152 1186l7-6-7-1-7 6z"/><path fill="#0f3" d="M1166 1182l7-4-7-2-7 4z"/><path fill="#0f2" d="M1209 1180l7-2-7-4-7 2zM1181 1180l7-4-7-2-8 4zM1195 1179l7-3-7-3-7 3zM1145 1185l7-6-7 0-7 5z"/><path fill="#0f1" d="M1159 1180l7-4-7-1-7 4z"/><path fill="#0f0" d="M1216 1178l7-2-7-3-7 1zM1173 1178l8-4-8-2-7 4z"/><path fill="#1f0" d="M1202 1176l7-2-7-3-7 2zM1188 1176l7-3-7-2-7 3z"/><path fill="#0f1" d="M1138 1184l7-5-7 0-7 5z"/><path fill="#1f0" d="M1152 1179l7-4-7-1-7 5zM1223 1176l7 0-7-4-7 1z"/><path fill="#2f0" d="M1166 1176l7-4-7-1-7 4z"/><path fill="#3f0" d="M1209 1174l7-1-7-3-7 1zM1181 1174l7-3-7-2-8 3zM1195 1173l7-2-7-3-7 3z"/><path fill="#0f0" d="M1131 1184l7-5-8 0-7 6z"/><path fill="#3f0" d="M1145 1179l7-5-7 0-7 5zM1230 1176l8 0-7-4-8 0z"/><path fill="#4f0" d="M1159 1175l7-4-7-1-7 4zM1216 1173l7-1-7-3-7 1z"/><path fill="#5f0" d="M1173 1172l8-3-8-2-7 4zM1202 1171l7-1-7-3-7 1z"/><path fill="#6f0" d="M1188 1171l7-3-7-2-7 3z"/><path fill="#1f0" d="M1123 1185l7-6-7 2-7 5z"/><path fill="#4f0" d="M1138 1179l7-5-7 1-8 4z"/><path fill="#3f0" d="M1238 1176l7 1-7-4-7-1z"/><path fill="#6f0" d="M1152 1174l7-4-7 0-7 4zM1223 1172l8 0-8-3-7 0z"/><path fill="#7f0" d="M1166 1171l7-4-7 0-7 3zM1209 1170l7-1-7-3-7 1z"/><path fill="#8f0" d="M1181 1169l7-3-8-1-7 2zM1195 1168l7-1-7-2-7 1z"/><path fill="#2f0" d="M1116 1186l7-5-7 2-7 5z"/><path fill="#5f0" d="M1130 1179l8-4-8 1-7 5z"/><path fill="#4f0" d="M1245 1177l7 2-7-4-7-2z"/><path fill="#7f0" d="M1145 1174l7-4-7 0-7 5z"/><path fill="#6f0" d="M1231 1172l7 1-7-3-8-1z"/><path fill="#9f0" d="M1159 1170l7-3-7 0-7 3z"/><path fill="#3f0" d="M1109 1188l7-5-7 2-7 6z"/><path fill="#8f0" d="M1216 1169l7 0-7-3-7 0z"/><path fill="#af0" d="M1173 1167l7-2-7-1-7 3zM1202 1167l7-1-7-2-7 1zM1188 1166l7-1-7-2-8 2z"/><path fill="#6f0" d="M1123 1181l7-5-7 2-7 5z"/><path fill="#4f0" d="M1252 1179l7 3-7-4-7-3z"/><path fill="#8f0" d="M1138 1175l7-5-8 2-7 4z"/><path fill="#7f0" d="M1238 1173l7 2-7-3-7-2z"/><path fill="#3f0" d="M1102 1191l7-6-7 3-7 6z"/><path fill="#af0" d="M1152 1170l7-3-7 0-7 3z"/><path fill="#9f0" d="M1223 1169l8 1-8-3-7-1z"/><path fill="#bf0" d="M1166 1167l7-3-7 0-7 3zM1209 1166l7 0-7-2-7 0z"/><path fill="#cf0" d="M1180 1165l8-2-8 0-7 1zM1195 1165l7-1-7-1-7 0z"/><path fill="#6f0" d="M1116 1183l7-5-7 2-7 5z"/><path fill="#3f0" d="M1259 1182l7 3-7-4-7-3z"/><path fill="#9f0" d="M1130 1176l7-4-7 1-7 5z"/><path fill="#7f0" d="M1245 1175l7 3-7-4-7-2z"/><path fill="#3f0" d="M1095 1194l7-6-7 4-7 6z"/><path fill="#bf0" d="M1145 1170l7-3-8 1-7 4z"/><path fill="#af0" d="M1231 1170l7 2-7-3-8-2z"/><path fill="#3f0" d="M1266 1185l7 5-7-4-7-5z"/><path fill="#df0" d="M1159 1167l7-3-7 0-7 3z"/><path fill="#cf0" d="M1216 1166l7 1-7-2-7-1z"/><path fill="#6f0" d="M1109 1185l7-5-7 3-7 5z"/><path fill="#ef0" d="M1173 1164l7-1-7-1-7 2z"/><path fill="#df0" d="M1202 1164l7 0-7-2-7 1z"/><path fill="#ef0" d="M1188 1163l7 0-7-1-8 1z"/><path fill="#2f0" d="M1088 1198l7-6-7 5-7 6z"/><path fill="#6f0" d="M1252 1178l7 3-7-3-7-4z"/><path fill="#9f0" d="M1123 1178l7-5-7 3-7 4z"/><path fill="#af0" d="M1238 1172l7 2-7-3-7-2z"/><path fill="#1f0" d="M1273 1190l7 5-7-4-7-5z"/><path fill="#cf0" d="M1137 1172l7-4-7 2-7 3z"/><path fill="#6f0" d="M1102 1188l7-5-7 4-7 5z"/><path fill="#cf0" d="M1223 1167l8 2-8-2-7-2z"/><path fill="#ef0" d="M1152 1167l7-3-7 1-8 3z"/><path fill="#2f0" d="M1081 1203l7-6-8 5-6 6z"/><path fill="#ef0" d="M1209 1164l7 1-7-2-7-1z"/><path fill="#ff0" d="M1166 1164l7-2-7 1-7 1z"/><path fill="#5f0" d="M1259 1181l7 5-7-4-7-4z"/><path fill="#ff0" d="M1195 1163l7-1-7-1-7 1zM1180 1163l8-1-8-1-7 1z"/><path fill="#9f0" d="M1116 1180l7-4-7 3-7 4z"/><path fill="#0f0" d="M1280 1195l7 6-7-4-7-6z"/><path fill="#9f0" d="M1245 1174l7 4-7-3-7-4z"/><path fill="#cf0" d="M1130 1173l7-3-7 2-7 4z"/><path fill="#6f0" d="M1095 1192l7-5-8 4-6 6z"/><path fill="#1f0" d="M1074 1208l6-6-7 6-6 6z"/><path fill="#cf0" d="M1231 1169l7 2-7-2-8-2z"/><path fill="#ef0" d="M1144 1168l8-3-8 2-7 3z"/><path fill="#4f0" d="M1266 1186l7 5-7-4-7-5z"/><path fill="#ef0" d="M1216 1165l7 2-7-2-7-2z"/><path fill="#fe0" d="M1159 1164l7-1-7 0-7 2z"/><path fill="#9f0" d="M1109 1183l7-4-7 3-7 5z"/><path fill="#0f2" d="M1287 1201l7 7-7-4-7-7z"/><path fill="#fe0" d="M1202 1162l7 1-7-1-7-1z"/><path fill="#fd0" d="M1173 1162l7-1-7 0-7 2zM1188 1162l7-1-8 0-7 0z"/><path fill="#8f0" d="M1252 1178l7 4-7-3-7-4z"/><path fill="#5f0" d="M1088 1197l6-6-7 5-7 6z"/><path fill="#cf0" d="M1123 1176l7-4-7 3-7 4z"/><path fill="#0f0" d="M1067 1214l6-6-7 6-6 6z"/><path fill="#2f0" d="M1273 1191l7 6-7-4-7-6z"/><path fill="#cf0" d="M1238 1171l7 4-7-3-7-3z"/><path fill="#0f4" d="M1294 1208l7 8-7-4-7-8z"/><path fill="#ff0" d="M1137 1170l7-3-7 2-7 3z"/><path fill="#9f0" d="M1102 1187l7-5-8 5-7 4z"/><path fill="#ef0" d="M1223 1167l8 2-8-2-7-2z"/><path fill="#fd0" d="M1152 1165l7-2-8 2-7 2z"/><path fill="#7f0" d="M1259 1182l7 5-7-3-7-5z"/><path fill="#fe0" d="M1209 1163l7 2-7-1-7-2z"/><path fill="#4f0" d="M1080 1202l7-6-7 6-7 6z"/><path fill="#fc0" d="M1166 1163l7-2-7 1-7 1z"/><path fill="#0f1" d="M1060 1220l6-6-7 7-6 6z"/><path fill="#fc0" d="M1195 1161l7 1-7 0-8-1zM1180 1161l7 0-7 0-7 0z"/><path fill="#cf0" d="M1116 1179l7-4-7 4-7 3z"/><path fill="#0f7" d="M1301 1216l6 9-6-4-7-9z"/><path fill="#0f0" d="M1280 1197l7 7-7-4-7-7z"/><path fill="#bf0" d="M1245 1175l7 4-7-2-7-5z"/><path fill="#ff0" d="M1130 1172l7-3-7 3-7 3z"/><path fill="#8f0" d="M1094 1191l7-4-7 5-7 4z"/><path fill="#ef0" d="M1231 1169l7 3-8-1-7-4z"/><path fill="#0f2" d="M1053 1227l6-6-6 8-7 6z"/><path fill="#3f0" d="M1073 1208l7-6-7 7-7 5z"/><path fill="#5f0" d="M1266 1187l7 6-7-3-7-6z"/><path fill="#0f9" d="M1307 1225l7 10-7-5-6-9z"/><path fill="#fd0" d="M1144 1167l7-2-7 2-7 2z"/><path fill="#0f2" d="M1287 1204l7 8-7-4-7-8z"/><path fill="#fe0" d="M1216 1165l7 2-7-1-7-2z"/><path fill="#fc0" d="M1159 1163l7-1-7 2-8 1z"/><path fill="#bf0" d="M1109 1182l7-3-8 4-7 4z"/><path fill="#fc0" d="M1202 1162l7 2-7-1-7-1z"/><path fill="#fb0" d="M1173 1161l7 0-7 1-7 0zM1187 1161l8 1-8 0-7-1z"/><path fill="#9f0" d="M1252 1179l7 5-7-2-7-5z"/><path fill="#0fa" d="M1314 1235l7 10-7-4-7-11z"/><path fill="#7f0" d="M1087 1196l7-4-7 6-7 4z"/><path fill="#0f2" d="M1046 1235l7-6-7 9-7 6z"/><path fill="#2f0" d="M1066 1214l7-5-7 7-7 5z"/><path fill="#ef0" d="M1123 1175l7-3-7 4-7 3z"/><path fill="#3f0" d="M1273 1193l7 7-7-3-7-7z"/><path fill="#0f4" d="M1294 1212l7 9-7-4-7-9z"/><path fill="#df0" d="M1238 1172l7 5-7-2-8-4z"/><path fill="#fd0" d="M1137 1169l7-2-7 3-7 2z"/><path fill="#fe0" d="M1223 1167l7 4-7-2-7-3z"/><path fill="#af0" d="M1101 1187l7-4-7 5-7 4z"/><path fill="#7f0" d="M1259 1184l7 6-7-2-7-6z"/><path fill="#fb0" d="M1151 1165l8-1-8 2-7 1z"/><path fill="#fc0" d="M1209 1164l7 2-7 0-7-3z"/><path fill="#0f7" d="M1301 1221l6 9-7-3-6-10z"/><path fill="#5f0" d="M1080 1202l7-4-7 6-7 5z"/><path fill="#0f0" d="M1059 1221l7-5-7 8-6 5z"/><path fill="#fa0" d="M1166 1162l7 0-7 2-7 0z"/><path fill="#0f0" d="M1280 1200l7 8-7-3-7-8z"/><path fill="#fb0" d="M1195 1162l7 1-7 0-8-1z"/><path fill="#fa0" d="M1180 1161l7 1-7 1-7-1z"/><path fill="#ef0" d="M1116 1179l7-3-7 4-8 3z"/><path fill="#bf0" d="M1245 1177l7 5-7-2-7-5z"/><path fill="#0f9" d="M1307 1230l7 11-7-4-7-10z"/><path fill="#9f0" d="M1094 1192l7-4-7 6-7 4z"/><path fill="#fe0" d="M1130 1172l7-2-7 4-7 2z"/><path fill="#5f0" d="M1266 1190l7 7-7-2-7-7z"/><path fill="#ff0" d="M1230 1171l8 4-8-1-7-5z"/><path fill="#0f1" d="M1053 1229l6-5-6 8-7 6z"/><path fill="#0f2" d="M1287 1208l7 9-7-3-7-9z"/><path fill="#4f0" d="M1073 1209l7-5-7 7-7 5z"/><path fill="#fb0" d="M1144 1167l7-1-7 3-7 1z"/><path fill="#fd0" d="M1216 1166l7 3-7 0-7-3z"/><path fill="#fa0" d="M1159 1164l7 0-8 2-7 0z"/><path fill="#df0" d="M1108 1183l8-3-8 5-7 3z"/><path fill="#fb0" d="M1202 1163l7 3-7 0-7-3z"/><path fill="#af0" d="M1252 1182l7 6-7-2-7-6z"/><path fill="#f90" d="M1173 1162l7 1-7 1-7 0z"/><path fill="#fa0" d="M1187 1162l8 1-8 1-7-1z"/><path fill="#0f5" d="M1294 1217l6 10-6-3-7-10z"/><path fill="#3f0" d="M1273 1197l7 8-7-2-7-8z"/><path fill="#8f0" d="M1087 1198l7-4-7 6-7 4z"/><path fill="#2f0" d="M1066 1216l7-5-7 8-7 5z"/><path fill="#fe0" d="M1123 1176l7-2-7 4-7 2z"/><path fill="#df0" d="M1238 1175l7 5-8-1-7-5z"/><path fill="#fc0" d="M1137 1170l7-1-7 3-7 2z"/><path fill="#fe0" d="M1223 1169l7 5-7-1-7-4z"/><path fill="#7f0" d="M1259 1188l7 7-7-2-7-7z"/><path fill="#0f8" d="M1300 1227l7 10-7-3-6-10z"/><path fill="#bf0" d="M1101 1188l7-3-7 6-7 3z"/><path fill="#0f0" d="M1280 1205l7 9-7-3-7-8z"/><path fill="#fa0" d="M1151 1166l7 0-7 2-7 1z"/><path fill="#fb0" d="M1209 1166l7 3-7 0-7-3z"/><path fill="#6f0" d="M1080 1204l7-4-7 7-7 4z"/><path fill="#1f0" d="M1059 1224l7-5-7 9-6 4z"/><path fill="#f90" d="M1166 1164l7 0-7 2-8 0z"/><path fill="#fa0" d="M1195 1163l7 3-8 0-7-2z"/><path fill="#f90" d="M1180 1163l7 1-7 1-7-1z"/><path fill="#bf0" d="M1245 1180l7 6-7-1-8-6z"/><path fill="#ff0" d="M1116 1180l7-2-8 5-7 2z"/><path fill="#5f0" d="M1266 1195l7 8-7-2-7-8z"/><path fill="#0f3" d="M1287 1214l7 10-7-3-7-10z"/><path fill="#af0" d="M1094 1194l7-3-7 6-7 3z"/><path fill="#ff0" d="M1230 1174l7 5-7-1-7-5z"/><path fill="#fd0" d="M1130 1174l7-2-7 5-7 1z"/><path fill="#4f0" d="M1073 1211l7-4-7 8-7 4z"/><path fill="#fc0" d="M1216 1169l7 4-7 0-7-4z"/><path fill="#fb0" d="M1144 1169l7-1-7 4-7 0z"/><path fill="#9f0" d="M1252 1186l7 7-7-2-7-6z"/><path fill="#fa0" d="M1202 1166l7 3-7 0-8-3z"/><path fill="#f90" d="M1158 1166l8 0-8 3-7-1z"/><path fill="#df0" d="M1108 1185l7-2-7 6-7 2z"/><path fill="#0f6" d="M1294 1224l6 10-7-2-6-11z"/><path fill="#f90" d="M1187 1164l7 2-7 2-7-3zM1173 1164l7 1-7 2-7-1z"/><path fill="#2f0" d="M1273 1203l7 8-7-1-7-9z"/><path fill="#8f0" d="M1087 1200l7-3-7 7-7 3z"/><path fill="#2f0" d="M1066 1219l7-4-7 9-7 4z"/><path fill="#df0" d="M1237 1179l8 6-8-1-7-6z"/><path fill="#fe0" d="M1123 1178l7-1-7 5-8 1z"/><path fill="#6f0" d="M1259 1193l7 8-7-2-7-8z"/><path fill="#fe0" d="M1223 1173l7 5-7 0-7-5z"/><path fill="#0f2" d="M1280 1211l7 10-7-2-7-9z"/><path fill="#fb0" d="M1137 1172l7 0-7 4-7 1z"/><path fill="#cf0" d="M1101 1191l7-2-7 6-7 2z"/><path fill="#fc0" d="M1209 1169l7 4-7 1-7-5z"/><path fill="#fa0" d="M1151 1168l7 1-7 3-7 0z"/><path fill="#6f0" d="M1080 1207l7-3-7 8-7 3z"/><path fill="#fa0" d="M1194 1166l8 3-8 2-7-3z"/><path fill="#f90" d="M1166 1166l7 1-7 3-8-1zM1180 1165l7 3-7 2-7-3z"/><path fill="#af0" d="M1245 1185l7 6-8 0-7-7z"/><path fill="#ff0" d="M1115 1183l8-1-8 5-7 2z"/><path fill="#0f5" d="M1287 1221l6 11-7-2-6-11z"/><path fill="#3f0" d="M1266 1201l7 9-7-2-7-9z"/><path fill="#ef0" d="M1230 1178l7 6-7 0-7-6z"/><path fill="#af0" d="M1094 1197l7-2-7 7-7 2z"/><path fill="#fd0" d="M1130 1177l7-1-7 5-7 1z"/><path fill="#4f0" d="M1073 1215l7-3-7 9-7 3z"/><path fill="#fd0" d="M1216 1173l7 5-7 1-7-5z"/><path fill="#8f0" d="M1252 1191l7 8-8 0-7-8z"/><path fill="#fb0" d="M1144 1172l7 0-7 4-7 0z"/><path fill="#0f0" d="M1273 1210l7 9-7-1-7-10z"/><path fill="#fb0" d="M1202 1169l7 5-8 1-7-4z"/><path fill="#fa0" d="M1158 1169l8 1-8 4-7-2z"/><path fill="#df0" d="M1108 1189l7-2-7 7-7 1z"/><path fill="#fa0" d="M1187 1168l7 3-7 2-7-3z"/><path fill="#f90" d="M1173 1167l7 3-7 2-7-2z"/><path fill="#cf0" d="M1237 1184l7 7-7 0-7-7z"/><path fill="#8f0" d="M1087 1204l7-2-7 8-7 2z"/><path fill="#fe0" d="M1123 1182l7-1-8 6-7 0z"/><path fill="#5f0" d="M1259 1199l7 9-8 0-7-9z"/><path fill="#0f3" d="M1280 1219l6 11-7-1-6-11z"/><path fill="#ff0" d="M1223 1178l7 6-7 0-7-5z"/><path fill="#fc0" d="M1137 1176l7 0-7 5-7 0z"/><path fill="#bf0" d="M1101 1195l7-1-7 7-7 1z"/><path fill="#fd0" d="M1209 1174l7 5-7 1-8-5z"/><path fill="#fb0" d="M1151 1172l7 2-7 4-7-2z"/><path fill="#5f0" d="M1080 1212l7-2-7 9-7 2z"/><path fill="#9f0" d="M1244 1191l7 8-7 0-7-8z"/><path fill="#fb0" d="M1194 1171l7 4-7 2-7-4z"/><path fill="#fa0" d="M1166 1170l7 2-8 4-7-2zM1180 1170l7 3-7 2-7-3z"/><path fill="#1f0" d="M1266 1208l7 10-8-1-7-9z"/><path fill="#ef0" d="M1115 1187l7 0-7 6-7 1z"/><path fill="#cf0" d="M1230 1184l7 7-7 0-7-7z"/><path fill="#9f0" d="M1094 1202l7-1-7 8-7 1z"/><path fill="#fe0" d="M1130 1181l7 0-7 6-8 0z"/><path fill="#6f0" d="M1251 1199l7 9-7 0-7-9z"/><path fill="#ff0" d="M1216 1179l7 5-7 2-7-6z"/><path fill="#0f2" d="M1273 1218l6 11-7-1-7-11z"/><path fill="#fc0" d="M1144 1176l7 2-7 5-7-2z"/><path fill="#fd0" d="M1201 1175l8 5-8 2-7-5z"/><path fill="#fb0" d="M1158 1174l7 2-7 4-7-2z"/><path fill="#cf0" d="M1108 1194l7-1-7 7-7 1z"/><path fill="#fb0" d="M1187 1173l7 4-7 2-7-4zM1173 1172l7 3-7 4-8-3z"/><path fill="#9f0" d="M1237 1191l7 8-7 0-7-8z"/><path fill="#6f0" d="M1087 1210l7-1-7 8-7 2z"/><path fill="#2f0" d="M1258 1208l7 9-7 0-7-9z"/><path fill="#ff0" d="M1122 1187l8 0-8 6-7 0z"/><path fill="#df0" d="M1223 1184l7 7-7 2-7-7z"/><path fill="#fd0" d="M1137 1181l7 2-7 5-7-1z"/><path fill="#af0" d="M1101 1201l7-1-7 8-7 1z"/><path fill="#ff0" d="M1209 1180l7 6-7 2-8-6z"/><path fill="#6f0" d="M1244 1199l7 9-7 0-7-9z"/><path fill="#fc0" d="M1151 1178l7 2-7 5-7-2z"/><path fill="#0f1" d="M1265 1217l7 11-7 0-7-11z"/><path fill="#fd0" d="M1194 1177l7 5-7 2-7-5z"/><path fill="#fc0" d="M1165 1176l8 3-8 4-7-3zM1180 1175l7 4-7 4-7-4z"/><path fill="#cf0" d="M1115 1193l7 0-7 7-7 0z"/><path fill="#af0" d="M1230 1191l7 8-7 2-7-8z"/><path fill="#7f0" d="M1094 1209l7-1-7 9-7 0z"/><path fill="#3f0" d="M1251 1208l7 9-7 1-7-10z"/><path fill="#ff0" d="M1130 1187l7 1-7 7-8-2z"/><path fill="#df0" d="M1216 1186l7 7-7 2-7-7z"/><path fill="#fe0" d="M1144 1183l7 2-7 5-7-2z"/><path fill="#ff0" d="M1201 1182l8 6-8 2-7-6z"/><path fill="#fd0" d="M1158 1180l7 3-7 5-7-3zM1187 1179l7 5-7 4-7-5z"/><path fill="#af0" d="M1108 1200l7 0-7 8-7 0z"/><path fill="#7f0" d="M1237 1199l7 9-7 1-7-8z"/><path fill="#fd0" d="M1173 1179l7 4-7 4-8-4z"/><path fill="#0f1" d="M1258 1217l7 11-7 1-7-11z"/><path fill="#df0" d="M1122 1193l8 2-8 7-7-2z"/><path fill="#af0" d="M1223 1193l7 8-7 2-7-8z"/><path fill="#ef0" d="M1137 1188l7 2-7 7-7-2z"/><path fill="#df0" d="M1209 1188l7 7-8 2-7-7z"/><path fill="#3f0" d="M1244 1208l7 10-7 1-7-10z"/><path fill="#7f0" d="M1101 1208l7 0-7 9-7 0z"/><path fill="#fe0" d="M1151 1185l7 3-7 5-7-3z"/><path fill="#ff0" d="M1194 1184l7 6-7 4-7-6z"/><path fill="#fe0" d="M1165 1183l8 4-8 5-7-4zM1180 1183l7 5-7 4-7-5z"/><path fill="#7f0" d="M1230 1201l7 8-7 3-7-9z"/><path fill="#af0" d="M1115 1200l7 2-7 8-7-2z"/><path fill="#0f1" d="M1251 1218l7 11-7 1-7-11z"/><path fill="#af0" d="M1216 1195l7 8-7 2-8-8z"/><path fill="#cf0" d="M1130 1195l7 2-7 7-8-2zM1201 1190l7 7-7 4-7-7z"/><path fill="#ef0" d="M1144 1190l7 3-7 7-7-3z"/><path fill="#3f0" d="M1237 1209l7 10-7 2-7-9z"/><path fill="#ef0" d="M1187 1188l7 6-7 4-7-6zM1158 1188l7 4-7 5-7-4z"/><path fill="#7f0" d="M1108 1208l7 2-7 8-7-1z"/><path fill="#ef0" d="M1173 1187l7 5-7 5-8-5z"/><path fill="#6f0" d="M1223 1203l7 9-7 2-7-9z"/><path fill="#af0" d="M1122 1202l8 2-7 8-8-2z"/><path fill="#0f1" d="M1244 1219l7 11-7 2-7-11z"/><path fill="#9f0" d="M1208 1197l8 8-8 4-7-8z"/><path fill="#bf0" d="M1137 1197l7 3-7 7-7-3zM1194 1194l7 7-7 4-7-7z"/><path fill="#cf0" d="M1151 1193l7 4-7 7-7-4zM1180 1192l7 6-7 5-7-6z"/><path fill="#df0" d="M1165 1192l8 5-8 5-7-5z"/><path fill="#3f0" d="M1230 1212l7 9-7 3-7-10z"/><path fill="#7f0" d="M1115 1210l8 2-8 8-7-2z"/><path fill="#6f0" d="M1216 1205l7 9-8 4-7-9z"/><path fill="#9f0" d="M1130 1204l7 3-7 8-7-3z"/><path fill="#8f0" d="M1201 1201l7 8-7 4-7-8z"/><path fill="#0f1" d="M1237 1221l7 11-7 3-7-11z"/><path fill="#af0" d="M1144 1200l7 4-7 7-7-4zM1187 1198l7 7-7 5-7-7z"/><path fill="#bf0" d="M1158 1197l7 5-7 7-7-5zM1173 1197l7 6-7 5-8-6z"/><path fill="#2f0" d="M1223 1214l7 10-7 4-8-10z"/><path fill="#6f0" d="M1123 1212l7 3-7 9-8-4z"/><path fill="#5f0" d="M1208 1209l7 9-7 4-7-9z"/><path fill="#8f0" d="M1137 1207l7 4-7 8-7-4z"/><path fill="#7f0" d="M1194 1205l7 8-7 5-7-8z"/><path fill="#9f0" d="M1151 1204l7 5-7 7-7-5z"/><path fill="#0f1" d="M1230 1224l7 11-7 4-7-11z"/><path fill="#8f0" d="M1180 1203l7 7-7 5-7-7z"/><path fill="#9f0" d="M1165 1202l8 6-8 7-7-6z"/><path fill="#1f0" d="M1215 1218l8 10-8 4-7-10z"/><path fill="#5f0" d="M1130 1215l7 4-7 9-7-4z"/><path fill="#4f0" d="M1201 1213l7 9-7 5-7-9z"/><path fill="#6f0" d="M1144 1211l7 5-7 8-7-5z"/><path fill="#5f0" d="M1187 1210l7 8-7 6-7-9z"/><path fill="#6f0" d="M1158 1209l7 6-7 7-7-6zM1173 1208l7 7-7 7-8-7z"/><path fill="#0f2" d="M1223 1228l7 11-8 4-7-11z"/><path fill="#0f0" d="M1208 1222l7 10-7 5-7-10z"/><path fill="#3f0" d="M1137 1219l7 5-7 9-7-5z"/><path fill="#2f0" d="M1194 1218l7 9-7 6-7-9z"/><path fill="#4f0" d="M1151 1216l7 6-7 8-7-6z"/><path fill="#3f0" d="M1180 1215l7 9-7 6-7-8z"/><path fill="#4f0" d="M1165 1215l8 7-8 7-7-7z"/><path fill="#0f3" d="M1215 1232l7 11-7 5-7-11z"/><path fill="#0f1" d="M1201 1227l7 10-7 6-7-10z"/><path fill="#1f0" d="M1144 1224l7 6-7 9-7-6z"/><path fill="#0f0" d="M1187 1224l7 9-7 6-7-9z"/><path fill="#2f0" d="M1158 1222l7 7-7 8-7-7z"/><path fill="#1f0" d="M1173 1222l7 8-7 7-8-8z"/><path fill="#0f5" d="M1208 1237l7 11-7 6-7-11z"/><path fill="#0f3" d="M1194 1233l7 10-7 6-7-10z"/><path fill="#0f2" d="M1180 1230l7 9-7 8-7-10z"/><path fill="#0f1" d="M1151 1230l7 7-7 9-7-7zM1165 1229l8 8-7 8-8-8z"/><path fill="#0f6" d="M1201 1243l7 11-7 7-7-12z"/><path fill="#0f5" d="M1187 1239l7 10-7 8-7-10z"/><path fill="#0f4" d="M1173 1237l7 10-7 8-7-10z"/><path fill="#0f3" d="M1158 1237l8 8-7 9-8-8z"/><path fill="#0f8" d="M1194 1249l7 12-7 7-7-11z"/><path fill="#0f7" d="M1180 1247l7 10-7 8-7-10z"/><path fill="#0f6" d="M1166 1245l7 10-7 9-7-10z"/><path fill="#0fa" d="M1187 1257l7 11-7 9-7-12z"/><path fill="#0f9" d="M1173 1255l7 10-7 9-7-10z"/><path fill="#0fc" d="M1180 1265l7 12-7 9-7-12z"/></g>
<circle cx="589.8" cy="570.8" r="1.6" fill="#b00c0c"/><circle cx="589.8" cy="577.8" r="1.6" fill="#b00c0c"/><circle cx="589.8" cy="580.3" r="1.6" fill="#b00c0c"/><circle cx="519.9" cy="622.9" r="1.6" fill="#b00c0c"/><circle cx="659.6" cy="625.4" r="1.5" fill="#f6dede" stroke="#c04848" stroke-width="0.5"/><circle cx="589.8" cy="646.5" r="1.5" fill="#f6dede" stroke="#c04848" stroke-width="0.5"/>
<text x="1.6" y="19.7" font-size="26">A</text>
<text x="1.2" y="202.8" font-size="26">B</text>
<text x="1.0" y="385.6" font-size="26">C</text>
<text x="0.2" y="565.6" font-size="26">D</text>
<text transform="translate(31.0,89.5) rotate(-90.0)" font-size="16" text-anchor="middle" dominant-baseline="central">Biomass (1×10<tspan font-size="8.5" dy="-5">10</tspan><tspan dy="5">CFU/mL)</tspan></text>
<text x="68.0" y="20.1" font-size="16" text-anchor="end" dominant-baseline="central">1.60</text>
<text x="69.8" y="53.2" font-size="16" text-anchor="end" dominant-baseline="central">1.35</text>
<text x="71.5" y="86.3" font-size="16" text-anchor="end" dominant-baseline="central">1.10</text>
<text transform="translate(62.9,112.5)" font-size="16" text-anchor="middle" dominant-baseline="central">120</text>
<text transform="translate(89.0,124.6)" font-size="16" text-anchor="middle" dominant-baseline="central">104</text>
<text transform="translate(110.7,132.9)" font-size="16" text-anchor="middle" dominant-baseline="central">88</text>
<text transform="translate(128.4,142.4)" font-size="16" text-anchor="middle" dominant-baseline="central">72</text>
<text transform="translate(89.4,146.2) rotate(22.0)" font-size="16.3" text-anchor="middle" dominant-baseline="central">B:Time (min)</text>
<text transform="translate(153.0,146.8) rotate(52.0)" font-size="16" text-anchor="middle" dominant-baseline="central">0.09</text>
<text transform="translate(182.9,130.8) rotate(52.0)" font-size="16" text-anchor="middle" dominant-baseline="central">0.12</text>
<text transform="translate(213.2,116.2) rotate(52.0)" font-size="16" text-anchor="middle" dominant-baseline="central">0.15</text>
<text transform="translate(194.6,151.6) rotate(-34.0)" font-size="16.3" text-anchor="middle" dominant-baseline="central">A:H<tspan font-size="10" dy="5.5" dx="0.5">2</tspan><tspan dy="-5.5" dx="0.3">O</tspan><tspan font-size="10" dy="5.5" dx="0.5">2</tspan><tspan dy="-5.5"> (mL)</tspan></text>
<text transform="translate(252.5,89.5) rotate(-90.0)" font-size="16" text-anchor="middle" dominant-baseline="central">Biomass (1×10<tspan font-size="8.5" dy="-5">10</tspan><tspan dy="5">CFU/mL)</tspan></text>
<text x="289.4" y="20.7" font-size="16" text-anchor="end" dominant-baseline="central">1.60</text>
<text x="290.7" y="53.6" font-size="16" text-anchor="end" dominant-baseline="central">1.35</text>
<text x="291.9" y="86.5" font-size="16" text-anchor="end" dominant-baseline="central">1.10</text>
<text transform="translate(282.0,110.2)" font-size="16" text-anchor="middle" dominant-baseline="central">100</text>
<text transform="translate(317.0,127.2)" font-size="16" text-anchor="middle" dominant-baseline="central">80</text>
<text transform="translate(350.6,142.3)" font-size="16" text-anchor="middle" dominant-baseline="central">60</text>
<text transform="translate(304.0,141.0) rotate(28.0)" font-size="16.3" text-anchor="middle" dominant-baseline="central">C:T (°C)</text>
<text transform="translate(372.1,145.1) rotate(52.0)" font-size="16" text-anchor="middle" dominant-baseline="central">0.09</text>
<text transform="translate(402.5,133.7) rotate(52.0)" font-size="16" text-anchor="middle" dominant-baseline="central">0.12</text>
<text transform="translate(434.6,115.5) rotate(52.0)" font-size="16" text-anchor="middle" dominant-baseline="central">0.15</text>
<text transform="translate(416.3,150.5) rotate(-34.0)" font-size="16.3" text-anchor="middle" dominant-baseline="central">A:H<tspan font-size="10" dy="5.5" dx="0.5">2</tspan><tspan dy="-5.5" dx="0.3">O</tspan><tspan font-size="10" dy="5.5" dx="0.5">2</tspan><tspan dy="-5.5"> (mL)</tspan></text>
<text transform="translate(469.3,89.5) rotate(-90.0)" font-size="16" text-anchor="middle" dominant-baseline="central">Biomass (1×10<tspan font-size="8.5" dy="-5">10</tspan><tspan dy="5">CFU/mL)</tspan></text>
<text x="504.8" y="22.8" font-size="16" text-anchor="end" dominant-baseline="central">1.60</text>
<text x="506.2" y="58.3" font-size="16" text-anchor="end" dominant-baseline="central">1.35</text>
<text x="507.6" y="93.7" font-size="16" text-anchor="end" dominant-baseline="central">1.10</text>
<text transform="translate(498.5,119.9)" font-size="16" text-anchor="middle" dominant-baseline="central">100</text>
<text transform="translate(537.8,137.9)" font-size="16" text-anchor="middle" dominant-baseline="central">80</text>
<text transform="translate(571.6,154.0)" font-size="16" text-anchor="middle" dominant-baseline="central">60</text>
<text transform="translate(525.8,152.4) rotate(29.0)" font-size="16.3" text-anchor="middle" dominant-baseline="central">C:T (°C)</text>
<text transform="translate(589.0,152.2)" font-size="16" text-anchor="middle" dominant-baseline="central">72</text>
<text transform="translate(607.5,144.5)" font-size="16" text-anchor="middle" dominant-baseline="central">88</text>
<text transform="translate(629.8,135.7)" font-size="16" text-anchor="middle" dominant-baseline="central">104</text>
<text transform="translate(656.5,125.6)" font-size="16" text-anchor="middle" dominant-baseline="central">120</text>
<text transform="translate(626.0,156.5) rotate(-22.0)" font-size="16.3" text-anchor="middle" dominant-baseline="central">B:Time (min)</text>
<text transform="translate(33.0,271.0) rotate(-90.0)" font-size="16" text-anchor="middle" dominant-baseline="central">Biomass (1×10<tspan font-size="8.5" dy="-5">10</tspan><tspan dy="5">CFU/mL)</tspan></text>
<text x="70.4" y="200.2" font-size="16" text-anchor="end" dominant-baseline="central">1.70</text>
<text x="71.9" y="233.9" font-size="16" text-anchor="end" dominant-baseline="central">1.40</text>
<text x="73.5" y="267.6" font-size="16" text-anchor="end" dominant-baseline="central">1.10</text>
<text transform="translate(65.3,294.9)" font-size="16" text-anchor="middle" dominant-baseline="central">120</text>
<text transform="translate(88.9,304.8)" font-size="16" text-anchor="middle" dominant-baseline="central">96</text>
<text transform="translate(108.2,314.3)" font-size="16" text-anchor="middle" dominant-baseline="central">72</text>
<text transform="translate(126.2,320.6)" font-size="16" text-anchor="middle" dominant-baseline="central">48</text>
<text transform="translate(94.0,326.7) rotate(23.0)" font-size="16.3" text-anchor="middle" dominant-baseline="central">B:Time (min)</text>
<text transform="translate(155.3,331.1) rotate(52.0)" font-size="16" text-anchor="middle" dominant-baseline="central">0.03</text>
<text transform="translate(184.5,315.0) rotate(52.0)" font-size="16" text-anchor="middle" dominant-baseline="central">0.06</text>
<text transform="translate(215.2,299.0) rotate(52.0)" font-size="16" text-anchor="middle" dominant-baseline="central">0.09</text>
<text transform="translate(198.4,334.0) rotate(-34.0)" font-size="16.3" text-anchor="middle" dominant-baseline="central">A:H<tspan font-size="10" dy="5.5" dx="0.5">2</tspan><tspan dy="-5.5" dx="0.3">O</tspan><tspan font-size="10" dy="5.5" dx="0.5">2</tspan><tspan dy="-5.5"> (mL)</tspan></text>
<text transform="translate(253.8,271.0) rotate(-90.0)" font-size="16" text-anchor="middle" dominant-baseline="central">Biomass (1×10<tspan font-size="8.5" dy="-5">10</tspan><tspan dy="5">CFU/mL)</tspan></text>
<text x="290.9" y="199.1" font-size="16" text-anchor="end" dominant-baseline="central">1.70</text>
<text x="292.3" y="232.4" font-size="16" text-anchor="end" dominant-baseline="central">1.40</text>
<text x="293.7" y="265.7" font-size="16" text-anchor="end" dominant-baseline="central">1.10</text>
<text transform="translate(286.4,290.0)" font-size="16" text-anchor="middle" dominant-baseline="central">80</text>
<text transform="translate(321.5,307.2)" font-size="16" text-anchor="middle" dominant-baseline="central">60</text>
<text transform="translate(351.0,321.8)" font-size="16" text-anchor="middle" dominant-baseline="central">40</text>
<text transform="translate(307.3,322.5) rotate(28.0)" font-size="16.3" text-anchor="middle" dominant-baseline="central">C:T (°C)</text>
<text transform="translate(372.6,326.2) rotate(52.0)" font-size="16" text-anchor="middle" dominant-baseline="central">0.03</text>
<text transform="translate(403.9,310.9) rotate(52.0)" font-size="16" text-anchor="middle" dominant-baseline="central">0.06</text>
<text transform="translate(434.6,297.0) rotate(52.0)" font-size="16" text-anchor="middle" dominant-baseline="central">0.09</text>
<text transform="translate(416.3,332.7) rotate(-34.0)" font-size="16.3" text-anchor="middle" dominant-baseline="central">A:H<tspan font-size="10" dy="5.5" dx="0.5">2</tspan><tspan dy="-5.5" dx="0.3">O</tspan><tspan font-size="10" dy="5.5" dx="0.5">2</tspan><tspan dy="-5.5"> (mL)</tspan></text>
<text transform="translate(472.2,271.0) rotate(-90.0)" font-size="16" text-anchor="middle" dominant-baseline="central">Biomass (1×10<tspan font-size="8.5" dy="-5">10</tspan><tspan dy="5">CFU/mL)</tspan></text>
<text x="506.6" y="203.6" font-size="16" text-anchor="end" dominant-baseline="central">1.70</text>
<text x="507.7" y="238.0" font-size="16" text-anchor="end" dominant-baseline="central">1.40</text>
<text x="508.9" y="272.4" font-size="16" text-anchor="end" dominant-baseline="central">1.10</text>
<text transform="translate(502.2,298.3)" font-size="16" text-anchor="middle" dominant-baseline="central">80</text>
<text transform="translate(538.6,315.2)" font-size="16" text-anchor="middle" dominant-baseline="central">60</text>
<text transform="translate(569.3,331.3)" font-size="16" text-anchor="middle" dominant-baseline="central">40</text>
<text transform="translate(525.0,329.7) rotate(29.0)" font-size="16.3" text-anchor="middle" dominant-baseline="central">C:T (°C)</text>
<text transform="translate(588.0,330.5)" font-size="16" text-anchor="middle" dominant-baseline="central">48</text>
<text transform="translate(606.9,324.4)" font-size="16" text-anchor="middle" dominant-baseline="central">72</text>
<text transform="translate(625.7,313.6)" font-size="16" text-anchor="middle" dominant-baseline="central">96</text>
<text transform="translate(649.0,303.0)" font-size="16" text-anchor="middle" dominant-baseline="central">120</text>
<text transform="translate(629.9,331.3) rotate(-22.0)" font-size="16.3" text-anchor="middle" dominant-baseline="central">B:Time (min)</text>
<text transform="translate(36.6,455.3) rotate(-90.0)" font-size="16" text-anchor="middle" dominant-baseline="central">Biomass (1×10<tspan font-size="8.5" dy="-5">10</tspan><tspan dy="5">CFU/mL)</tspan></text>
<text x="71.6" y="385.1" font-size="16" text-anchor="end" dominant-baseline="central">1.70</text>
<text x="72.7" y="419.0" font-size="16" text-anchor="end" dominant-baseline="central">1.40</text>
<text x="73.9" y="453.0" font-size="16" text-anchor="end" dominant-baseline="central">1.10</text>
<text transform="translate(64.8,480.6)" font-size="16" text-anchor="middle" dominant-baseline="central">120</text>
<text transform="translate(90.4,494.2)" font-size="16" text-anchor="middle" dominant-baseline="central">104</text>
<text transform="translate(113.8,504.5)" font-size="16" text-anchor="middle" dominant-baseline="central">88</text>
<text transform="translate(132.7,512.5)" font-size="16" text-anchor="middle" dominant-baseline="central">72</text>
<text transform="translate(92.6,513.9) rotate(23.0)" font-size="16.3" text-anchor="middle" dominant-baseline="central">B:Time (min)</text>
<text transform="translate(156.8,516.9) rotate(52.0)" font-size="16" text-anchor="middle" dominant-baseline="central">0.06</text>
<text transform="translate(187.5,500.8) rotate(52.0)" font-size="16" text-anchor="middle" dominant-baseline="central">0.09</text>
<text transform="translate(218.8,485.5) rotate(52.0)" font-size="16" text-anchor="middle" dominant-baseline="central">0.12</text>
<text transform="translate(202.7,519.8) rotate(-34.0)" font-size="16.3" text-anchor="middle" dominant-baseline="central">A:H<tspan font-size="10" dy="5.5" dx="0.5">2</tspan><tspan dy="-5.5" dx="0.3">O</tspan><tspan font-size="10" dy="5.5" dx="0.5">2</tspan><tspan dy="-5.5"> (mL)</tspan></text>
<text transform="translate(253.7,455.3) rotate(-90.0)" font-size="16" text-anchor="middle" dominant-baseline="central">Biomass (1×10<tspan font-size="8.5" dy="-5">10</tspan><tspan dy="5">CFU/mL)</tspan></text>
<text x="290.9" y="388.4" font-size="16" text-anchor="end" dominant-baseline="central">1.70</text>
<text x="292.1" y="421.5" font-size="16" text-anchor="end" dominant-baseline="central">1.40</text>
<text x="293.3" y="454.6" font-size="16" text-anchor="end" dominant-baseline="central">1.10</text>
<text transform="translate(289.3,479.6)" font-size="16" text-anchor="middle" dominant-baseline="central">80</text>
<text transform="translate(324.4,497.1)" font-size="16" text-anchor="middle" dominant-baseline="central">60</text>
<text transform="translate(353.3,513.6)" font-size="16" text-anchor="middle" dominant-baseline="central">40</text>
<text transform="translate(309.0,511.0) rotate(28.0)" font-size="16.3" text-anchor="middle" dominant-baseline="central">C:T (°C)</text>
<text transform="translate(374.0,517.5) rotate(52.0)" font-size="16" text-anchor="middle" dominant-baseline="central">0.06</text>
<text transform="translate(405.4,501.5) rotate(52.0)" font-size="16" text-anchor="middle" dominant-baseline="central">0.09</text>
<text transform="translate(436.0,485.5) rotate(52.0)" font-size="16" text-anchor="middle" dominant-baseline="central">0.12</text>
<text transform="translate(419.3,522.0) rotate(-34.0)" font-size="16.3" text-anchor="middle" dominant-baseline="central">A:H<tspan font-size="10" dy="5.5" dx="0.5">2</tspan><tspan dy="-5.5" dx="0.3">O</tspan><tspan font-size="10" dy="5.5" dx="0.5">2</tspan><tspan dy="-5.5"> (mL)</tspan></text>
<text transform="translate(473.1,455.3) rotate(-90.0)" font-size="16" text-anchor="middle" dominant-baseline="central">Biomass (1×10<tspan font-size="8.5" dy="-5">10</tspan><tspan dy="5">CFU/mL)</tspan></text>
<text x="510.9" y="388.1" font-size="16" text-anchor="end" dominant-baseline="central">1.70</text>
<text x="512.1" y="423.9" font-size="16" text-anchor="end" dominant-baseline="central">1.40</text>
<text x="513.3" y="459.8" font-size="16" text-anchor="end" dominant-baseline="central">1.10</text>
<text transform="translate(505.2,486.9)" font-size="16" text-anchor="middle" dominant-baseline="central">80</text>
<text transform="translate(540.2,506.8)" font-size="16" text-anchor="middle" dominant-baseline="central">60</text>
<text transform="translate(575.4,521.8)" font-size="16" text-anchor="middle" dominant-baseline="central">40</text>
<text transform="translate(525.6,518.3) rotate(29.0)" font-size="16.3" text-anchor="middle" dominant-baseline="central">C:T (°C)</text>
<text transform="translate(596.1,519.8)" font-size="16" text-anchor="middle" dominant-baseline="central">72</text>
<text transform="translate(615.3,511.4)" font-size="16" text-anchor="middle" dominant-baseline="central">88</text>
<text transform="translate(637.5,502.2)" font-size="16" text-anchor="middle" dominant-baseline="central">104</text>
<text transform="translate(665.8,491.5)" font-size="16" text-anchor="middle" dominant-baseline="central">120</text>
<text transform="translate(637.5,520.6) rotate(-22.0)" font-size="16.3" text-anchor="middle" dominant-baseline="central">B:Time (min)</text>
<text transform="translate(38.4,636.8) rotate(-90.0)" font-size="16" text-anchor="middle" dominant-baseline="central">Biomass (1×10<tspan font-size="8.5" dy="-5">10</tspan><tspan dy="5">CFU/mL)</tspan></text>
<text x="73.3" y="573.1" font-size="16" text-anchor="end" dominant-baseline="central">2.20</text>
<text x="74.6" y="605.0" font-size="16" text-anchor="end" dominant-baseline="central">1.85</text>
<text x="75.8" y="637.0" font-size="16" text-anchor="end" dominant-baseline="central">1.50</text>
<text transform="translate(67.8,662.0)" font-size="16" text-anchor="middle" dominant-baseline="central">120</text>
<text transform="translate(91.4,673.2)" font-size="16" text-anchor="middle" dominant-baseline="central">104</text>
<text transform="translate(110.8,681.5)" font-size="16" text-anchor="middle" dominant-baseline="central">88</text>
<text transform="translate(129.5,690.3)" font-size="16" text-anchor="middle" dominant-baseline="central">72</text>
<text transform="translate(91.8,691.8) rotate(23.0)" font-size="16.3" text-anchor="middle" dominant-baseline="central">B:Time (min)</text>
<text transform="translate(151.7,695.4) rotate(52.0)" font-size="16" text-anchor="middle" dominant-baseline="central">0.03</text>
<text transform="translate(182.4,680.8) rotate(52.0)" font-size="16" text-anchor="middle" dominant-baseline="central">0.06</text>
<text transform="translate(213.7,665.5) rotate(52.0)" font-size="16" text-anchor="middle" dominant-baseline="central">0.09</text>
<text transform="translate(197.7,697.6) rotate(-34.0)" font-size="16.3" text-anchor="middle" dominant-baseline="central">A:H<tspan font-size="10" dy="5.5" dx="0.5">2</tspan><tspan dy="-5.5" dx="0.3">O</tspan><tspan font-size="10" dy="5.5" dx="0.5">2</tspan><tspan dy="-5.5"> (mL)</tspan></text>
<text transform="translate(253.6,636.8) rotate(-90.0)" font-size="16" text-anchor="middle" dominant-baseline="central">Biomass (1×10<tspan font-size="8.5" dy="-5">10</tspan><tspan dy="5">CFU/mL)</tspan></text>
<text x="291.6" y="570.2" font-size="16" text-anchor="end" dominant-baseline="central">2.20</text>
<text x="292.9" y="602.6" font-size="16" text-anchor="end" dominant-baseline="central">1.85</text>
<text x="294.3" y="634.9" font-size="16" text-anchor="end" dominant-baseline="central">1.50</text>
<text transform="translate(288.2,659.0)" font-size="16" text-anchor="middle" dominant-baseline="central">80</text>
<text transform="translate(318.5,677.1)" font-size="16" text-anchor="middle" dominant-baseline="central">60</text>
<text transform="translate(350.6,691.2)" font-size="16" text-anchor="middle" dominant-baseline="central">40</text>
<text transform="translate(309.8,690.2) rotate(28.0)" font-size="16.3" text-anchor="middle" dominant-baseline="central">C:T (°C)</text>
<text transform="translate(371.8,693.2) rotate(52.0)" font-size="16" text-anchor="middle" dominant-baseline="central">0.03</text>
<text transform="translate(401.0,678.5) rotate(52.0)" font-size="16" text-anchor="middle" dominant-baseline="central">0.06</text>
<text transform="translate(431.7,664.0) rotate(52.0)" font-size="16" text-anchor="middle" dominant-baseline="central">0.09</text>
<text transform="translate(414.9,699.8) rotate(-34.0)" font-size="16.3" text-anchor="middle" dominant-baseline="central">A:H<tspan font-size="10" dy="5.5" dx="0.5">2</tspan><tspan dy="-5.5" dx="0.3">O</tspan><tspan font-size="10" dy="5.5" dx="0.5">2</tspan><tspan dy="-5.5"> (mL)</tspan></text>
<text transform="translate(476.6,636.8) rotate(-90.0)" font-size="16" text-anchor="middle" dominant-baseline="central">Biomass (1×10<tspan font-size="8.5" dy="-5">10</tspan><tspan dy="5">CFU/mL)</tspan></text>
<text x="514.6" y="571.6" font-size="16" text-anchor="end" dominant-baseline="central">2.20</text>
<text x="516.0" y="607.2" font-size="16" text-anchor="end" dominant-baseline="central">1.85</text>
<text x="517.4" y="642.9" font-size="16" text-anchor="end" dominant-baseline="central">1.50</text>
<text transform="translate(511.0,669.9)" font-size="16" text-anchor="middle" dominant-baseline="central">80</text>
<text transform="translate(546.3,688.4)" font-size="16" text-anchor="middle" dominant-baseline="central">60</text>
<text transform="translate(581.6,703.6)" font-size="16" text-anchor="middle" dominant-baseline="central">40</text>
<text transform="translate(533.3,699.8) rotate(29.0)" font-size="16.3" text-anchor="middle" dominant-baseline="central">C:T (°C)</text>
<text transform="translate(599.2,702.1)" font-size="16" text-anchor="middle" dominant-baseline="central">72</text>
<text transform="translate(617.6,692.6)" font-size="16" text-anchor="middle" dominant-baseline="central">88</text>
<text transform="translate(640.6,683.8)" font-size="16" text-anchor="middle" dominant-baseline="central">104</text>
<text transform="translate(667.4,673.0)" font-size="16" text-anchor="middle" dominant-baseline="central">120</text>
<text transform="translate(639.8,700.6) rotate(-22.0)" font-size="16.3" text-anchor="middle" dominant-baseline="central">B:Time (min)</text>
</svg></body></html>
